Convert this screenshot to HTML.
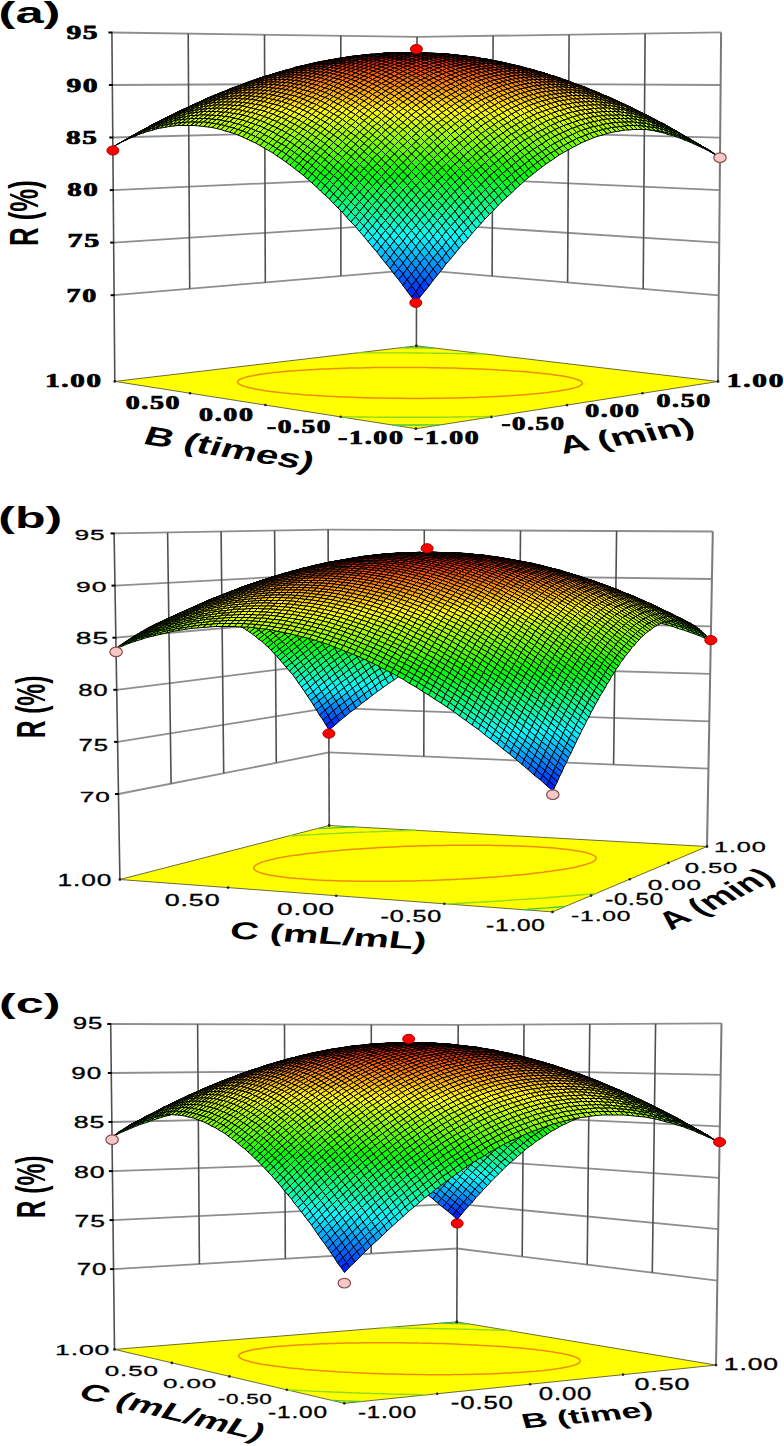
<!DOCTYPE html>
<html><head><meta charset="utf-8"><style>
html,body{margin:0;padding:0;background:#fff;}
svg{display:block;}
</style></head><body>
<svg width="784" height="1446" viewBox="0 0 784 1446">
<rect width="784" height="1446" fill="#fff"/>
<line x1="114.1" y1="295.2" x2="416.5" y2="269.6" stroke="#8e8e8e" stroke-width="1.8"/>
<line x1="416.5" y1="269.6" x2="718.8" y2="295.3" stroke="#8e8e8e" stroke-width="1.8"/>
<line x1="113.7" y1="242.6" x2="416.6" y2="223.1" stroke="#8e8e8e" stroke-width="1.8"/>
<line x1="416.6" y1="223.1" x2="719.2" y2="242.7" stroke="#8e8e8e" stroke-width="1.8"/>
<line x1="113.3" y1="190.1" x2="416.7" y2="176.5" stroke="#8e8e8e" stroke-width="1.8"/>
<line x1="416.7" y1="176.5" x2="719.7" y2="190.1" stroke="#8e8e8e" stroke-width="1.8"/>
<line x1="112.8" y1="137.5" x2="416.8" y2="130" stroke="#8e8e8e" stroke-width="1.8"/>
<line x1="416.8" y1="130" x2="720.2" y2="137.6" stroke="#8e8e8e" stroke-width="1.8"/>
<line x1="112.4" y1="85" x2="416.9" y2="83.4" stroke="#8e8e8e" stroke-width="1.8"/>
<line x1="416.9" y1="83.4" x2="720.7" y2="85" stroke="#8e8e8e" stroke-width="1.8"/>
<line x1="111.9" y1="32.5" x2="417" y2="36.9" stroke="#8e8e8e" stroke-width="1.8"/>
<line x1="417" y1="36.9" x2="721.1" y2="32.4" stroke="#8e8e8e" stroke-width="1.8"/>
<line x1="189.7" y1="288.8" x2="188.2" y2="33.6" stroke="#505050" stroke-width="1.6"/>
<line x1="643.2" y1="288.9" x2="645.1" y2="33.5" stroke="#505050" stroke-width="1.6"/>
<line x1="265.3" y1="282.4" x2="264.5" y2="34.7" stroke="#505050" stroke-width="1.6"/>
<line x1="567.6" y1="282.5" x2="569.1" y2="34.7" stroke="#505050" stroke-width="1.6"/>
<line x1="340.9" y1="276" x2="340.8" y2="35.8" stroke="#505050" stroke-width="1.6"/>
<line x1="492.1" y1="276" x2="493.1" y2="35.8" stroke="#505050" stroke-width="1.6"/>
<line x1="114.8" y1="381.4" x2="111.9" y2="32.5" stroke="#505050" stroke-width="1.6"/>
<line x1="416.4" y1="345.9" x2="417" y2="36.9" stroke="#505050" stroke-width="1.6"/>
<line x1="718" y1="381.5" x2="721.1" y2="32.4" stroke="#7a7a7a" stroke-width="2.0"/>
<line x1="110.6" y1="295.2" x2="114.6" y2="295.2" stroke="#000" stroke-width="2"/>
<line x1="110.2" y1="242.6" x2="114.2" y2="242.6" stroke="#000" stroke-width="2"/>
<line x1="109.8" y1="190.1" x2="113.8" y2="190.1" stroke="#000" stroke-width="2"/>
<line x1="109.3" y1="137.5" x2="113.3" y2="137.5" stroke="#000" stroke-width="2"/>
<line x1="108.9" y1="85" x2="112.9" y2="85" stroke="#000" stroke-width="2"/>
<line x1="108.4" y1="32.5" x2="112.4" y2="32.5" stroke="#000" stroke-width="2"/>
<polygon points="415.9,428.7 718,381.5 416.4,345.9 114.8,381.4" fill="#ffff00" stroke="#6b6b3a" stroke-width="1"/>
<path d="M440.2 424.9 440 424.9 434.2 424.9 433.9 424.9 428.3 424.9 427.7 424.9 422.4 425 421.5 425 416.5 425 415.4 425 410.6 425 409.3 425 404.6 425 403.2 425 398.6 425 397.2 425 392.5 425M433.7 348 429.5 348 427.1 347.9 424 347.9 420.6 347.9 418.3 347.9 414.1 347.8 412.6 347.8 407.8 347.8 406.9 347.8 401.5 347.7 401.1 347.7" stroke="#40c840" stroke-width="1.3" fill="none"/>
<path d="M494.6 416.4 494.3 416.4 488.9 416.5 487.8 416.5 483.4 416.6 481.1 416.6 477.9 416.7 474.5 416.8 472.4 416.8 467.9 416.9 466.8 416.9 461.4 417 461.2 417 455.6 417 454.9 417 449.9 417.1 448.5 417.1 444.1 417.2 442.2 417.2 438.3 417.2 435.9 417.2 432.5 417.2 429.6 417.3 426.7 417.3 423.4 417.3 420.8 417.3 417.3 417.3 414.8 417.3 411.2 417.3 408.8 417.3 405.2 417.3 402.8 417.3 399.2 417.3 396.7 417.3 393.2 417.3 390.5 417.3 387.3 417.2 384.4 417.2 381.5 417.2 378.1 417.2 375.7 417.1 371.8 417.1 369.9 417.1 365.5 417 364.2 417 359.1 417 358.5 417 352.8 416.9 352.6 416.9 347.2 416.8 346.1 416.8 341.6 416.7 339.5 416.6M484.9 354 481.3 354 477.3 353.9 476.3 353.8 471.2 353.7 469.8 353.7 466.1 353.6 462.5 353.6 460.9 353.6 455.7 353.5 455.3 353.5 450.4 353.4 448.3 353.4 445.1 353.3 441.4 353.3 439.7 353.2 434.6 353.2 434.3 353.2 428.8 353.1 428 353.1 423.2 353.1 421.4 353 417.6 353 415 353 411.8 353 408.7 353 406.1 352.9 402.4 352.9 400.2 352.9 396.3 352.9 394.3 352.9 390.2 352.9 388.2 352.9 384.2 352.9 382.1 352.9 378.3 352.9 375.9 352.9 372.5 352.9 369.6 352.9 366.7 352.9 363.2 352.9 361.1 352.9 356.8 352.9" stroke="#90dc10" stroke-width="1.4" fill="none"/>
<path d="M281.2 392.7 280.4 392.6 277 392.2 273.6 391.8 270.3 391.4 267.1 390.9 264 390.5 261.1 390 258.3 389.6 255.5 389.1 253 388.5 250.9 388.1 250.5 388 248.3 387.5 246.2 386.9 244.2 386.3 243.9 386.2 242.5 385.7 240.9 385.1 240.6 384.9 239.7 384.4 238.7 383.8 238.6 383.7 237.9 383 237.8 382.8 237.6 382.2 237.6 382 237.7 381.3 237.8 381.2 238.4 380.4 238.4 380.4 239.3 379.7 239.8 379.4 240.5 379.1 241.9 378.5 242.4 378.3 243.5 377.9 245.3 377.4 246.8 377 247.2 376.8 249.3 376.3 251.6 375.9 254 375.4 256.1 375 256.4 374.9 259.1 374.5 261.8 374.1 264.6 373.7 267.6 373.3 270.6 373 273.7 372.6 276.9 372.3 280.2 371.9 283.6 371.6 284 371.6 287.1 371.3 290.7 371 294.3 370.8 298.1 370.5 301.3 370.3 301.9 370.2 305.8 370 309.8 369.7 313.7 369.5 313.9 369.5 318 369.3 322.3 369.1 324.2 369 326.6 368.9 331 368.7 333.7 368.6 335.6 368.5 340.2 368.4 342.4 368.3 344.9 368.2 349.7 368.1 350.6 368.1 354.6 368 358.3 367.9 359.5 367.9 364.6 367.8 365.7 367.7 369.9 367.7 372.8 367.6 375.2 367.6 379.6 367.5 380.6 367.5 386.2 367.5 386.2 367.5 391.9 367.5 392.6 367.4 397.7 367.4 398.8 367.4 403.7 367.4 404.8 367.4 409.9 367.5 410.7 367.5 416.2 367.5 416.5 367.5 422.1 367.6 422.7 367.6 427.6 367.6 429.4 367.7 433 367.7 436.4 367.8 438.2 367.8 443.4 367.9 443.6 367.9 448.5 368 451.1 368.1 453.4 368.1 458.3 368.3 459 368.3 463.1 368.4 467.2 368.6 467.8 368.6 472.4 368.8 476 368.9 477 368.9 481.4 369.1 485.5 369.3 485.8 369.3 490.1 369.5 494.3 369.7 495.9 369.8 498.5 370 502.5 370.2 506.6 370.4 507.6 370.5 510.5 370.7 514.3 371 518.1 371.2 521.8 371.5 522.1 371.5 525.5 371.8 529 372.1 532.5 372.4 535.9 372.7 539.3 373.1 542.5 373.4 545.7 373.8 548.8 374.1 551.8 374.5 554.7 374.9 557.5 375.3 560.2 375.7 562.9 376.1 565.4 376.6 567.8 377 569.8 377.5 570 377.5 572.2 378 574.2 378.6 575.8 379 576 379.1 577.7 379.7 579.2 380.3 579.2 380.3 580.4 380.9 581 381.3 581.4 381.6 582.1 382.3 582.1 382.3 582.4 383.1 582.4 383.1 582.2 383.9 582.2 383.9 581.6 384.7 581.3 384.9 580.6 385.4 579.5 386 579.3 386.1 577.8 386.7 576 387.3 575.9 387.4 574.1 387.9 571.9 388.5 569.6 389 567.1 389.5 567.1 389.5 564.4 390 561.6 390.5 558.7 391 555.6 391.4 552.5 391.8 549.2 392.3 547.1 392.5 545.8 392.7 542.3 393 538.6 393.4 534.9 393.8 531.1 394.1 529.7 394.2 527.2 394.4 523.3 394.8 519.2 395.1 517.6 395.2 515 395.4 510.8 395.6 507.3 395.9 506.4 395.9 502 396.2 497.9 396.4 497.5 396.4 492.9 396.6 489.2 396.8 488.2 396.8 483.5 397 481 397.1 478.6 397.2 473.7 397.4 473.2 397.4 468.7 397.6 465.7 397.7 463.6 397.7 458.4 397.9 458.4 397.9 453.1 398 451.4 398 447.8 398.1 444.6 398.1 442.3 398.2 437.9 398.2 436.8 398.3 431.4 398.3 431.1 398.3 425.4 398.4 425.1 398.4 419.5 398.4 418.9 398.4 413.5 398.4 412.8 398.4 407.4 398.4 406.9 398.4 401.2 398.3 401.1 398.3 395.3 398.3 394.8 398.3 389.7 398.2 388.3 398.2 384.2 398.1 381.6 398.1 378.7 398 374.7 398 373.4 397.9 368.1 397.8 367.7 397.8 363 397.7 360.4 397.6 357.9 397.5 352.9 397.3 352.9 397.3 348 397.1 345 397 343.1 397 338.4 396.7 336.7 396.7 333.7 396.5 329.1 396.3 328 396.2 324.6 396.1 320.2 395.8 318.7 395.7 315.8 395.5 311.6 395.3 308.4 395 307.4 395 303.3 394.7 299.2 394.3 296.6 394.1 295.3 394 291.5 393.7 287.7 393.3 284 393 281.2 392.7" stroke="#f08c00" stroke-width="1.5" fill="none"/>
<circle cx="491.4" cy="416.9" r="1.3" fill="#222"/>
<circle cx="340.7" cy="416.8" r="1.3" fill="#222"/>
<circle cx="567" cy="405.1" r="1.3" fill="#222"/>
<circle cx="265.4" cy="405" r="1.3" fill="#222"/>
<circle cx="642.5" cy="393.3" r="1.3" fill="#222"/>
<circle cx="190.1" cy="393.2" r="1.3" fill="#222"/>
<circle cx="415.9" cy="428.7" r="1.4" fill="#222"/>
<circle cx="718" cy="381.5" r="1.4" fill="#222"/>
<circle cx="416.4" cy="345.9" r="1.4" fill="#222"/>
<circle cx="114.8" cy="381.4" r="1.4" fill="#222"/>
<g transform="scale(0.5 0.5)" stroke="#000" stroke-width="2" stroke-opacity="1" stroke-linejoin="round">
<path d="M1302 254l8 8-8-2-9-7z" fill="#86ff00"/>
<path d="M1293 253l9 7-9-1-9-8z" fill="#8cff00"/>
<path d="M1319 259l9 7-9-2-9-7z" fill="#80ff00"/>
<path d="M1310 257l9 7-9-2-8-8z" fill="#86ff00"/>
<path d="M1345 267l9 7-9-3-9-7z" fill="#6cff00"/>
<path d="M1336 264l9 7-9-2-8-8z" fill="#73ff00"/>
<path d="M1328 261l8 8-8-3-9-7z" fill="#79ff00"/>
<path d="M1362 274l9 7-9-4-8-7z" fill="#60ff00"/>
<path d="M1354 270l8 7-8-3-9-7z" fill="#66ff00"/>
<path d="M1380 281l8 7-8-4-9-6z" fill="#53ff00"/>
<path d="M1371 278l9 6-9-3-9-7z" fill="#59ff00"/>
<path d="M1406 294l8 6-8-4-9-6z" fill="#33ff00"/>
<path d="M1397 290l9 6-9-4-9-7z" fill="#40ff00"/>
<path d="M1388 285l9 7-9-4-8-7z" fill="#46ff00"/>
<path d="M1380 279l8 6-8-4-9-6z" fill="#59ff00"/>
<path d="M1371 275l9 6-9-3-9-7z" fill="#60ff00"/>
<path d="M1362 271l9 7-9-4-8-7z" fill="#66ff00"/>
<path d="M1423 304l8 6-8-5-9-6z" fill="#20ff00"/>
<path d="M1414 299l9 6-9-5-8-6z" fill="#2dff00"/>
<path d="M1397 288l9 6-9-4-9-6z" fill="#46ff00"/>
<path d="M1388 284l9 6-9-5-8-6z" fill="#4cff00"/>
<path d="M1431 309l9 6-9-5-8-6z" fill="#13ff00"/>
<path d="M1423 303l8 6-8-5-9-6z" fill="#26ff00"/>
<path d="M1414 298l9 6-9-5-9-6z" fill="#2dff00"/>
<path d="M1405 293l9 6-8-5-9-6z" fill="#39ff00"/>
<path d="M234 289l9-5-9 5-8 5z" fill="#46ff00"/>
<path d="M252 279l8-5-8 5-9 5z" fill="#60ff00"/>
<path d="M260 274l9-5-9 5-8 5z" fill="#66ff00"/>
<path d="M278 264l8-4-8 4-9 5z" fill="#80ff00"/>
<path d="M303 250l9-4-8 4-9 5z" fill="#9fff00"/>
<path d="M329 237l9-4-9 4-8 4z" fill="#bfff00"/>
<path d="M1414 298l9 5-9-5-9-5z" fill="#33ff00"/>
<path d="M243 284l9-5-9 5-9 5z" fill="#53ff00"/>
<path d="M260 275l9-5-9 4-8 5z" fill="#66ff00"/>
<path d="M269 270l9-6-9 5-9 5z" fill="#73ff00"/>
<path d="M286 260l9-5-9 5-8 4z" fill="#8cff00"/>
<path d="M295 255l8-5-8 5-9 5z" fill="#93ff00"/>
<path d="M312 246l9-5-9 5-9 4z" fill="#acff00"/>
<path d="M338 233l9-5-9 5-9 4z" fill="#ccff00"/>
<path d="M355 224l9-4-9 4-8 4z" fill="#dfff00"/>
<path d="M1405 293l9 5-9-5-8-5z" fill="#40ff00"/>
<path d="M1397 288l8 5-8-5-9-5z" fill="#4cff00"/>
<path d="M1388 283l9 5-9-5-8-5z" fill="#59ff00"/>
<path d="M252 280l8-5-8 4-9 5z" fill="#60ff00"/>
<path d="M1380 278l8 5-8-5-9-5zM260 276l9-5-9 4-8 5z" fill="#66ff00"/>
<path d="M269 271l9-6-9 5-9 5z" fill="#73ff00"/>
<path d="M1362 268l9 5-9-5-8-5z" fill="#79ff00"/>
<path d="M278 265l8-5-8 4-9 6z" fill="#80ff00"/>
<path d="M1354 263l8 5-8-5-9-5z" fill="#86ff00"/>
<path d="M286 261l9-5-9 4-8 5z" fill="#8cff00"/>
<path d="M295 256l8-5-8 4-9 5z" fill="#99ff00"/>
<path d="M303 251l9-5-9 4-8 5zM1336 253l9 5-9-5-8-5z" fill="#9fff00"/>
<path d="M1328 248l8 5-8-4-9-5z" fill="#a6ff00"/>
<path d="M312 247l9-5-9 4-9 5z" fill="#acff00"/>
<path d="M321 242l8-5-8 4-9 5z" fill="#b9ff00"/>
<path d="M329 237l9-4-9 4-8 4z" fill="#bfff00"/>
<path d="M338 233l9-4-9 4-9 4z" fill="#ccff00"/>
<path d="M347 229l8-5-8 4-9 5z" fill="#d9ff00"/>
<path d="M364 220l9-4-9 4-9 4z" fill="#ecff00"/>
<path d="M373 216l8-4-8 4-9 4z" fill="#f2ff00"/>
<path d="M433 189l9-4-9 4-8 3z" fill="#ffcc00"/>
<path d="M416 196l9-4-9 4-9 4z" fill="#ffdf00"/>
<path d="M407 200l9-4-9 4-8 4z" fill="#ffe500"/>
<path d="M399 204l8-4-8 4-9 4z" fill="#ffec00"/>
<path d="M390 208l9-4-9 4-9 4z" fill="#fff900"/>
<path d="M1397 289l8 4-8-5-9-5z" fill="#4cff00"/>
<path d="M1379 279l9 4-8-5-9-5z" fill="#66ff00"/>
<path d="M1371 273l9 5-9-5-9-5zM269 273l9-6-9 4-9 5z" fill="#73ff00"/>
<path d="M278 267l8-6-8 4-9 6z" fill="#80ff00"/>
<path d="M1354 264l8 4-8-5-9-5z" fill="#86ff00"/>
<path d="M1345 258l9 5-9-5-9-5zM295 258l8-6-8 4-9 5z" fill="#93ff00"/>
<path d="M303 252l9-5-9 4-8 5z" fill="#9fff00"/>
<path d="M1328 249l8 4-8-5-9-4z" fill="#a6ff00"/>
<path d="M312 249l9-5-9 3-9 5z" fill="#acff00"/>
<path d="M1319 244l9 4-9-4-9-5zM321 244l8-6-8 4-9 5z" fill="#b3ff00"/>
<path d="M329 238l9-5-9 4-8 5z" fill="#bfff00"/>
<path d="M1302 235l8 4-8-4-9-5zM338 235l9-5-9 3-9 5z" fill="#ccff00"/>
<path d="M1293 230l9 5-9-5-9-4zM347 230l8-5-8 4-9 4z" fill="#d2ff00"/>
<path d="M355 225l9-5-9 4-8 5z" fill="#dfff00"/>
<path d="M364 222l9-5-9 3-9 5z" fill="#ecff00"/>
<path d="M1267 217l9 5-9-4-9-5zM373 217l8-5-8 4-9 4z" fill="#f2ff00"/>
<path d="M546 148l9-3-9 3-9 3z" fill="#ff6600"/>
<path d="M529 153l8-2-8 2-9 3z" fill="#ff7300"/>
<path d="M503 162l8-3-8 3-9 3z" fill="#ff8c00"/>
<path d="M485 169l9-4-9 3-8 4z" fill="#ff9900"/>
<path d="M468 175l9-3-9 3-9 3z" fill="#ffa600"/>
<path d="M459 179l9-4-9 3-8 4z" fill="#ffb300"/>
<path d="M451 182l8-4-8 4-9 3z" fill="#ffb900"/>
<path d="M442 186l9-4-9 3-9 4z" fill="#ffbf00"/>
<path d="M425 193l8-4-8 3-9 4z" fill="#ffd200"/>
<path d="M416 197l9-4-9 3-9 4z" fill="#ffd900"/>
<path d="M1232 201l9 4-9-4-8-4z" fill="#ffe500"/>
<path d="M399 205l8-5-8 4-9 4z" fill="#ffec00"/>
<path d="M390 209l9-4-9 3-9 4z" fill="#fff900"/>
<path d="M381 212l9-4-9 4-8 4zM1258 213l9 4-9-4-8-4z" fill="#ffff00"/>
<path d="M1388 285l9 4-9-6-9-4z" fill="#59ff00"/>
<path d="M1379 281l9 4-9-6-8-4z" fill="#60ff00"/>
<path d="M1371 275l8 4-8-6-9-4z" fill="#6cff00"/>
<path d="M1362 269l9 4-9-5-8-4zM277 269l9-6-8 4-9 6z" fill="#79ff00"/>
<path d="M286 263l9-5-9 3-8 6zM1354 265l8 4-8-5-9-4z" fill="#86ff00"/>
<path d="M1345 260l9 4-9-6-9-4zM295 260l8-6-8 4-9 5z" fill="#93ff00"/>
<path d="M1336 254l9 4-9-5-8-4zM303 254l9-5-9 3-8 6z" fill="#9fff00"/>
<path d="M1328 250l8 4-8-5-9-4z" fill="#a6ff00"/>
<path d="M1319 245l9 4-9-5-9-4zM321 246l8-6-8 4-9 5z" fill="#b3ff00"/>
<path d="M1310 240l9 4-9-5-8-4zM329 240l9-5-9 3-8 6z" fill="#bfff00"/>
<path d="M1302 236l8 4-8-5-9-4z" fill="#c6ff00"/>
<path d="M1293 231l9 4-9-5-9-4zM347 232l8-5-8 3-9 5z" fill="#d2ff00"/>
<path d="M1284 226l9 4-9-4-8-4zM355 227l9-5-9 3-8 5z" fill="#dfff00"/>
<path d="M1276 223l8 3-8-4-9-4z" fill="#e5ff00"/>
<path d="M1267 218l9 4-9-5-9-4zM373 219l8-5-8 3-9 5z" fill="#f2ff00"/>
<path d="M633 125l9-2-9 2-9 2z" fill="#ff3300"/>
<path d="M616 129l8-2-8 2-9 2z" fill="#ff3900"/>
<path d="M598 133l9-2-9 2-9 2z" fill="#ff4600"/>
<path d="M572 141l9-3-9 2-9 3z" fill="#ff5300"/>
<path d="M563 143l9-3-9 3-8 2z" fill="#ff5900"/>
<path d="M555 146l8-3-8 2-9 3z" fill="#ff6000"/>
<path d="M1094 148l8 3-8-3-9-3z" fill="#ff6600"/>
<path d="M537 151l9-3-9 3-8 2z" fill="#ff6c00"/>
<path d="M1111 153l9 3-9-2-9-3zM529 154l8-3-8 2-9 3z" fill="#ff7300"/>
<path d="M520 156l9-3-9 3-9 3z" fill="#ff7900"/>
<path d="M511 160l9-4-9 3-8 3z" fill="#ff8600"/>
<path d="M1137 162l9 4-9-3-9-4z" fill="#ff8c00"/>
<path d="M494 166l9-4-9 3-9 4z" fill="#ff9300"/>
<path d="M485 170l9-4-9 3-8 3z" fill="#ff9900"/>
<path d="M477 172l8-3-8 3-9 3zM1163 172l9 3-9-3-9-3z" fill="#ff9f00"/>
<path d="M468 176l9-4-9 3-9 4z" fill="#ffa600"/>
<path d="M1180 179l9 3-9-3-8-4z" fill="#ffb300"/>
<path d="M451 183l8-4-8 3-9 4z" fill="#ffb900"/>
<path d="M1198 186l8 4-8-4-9-4zM442 187l9-4-9 3-9 4z" fill="#ffbf00"/>
<path d="M433 190l9-4-9 3-8 4zM1206 190l9 3-9-3-8-4z" fill="#ffcc00"/>
<path d="M1215 193l9 4-9-4-9-3zM425 194l8-4-8 3-9 4z" fill="#ffd200"/>
<path d="M1224 198l8 3-8-4-9-4zM416 198l9-4-9 3-9 4z" fill="#ffdf00"/>
<path d="M407 201l9-4-9 3-8 5zM1232 202l9 3-9-4-8-3z" fill="#ffe500"/>
<path d="M1241 205l9 4-9-4-9-4z" fill="#ffec00"/>
<path d="M399 206l8-5-8 4-9 4z" fill="#fff200"/>
<path d="M1250 210l8 3-8-4-9-4zM390 211l9-5-9 3-9 5z" fill="#fff900"/>
<path d="M381 214l9-5-9 3-8 5z" fill="#ffff00"/>
<path d="M1371 277l8 4-8-6-9-4z" fill="#6cff00"/>
<path d="M1362 271l9 4-9-6-8-4z" fill="#79ff00"/>
<path d="M286 266l9-6-9 3-9 6z" fill="#86ff00"/>
<path d="M295 263l8-6-8 3-9 6z" fill="#8cff00"/>
<path d="M1345 262l9 3-9-5-9-4z" fill="#93ff00"/>
<path d="M1336 256l9 4-9-6-8-4zM303 257l9-6-9 3-8 6z" fill="#99ff00"/>
<path d="M312 251l9-5-9 3-9 5z" fill="#a6ff00"/>
<path d="M321 249l8-6-8 3-9 5z" fill="#acff00"/>
<path d="M1319 247l9 3-9-5-9-4z" fill="#b3ff00"/>
<path d="M329 243l9-6-9 3-8 6z" fill="#b9ff00"/>
<path d="M1310 241l9 4-9-5-8-4z" fill="#bfff00"/>
<path d="M338 237l9-5-9 3-9 5z" fill="#c6ff00"/>
<path d="M347 235l8-6-8 3-9 5z" fill="#ccff00"/>
<path d="M1293 233l9 3-9-5-9-3z" fill="#d2ff00"/>
<path d="M355 229l9-5-9 3-8 5z" fill="#d9ff00"/>
<path d="M1284 228l9 3-9-5-8-3z" fill="#dfff00"/>
<path d="M364 224l9-5-9 3-9 5zM1276 224l8 4-8-5-9-4z" fill="#e5ff00"/>
<path d="M373 221l8-5-8 3-9 5z" fill="#ecff00"/>
<path d="M1267 219l9 4-9-5-9-4z" fill="#f2ff00"/>
<path d="M1258 214l9 4-9-5-8-3zM381 216l9-5-9 3-8 5z" fill="#f9ff00"/>
<path d="M789 106l9-1-9 1-8 0z" fill="#ff0000"/>
<path d="M894 108l8 1-8-1-9-1zM772 106l9 0-9 0-9 1z" fill="#ff0600"/>
<path d="M720 111l9-1-9 1-9 1zM737 109l9-1-9 1-8 1zM911 110l9 1-9-1-9-1z" fill="#ff0d00"/>
<path d="M702 113l9-1-9 1-8 1zM946 114l9 1-9-1-9-1zM929 112l8 1-8-1-9-1z" fill="#ff1300"/>
<path d="M685 116l9-2-9 2-9 1zM963 117l9 1-9-1-8-2zM694 115l8-2-8 1-9 2zM955 116l8 1-8-2-9-1z" fill="#ff1a00"/>
<path d="M668 119l8-2-8 1-9 2zM676 117l9-1-9 1-8 2zM972 118l9 2-9-2-9-1z" fill="#ff2000"/>
<path d="M650 122l9-2-9 2-8 1zM659 120l9-1-9 1-9 2zM989 122l9 1-9-2-8-1z" fill="#ff2600"/>
<path d="M642 124l8-2-8 1-9 2z" fill="#ff2d00"/>
<path d="M624 128l9-3-9 2-8 2zM1007 125l8 2-8-2-9-2z" fill="#ff3300"/>
<path d="M615 130l9-2-8 1-9 3z" fill="#ff3900"/>
<path d="M607 132l9-3-9 2-9 2zM1033 131l9 2-9-2-9-2z" fill="#ff4000"/>
<path d="M598 134l9-2-9 1-9 3zM1050 136l9 2-9-3-8-2z" fill="#ff4600"/>
<path d="M589 136l9-3-9 2-8 3z" fill="#ff4c00"/>
<path d="M581 139l8-3-8 2-9 3zM1068 140l8 3-8-3-9-2z" fill="#ff5300"/>
<path d="M563 143l9-2-9 2-8 3z" fill="#ff5900"/>
<path d="M1085 145l9 3-9-3-9-2zM555 147l8-4-8 3-9 3z" fill="#ff6000"/>
<path d="M546 149l9-3-9 2-9 3zM1094 148l8 3-8-3-9-3z" fill="#ff6600"/>
<path d="M1102 151l9 2-9-2-8-3zM537 152l9-3-9 2-8 3z" fill="#ff6c00"/>
<path d="M1111 154l9 2-9-3-9-2z" fill="#ff7300"/>
<path d="M520 157l9-3-9 2-9 4z" fill="#ff7900"/>
<path d="M1128 160l9 2-9-3-8-3z" fill="#ff8000"/>
<path d="M511 161l9-4-9 3-8 3z" fill="#ff8600"/>
<path d="M503 163l8-3-8 2-9 4zM1137 163l9 3-9-4-9-2z" fill="#ff8c00"/>
<path d="M1146 166l8 3-8-3-9-4zM494 167l9-4-9 3-9 4z" fill="#ff9300"/>
<path d="M1154 169l9 3-9-3-8-3z" fill="#ff9900"/>
<path d="M477 173l8-3-8 2-9 4z" fill="#ff9f00"/>
<path d="M1172 176l8 3-8-4-9-3z" fill="#ffa600"/>
<path d="M468 178l9-5-9 3-9 4z" fill="#ffac00"/>
<path d="M459 180l9-4-9 3-8 4zM1180 180l9 3-9-4-8-3z" fill="#ffb300"/>
<path d="M1189 183l9 3-9-4-9-3zM451 184l8-4-8 3-9 4z" fill="#ffb900"/>
<path d="M1198 187l8 3-8-4-9-3z" fill="#ffbf00"/>
<path d="M442 189l9-5-9 3-9 4z" fill="#ffc600"/>
<path d="M433 191l9-4-9 3-8 4z" fill="#ffcc00"/>
<path d="M1215 194l9 4-9-5-9-3z" fill="#ffd200"/>
<path d="M425 196l8-5-8 3-9 4z" fill="#ffd900"/>
<path d="M1224 199l8 3-8-4-9-4z" fill="#ffdf00"/>
<path d="M407 203l9-5-9 3-8 5z" fill="#ffe500"/>
<path d="M1241 206l9 4-9-5-9-3zM399 208l8-5-8 3-9 5z" fill="#fff200"/>
<path d="M1250 211l8 3-8-4-9-4z" fill="#fff900"/>
<path d="M1362 274l9 3-9-6-9-3z" fill="#73ff00"/>
<path d="M1353 268l9 3-8-6-9-3z" fill="#86ff00"/>
<path d="M1345 265l8 3-8-6-9-4z" fill="#8cff00"/>
<path d="M303 261l9-6-9 2-8 6z" fill="#93ff00"/>
<path d="M1336 258l9 4-9-6-8-3z" fill="#99ff00"/>
<path d="M312 255l9-6-9 2-9 6z" fill="#9fff00"/>
<path d="M1328 253l8 3-8-6-9-3z" fill="#a6ff00"/>
<path d="M1319 250l9 3-9-6-9-3z" fill="#acff00"/>
<path d="M1310 244l9 3-9-6-8-3zM329 246l9-6-9 3-8 6z" fill="#b9ff00"/>
<path d="M1302 238l8 3-8-5-9-3zM338 240l9-5-9 2-9 6z" fill="#c6ff00"/>
<path d="M1293 235l9 3-9-5-9-3z" fill="#ccff00"/>
<path d="M1284 230l9 3-9-5-8-4zM355 232l9-6-9 3-8 6z" fill="#d9ff00"/>
<path d="M364 226l9-5-9 3-9 5z" fill="#e5ff00"/>
<path d="M1267 221l9 3-9-5-9-3zM373 224l8-5-8 2-9 5z" fill="#ecff00"/>
<path d="M381 219l9-6-9 3-8 5z" fill="#f2ff00"/>
<path d="M1258 216l9 3-9-5-8-3z" fill="#f9ff00"/>
<path d="M781 106l8 0-8 0-9 0zM868 107l8 0-8-1-9 0zM798 106l9-1-9 0-9 1zM850 106l9 0-9-1-8 0zM833 105l9 0-9 0-9 0zM789 106l9 0-9 0-8 0zM859 107l9 0-9-1-9 0zM807 106l8-1-8 0-9 1zM842 106l8 0-8-1-9 0zM824 106l9-1-9 0-9 0z" fill="#ff0000"/>
<path d="M746 109l9-1-9 0-9 1zM902 109l9 1-9-1-8-1zM763 107l9-1-9 1-8 1zM885 108l9 0-9-1-9 0zM755 108l8-1-8 1-9 1zM894 109l8 0-8-1-9 0zM772 107l9-1-9 0-9 1zM876 107l9 1-9-1-8 0z" fill="#ff0600"/>
<path d="M728 110l9-1-8 1-9 1zM920 111l9 1-9-1-9-1zM720 112l8-2-8 1-9 1zM737 110l9-1-9 0-9 1zM911 110l9 1-9-1-9-1z" fill="#ff0d00"/>
<path d="M711 112l9-1-9 1-9 1zM937 113l9 1-9-1-8-1zM702 114l9-2-9 1-8 2zM946 115l9 1-9-2-9-1zM929 112l8 1-8-1-9-1z" fill="#ff1300"/>
<path d="M685 117l9-2-9 1-9 1zM963 117l9 1-9-1-8-1z" fill="#ff1a00"/>
<path d="M668 119l8-2-8 2-9 1zM676 119l9-2-9 0-8 2z" fill="#ff2000"/>
<path d="M650 123l9-3-9 2-8 2zM981 120l8 2-8-2-9-2zM659 122l9-3-9 1-9 3zM989 122l9 2-9-2-8-2z" fill="#ff2600"/>
<path d="M998 124l9 1-9-2-9-1zM642 125l8-2-8 1-9 2z" fill="#ff2d00"/>
<path d="M633 126l9-2-9 1-9 3zM1015 127l9 2-9-2-8-2zM1007 126l8 1-8-2-9-1z" fill="#ff3300"/>
<path d="M624 129l9-3-9 2-9 2zM1024 130l9 1-9-2-9-2z" fill="#ff3900"/>
<path d="M607 133l8-3-8 2-9 2z" fill="#ff4000"/>
<path d="M1042 134l8 2-8-3-9-2zM598 136l9-3-9 1-9 3z" fill="#ff4600"/>
<path d="M589 137l9-3-9 2-8 3zM1059 138l9 2-9-2-9-2zM1050 137l9 1-9-2-8-2z" fill="#ff4c00"/>
<path d="M581 140l8-3-8 2-9 3zM1068 141l8 2-8-3-9-2z" fill="#ff5300"/>
<path d="M572 142l9-3-9 2-9 2zM1076 143l9 2-9-2-8-3z" fill="#ff5900"/>
<path d="M563 145l9-3-9 1-8 4zM1085 146l9 2-9-3-9-2z" fill="#ff6000"/>
<path d="M555 149l8-4-8 2-9 3z" fill="#ff6600"/>
<path d="M546 150l9-3-9 2-9 3zM1102 152l9 2-9-3-8-3z" fill="#ff6c00"/>
<path d="M537 154l9-4-9 2-8 3zM1111 155l9 2-9-3-9-2z" fill="#ff7300"/>
<path d="M529 155l8-3-8 2-9 3zM1120 157l8 3-8-4-9-2z" fill="#ff7900"/>
<path d="M520 159l9-4-9 2-9 4z" fill="#ff8000"/>
<path d="M1128 161l9 2-9-3-8-3zM511 163l9-4-9 2-8 4z" fill="#ff8600"/>
<path d="M503 165l8-4-8 2-9 4z" fill="#ff8c00"/>
<path d="M1146 167l8 2-8-3-9-3z" fill="#ff9300"/>
<path d="M485 171l9-4-9 3-8 3zM494 169l9-4-9 2-9 4zM1154 171l9 2-9-4-8-2z" fill="#ff9900"/>
<path d="M1163 173l9 3-9-4-9-3z" fill="#ff9f00"/>
<path d="M477 176l8-5-8 2-9 5z" fill="#ffa600"/>
<path d="M1172 177l8 3-8-4-9-3zM468 180l9-4-9 2-9 4z" fill="#ffac00"/>
<path d="M459 182l9-4-9 2-8 4z" fill="#ffb300"/>
<path d="M1189 184l9 3-9-4-9-3z" fill="#ffb900"/>
<path d="M451 187l8-5-8 2-9 5z" fill="#ffbf00"/>
<path d="M1198 189l8 2-8-4-9-3z" fill="#ffc600"/>
<path d="M1206 191l9 3-9-4-8-3zM433 194l9-5-9 2-8 5z" fill="#ffcc00"/>
<path d="M1215 196l9 3-9-5-9-3z" fill="#ffd200"/>
<path d="M425 199l8-5-8 2-9 5z" fill="#ffd900"/>
<path d="M416 201l9-5-9 2-9 5zM1224 201l8 2-8-4-9-3z" fill="#ffdf00"/>
<path d="M1232 203l9 3-9-4-8-3z" fill="#ffe500"/>
<path d="M407 206l9-5-9 2-8 5z" fill="#ffec00"/>
<path d="M1241 208l9 3-9-5-9-3z" fill="#fff200"/>
<path d="M399 211l8-5-8 2-9 5z" fill="#fff900"/>
<path d="M390 213l9-5-9 3-9 5z" fill="#ffff00"/>
<path d="M1353 271l9 3-9-6-8-3z" fill="#80ff00"/>
<path d="M1345 268l8 3-8-6-9-3z" fill="#86ff00"/>
<path d="M1336 262l9 3-9-7-8-2z" fill="#93ff00"/>
<path d="M312 258l9-6-9 3-9 6z" fill="#99ff00"/>
<path d="M1328 256l8 2-8-5-9-3z" fill="#9fff00"/>
<path d="M321 252l8-6-8 3-9 6zM1319 253l9 3-9-6-9-3z" fill="#a6ff00"/>
<path d="M329 250l9-6-9 2-8 6z" fill="#acff00"/>
<path d="M1310 247l9 3-9-6-8-3z" fill="#b9ff00"/>
<path d="M338 244l9-6-9 2-9 6z" fill="#bfff00"/>
<path d="M1302 241l8 3-8-6-9-3z" fill="#c6ff00"/>
<path d="M347 238l8-6-8 3-9 5zM1293 238l9 3-9-6-9-3z" fill="#ccff00"/>
<path d="M355 236l9-6-9 2-8 6z" fill="#d2ff00"/>
<path d="M1284 232l9 3-9-5-8-3z" fill="#d9ff00"/>
<path d="M364 230l9-6-9 2-9 6z" fill="#dfff00"/>
<path d="M1276 227l8 3-8-6-9-3z" fill="#e5ff00"/>
<path d="M1267 224l9 3-9-6-9-2z" fill="#ecff00"/>
<path d="M381 222l9-6-9 3-8 5z" fill="#f2ff00"/>
<path d="M390 216l9-5-9 2-9 6zM1258 219l9 2-9-5-8-3z" fill="#f9ff00"/>
<path d="M798 107l9-1-9 0-9 0zM850 107l9 0-9-1-8 0zM815 107l9-1-9-1-8 1zM833 107l9-1-9-1-9 1z" fill="#ff0000"/>
<path d="M763 109l9-2-9 0-8 1zM885 109l9 0-9-1-9-1zM781 108l8-2-8 0-9 1zM868 108l8-1-8 0-9 0zM755 110l8-1-8-1-9 2zM772 109l9-1-9-1-9 2z" fill="#ff0600"/>
<path d="M728 112l9-2-9 0-8 2zM920 112l9 0-9-1-9-1zM746 110l9-2-9 1-9 1zM902 110l9 0-9-1-8 0zM737 112l9-2-9 0-9 2zM911 112l9 0-9-2-9 0zM894 110l8 0-8-1-9 0z" fill="#ff0d00"/>
<path d="M711 114l9-2-9 0-9 2zM937 114l9 1-9-2-8-1zM720 114l8-2-8 0-9 2zM928 114l9 0-8-2-9 0z" fill="#ff1300"/>
<path d="M694 116l8-2-8 1-9 2zM955 117l8 0-8-1-9-1zM702 116l9-2-9 0-8 2zM946 116l9 1-9-2-9-1z" fill="#ff1a00"/>
<path d="M972 119l9 1-9-2-9-1zM685 118l9-2-9 1-9 2zM963 119l9 0-9-2-8 0z" fill="#ff2000"/>
<path d="M668 121l8-2-8 0-9 3zM981 122l8 0-8-2-9-1zM659 124l9-3-9 1-9 2z" fill="#ff2600"/>
<path d="M650 124l9-2-9 1-8 2zM998 125l9 1-9-2-9-2z" fill="#ff2d00"/>
<path d="M633 128l9-3-9 1-9 3zM1015 129l9 1-9-3-8-1zM641 127l9-3-8 1-9 3zM1007 128l8 1-8-3-9-1z" fill="#ff3300"/>
<path d="M624 131l9-3-9 1-9 3zM1024 131l9 2-9-3-9-1z" fill="#ff3900"/>
<path d="M615 132l9-3-9 1-8 3zM1033 133l9 1-9-3-9-1z" fill="#ff4000"/>
<path d="M607 135l8-3-8 1-9 3zM1041 136l9 1-8-3-9-1z" fill="#ff4600"/>
<path d="M589 139l9-3-9 1-8 3z" fill="#ff4c00"/>
<path d="M1059 140l9 1-9-3-9-1zM581 143l8-4-8 1-9 4z" fill="#ff5300"/>
<path d="M572 144l9-4-9 2-9 3zM1076 145l9 1-9-3-8-2zM1068 143l8 2-8-4-9-1z" fill="#ff5900"/>
<path d="M563 147l9-3-9 1-8 4z" fill="#ff6000"/>
<path d="M1094 150l8 2-8-4-9-2zM1085 148l9 2-9-4-9-1z" fill="#ff6600"/>
<path d="M546 152l9-3-9 1-9 4z" fill="#ff6c00"/>
<path d="M1102 153l9 2-9-3-8-2zM537 156l9-4-9 2-8 4z" fill="#ff7300"/>
<path d="M529 158l8-4-8 1-9 4zM1111 157l9 2-9-4-9-2z" fill="#ff7900"/>
<path d="M1120 159l8 2-8-4-9-2z" fill="#ff8000"/>
<path d="M520 162l9-4-9 1-9 4zM1128 163l9 2-9-4-8-2z" fill="#ff8600"/>
<path d="M1137 165l9 2-9-4-9-2z" fill="#ff8c00"/>
<path d="M503 168l8-5-8 2-9 4zM1146 169l8 2-8-4-9-2z" fill="#ff9300"/>
<path d="M494 172l9-4-9 1-9 5z" fill="#ff9900"/>
<path d="M485 174l9-5-9 2-8 5zM1154 173l9 2-9-4-8-2z" fill="#ff9f00"/>
<path d="M1163 175l9 2-9-4-9-2z" fill="#ffa600"/>
<path d="M477 178l8-4-8 2-9 4zM1172 180l8 2-8-5-9-2z" fill="#ffac00"/>
<path d="M1180 182l9 2-9-4-8-3z" fill="#ffb300"/>
<path d="M459 185l9-5-9 2-8 5z" fill="#ffb900"/>
<path d="M1189 186l9 3-9-5-9-2z" fill="#ffbf00"/>
<path d="M450 190l9-5-8 2-9 5zM1198 191l8 2-8-4-9-3z" fill="#ffc600"/>
<path d="M442 192l9-5-9 2-9 5zM1206 193l9 3-9-5-8-2z" fill="#ffcc00"/>
<path d="M433 197l9-5-9 2-8 5z" fill="#ffd200"/>
<path d="M1215 198l9 3-9-5-9-3z" fill="#ffd900"/>
<path d="M424 202l9-5-8 2-9 5z" fill="#ffdf00"/>
<path d="M416 204l9-5-9 2-9 5z" fill="#ffe500"/>
<path d="M1232 206l9 2-9-5-8-2z" fill="#ffec00"/>
<path d="M407 209l9-5-9 2-8 5zM1241 211l9 2-9-5-9-2z" fill="#fff200"/>
<path d="M1250 213l8 3-8-5-9-3zM399 215l8-6-8 2-9 5z" fill="#ffff00"/>
<path d="M1336 266l9 2-9-6-9-3z" fill="#8cff00"/>
<path d="M1327 259l9 3-8-6-9-3z" fill="#99ff00"/>
<path d="M321 256l8-6-8 2-9 6z" fill="#9fff00"/>
<path d="M329 255l9-7-9 2-8 6z" fill="#a6ff00"/>
<path d="M338 248l9-6-9 2-9 6zM1310 251l9 2-9-6-8-3z" fill="#b3ff00"/>
<path d="M1302 244l8 3-8-6-9-3z" fill="#bfff00"/>
<path d="M347 242l8-6-8 2-9 6zM355 240l9-6-9 2-8 6z" fill="#c6ff00"/>
<path d="M364 234l9-6-9 2-9 6zM1284 236l9 2-9-6-8-2z" fill="#d2ff00"/>
<path d="M1276 230l8 2-8-5-9-3z" fill="#dfff00"/>
<path d="M373 228l8-6-8 2-9 6zM381 226l9-6-9 2-8 6zM1267 228l9 2-9-6-9-2z" fill="#e5ff00"/>
<path d="M390 220l9-5-9 1-9 6zM1258 222l9 2-9-5-8-2z" fill="#f2ff00"/>
<path d="M824 107l9 0-9-1-9 1z" fill="#ff0000"/>
<path d="M876 109l9 0-9-2-8 1zM789 108l9-1-9-1-8 2zM859 108l9 0-9-1-9 0zM807 108l8-1-8-1-9 1zM841 108l9-1-8-1-9 1zM781 110l8-2-8 0-9 1zM868 110l8-1-8-1-9 0zM798 109l9-1-9-1-9 1zM850 109l9-1-9-1-9 1zM815 109l9-2-9 0-8 1zM833 109l8-1-8-1-9 0z" fill="#ff0600"/>
<path d="M746 112l9-2-9 0-9 2zM902 112l9 0-9-2-8 0zM763 111l9-2-9 0-8 1zM885 111l9-1-9-1-9 0z" fill="#ff0d00"/>
<path d="M711 116l9-2-9 0-9 2zM728 114l9-2-9 0-8 2zM920 114l8 0-8-2-9 0zM720 116l8-2-8 0-9 2z" fill="#ff1300"/>
<path d="M694 118l8-2-8 0-9 2zM955 118l8 1-8-2-9-1zM937 116l9 0-9-2-9 0zM702 118l9-2-9 0-8 2zM946 118l9 0-9-2-9 0zM928 116l9 0-9-2-8 0z" fill="#ff1a00"/>
<path d="M676 121l9-3-9 1-8 2zM685 121l9-3-9 0-9 3zM963 121l9 0-9-2-8-1z" fill="#ff2000"/>
<path d="M972 121l9 1-9-3-9 0zM668 124l8-3-8 0-9 3zM981 124l8 0-8-2-9-1z" fill="#ff2600"/>
<path d="M989 124l9 1-9-3-8 0zM650 127l9-3-9 0-9 3z" fill="#ff2d00"/>
<path d="M998 127l9 1-9-3-9-1z" fill="#ff3300"/>
<path d="M633 130l8-3-8 1-9 3zM1015 131l9 0-9-2-8-1zM641 130l9-3-9 0-8 3z" fill="#ff3900"/>
<path d="M615 134l9-3-9 1-8 3zM1033 135l8 1-8-3-9-2zM624 134l9-4-9 1-9 3zM1024 134l9 1-9-4-9 0z" fill="#ff4000"/>
<path d="M607 138l8-4-8 1-9 3z" fill="#ff4600"/>
<path d="M598 138l9-3-9 1-9 3zM1050 139l9 1-9-3-9-1zM1041 138l9 1-9-3-8-1z" fill="#ff4c00"/>
<path d="M589 142l9-4-9 1-8 4zM1059 142l9 1-9-3-9-1z" fill="#ff5300"/>
<path d="M581 146l8-4-8 1-9 3z" fill="#ff5900"/>
<path d="M572 146l9-3-9 1-9 3zM1076 147l9 1-9-3-8-2z" fill="#ff6000"/>
<path d="M563 150l9-4-9 1-8 4zM1085 151l9 1-9-4-9-1z" fill="#ff6600"/>
<path d="M555 151l8-4-8 2-9 3zM1094 152l8 1-8-3-9-2z" fill="#ff6c00"/>
<path d="M546 155l9-4-9 1-9 4zM1102 156l9 1-9-4-8-1z" fill="#ff7300"/>
<path d="M529 161l8-5-8 2-9 4zM1120 162l8 1-8-4-9-2z" fill="#ff8000"/>
<path d="M520 165l9-4-9 1-9 4z" fill="#ff8600"/>
<path d="M511 166l9-4-9 1-8 5zM1137 167l9 2-9-4-9-2zM1128 166l9 1-9-4-8-1z" fill="#ff8c00"/>
<path d="M503 171l8-5-8 2-9 4zM1146 172l8 1-8-4-9-2z" fill="#ff9900"/>
<path d="M494 176l9-5-9 1-9 5z" fill="#ff9f00"/>
<path d="M485 177l9-5-9 2-8 4zM1163 178l9 2-9-5-9-2z" fill="#ffa600"/>
<path d="M468 183l9-5-9 2-9 5zM476 182l9-5-8 1-9 5zM1172 183l8 2-8-5-9-2z" fill="#ffb300"/>
<path d="M1180 185l9 1-9-4-8-2z" fill="#ffb900"/>
<path d="M459 188l9-5-9 2-9 5zM1189 189l9 2-9-5-9-1z" fill="#ffbf00"/>
<path d="M442 195l8-5-8 2-9 5zM450 194l9-6-9 2-8 5z" fill="#ffcc00"/>
<path d="M1206 196l9 2-9-5-8-2z" fill="#ffd200"/>
<path d="M433 200l9-5-9 2-9 5z" fill="#ffd900"/>
<path d="M1215 202l9 2-9-6-9-2z" fill="#ffdf00"/>
<path d="M1224 204l8 2-8-5-9-3z" fill="#ffe500"/>
<path d="M416 207l8-5-8 2-9 5z" fill="#ffec00"/>
<path d="M1232 209l9 2-9-5-8-2z" fill="#fff200"/>
<path d="M407 213l9-6-9 2-8 6zM1241 215l9 2-9-6-9-2z" fill="#fff900"/>
<path d="M1250 217l8 2-8-6-9-2z" fill="#ffff00"/>
<path d="M1327 264l9 2-9-7-8-2z" fill="#93ff00"/>
<path d="M1319 257l8 2-8-6-9-2z" fill="#9fff00"/>
<path d="M1310 255l9 2-9-6-9-2z" fill="#a6ff00"/>
<path d="M338 253l9-6-9 1-9 7z" fill="#acff00"/>
<path d="M1301 249l9 2-8-7-9-2z" fill="#b3ff00"/>
<path d="M347 247l8-7-8 2-9 6z" fill="#b9ff00"/>
<path d="M355 246l9-7-9 1-8 7z" fill="#bfff00"/>
<path d="M1293 242l9 2-9-6-9-2z" fill="#c6ff00"/>
<path d="M364 239l9-6-9 1-9 6zM1284 241l9 1-9-6-8-2z" fill="#ccff00"/>
<path d="M373 233l8-7-8 2-9 6zM1276 234l8 2-8-6-9-2z" fill="#d9ff00"/>
<path d="M381 231l9-6-9 1-8 7z" fill="#dfff00"/>
<path d="M390 225l8-6-8 1-9 6zM1258 226l9 2-9-6-8-2z" fill="#ecff00"/>
<path d="M398 219l9-6-8 2-9 5zM1250 220l8 2-8-5-9-2zM1241 219l9 1-9-5-9-2z" fill="#f9ff00"/>
<path d="M789 111l9-2-9-1-8 2zM859 111l9-1-9-2-9 1zM807 110l8-1-8-1-9 1zM841 110l9-1-9-1-8 1zM824 110l9-1-9-2-9 2z" fill="#ff0600"/>
<path d="M754 113l9-2-8-1-9 2zM894 113l8-1-8-2-9 1zM772 112l9-2-9-1-9 2zM876 112l9-1-9-2-8 1zM763 114l9-2-9-1-9 2zM885 114l9-1-9-2-9 1zM781 113l8-2-8-1-9 2zM868 113l8-1-8-2-9 1zM798 112l9-2-9-1-9 2zM850 112l9-1-9-2-9 1zM815 112l9-2-9-1-8 1zM833 112l8-2-8-1-9 1z" fill="#ff0d00"/>
<path d="M737 114l9-2-9 0-9 2zM911 114l9 0-9-2-9 0zM746 115l8-2-8-1-9 2zM902 115l9-1-9-2-8 1z" fill="#ff1300"/>
<path d="M711 119l9-3-9 0-9 2zM937 119l9-1-9-2-9 0zM728 117l9-3-9 0-8 2zM920 117l8-1-8-2-9 0z" fill="#ff1a00"/>
<path d="M694 121l8-3-8 0-9 3zM954 121l9 0-8-3-9 0zM702 122l9-3-9-1-8 3z" fill="#ff2000"/>
<path d="M676 124l9-3-9 0-8 3zM972 124l9 0-9-3-9 0zM685 124l9-3-9 0-9 3zM963 124l9 0-9-3-9 0z" fill="#ff2600"/>
<path d="M659 127l9-3-9 0-9 3zM989 127l9 0-9-3-8 0zM667 127l9-3-8 0-9 3zM981 127l8 0-8-3-9 0z" fill="#ff2d00"/>
<path d="M650 130l9-3-9 0-9 3zM998 130l9 0-9-3-9 0z" fill="#ff3300"/>
<path d="M1007 130l8 1-8-3-9-1z" fill="#ff3900"/>
<path d="M633 134l8-4-8 0-9 4zM1015 134l9 0-9-3-8-1z" fill="#ff4000"/>
<path d="M615 137l9-3-9 0-8 4zM1033 137l8 1-8-3-9-1zM624 137l9-3-9 0-9 3z" fill="#ff4600"/>
<path d="M607 141l8-4-8 1-9 3zM1041 141l9 1-9-4-8-1z" fill="#ff4c00"/>
<path d="M598 141l9-3-9 0-9 4zM1050 142l9 0-9-3-9-1z" fill="#ff5300"/>
<path d="M1067 146l9 1-8-4-9-1zM589 145l9-4-9 1-8 4zM1059 146l8 0-8-4-9 0z" fill="#ff5900"/>
<path d="M572 150l9-4-9 0-9 4zM1076 150l9 1-9-4-9-1z" fill="#ff6600"/>
<path d="M563 154l9-4-9 0-8 5z" fill="#ff6c00"/>
<path d="M555 155l8-5-8 1-9 4zM1093 155l9 1-8-4-9-1z" fill="#ff7300"/>
<path d="M537 160l9-5-9 1-8 5zM546 159l9-4-9 0-9 5zM1102 160l9 0-9-4-9-1z" fill="#ff7900"/>
<path d="M1111 160l9 2-9-5-9-1z" fill="#ff8000"/>
<path d="M529 165l8-5-8 1-9 4zM1120 165l8 1-8-4-9-2z" fill="#ff8600"/>
<path d="M511 170l9-5-9 1-8 5zM1137 171l9 1-9-5-9-1zM520 169l9-4-9 0-9 5z" fill="#ff9300"/>
<path d="M502 175l9-5-8 1-9 5zM1146 175l8 2-8-5-9-1z" fill="#ff9f00"/>
<path d="M1154 177l9 1-9-5-8-1z" fill="#ffa600"/>
<path d="M485 181l9-5-9 1-9 5zM1163 182l9 1-9-5-9-1z" fill="#ffac00"/>
<path d="M468 187l8-5-8 1-9 5zM476 186l9-5-9 1-8 5zM1172 187l8 1-8-5-9-1z" fill="#ffb900"/>
<path d="M1180 188l9 1-9-4-8-2z" fill="#ffbf00"/>
<path d="M459 193l9-6-9 1-9 6zM1189 193l9 2-9-6-9-1z" fill="#ffc600"/>
<path d="M1198 195l8 1-8-5-9-2z" fill="#ffcc00"/>
<path d="M450 198l9-5-9 1-8 5z" fill="#ffd200"/>
<path d="M442 199l8-5-8 1-9 5zM1206 200l9 2-9-6-8-1z" fill="#ffd900"/>
<path d="M424 206l9-6-9 2-8 5zM433 205l9-6-9 1-9 6zM1215 206l9 1-9-5-9-2z" fill="#ffe500"/>
<path d="M1224 207l8 2-8-5-9-2z" fill="#ffec00"/>
<path d="M416 212l8-6-8 1-9 6z" fill="#fff200"/>
<path d="M1232 213l9 2-9-6-8-2z" fill="#fff900"/>
<path d="M407 218l9-6-9 1-9 6z" fill="#ffff00"/>
<path d="M1319 262l8 2-8-7-9-2z" fill="#99ff00"/>
<path d="M1310 261l9 1-9-7-9-1z" fill="#9fff00"/>
<path d="M1301 254l9 1-9-6-8-2z" fill="#acff00"/>
<path d="M347 252l8-6-8 1-9 6z" fill="#b3ff00"/>
<path d="M1293 247l8 2-8-7-9-1z" fill="#b9ff00"/>
<path d="M364 245l9-7-9 1-9 7zM1284 246l9 1-9-6-9-2z" fill="#bfff00"/>
<path d="M1275 239l9 2-8-7-9-1z" fill="#ccff00"/>
<path d="M373 238l8-7-8 2-9 6zM381 237l9-6-9 0-8 7z" fill="#d2ff00"/>
<path d="M1267 233l9 1-9-6-9-2z" fill="#d9ff00"/>
<path d="M390 231l8-7-8 1-9 6zM1258 231l9 2-9-7-9-1z" fill="#dfff00"/>
<path d="M1249 225l9 1-8-6-9-1z" fill="#ecff00"/>
<path d="M398 224l9-6-9 1-8 6zM407 223l9-6-9 1-9 6z" fill="#f2ff00"/>
<path d="M789 114l9-2-9-1-8 2zM859 114l9-1-9-2-9 1zM807 114l8-2-8-2-9 2zM841 114l9-2-9-2-8 2zM824 113l9-1-9-2-9 2z" fill="#ff0d00"/>
<path d="M754 116l9-2-9-1-8 2zM894 116l8-1-8-2-9 1zM772 115l9-2-9-1-9 2zM876 115l9-1-9-2-8 1zM780 116l9-2-8-1-9 2zM867 116l9-1-8-2-9 1zM798 116l9-2-9-2-9 2zM850 116l9-2-9-2-9 2zM815 115l9-2-9-1-8 2zM833 115l8-1-8-2-9 1z" fill="#ff1300"/>
<path d="M720 119l8-2-8-1-9 3zM928 119l9 0-9-3-8 1zM737 118l9-3-9-1-9 3zM911 118l9-1-9-3-9 1zM746 119l8-3-8-1-9 3zM902 119l9-1-9-3-8 1zM763 117l9-2-9-1-9 2zM885 117l9-1-9-2-9 1z" fill="#ff1a00"/>
<path d="M946 122l8-1-8-3-9 1zM711 122l9-3-9 0-9 3zM937 122l9 0-9-3-9 0zM728 120l9-2-9-1-8 2zM920 120l8-1-8-2-9 1z" fill="#ff2000"/>
<path d="M694 125l8-3-8-1-9 3zM954 125l9-1-9-3-8 1z" fill="#ff2600"/>
<path d="M676 127l9-3-9 0-9 3zM972 127l9 0-9-3-9 0zM685 128l9-3-9-1-9 3z" fill="#ff2d00"/>
<path d="M659 130l8-3-8 0-9 3zM989 130l9 0-9-3-8 0zM667 131l9-4-9 0-8 3zM980 131l9-1-8-3-9 0z" fill="#ff3300"/>
<path d="M641 134l9-4-9 0-8 4zM1007 134l8 0-8-4-9 0zM650 134l9-4-9 0-9 4zM998 134l9 0-9-4-9 0z" fill="#ff4000"/>
<path d="M1024 137l9 0-9-3-9 0zM633 138l8-4-8 0-9 3zM1015 137l9 0-9-3-8 0z" fill="#ff4600"/>
<path d="M615 141l9-4-9 0-8 4zM1033 141l8 0-8-4-9 0z" fill="#ff4c00"/>
<path d="M598 145l9-4-9 0-9 4zM1050 145l9 1-9-4-9-1zM607 146l8-5-8 0-9 4z" fill="#ff5900"/>
<path d="M581 150l8-5-8 1-9 4zM1067 150l9 0-9-4-8 0zM589 150l9-5-9 0-8 5zM1059 150l8 0-8-4-9-1z" fill="#ff6000"/>
<path d="M1085 154l8 1-8-4-9-1zM572 154l9-4-9 0-9 4zM1076 154l9 0-9-4-9 0z" fill="#ff6c00"/>
<path d="M555 159l8-5-8 1-9 4zM1093 159l9 1-9-5-8-1zM563 159l9-5-9 0-8 5z" fill="#ff7900"/>
<path d="M546 164l9-5-9 0-9 5zM1102 164l9 0-9-4-9-1z" fill="#ff8000"/>
<path d="M537 164l9-5-9 1-8 5zM1111 164l9 1-9-5-9 0z" fill="#ff8600"/>
<path d="M528 169l9-5-8 1-9 4zM1119 169l9 1-8-5-9-1z" fill="#ff8c00"/>
<path d="M1128 170l9 1-9-5-8-1z" fill="#ff9300"/>
<path d="M511 175l9-6-9 1-9 5zM1137 175l9 0-9-4-9-1zM520 174l8-5-8 0-9 6z" fill="#ff9900"/>
<path d="M502 180l9-5-9 0-8 5zM1145 180l9 1-8-6-9 0z" fill="#ffa600"/>
<path d="M494 180l8-5-8 1-9 5zM1154 181l9 1-9-5-8-2z" fill="#ffac00"/>
<path d="M485 186l9-6-9 1-9 5z" fill="#ffb300"/>
<path d="M1163 186l9 1-9-5-9-1z" fill="#ffb900"/>
<path d="M476 192l9-6-9 0-8 6z" fill="#ffbf00"/>
<path d="M468 192l8-6-8 1-9 6zM1180 192l9 1-9-5-8-1z" fill="#ffc600"/>
<path d="M1198 199l8 1-8-5-9-2zM459 198l9-6-9 1-9 5zM1189 198l9 1-9-6-9-1z" fill="#ffd200"/>
<path d="M442 204l8-6-8 1-9 6zM1206 205l9 1-9-6-8-1z" fill="#ffdf00"/>
<path d="M433 210l9-6-9 1-9 6zM1215 211l9 1-9-6-9-1z" fill="#ffec00"/>
<path d="M424 211l9-6-9 1-8 6zM1224 212l8 1-8-6-9-1z" fill="#fff200"/>
<path d="M416 217l8-6-8 1-9 6zM1232 218l9 1-9-6-8-1z" fill="#ffff00"/>
<path d="M1301 260l9 1-9-7-8-1z" fill="#9fff00"/>
<path d="M355 251l9-6-9 1-8 6zM1293 253l8 1-8-7-9-1zM1284 252l9 1-9-7-9-1z" fill="#b3ff00"/>
<path d="M364 251l9-7-9 1-9 6z" fill="#b9ff00"/>
<path d="M373 244l8-7-8 1-9 7zM1275 245l9 1-9-7-8-1z" fill="#c6ff00"/>
<path d="M1267 238l8 1-8-6-9-2zM1258 237l9 1-9-7-9 0z" fill="#d2ff00"/>
<path d="M390 237l8-7-8 1-9 6z" fill="#d9ff00"/>
<path d="M398 230l9-7-9 1-8 7zM1249 231l9 0-9-6-8-1zM407 230l9-7-9 0-9 7z" fill="#e5ff00"/>
<path d="M1241 224l8 1-8-6-9-1zM416 223l8-6-8 0-9 6zM1232 223l9 1-9-6-9-1z" fill="#f2ff00"/>
<path d="M841 118l9-2-9-2-8 1zM824 118l9-3-9-2-9 2z" fill="#ff1300"/>
<path d="M754 120l9-3-9-1-8 3zM894 120l8-1-8-3-9 1zM772 119l8-3-8-1-9 2zM876 119l9-2-9-2-9 1zM789 118l9-2-9-2-9 2zM859 118l8-2-8-2-9 2zM807 118l8-3-8-1-9 2zM798 120l9-2-9-2-9 2zM850 120l9-2-9-2-9 2zM815 120l9-2-9-3-8 3zM833 120l8-2-8-3-9 3z" fill="#ff1a00"/>
<path d="M737 122l9-3-9-1-9 2zM911 122l9-2-9-2-9 1zM746 123l8-3-8-1-9 3zM902 123l9-1-9-3-8 1zM763 122l9-3-9-2-9 3zM885 122l9-2-9-3-9 2zM780 121l9-3-9-2-8 3zM867 121l9-2-9-3-8 2z" fill="#ff2000"/>
<path d="M946 126l8-1-8-3-9 0zM720 124l8-4-8-1-9 3zM928 123l9-1-9-3-8 1zM728 125l9-3-9-2-8 4zM920 125l8-2-8-3-9 2z" fill="#ff2600"/>
<path d="M963 128l9-1-9-3-9 1zM702 126l9-4-9 0-8 3zM711 127l9-3-9-2-9 4zM937 127l9-1-9-4-9 1z" fill="#ff2d00"/>
<path d="M694 129l8-3-8-1-9 3zM954 129l9-1-9-3-8 1z" fill="#ff3300"/>
<path d="M676 132l9-4-9-1-9 4zM972 132l8-1-8-4-9 1z" fill="#ff3900"/>
<path d="M659 135l8-4-8-1-9 4zM989 135l9-1-9-4-9 1zM667 136l9-4-9-1-8 4z" fill="#ff4000"/>
<path d="M641 138l9-4-9 0-8 4zM1007 138l8-1-8-3-9 0zM650 139l9-4-9-1-9 4zM998 139l9-1-9-4-9 1z" fill="#ff4600"/>
<path d="M624 142l9-4-9-1-9 4zM1024 141l9 0-9-4-9 0zM633 143l8-5-8 0-9 4zM1015 142l9-1-9-4-8 1z" fill="#ff4c00"/>
<path d="M1041 145l9 0-9-4-8 0zM615 146l9-4-9-1-8 5zM1033 146l8-1-8-4-9 0z" fill="#ff5900"/>
<path d="M598 150l9-4-9-1-9 5zM1050 150l9 0-9-5-9 0zM607 151l8-5-8 0-9 4z" fill="#ff6000"/>
<path d="M581 154l8-4-8 0-9 4zM1067 154l9 0-9-4-8 0zM589 155l9-5-9 0-8 4zM1059 154l8 0-8-4-9 0z" fill="#ff6c00"/>
<path d="M1076 159l9 0-9-5-9 0z" fill="#ff7300"/>
<path d="M1085 159l8 0-8-5-9 0zM572 159l9-5-9 0-9 5z" fill="#ff7900"/>
<path d="M555 164l8-5-8 0-9 5zM1093 164l9 0-9-5-8 0z" fill="#ff8000"/>
<path d="M537 169l9-5-9 0-9 5zM1111 169l8 0-8-5-9 0zM546 169l9-5-9 0-9 5z" fill="#ff8c00"/>
<path d="M1128 174l9 1-9-5-9-1zM528 174l9-5-9 0-8 5zM1119 174l9 0-9-5-8 0z" fill="#ff9900"/>
<path d="M511 180l9-6-9 1-9 5zM1137 180l8 0-8-5-9-1z" fill="#ffa600"/>
<path d="M494 186l8-6-8 0-9 6zM1154 185l9 1-9-5-9-1zM502 186l9-6-9 0-8 6z" fill="#ffb300"/>
<path d="M1171 192l9 0-8-5-9-1zM485 191l9-5-9 0-9 6zM1163 191l8 1-8-6-9-1z" fill="#ffbf00"/>
<path d="M468 197l8-5-8 0-9 6zM1180 197l9 1-9-6-9 0z" fill="#ffcc00"/>
<path d="M459 204l9-7-9 1-9 6zM1189 203l8 1-8-6-9-1z" fill="#ffd900"/>
<path d="M450 204l9-6-9 0-8 6zM1197 204l9 1-8-6-9-1z" fill="#ffdf00"/>
<path d="M442 210l8-6-8 0-9 6zM1206 210l9 1-9-6-9-1z" fill="#ffec00"/>
<path d="M424 217l9-7-9 1-8 6zM1223 217l9 1-8-6-9-1zM433 216l9-6-9 0-9 7z" fill="#fff900"/>
<path d="M1293 259l8 1-8-7-9-1z" fill="#a6ff00"/>
<path d="M373 251l8-7-8 0-9 7zM1275 251l9 1-9-7-8-1z" fill="#b9ff00"/>
<path d="M381 244l9-7-9 0-8 7zM1267 244l8 1-8-7-9-1zM1258 244l9 0-9-7-9 0z" fill="#c6ff00"/>
<path d="M390 244l8-7-8 0-9 7z" fill="#ccff00"/>
<path d="M398 237l9-7-9 0-8 7zM1249 237l9 0-9-6-8-1z" fill="#d9ff00"/>
<path d="M1241 230l8 1-8-7-9-1zM416 230l8-7-8 0-9 7zM1232 230l9 0-9-7-9 0z" fill="#e5ff00"/>
<path d="M424 223l9-7-9 1-8 6zM1223 223l9 0-9-6-8-1zM433 223l9-7-9 0-9 7z" fill="#f9ff00"/>
<path d="M789 123l9-3-9-2-9 3zM859 123l8-2-8-3-9 2zM807 123l8-3-8-2-9 2zM841 123l9-3-9-2-8 2zM824 123l9-3-9-2-9 2z" fill="#ff2000"/>
<path d="M911 127l9-2-9-3-9 1zM754 125l9-3-9-2-8 3zM893 125l9-2-8-3-9 2zM772 124l8-3-8-2-9 3zM876 124l9-2-9-3-9 2z" fill="#ff2600"/>
<path d="M720 129l8-4-8-1-9 3zM928 128l9-1-9-4-8 2zM737 127l9-4-9-1-9 3zM746 129l8-4-8-2-9 4zM902 129l9-2-9-4-9 2zM763 128l9-4-9-2-9 3zM885 127l8-2-8-3-9 2z" fill="#ff2d00"/>
<path d="M702 131l9-4-9-1-8 3zM946 130l8-1-8-3-9 1zM937 132l9-2-9-3-9 1zM728 131l9-4-9-2-8 4zM920 130l8-2-8-3-9 2z" fill="#ff3300"/>
<path d="M685 133l9-4-9-1-9 4zM963 133l9-1-9-4-9 1zM693 135l9-4-8-2-9 4zM954 134l9-1-9-4-8 1zM711 133l9-4-9-2-9 4z" fill="#ff3900"/>
<path d="M980 136l9-1-9-4-8 1zM676 137l9-4-9-1-9 4zM972 137l8-1-8-4-9 1z" fill="#ff4000"/>
<path d="M659 140l8-4-8-1-9 4zM989 140l9-1-9-4-9 1z" fill="#ff4600"/>
<path d="M1006 143l9-1-8-4-9 1z" fill="#ff4c00"/>
<path d="M641 144l9-5-9-1-8 5zM650 145l9-5-9-1-9 5zM998 144l8-1-8-4-9 1z" fill="#ff5300"/>
<path d="M624 147l9-4-9-1-9 4zM1024 146l9 0-9-5-9 1zM633 148l8-4-8-1-9 4zM1015 148l9-2-9-4-9 1z" fill="#ff5900"/>
<path d="M1041 150l9 0-9-5-8 1zM1033 151l8-1-8-4-9 0z" fill="#ff6000"/>
<path d="M615 152l9-5-9-1-8 5z" fill="#ff6600"/>
<path d="M598 156l9-5-9-1-9 5zM1050 155l9-1-9-4-9 0z" fill="#ff6c00"/>
<path d="M1067 159l9 0-9-5-8 0z" fill="#ff7300"/>
<path d="M581 160l8-5-8-1-9 5zM589 161l9-5-9-1-8 5z" fill="#ff7900"/>
<path d="M563 165l9-6-9 0-8 5zM1085 164l8 0-8-5-9 0zM572 165l9-5-9-1-9 6zM1076 165l9-1-9-5-9 0z" fill="#ff8000"/>
<path d="M1102 169l9 0-9-5-9 0zM554 170l9-5-8-1-9 5zM1093 169l9 0-9-5-8 0z" fill="#ff8c00"/>
<path d="M537 175l9-6-9 0-9 5zM1111 174l8 0-8-5-9 0zM546 176l8-6-8-1-9 6z" fill="#ff9900"/>
<path d="M520 180l8-6-8 0-9 6zM1128 180l9 0-9-6-9 0zM528 181l9-6-9-1-8 6zM1119 180l9 0-9-6-8 0z" fill="#ffa600"/>
<path d="M1145 185l9 0-9-5-8 0zM511 186l9-6-9 0-9 6zM1137 185l8 0-8-5-9 0z" fill="#ffb300"/>
<path d="M494 192l8-6-8 0-9 5zM1154 191l9 0-9-6-9 0zM502 192l9-6-9 0-8 6z" fill="#ffbf00"/>
<path d="M476 197l9-6-9 1-8 5zM1171 197l9 0-9-5-8-1zM485 198l9-6-9-1-9 6zM1163 197l8 0-8-6-9 0z" fill="#ffcc00"/>
<path d="M468 204l8-7-8 0-9 7zM1180 203l9 0-9-6-9 0z" fill="#ffd900"/>
<path d="M459 210l9-6-9 0-9 6z" fill="#ffe500"/>
<path d="M450 210l9-6-9 0-8 6zM1197 210l9 0-9-6-8-1z" fill="#ffec00"/>
<path d="M1215 216l8 1-8-6-9-1zM442 216l8-6-8 0-9 6zM1206 216l9 0-9-6-9 0z" fill="#fff900"/>
<path d="M1284 259l9 0-9-7-9-1z" fill="#a6ff00"/>
<path d="M1275 259l9 0-9-8-8 0z" fill="#acff00"/>
<path d="M381 251l9-7-9 0-8 7zM1267 251l8 0-8-7-9 0zM390 251l8-7-8 0-9 7z" fill="#b9ff00"/>
<path d="M398 244l9-7-9 0-8 7zM1249 244l9 0-9-7-8 0z" fill="#ccff00"/>
<path d="M407 237l9-7-9 0-9 7zM1241 237l8 0-8-7-9 0zM416 237l8-7-8 0-9 7zM1232 237l9 0-9-7-9 0z" fill="#d9ff00"/>
<path d="M424 230l9-7-9 0-8 7zM1223 230l9 0-9-7-8 0z" fill="#ecff00"/>
<path d="M1215 223l8 0-8-7-9 0zM442 224l8-7-8-1-9 7zM1206 223l9 0-9-7-9 0z" fill="#f9ff00"/>
<path d="M780 127l9-4-9-2-8 3zM867 126l9-2-9-3-8 2zM798 126l9-3-9-3-9 3zM850 126l9-3-9-3-9 3zM815 126l9-3-9-3-8 3zM833 125l8-2-8-3-9 3z" fill="#ff2600"/>
<path d="M772 130l8-3-8-3-9 4zM876 130l9-3-9-3-9 2zM789 129l9-3-9-3-9 4zM859 129l8-3-8-3-9 3zM806 129l9-3-8-3-9 3zM841 129l9-3-9-3-8 2zM824 128l9-3-9-2-9 3z" fill="#ff2d00"/>
<path d="M737 133l9-4-9-2-9 4zM911 132l9-2-9-3-9 2zM754 131l9-3-9-3-8 4zM893 131l9-2-9-4-8 2z" fill="#ff3300"/>
<path d="M720 135l8-4-8-2-9 4zM928 134l9-2-9-4-8 2zM746 135l8-4-8-2-9 4z" fill="#ff3900"/>
<path d="M702 137l9-4-9-2-9 4zM946 136l8-2-8-4-9 2zM937 138l9-2-9-4-9 2zM728 137l9-4-9-2-8 4zM920 136l8-2-8-4-9 2z" fill="#ff4000"/>
<path d="M685 139l8-4-8-2-9 4zM963 138l9-1-9-4-9 1zM693 141l9-4-9-2-8 4zM954 140l9-2-9-4-8 2zM711 139l9-4-9-2-9 4z" fill="#ff4600"/>
<path d="M667 142l9-5-9-1-8 4zM980 141l9-1-9-4-8 1zM676 144l9-5-9-2-9 5zM972 143l8-2-8-4-9 1z" fill="#ff4c00"/>
<path d="M659 146l8-4-8-2-9 5zM989 146l9-2-9-4-9 1z" fill="#ff5300"/>
<path d="M1006 149l9-1-9-5-8 1z" fill="#ff5900"/>
<path d="M641 150l9-5-9-1-8 4zM650 151l9-5-9-1-9 5z" fill="#ff6000"/>
<path d="M624 153l9-5-9-1-9 5zM1024 152l9-1-9-5-9 2zM633 155l8-5-8-2-9 5zM1015 154l9-2-9-4-9 1z" fill="#ff6600"/>
<path d="M607 157l8-5-8-1-9 5zM1041 156l9-1-9-5-8 1zM1032 157l9-1-8-5-9 1z" fill="#ff6c00"/>
<path d="M615 158l9-5-9-1-8 5z" fill="#ff7300"/>
<path d="M1059 160l8-1-8-5-9 1zM598 162l9-5-9-1-9 5zM1050 161l9-1-9-5-9 1z" fill="#ff7900"/>
<path d="M1067 165l9 0-9-6-8 1z" fill="#ff8000"/>
<path d="M581 166l8-5-8-1-9 5zM589 168l9-6-9-1-8 5z" fill="#ff8600"/>
<path d="M563 171l9-6-9 0-9 5zM1085 170l8-1-8-5-9 1zM1076 171l9-1-9-5-9 0z" fill="#ff8c00"/>
<path d="M572 172l9-6-9-1-9 6z" fill="#ff9300"/>
<path d="M1102 175l9-1-9-5-9 0zM554 177l9-6-9-1-8 6zM1093 176l9-1-9-6-8 1z" fill="#ff9900"/>
<path d="M537 181l9-5-9-1-9 6zM1111 181l8-1-8-6-9 1zM546 183l8-6-8-1-9 5z" fill="#ffa600"/>
<path d="M520 187l8-6-8-1-9 6zM1128 186l9-1-9-5-9 0zM528 187l9-6-9 0-8 6zM1119 187l9-1-9-6-8 1z" fill="#ffb300"/>
<path d="M1145 191l9 0-9-6-8 0zM511 193l9-6-9-1-9 6zM1137 192l8-1-8-6-9 1z" fill="#ffbf00"/>
<path d="M494 198l8-6-8 0-9 6zM1154 198l9-1-9-6-9 0zM502 199l9-6-9-1-8 6z" fill="#ffcc00"/>
<path d="M476 204l9-6-9-1-8 7zM1171 204l9-1-9-6-8 0zM485 205l9-7-9 0-9 6zM1163 204l8 0-8-7-9 1z" fill="#ffd900"/>
<path d="M1189 210l8 0-8-7-9 0zM468 211l8-7-8 0-9 6zM1180 210l9 0-9-7-9 1z" fill="#ffe500"/>
<path d="M450 217l9-7-9 0-8 6zM1197 216l9 0-9-6-8 0zM459 217l9-6-9-1-9 7z" fill="#fff900"/>
<path d="M1267 259l8 0-8-8-9 0z" fill="#acff00"/>
<path d="M1258 251l9 0-9-7-9 0zM398 252l9-8-9 0-8 7zM1249 252l9-1-9-7-8 0z" fill="#b9ff00"/>
<path d="M407 244l9-7-9 0-9 7zM1241 244l8 0-8-7-9 0zM416 245l8-7-8-1-9 7z" fill="#ccff00"/>
<path d="M424 238l9-7-9-1-8 7zM1223 237l9 0-9-7-8 0z" fill="#d9ff00"/>
<path d="M433 231l9-7-9-1-9 7zM1215 230l8 0-8-7-9 0zM442 231l8-7-8 0-9 7zM1206 231l9-1-9-7-9 1z" fill="#ecff00"/>
<path d="M450 224l9-7-9 0-8 7zM1197 224l9-1-9-7-8 1zM459 225l9-7-9-1-9 7z" fill="#f9ff00"/>
<path d="M780 133l9-4-9-2-8 3zM867 133l9-3-9-4-8 3zM798 132l8-3-8-3-9 3zM850 132l9-3-9-3-9 3zM815 132l9-4-9-2-9 3zM833 132l8-3-8-4-9 3z" fill="#ff3300"/>
<path d="M902 135l9-3-9-3-9 2zM763 134l9-4-9-2-9 3zM885 133l8-2-8-4-9 3zM876 136l9-3-9-3-9 3zM789 136l9-4-9-3-9 4zM859 136l8-3-8-4-9 3zM806 135l9-3-9-3-8 3zM841 135l9-3-9-3-8 3zM824 135l9-3-9-4-9 4z" fill="#ff3900"/>
<path d="M911 139l9-3-9-4-9 3zM754 138l9-4-9-3-8 4zM893 137l9-2-9-4-8 2zM772 137l8-4-8-3-9 4z" fill="#ff4000"/>
<path d="M720 141l8-4-8-2-9 4zM928 141l9-3-9-4-8 2zM737 139l9-4-9-2-9 4z" fill="#ff4600"/>
<path d="M702 143l9-4-9-2-9 4zM946 143l8-3-8-4-9 2zM728 144l9-5-9-2-8 4z" fill="#ff4c00"/>
<path d="M685 146l8-5-8-2-9 5zM963 145l9-2-9-5-9 2zM954 147l9-2-9-5-8 3zM711 146l9-5-9-2-9 4zM937 145l9-2-9-5-9 3z" fill="#ff5300"/>
<path d="M667 148l9-4-9-2-8 4zM980 148l9-2-9-5-8 2zM972 150l8-2-8-5-9 2zM693 148l9-5-9-2-8 5z" fill="#ff5900"/>
<path d="M998 151l8-2-8-5-9 2zM989 152l9-1-9-5-9 2zM676 151l9-5-9-2-9 4z" fill="#ff6000"/>
<path d="M1006 156l9-2-9-5-8 2zM659 153l8-5-8-2-9 5z" fill="#ff6600"/>
<path d="M641 156l9-5-9-1-8 5z" fill="#ff6c00"/>
<path d="M624 160l9-5-9-2-9 5zM1024 159l8-2-8-5-9 2zM1015 161l9-2-9-5-9 2z" fill="#ff7300"/>
<path d="M607 164l8-6-8-1-9 5zM1041 163l9-2-9-5-9 1zM633 162l8-6-8-1-9 5z" fill="#ff7900"/>
<path d="M615 165l9-5-9-2-8 6zM1032 164l9-1-9-6-8 2z" fill="#ff8000"/>
<path d="M1059 167l8-2-8-5-9 1zM598 169l9-5-9-2-9 6zM1050 168l9-1-9-6-9 2z" fill="#ff8600"/>
<path d="M1067 172l9-1-9-6-8 2z" fill="#ff8c00"/>
<path d="M581 173l8-5-8-2-9 6zM589 175l9-6-9-1-8 5z" fill="#ff9300"/>
<path d="M563 178l9-6-9-1-9 6zM1085 177l8-1-8-6-9 1zM1076 178l9-1-9-6-9 1z" fill="#ff9900"/>
<path d="M572 179l9-6-9-1-9 6z" fill="#ff9f00"/>
<path d="M1102 182l9-1-9-6-9 1zM1093 183l9-1-9-6-8 1z" fill="#ffa600"/>
<path d="M554 184l9-6-9-1-8 6z" fill="#ffac00"/>
<path d="M537 189l9-6-9-2-9 6zM1111 188l8-1-8-6-9 1z" fill="#ffb300"/>
<path d="M520 194l8-7-8 0-9 6zM1128 193l9-1-9-6-9 1zM528 195l9-6-9-2-8 7z" fill="#ffbf00"/>
<path d="M1145 198l9 0-9-7-8 1zM511 200l9-6-9-1-9 6zM1137 199l8-1-8-6-9 1z" fill="#ffcc00"/>
<path d="M494 206l8-7-8-1-9 7zM1154 205l9-1-9-6-9 0z" fill="#ffd900"/>
<path d="M1171 211l9-1-9-6-8 0zM1163 212l8-1-8-7-9 1z" fill="#ffe500"/>
<path d="M476 211l9-6-9-1-8 7zM485 212l9-6-9-1-9 6z" fill="#ffec00"/>
<path d="M1189 217l8-1-8-6-9 0z" fill="#fff200"/>
<path d="M468 218l8-7-8 0-9 6zM1180 218l9-1-9-7-9 1z" fill="#fff900"/>
<path d="M1258 260l9-1-9-8-9 1zM1249 260l9 0-9-8-9 1z" fill="#acff00"/>
<path d="M407 253l9-8-9-1-9 8zM1240 253l9-1-8-8-9 1zM416 254l8-8-8-1-9 8z" fill="#b9ff00"/>
<path d="M1232 245l9-1-9-7-9 0zM424 246l9-7-9-1-8 7zM1223 246l9-1-9-8-8 1z" fill="#ccff00"/>
<path d="M433 239l9-8-9 0-9 7zM1215 238l8-1-8-7-9 1zM442 240l8-7-8-2-9 8zM1206 239l9-1-9-7-9 1z" fill="#d9ff00"/>
<path d="M450 233l9-8-9-1-8 7zM459 234l9-7-9-2-9 8z" fill="#e5ff00"/>
<path d="M1197 232l9-1-9-7-8 1z" fill="#ecff00"/>
<path d="M1189 225l8-1-8-7-9 1zM468 227l8-8-8-1-9 7zM1180 226l9-1-9-7-9 1z" fill="#f9ff00"/>
<path d="M867 140l9-4-9-3-8 3zM798 139l8-4-8-3-9 4zM850 139l9-3-9-4-9 3zM815 139l9-4-9-3-9 3zM833 139l8-4-8-3-9 3z" fill="#ff4000"/>
<path d="M746 142l8-4-8-3-9 4zM902 142l9-3-9-4-9 2zM763 141l9-4-9-3-9 4zM885 141l8-4-8-4-9 3zM780 140l9-4-9-3-8 4zM806 143l9-4-9-4-8 4zM841 143l9-4-9-4-8 4zM824 143l9-4-9-4-9 4z" fill="#ff4600"/>
<path d="M919 143l9-2-8-5-9 3zM754 145l9-4-9-3-8 4zM893 145l9-3-9-5-8 4zM772 144l8-4-8-3-9 4zM876 144l9-3-9-5-9 4zM789 143l9-4-9-3-9 4zM859 143l8-3-8-4-9 3z" fill="#ff4c00"/>
<path d="M928 148l9-3-9-4-9 2zM737 147l9-5-9-3-9 5zM911 146l8-3-8-4-9 3z" fill="#ff5300"/>
<path d="M702 151l9-5-9-3-9 5zM946 150l8-3-8-4-9 2zM719 149l9-5-8-3-9 5z" fill="#ff5900"/>
<path d="M685 153l8-5-8-2-9 5zM963 152l9-2-9-5-9 2zM711 154l8-5-8-3-9 5zM937 153l9-3-9-5-9 3zM728 152l9-5-9-3-9 5z" fill="#ff6000"/>
<path d="M667 156l9-5-9-3-8 5zM980 155l9-3-9-4-8 2zM693 156l9-5-9-3-8 5zM954 155l9-3-9-5-8 3z" fill="#ff6600"/>
<path d="M650 159l9-6-9-2-9 5zM998 158l8-2-8-5-9 1zM676 158l9-5-9-2-9 5zM972 157l8-2-8-5-9 2z" fill="#ff6c00"/>
<path d="M659 161l8-5-8-3-9 6zM989 160l9-2-9-6-9 3z" fill="#ff7300"/>
<path d="M641 164l9-5-9-3-8 6zM1006 163l9-2-9-5-8 2z" fill="#ff7900"/>
<path d="M624 168l9-6-9-2-9 5zM1024 166l8-2-8-5-9 2z" fill="#ff8000"/>
<path d="M1041 170l9-2-9-5-9 1zM633 170l8-6-8-2-9 6z" fill="#ff8600"/>
<path d="M607 171l8-6-8-1-9 5zM615 173l9-5-9-3-8 6zM1032 172l9-2-9-6-8 2z" fill="#ff8c00"/>
<path d="M1058 174l9-2-8-5-9 1zM1050 176l8-2-8-6-9 2z" fill="#ff9300"/>
<path d="M598 177l9-6-9-2-9 6z" fill="#ff9900"/>
<path d="M580 181l9-6-8-2-9 6zM1067 180l9-2-9-6-9 2z" fill="#ff9f00"/>
<path d="M563 186l9-7-9-1-9 6zM1084 184l9-1-8-6-9 1zM572 188l8-7-8-2-9 7z" fill="#ffac00"/>
<path d="M1102 189l9-1-9-6-9 1z" fill="#ffb300"/>
<path d="M546 190l8-6-8-1-9 6zM554 192l9-6-9-2-8 6zM1093 191l9-2-9-6-9 1z" fill="#ffb900"/>
<path d="M1119 194l9-1-9-6-8 1zM1110 196l9-2-8-6-9 1z" fill="#ffbf00"/>
<path d="M537 197l9-7-9-1-9 6z" fill="#ffc600"/>
<path d="M1128 201l9-2-9-6-9 1z" fill="#ffcc00"/>
<path d="M520 202l8-7-8-1-9 6zM528 203l9-6-9-2-8 7z" fill="#ffd200"/>
<path d="M1145 206l9-1-9-7-8 1z" fill="#ffd900"/>
<path d="M502 207l9-7-9-1-8 7zM511 209l9-7-9-2-9 7zM1136 208l9-2-8-7-9 2z" fill="#ffdf00"/>
<path d="M494 214l8-7-8-1-9 6zM1154 213l9-1-9-7-9 1z" fill="#ffec00"/>
<path d="M476 219l9-7-9-1-8 7zM1171 219l9-1-9-7-8 1zM485 221l9-7-9-2-9 7z" fill="#fff900"/>
<path d="M1240 262l9-2-9-7-8 1z" fill="#a6ff00"/>
<path d="M1232 254l8-1-8-8-9 1zM424 255l9-7-9-2-8 8zM1223 255l9-1-9-8-9 1z" fill="#b9ff00"/>
<path d="M433 248l9-8-9-1-9 7zM442 249l8-7-8-2-9 8zM1206 249l8-2-8-8-9 2z" fill="#c6ff00"/>
<path d="M1214 247l9-1-8-8-9 1z" fill="#ccff00"/>
<path d="M450 242l9-8-9-1-8 7zM1197 241l9-2-9-7-9 1z" fill="#d9ff00"/>
<path d="M1188 233l9-1-8-7-9 1zM468 236l8-8-8-1-9 7zM1180 235l8-2-8-7-9 1z" fill="#e5ff00"/>
<path d="M476 228l9-7-9-2-8 8zM485 230l9-7-9-2-9 7z" fill="#f2ff00"/>
<path d="M1171 227l9-1-9-7-9 1z" fill="#f9ff00"/>
<path d="M885 148l8-3-8-4-9 3zM780 148l9-5-9-3-8 4zM867 147l9-3-9-4-8 3zM798 147l8-4-8-4-9 4zM850 147l9-4-9-4-9 4zM815 147l9-4-9-4-9 4zM832 147l9-4-8-4-9 4z" fill="#ff5300"/>
<path d="M919 151l9-3-9-5-8 3zM746 150l8-5-8-3-9 5zM902 150l9-4-9-4-9 3zM763 149l9-5-9-3-9 4zM789 152l9-5-9-4-9 5zM859 151l8-4-8-4-9 4zM806 151l9-4-9-4-8 4zM841 151l9-4-9-4-9 4zM824 151l8-4-8-4-9 4z" fill="#ff5900"/>
<path d="M911 154l8-3-8-5-9 4zM754 154l9-5-9-4-8 5zM893 153l9-3-9-5-8 3zM772 152l8-4-8-4-9 5zM876 152l9-4-9-4-9 3z" fill="#ff6000"/>
<path d="M719 157l9-5-9-3-8 5zM928 156l9-3-9-5-9 3zM737 155l9-5-9-3-9 5z" fill="#ff6600"/>
<path d="M702 159l9-5-9-3-9 5zM945 158l9-3-8-5-9 3z" fill="#ff6c00"/>
<path d="M980 163l9-3-9-5-8 2zM685 161l8-5-8-3-9 5zM963 160l9-3-9-5-9 3zM711 162l8-5-8-3-9 5z" fill="#ff7300"/>
<path d="M667 164l9-6-9-2-8 5zM971 166l9-3-8-6-9 3zM693 164l9-5-9-3-8 5zM954 163l9-3-9-5-9 3z" fill="#ff7900"/>
<path d="M650 167l9-6-9-2-9 5zM998 166l8-3-8-5-9 2zM989 168l9-2-9-6-9 3zM676 167l9-6-9-3-9 6z" fill="#ff8000"/>
<path d="M1015 169l9-3-9-5-9 2zM1006 171l9-2-9-6-8 3zM659 170l8-6-8-3-9 6z" fill="#ff8600"/>
<path d="M641 173l9-6-9-3-8 6z" fill="#ff8c00"/>
<path d="M624 176l9-6-9-2-9 5zM1024 175l8-3-8-6-9 3z" fill="#ff9300"/>
<path d="M607 180l8-7-8-2-9 6zM1041 178l9-2-9-6-9 2zM633 179l8-6-8-3-9 6z" fill="#ff9900"/>
<path d="M1058 182l9-2-9-6-8 2zM615 182l9-6-9-3-8 7zM1032 181l9-3-9-6-8 3z" fill="#ff9f00"/>
<path d="M589 183l9-6-9-2-9 6zM1050 185l8-3-8-6-9 2z" fill="#ffa600"/>
<path d="M1076 186l8-2-8-6-9 2zM598 186l9-6-9-3-9 6z" fill="#ffac00"/>
<path d="M580 190l9-7-9-2-8 7zM1067 189l9-3-9-6-9 2z" fill="#ffb300"/>
<path d="M1084 193l9-2-9-7-8 2z" fill="#ffb900"/>
<path d="M563 194l9-6-9-2-9 6zM572 197l8-7-8-2-9 6z" fill="#ffbf00"/>
<path d="M546 199l8-7-8-2-9 7zM1102 197l8-1-8-7-9 2zM1093 200l9-3-9-6-9 2z" fill="#ffc600"/>
<path d="M554 201l9-7-9-2-8 7z" fill="#ffcc00"/>
<path d="M1119 202l9-1-9-7-9 2zM1110 204l9-2-9-6-8 1z" fill="#ffd200"/>
<path d="M537 206l9-7-9-2-9 6z" fill="#ffd900"/>
<path d="M520 210l8-7-8-1-9 7zM1128 209l8-1-8-7-9 1z" fill="#ffdf00"/>
<path d="M528 213l9-7-9-3-8 7z" fill="#ffe500"/>
<path d="M502 216l9-7-9-2-8 7zM1145 215l9-2-9-7-9 2zM1136 216l9-1-9-7-8 1z" fill="#ffec00"/>
<path d="M511 218l9-8-9-1-9 7z" fill="#fff200"/>
<path d="M1162 220l9-1-8-7-9 1zM1154 222l8-2-8-7-9 2z" fill="#fff900"/>
<path d="M494 223l8-7-8-2-9 7z" fill="#ffff00"/>
<path d="M1232 263l8-1-8-8-9 1zM1223 265l9-2-9-8-9 2z" fill="#a6ff00"/>
<path d="M433 257l9-8-9-1-9 7zM442 259l8-8-8-2-9 8zM1206 259l8-2-8-8-9 2z" fill="#b3ff00"/>
<path d="M1214 257l9-2-9-8-8 2z" fill="#b9ff00"/>
<path d="M450 251l9-8-9-1-8 7z" fill="#bfff00"/>
<path d="M1197 251l9-2-9-8-9 2z" fill="#c6ff00"/>
<path d="M459 243l9-7-9-2-9 8zM1188 243l9-2-9-8-8 2zM468 246l8-8-8-2-9 7zM1180 245l8-2-8-8-9 2z" fill="#d2ff00"/>
<path d="M476 238l9-8-9-2-8 8zM485 240l9-8-9-2-9 8z" fill="#dfff00"/>
<path d="M1171 237l9-2-9-8-9 2z" fill="#e5ff00"/>
<path d="M494 232l8-7-8-2-9 7z" fill="#ecff00"/>
<path d="M1162 229l9-2-9-7-8 2zM1154 231l8-2-8-7-9 2z" fill="#f2ff00"/>
<path d="M511 227l9-7-9-2-9 7z" fill="#f9ff00"/>
<path d="M763 157l9-5-9-3-9 5zM885 157l8-4-8-5-9 4zM780 156l9-4-9-4-8 4zM867 156l9-4-9-5-8 4zM798 156l8-5-8-4-9 5zM850 156l9-5-9-4-9 4zM815 155l9-4-9-4-9 4zM832 155l9-4-9-4-8 4z" fill="#ff6600"/>
<path d="M728 160l9-5-9-3-9 5zM919 160l9-4-9-5-8 3zM745 159l9-5-8-4-9 5zM902 158l9-4-9-4-9 3zM876 161l9-4-9-5-9 4zM789 161l9-5-9-4-9 4zM858 160l9-4-8-5-9 5zM806 160l9-5-9-4-8 5zM841 160l9-4-9-5-9 4zM824 160l8-5-8-4-9 4z" fill="#ff6c00"/>
<path d="M937 161l8-3-8-5-9 3zM911 163l8-3-8-6-9 4zM754 163l9-6-9-3-9 5zM893 162l9-4-9-5-8 4zM772 162l8-6-8-4-9 5z" fill="#ff7300"/>
<path d="M719 166l9-6-9-3-8 5zM928 165l9-4-9-5-9 4zM737 164l8-5-8-4-9 5z" fill="#ff7900"/>
<path d="M963 169l8-3-8-6-9 3zM702 168l9-6-9-3-9 5zM945 167l9-4-9-5-8 3z" fill="#ff8000"/>
<path d="M980 172l9-4-9-5-9 3zM685 170l8-6-8-3-9 6zM711 172l8-6-8-4-9 6z" fill="#ff8600"/>
<path d="M998 174l8-3-8-5-9 2zM667 173l9-6-9-3-8 6zM971 175l9-3-9-6-8 3zM693 174l9-6-9-4-8 6zM954 173l9-4-9-6-9 4z" fill="#ff8c00"/>
<path d="M650 176l9-6-9-3-9 6zM989 178l9-4-9-6-9 4zM676 176l9-6-9-3-9 6z" fill="#ff9300"/>
<path d="M1015 178l9-3-9-6-9 2zM1006 181l9-3-9-7-8 3zM659 179l8-6-8-3-9 6z" fill="#ff9900"/>
<path d="M641 182l9-6-9-3-8 6z" fill="#ff9f00"/>
<path d="M624 185l9-6-9-3-9 6zM1024 184l8-3-8-6-9 3z" fill="#ffa600"/>
<path d="M607 189l8-7-8-2-9 6zM1041 187l9-2-9-7-9 3zM633 188l8-6-8-3-9 6z" fill="#ffac00"/>
<path d="M1058 191l9-2-9-7-8 3zM615 192l9-7-9-3-8 7zM1032 190l9-3-9-6-8 3z" fill="#ffb300"/>
<path d="M589 192l9-6-9-3-9 7zM1050 194l8-3-8-6-9 2z" fill="#ffb900"/>
<path d="M1076 195l8-2-8-7-9 3zM598 195l9-6-9-3-9 6z" fill="#ffbf00"/>
<path d="M580 199l9-7-9-2-8 7zM1067 198l9-3-9-6-9 2z" fill="#ffc600"/>
<path d="M1084 202l9-2-9-7-8 2z" fill="#ffcc00"/>
<path d="M563 203l9-6-9-3-9 7zM572 206l8-7-8-2-9 6z" fill="#ffd200"/>
<path d="M546 208l8-7-8-2-9 7zM1102 207l8-3-8-7-9 3zM1093 209l9-2-9-7-9 2z" fill="#ffd900"/>
<path d="M554 210l9-7-9-2-8 7z" fill="#ffdf00"/>
<path d="M1119 211l9-2-9-7-9 2zM1110 214l9-3-9-7-8 3z" fill="#ffe500"/>
<path d="M537 215l9-7-9-2-9 7z" fill="#ffec00"/>
<path d="M520 220l8-7-8-3-9 8zM1128 219l8-3-8-7-9 2z" fill="#fff200"/>
<path d="M528 222l9-7-9-2-8 7z" fill="#fff900"/>
<path d="M502 225l9-7-9-2-8 7zM1145 224l9-2-9-7-9 1zM1136 226l9-2-9-8-8 3z" fill="#ffff00"/>
<path d="M1214 267l9-2-9-8-8 2zM1206 270l8-3-8-8-9 2z" fill="#9fff00"/>
<path d="M450 262l9-8-9-3-8 8z" fill="#acff00"/>
<path d="M1197 261l9-2-9-8-9 2z" fill="#b3ff00"/>
<path d="M468 256l8-8-8-2-9 8z" fill="#b9ff00"/>
<path d="M459 254l9-8-9-3-9 8zM1188 253l9-2-9-8-8 2zM1180 255l8-2-8-8-9 2z" fill="#bfff00"/>
<path d="M485 251l9-8-9-3-9 8z" fill="#c6ff00"/>
<path d="M476 248l9-8-9-2-8 8zM1171 247l9-2-9-8-9 2z" fill="#ccff00"/>
<path d="M494 243l8-8-8-3-9 8zM1154 242l8-3-8-8-9 3z" fill="#d9ff00"/>
<path d="M1162 239l9-2-9-8-8 2z" fill="#dfff00"/>
<path d="M511 238l9-8-9-3-9 8zM1136 237l9-3-9-8-8 3z" fill="#e5ff00"/>
<path d="M502 235l9-8-9-2-8 7zM1145 234l9-3-9-7-9 2z" fill="#ecff00"/>
<path d="M520 230l8-8-8-2-9 7zM528 233l9-8-9-3-8 8z" fill="#f2ff00"/>
<path d="M1128 229l8-3-8-7-9 2z" fill="#f9ff00"/>
<path d="M763 167l9-5-9-5-9 6zM885 166l8-4-8-5-9 4zM780 166l9-5-9-5-8 6zM867 166l9-5-9-5-9 4zM798 165l8-5-8-4-9 5zM850 165l8-5-8-4-9 4zM815 165l9-5-9-5-9 5zM832 165l9-5-9-5-8 5z" fill="#ff7900"/>
<path d="M728 170l9-6-9-4-9 6zM919 169l9-4-9-5-8 3zM745 168l9-5-9-4-8 5zM902 168l9-5-9-5-9 4zM789 171l9-6-9-4-9 5zM806 170l9-5-9-5-8 5zM858 170l9-4-9-6-8 5zM824 170l8-5-8-5-9 5zM841 170l9-5-9-5-9 5z" fill="#ff8000"/>
<path d="M937 171l8-4-8-6-9 4zM911 173l8-4-8-6-9 5zM754 172l9-5-9-4-9 5zM893 172l9-4-9-6-8 4zM772 171l8-5-8-4-9 5zM876 171l9-5-9-5-9 5z" fill="#ff8600"/>
<path d="M719 176l9-6-9-4-8 6zM928 175l9-4-9-6-9 4zM737 174l8-6-8-4-9 6z" fill="#ff8c00"/>
<path d="M702 177l9-5-9-4-9 6zM945 177l9-4-9-6-8 4z" fill="#ff9300"/>
<path d="M980 181l9-3-9-6-9 3zM685 180l8-6-8-4-9 6zM963 179l8-4-8-6-9 4zM711 182l8-6-8-4-9 5z" fill="#ff9900"/>
<path d="M997 184l9-3-8-7-9 4zM667 182l9-6-9-3-8 6zM693 184l9-7-9-3-8 6zM954 183l9-4-9-6-9 4z" fill="#ff9f00"/>
<path d="M650 185l9-6-9-3-9 6zM676 186l9-6-9-4-9 6zM971 185l9-4-9-6-8 4z" fill="#ffa600"/>
<path d="M1015 187l9-3-9-6-9 3zM659 189l8-7-8-3-9 6zM989 188l8-4-8-6-9 3z" fill="#ffac00"/>
<path d="M641 192l9-7-9-3-8 6zM1006 191l9-4-9-6-9 3z" fill="#ffb300"/>
<path d="M624 195l9-7-9-3-9 7zM1023 194l9-4-8-6-9 3z" fill="#ffb900"/>
<path d="M1041 197l9-3-9-7-9 3zM633 198l8-6-8-4-9 7z" fill="#ffbf00"/>
<path d="M1058 201l9-3-9-7-8 3zM606 198l9-6-8-3-9 6zM1032 201l9-4-9-7-9 4z" fill="#ffc600"/>
<path d="M589 202l9-7-9-3-9 7zM1050 204l8-3-8-7-9 3zM615 202l9-7-9-3-9 6z" fill="#ffcc00"/>
<path d="M1076 205l8-3-8-7-9 3zM598 205l8-7-8-3-9 7z" fill="#ffd200"/>
<path d="M580 209l9-7-9-3-8 7zM1067 208l9-3-9-7-9 3z" fill="#ffd900"/>
<path d="M1084 212l9-3-9-7-8 3z" fill="#ffdf00"/>
<path d="M563 213l9-7-9-3-9 7z" fill="#ffe500"/>
<path d="M546 218l8-8-8-2-9 7zM1102 217l8-3-8-7-9 2zM572 217l8-8-8-3-9 7z" fill="#ffec00"/>
<path d="M554 221l9-8-9-3-8 8zM1093 220l9-3-9-8-9 3z" fill="#fff200"/>
<path d="M1119 221l9-2-9-8-9 3zM1110 224l9-3-9-7-8 3z" fill="#fff900"/>
<path d="M537 225l9-7-9-3-9 7z" fill="#ffff00"/>
<path d="M1197 272l9-2-9-9-9 3z" fill="#99ff00"/>
<path d="M468 267l8-8-8-3-9 8zM1179 267l9-3-8-9-9 3z" fill="#a6ff00"/>
<path d="M459 264l9-8-9-2-9 8zM1188 264l9-3-9-8-8 2z" fill="#acff00"/>
<path d="M485 262l9-8-9-3-9 8z" fill="#b3ff00"/>
<path d="M476 259l9-8-9-3-8 8zM1171 258l9-3-9-8-9 3z" fill="#b9ff00"/>
<path d="M494 254l8-8-8-3-9 8z" fill="#bfff00"/>
<path d="M1154 253l8-3-8-8-9 3z" fill="#c6ff00"/>
<path d="M1162 250l9-3-9-8-8 3zM511 249l9-8-9-3-9 8z" fill="#ccff00"/>
<path d="M502 246l9-8-9-3-8 8zM1136 248l9-3-9-8-8 3z" fill="#d2ff00"/>
<path d="M1145 245l9-3-9-8-9 3zM528 244l9-8-9-3-8 8z" fill="#d9ff00"/>
<path d="M520 241l8-8-8-3-9 8zM1128 240l8-3-8-8-9 3z" fill="#dfff00"/>
<path d="M537 236l9-8-9-3-9 8zM1110 235l9-3-9-8-8 3z" fill="#ecff00"/>
<path d="M1119 232l9-3-9-8-9 3zM554 232l9-8-9-3-8 7z" fill="#f2ff00"/>
<path d="M546 228l8-7-8-3-9 7zM1093 231l9-4-9-7-9 3z" fill="#f9ff00"/>
<path d="M780 176l9-5-9-5-8 5zM884 177l9-5-8-6-9 5zM798 175l8-5-8-5-9 6zM867 176l9-5-9-5-9 4zM815 175l9-5-9-5-9 5zM850 175l8-5-8-5-9 5zM832 175l9-5-9-5-8 5z" fill="#ff8c00"/>
<path d="M919 179l9-4-9-6-8 4zM745 178l9-6-9-4-8 6zM763 177l9-6-9-4-9 5zM902 178l9-5-9-5-9 4z" fill="#ff9300"/>
<path d="M937 181l8-4-8-6-9 4zM728 180l9-6-9-4-9 6zM771 182l9-6-8-5-9 6zM893 182l9-4-9-6-9 5zM789 181l9-6-9-4-9 5zM876 182l8-5-8-6-9 5zM806 181l9-6-9-5-8 5zM858 181l9-5-9-6-8 5zM824 180l8-5-8-5-9 5zM841 181l9-6-9-5-9 5z" fill="#ff9900"/>
<path d="M737 184l8-6-8-4-9 6zM928 185l9-4-9-6-9 4zM754 183l9-6-9-5-9 6zM911 184l8-5-8-6-9 5z" fill="#ff9f00"/>
<path d="M702 188l9-6-9-5-9 7zM945 187l9-4-9-6-8 4zM719 186l9-6-9-4-8 6z" fill="#ffa600"/>
<path d="M685 190l8-6-8-4-9 6zM963 189l8-4-8-6-9 4z" fill="#ffac00"/>
<path d="M667 193l9-7-9-4-8 7zM980 192l9-4-9-7-9 4zM711 192l8-6-8-4-9 6zM954 194l9-5-9-6-9 4z" fill="#ffb300"/>
<path d="M650 195l9-6-9-4-9 7zM997 194l9-3-9-7-8 4zM676 197l9-7-9-4-9 7zM971 196l9-4-9-7-8 4zM693 195l9-7-9-4-8 6z" fill="#ffb900"/>
<path d="M1015 197l8-3-8-7-9 4zM659 199l8-6-8-4-9 6zM989 198l8-4-8-6-9 4z" fill="#ffbf00"/>
<path d="M641 202l9-7-9-3-8 6zM1006 201l9-4-9-6-9 3z" fill="#ffc600"/>
<path d="M1023 204l9-3-9-7-8 3z" fill="#ffcc00"/>
<path d="M1041 208l9-4-9-7-9 4zM624 206l9-8-9-3-9 7z" fill="#ffd200"/>
<path d="M606 209l9-7-9-4-8 7zM633 209l8-7-8-4-9 8z" fill="#ffd900"/>
<path d="M589 213l9-8-9-3-9 7zM1058 211l9-3-9-7-8 3zM615 213l9-7-9-4-9 7zM1032 212l9-4-9-7-9 3z" fill="#ffdf00"/>
<path d="M1076 215l8-3-8-7-9 3zM598 216l8-7-8-4-9 8zM1049 215l9-4-8-7-9 4z" fill="#ffe500"/>
<path d="M1067 219l9-4-9-7-9 3z" fill="#ffec00"/>
<path d="M580 220l9-7-9-4-8 8z" fill="#fff200"/>
<path d="M563 224l9-7-9-4-9 8zM1084 223l9-3-9-8-8 3z" fill="#fff900"/>
<path d="M1102 227l8-3-8-7-9 3zM572 228l8-8-8-3-9 7z" fill="#ffff00"/>
<path d="M1179 279l9-4-9-8-8 3z" fill="#8cff00"/>
<path d="M1188 275l9-3-9-8-9 3z" fill="#93ff00"/>
<path d="M485 274l9-9-9-3-9 8z" fill="#99ff00"/>
<path d="M476 270l9-8-9-3-8 8zM1171 270l8-3-8-9-9 3z" fill="#9fff00"/>
<path d="M494 265l8-8-8-3-9 8zM1153 265l9-4-8-8-9 3z" fill="#acff00"/>
<path d="M1162 261l9-3-9-8-8 3zM511 261l9-9-9-3-9 8z" fill="#b3ff00"/>
<path d="M1136 260l9-4-9-8-9 3z" fill="#b9ff00"/>
<path d="M502 257l9-8-9-3-8 8zM1145 256l9-3-9-8-9 3zM528 256l9-8-9-4-8 8z" fill="#bfff00"/>
<path d="M520 252l8-8-8-3-9 8z" fill="#c6ff00"/>
<path d="M1127 251l9-3-8-8-9 3z" fill="#ccff00"/>
<path d="M537 248l9-8-9-4-9 8zM1110 247l9-4-9-8-9 4z" fill="#d2ff00"/>
<path d="M1119 243l9-3-9-8-9 3zM554 243l9-8-9-3-8 8z" fill="#d9ff00"/>
<path d="M1093 242l8-3-8-8-9 3z" fill="#dfff00"/>
<path d="M546 240l8-8-8-4-9 8zM1101 239l9-4-8-8-9 4zM572 239l8-7-8-4-9 7z" fill="#e5ff00"/>
<path d="M563 235l9-7-9-4-9 8z" fill="#ecff00"/>
<path d="M1084 234l9-3-9-8-9 3z" fill="#f2ff00"/>
<path d="M580 232l9-8-9-4-8 8zM1067 230l8-4-8-7-9 4z" fill="#f9ff00"/>
<path d="M832 186l9-5-9-6-8 5z" fill="#ff9f00"/>
<path d="M763 188l8-6-8-5-9 6zM902 189l9-5-9-6-9 4zM780 187l9-6-9-5-9 6zM884 188l9-6-9-5-8 5zM798 186l8-5-8-6-9 6zM867 187l9-5-9-6-9 5zM815 186l9-6-9-5-9 6zM850 186l8-5-8-6-9 6z" fill="#ffa600"/>
<path d="M728 191l9-7-9-4-9 6zM745 189l9-6-9-5-8 6zM919 190l9-5-9-6-8 5zM806 192l9-6-9-5-8 5zM824 192l8-6-8-6-9 6zM841 192l9-6-9-5-9 5z" fill="#ffac00"/>
<path d="M937 192l8-5-8-6-9 4zM754 194l9-6-9-5-9 6zM771 193l9-6-9-5-8 6zM893 194l9-5-9-7-9 6zM789 192l9-6-9-5-9 6zM876 193l8-5-8-6-9 5zM858 192l9-5-9-6-8 5z" fill="#ffb300"/>
<path d="M719 197l9-6-9-5-8 6zM737 196l8-7-8-5-9 7zM928 197l9-5-9-7-9 5zM910 195l9-5-8-6-9 5z" fill="#ffb900"/>
<path d="M702 199l9-7-9-4-9 7zM963 200l8-4-8-7-9 5zM945 198l9-4-9-7-8 5z" fill="#ffbf00"/>
<path d="M980 203l9-5-9-6-9 4zM685 201l8-6-8-5-9 7z" fill="#ffc600"/>
<path d="M997 205l9-4-9-7-8 4zM667 204l9-7-9-4-8 6zM693 206l9-7-9-4-8 6zM711 204l8-7-8-5-9 7zM954 205l9-5-9-6-9 4z" fill="#ffcc00"/>
<path d="M1015 208l8-4-8-7-9 4zM650 206l9-7-9-4-9 7zM676 208l9-7-9-4-9 7zM971 207l9-4-9-7-8 4z" fill="#ffd200"/>
<path d="M659 211l8-7-8-5-9 7zM989 210l8-5-8-7-9 5z" fill="#ffd900"/>
<path d="M641 214l9-8-9-4-8 7zM1006 213l9-5-9-7-9 4z" fill="#ffdf00"/>
<path d="M624 217l9-8-9-3-9 7zM1023 216l9-4-9-8-8 4z" fill="#ffe500"/>
<path d="M1041 219l8-4-8-7-9 4z" fill="#ffec00"/>
<path d="M1058 223l9-4-9-8-9 4zM606 220l9-7-9-4-8 7zM1032 223l9-4-9-7-9 4zM632 221l9-7-8-5-9 8z" fill="#fff200"/>
<path d="M589 224l9-8-9-3-9 7zM615 224l9-7-9-4-9 7z" fill="#fff900"/>
<path d="M1075 226l9-3-8-8-9 4zM598 228l8-8-8-4-9 8zM1049 227l9-4-9-8-8 4z" fill="#ffff00"/>
<path d="M1171 282l8-3-8-9-9 4z" fill="#86ff00"/>
<path d="M494 278l8-9-8-4-9 9zM1153 277l9-3-9-9-8 4z" fill="#93ff00"/>
<path d="M1162 274l9-4-9-9-9 4z" fill="#99ff00"/>
<path d="M511 273l9-9-9-3-9 8zM1136 273l9-4-9-9-9 4z" fill="#9fff00"/>
<path d="M502 269l9-8-9-4-8 8zM1145 269l8-4-8-9-9 4zM528 269l9-9-9-4-8 8z" fill="#a6ff00"/>
<path d="M520 264l8-8-8-4-9 9z" fill="#acff00"/>
<path d="M1127 264l9-4-9-9-8 4z" fill="#b3ff00"/>
<path d="M537 260l9-8-9-4-9 8zM1110 259l9-4-9-8-9 4z" fill="#b9ff00"/>
<path d="M1119 255l8-4-8-8-9 4zM554 256l9-8-9-5-8 9zM1093 255l8-4-8-9-9 5z" fill="#c6ff00"/>
<path d="M546 252l8-9-8-3-9 8zM1101 251l9-4-9-8-8 3zM572 252l8-8-8-5-9 9z" fill="#ccff00"/>
<path d="M563 248l9-9-9-4-9 8z" fill="#d2ff00"/>
<path d="M1084 247l9-5-9-8-9 4z" fill="#d9ff00"/>
<path d="M580 244l9-8-9-4-8 7zM1067 243l8-5-8-8-9 5z" fill="#dfff00"/>
<path d="M1075 238l9-4-9-8-8 4zM598 240l8-8-8-4-9 8zM1049 239l9-4-9-8-8 4z" fill="#e5ff00"/>
<path d="M589 236l9-8-9-4-9 8zM615 237l9-8-9-5-9 8z" fill="#ecff00"/>
<path d="M1058 235l9-5-9-7-9 4zM1032 236l9-5-9-8-9 5zM632 234l9-8-9-5-8 8z" fill="#f2ff00"/>
<path d="M606 232l9-8-9-4-8 8zM1041 231l8-4-8-8-9 4z" fill="#f9ff00"/>
<path d="M797 198l9-6-8-6-9 6zM815 198l9-6-9-6-9 6zM850 198l8-6-8-6-9 6zM832 198l9-6-9-6-8 6z" fill="#ffb900"/>
<path d="M745 201l9-7-9-5-8 7zM763 200l8-7-8-5-9 6zM902 200l8-5-8-6-9 5zM780 199l9-7-9-5-9 6zM884 199l9-5-9-6-8 5zM867 198l9-5-9-6-9 5z" fill="#ffbf00"/>
<path d="M728 202l9-6-9-5-9 6zM936 203l9-5-8-6-9 5zM919 202l9-5-9-7-9 5zM806 204l9-6-9-6-9 6zM858 204l9-6-9-6-8 6zM824 204l8-6-8-6-9 6zM841 204l9-6-9-6-9 6z" fill="#ffc600"/>
<path d="M754 206l9-6-9-6-9 7zM910 207l9-5-9-7-8 5zM771 205l9-6-9-6-8 7zM893 206l9-6-9-6-9 5zM789 205l8-7-8-6-9 7zM876 205l8-6-8-6-9 5z" fill="#ffcc00"/>
<path d="M719 209l9-7-9-5-8 7zM737 208l8-7-8-5-9 6zM928 209l8-6-8-6-9 5z" fill="#ffd200"/>
<path d="M702 211l9-7-9-5-9 7zM963 212l8-5-8-7-9 5zM945 210l9-5-9-7-9 5z" fill="#ffd900"/>
<path d="M980 215l9-5-9-7-9 4zM685 213l8-7-8-5-9 7zM728 215l9-7-9-6-9 7zM936 216l9-6-9-7-8 6z" fill="#ffdf00"/>
<path d="M997 217l9-4-9-8-8 5zM667 216l9-8-9-4-8 7zM693 218l9-7-9-5-8 7zM711 216l8-7-8-5-9 7zM954 218l9-6-9-7-9 5z" fill="#ffe500"/>
<path d="M1015 220l8-4-8-8-9 5zM650 218l9-7-9-5-9 8zM676 221l9-8-9-5-9 8zM971 220l9-5-9-8-8 5z" fill="#ffec00"/>
<path d="M659 223l8-7-8-5-9 7zM989 222l8-5-8-7-9 5z" fill="#fff200"/>
<path d="M641 226l9-8-9-4-9 7zM1006 225l9-5-9-7-9 4z" fill="#fff900"/>
<path d="M624 229l8-8-8-4-9 7zM1023 228l9-5-9-7-8 4z" fill="#ffff00"/>
<path d="M1153 291l9-5-9-9-8 5z" fill="#79ff00"/>
<path d="M1162 286l9-4-9-8-9 3zM511 286l9-9-9-4-9 9z" fill="#80ff00"/>
<path d="M1136 286l9-4-9-9-9 4z" fill="#86ff00"/>
<path d="M502 282l9-9-9-4-8 9zM1145 282l8-5-8-8-9 4zM528 282l9-9-9-4-8 8z" fill="#8cff00"/>
<path d="M520 277l8-8-8-5-9 9z" fill="#93ff00"/>
<path d="M1127 277l9-4-9-9-8 4z" fill="#99ff00"/>
<path d="M537 273l9-9-9-4-9 9zM1110 272l9-4-9-9-9 5z" fill="#9fff00"/>
<path d="M554 269l9-9-9-4-8 8z" fill="#a6ff00"/>
<path d="M1119 268l8-4-8-9-9 4zM1093 268l8-4-8-9-9 5z" fill="#acff00"/>
<path d="M546 264l8-8-8-4-9 8zM1101 264l9-5-9-8-8 4zM572 265l8-8-8-5-9 8zM1075 264l9-4-9-9-8 5z" fill="#b3ff00"/>
<path d="M563 260l9-8-9-4-9 8zM589 261l9-8-9-5-9 9z" fill="#b9ff00"/>
<path d="M1084 260l9-5-9-8-9 4z" fill="#bfff00"/>
<path d="M580 257l9-9-9-4-8 8zM1067 256l8-5-8-8-9 4z" fill="#c6ff00"/>
<path d="M1075 251l9-4-9-9-8 5zM598 253l8-8-8-5-9 8zM1049 252l9-5-9-8-8 5z" fill="#ccff00"/>
<path d="M589 248l9-8-9-4-9 8zM615 250l9-8-9-5-9 8zM1032 249l9-5-9-8-9 5z" fill="#d2ff00"/>
<path d="M1058 247l9-4-9-8-9 4zM632 247l9-8-9-5-8 8z" fill="#d9ff00"/>
<path d="M606 245l9-8-9-5-8 8zM1041 244l8-5-8-8-9 5zM1015 246l8-5-8-8-9 5zM650 244l9-8-9-5-9 8z" fill="#dfff00"/>
<path d="M624 242l8-8-8-5-9 8zM1023 241l9-5-9-8-8 5z" fill="#e5ff00"/>
<path d="M641 239l9-8-9-5-9 8zM1006 238l9-5-9-8-9 5z" fill="#ecff00"/>
<path d="M659 236l8-8-8-5-9 8zM988 235l9-5-8-8-9 5z" fill="#f2ff00"/>
<path d="M1015 233l8-5-8-8-9 5zM650 231l9-8-9-5-9 8zM676 233l9-7-9-5-9 7zM971 233l9-6-9-7-9 5z" fill="#f9ff00"/>
<path d="M797 211l9-7-9-6-8 7zM815 210l9-6-9-6-9 6zM850 210l8-6-8-6-9 6zM832 210l9-6-9-6-8 6z" fill="#ffd200"/>
<path d="M745 213l9-7-9-5-8 7zM763 212l8-7-8-5-9 6zM902 213l8-6-8-7-9 6zM780 211l9-6-9-6-9 6zM884 212l9-6-9-7-8 6zM867 211l9-6-9-7-9 6z" fill="#ffd900"/>
<path d="M919 214l9-5-9-7-9 5zM806 217l9-7-9-6-9 7zM823 217l9-7-8-6-9 6zM841 217l9-7-9-6-9 6z" fill="#ffdf00"/>
<path d="M754 219l9-7-9-6-9 7zM771 218l9-7-9-6-8 7zM893 219l9-6-9-7-9 6zM789 217l8-6-8-6-9 6zM876 218l8-6-8-7-9 6zM858 217l9-6-9-7-8 6z" fill="#ffe500"/>
<path d="M719 222l9-7-9-6-8 7zM737 220l8-7-8-5-9 7zM928 221l8-5-8-7-9 5zM910 220l9-6-9-7-8 6z" fill="#ffec00"/>
<path d="M962 225l9-5-8-8-9 6zM702 224l9-8-9-5-9 7zM945 223l9-5-9-8-9 6z" fill="#fff200"/>
<path d="M980 227l9-5-9-7-9 5zM685 226l8-8-8-5-9 8zM728 228l9-8-9-5-9 7z" fill="#fff900"/>
<path d="M997 230l9-5-9-8-8 5zM667 228l9-7-9-5-8 7zM693 231l9-7-9-6-8 8zM954 231l8-6-8-7-9 5zM711 229l8-7-8-6-9 8zM936 229l9-6-9-7-8 5z" fill="#ffff00"/>
<path d="M1136 300l9-5-9-9-9 5z" fill="#66ff00"/>
<path d="M1145 295l8-4-8-9-9 4zM528 296l9-9-9-5-8 9zM1118 296l9-5-8-10-9 5z" fill="#73ff00"/>
<path d="M520 291l8-9-8-5-9 9zM1127 291l9-5-9-9-8 4zM546 292l8-9-8-5-9 9z" fill="#79ff00"/>
<path d="M537 287l9-9-9-5-9 9zM1110 286l9-5-9-9-9 5z" fill="#86ff00"/>
<path d="M1119 281l8-4-8-9-9 4zM554 283l9-9-9-5-8 9zM1092 282l9-5-8-9-9 5z" fill="#8cff00"/>
<path d="M572 279l8-9-8-5-9 9z" fill="#93ff00"/>
<path d="M546 278l8-9-8-5-9 9zM1101 277l9-5-9-8-8 4zM1075 278l9-5-9-9-8 5z" fill="#99ff00"/>
<path d="M563 274l9-9-9-5-9 9zM1084 273l9-5-9-8-9 4zM589 275l9-8-9-6-9 9z" fill="#9fff00"/>
<path d="M580 270l9-9-9-4-8 8z" fill="#a6ff00"/>
<path d="M1067 269l8-5-8-8-9 5z" fill="#acff00"/>
<path d="M598 267l8-9-8-5-9 8zM1049 266l9-5-9-9-8 5z" fill="#b3ff00"/>
<path d="M1058 261l9-5-9-9-9 5zM615 263l9-8-9-5-9 8zM1032 263l9-6-9-8-9 5z" fill="#b9ff00"/>
<path d="M606 258l9-8-9-5-8 8zM632 260l9-8-9-5-8 8zM1014 260l9-6-8-8-9 5z" fill="#bfff00"/>
<path d="M1041 257l8-5-8-8-9 5zM624 255l8-8-8-5-9 8zM650 258l9-9-9-5-9 8z" fill="#c6ff00"/>
<path d="M1023 254l9-5-9-8-8 5z" fill="#ccff00"/>
<path d="M641 252l9-8-9-5-9 8zM1006 251l9-5-9-8-9 5z" fill="#d2ff00"/>
<path d="M659 249l8-8-8-5-9 8zM988 249l9-6-9-8-8 6zM676 247l9-8-9-6-9 8z" fill="#d9ff00"/>
<path d="M971 246l9-5-9-8-9 5zM693 245l9-8-9-6-8 8zM954 244l8-6-8-7-9 5z" fill="#dfff00"/>
<path d="M997 243l9-5-9-8-9 5zM667 241l9-8-9-5-8 8zM980 241l8-6-8-8-9 6zM711 243l8-8-8-6-9 8zM936 242l9-6-9-7-8 6zM728 241l9-7-9-6-9 7z" fill="#e5ff00"/>
<path d="M685 239l8-8-8-5-9 7zM962 238l9-5-9-8-8 6zM919 241l9-6-9-8-9 6zM745 240l9-7-9-7-8 8zM902 240l8-7-8-7-9 6zM763 239l8-7-8-7-9 8z" fill="#ecff00"/>
<path d="M702 237l9-8-9-5-9 7zM945 236l9-5-9-8-9 6zM719 235l9-7-9-6-8 7z" fill="#f2ff00"/>
<path d="M928 235l8-6-8-8-9 6zM737 234l8-8-8-6-9 8zM754 233l9-8-9-6-9 7zM910 233l9-6-9-7-8 6z" fill="#f9ff00"/>
<path d="M763 225l8-7-8-6-9 7zM902 226l8-6-8-7-9 6zM780 224l9-7-9-6-9 7zM884 225l9-6-9-7-8 6zM797 224l9-7-9-6-8 6zM867 224l9-6-9-7-9 6zM815 223l8-6-8-7-9 7zM850 224l8-7-8-7-9 7zM832 223l9-6-9-7-9 7z" fill="#fff200"/>
<path d="M745 226l9-7-9-6-8 7zM919 227l9-6-9-7-9 6z" fill="#fff900"/>
<path d="M771 232l9-8-9-6-8 7zM893 232l9-6-9-7-9 6zM789 231l8-7-8-7-9 7zM876 231l8-6-8-7-9 6zM806 230l9-7-9-6-9 7zM858 231l9-7-9-7-8 7zM823 230l9-7-9-6-8 6zM841 230l9-6-9-7-9 6z" fill="#ffff00"/>
<path d="M1118 310l9-5-9-9-8 5z" fill="#53ff00"/>
<path d="M546 306l8-9-8-5-9 9z" fill="#59ff00"/>
<path d="M1127 305l9-5-9-9-9 5z" fill="#60ff00"/>
<path d="M537 301l9-9-9-5-9 9zM1110 301l8-5-8-10-9 5z" fill="#66ff00"/>
<path d="M554 297l9-9-9-5-8 9zM1092 297l9-6-9-9-8 6z" fill="#73ff00"/>
<path d="M1101 291l9-5-9-9-9 5zM572 293l8-9-8-5-9 9zM1075 293l9-5-9-10-9 6z" fill="#79ff00"/>
<path d="M563 288l9-9-9-5-9 9zM589 290l9-9-9-6-9 9z" fill="#80ff00"/>
<path d="M1084 288l8-6-8-9-9 5z" fill="#86ff00"/>
<path d="M580 284l9-9-9-5-8 9zM1066 284l9-6-8-9-9 6z" fill="#8cff00"/>
<path d="M598 281l8-9-8-5-9 8zM1049 280l9-5-9-9-9 5z" fill="#93ff00"/>
<path d="M615 278l9-9-9-6-9 9zM1032 277l8-6-8-8-9 5z" fill="#99ff00"/>
<path d="M1058 275l9-6-9-8-9 5zM632 275l9-9-9-6-8 9zM1014 274l9-6-9-8-8 6z" fill="#9fff00"/>
<path d="M606 272l9-9-9-5-8 9zM1040 271l9-5-8-9-9 6zM650 272l9-8-9-6-9 8zM997 272l9-6-9-9-9 6z" fill="#a6ff00"/>
<path d="M624 269l8-9-8-5-9 8zM1023 268l9-5-9-9-9 6zM667 270l9-9-9-6-8 9z" fill="#acff00"/>
<path d="M641 266l9-8-9-6-9 8zM1006 266l8-6-8-9-9 6z" fill="#b3ff00"/>
<path d="M659 264l8-9-8-6-9 9zM988 263l9-6-9-8-8 6z" fill="#b9ff00"/>
<path d="M676 261l9-8-9-6-9 8zM971 261l9-6-9-9-9 6z" fill="#bfff00"/>
<path d="M997 257l9-6-9-8-9 6zM693 259l9-8-9-6-8 8zM954 259l8-7-8-8-9 7zM711 257l8-8-8-6-9 8zM936 257l9-6-9-9-8 7z" fill="#c6ff00"/>
<path d="M667 255l9-8-9-6-8 8zM980 255l8-6-8-8-9 5zM728 256l9-8-9-7-9 8zM919 255l9-6-9-8-9 6zM745 254l9-7-9-7-8 8zM902 254l8-7-8-7-9 6z" fill="#ccff00"/>
<path d="M685 253l8-8-8-6-9 8zM962 252l9-6-9-8-8 6zM702 251l9-8-9-6-9 8zM945 251l9-7-9-8-9 6zM763 253l8-7-8-7-9 8zM884 253l9-7-9-7-8 6zM780 253l9-8-9-7-9 8z" fill="#d2ff00"/>
<path d="M719 249l9-8-9-6-8 8zM928 249l8-7-8-7-9 6zM737 248l8-8-8-6-9 7z" fill="#d9ff00"/>
<path d="M910 247l9-6-9-8-8 7zM754 247l9-8-9-6-9 7zM893 246l9-6-9-8-9 7zM771 246l9-8-9-6-8 7zM876 245l8-6-8-8-9 7zM789 245l8-7-8-7-9 7z" fill="#dfff00"/>
<path d="M858 245l9-7-9-7-9 6zM806 245l9-8-9-7-9 8zM841 244l8-7-8-7-9 7zM823 244l9-7-9-7-8 7z" fill="#e5ff00"/>
<path d="M884 239l9-7-9-7-8 6z" fill="#ecff00"/>
<path d="M780 238l9-7-9-7-9 8zM867 238l9-7-9-7-9 7zM797 238l9-8-9-6-8 7zM815 237l8-7-8-7-9 7zM849 237l9-6-8-7-9 6zM832 237l9-7-9-7-9 7z" fill="#f2ff00"/>
<path d="M1110 316l8-6-8-9-9 5z" fill="#46ff00"/>
<path d="M554 312l9-10-9-5-8 9zM1092 312l9-6-9-9-8 6z" fill="#53ff00"/>
<path d="M572 308l8-9-8-6-9 9zM1075 308l9-5-9-10-9 6z" fill="#59ff00"/>
<path d="M1101 306l9-5-9-10-9 6zM589 305l9-9-9-6-9 9zM1058 305l8-6-8-9-9 6z" fill="#60ff00"/>
<path d="M563 302l9-9-9-5-9 9zM1084 303l8-6-8-9-9 5zM606 302l9-9-9-6-8 9z" fill="#66ff00"/>
<path d="M580 299l9-9-9-6-8 9zM1066 299l9-6-9-9-8 6z" fill="#6cff00"/>
<path d="M598 296l8-9-8-6-9 9zM1049 296l9-6-9-10-9 6z" fill="#73ff00"/>
<path d="M615 293l9-9-9-6-9 9z" fill="#79ff00"/>
<path d="M1058 290l8-6-8-9-9 5zM1032 292l8-6-8-9-9 6zM632 290l9-9-9-6-8 9z" fill="#80ff00"/>
<path d="M606 287l9-9-9-6-8 9zM1040 286l9-6-9-9-8 6zM1014 290l9-7-9-9-8 7zM650 287l8-9-8-6-9 9z" fill="#86ff00"/>
<path d="M624 284l8-9-8-6-9 9zM997 287l9-6-9-9-9 6zM667 285l9-9-9-6-9 8z" fill="#8cff00"/>
<path d="M1023 283l9-6-9-9-9 6zM641 281l9-9-9-6-9 9z" fill="#93ff00"/>
<path d="M1006 281l8-7-8-8-9 6zM658 278l9-8-8-6-9 8zM988 278l9-6-9-9-8 6z" fill="#99ff00"/>
<path d="M676 276l9-8-9-7-9 9zM971 276l9-7-9-8-9 6z" fill="#9fff00"/>
<path d="M693 274l9-8-9-7-8 9zM954 274l8-7-8-8-9 6zM711 272l8-8-8-7-9 9z" fill="#a6ff00"/>
<path d="M980 269l8-6-8-8-9 6zM936 272l9-7-9-8-8 7zM728 271l9-8-9-7-9 8zM919 271l9-7-9-9-9 7zM745 270l9-9-9-7-8 9z" fill="#acff00"/>
<path d="M685 268l8-9-8-6-9 8zM962 267l9-6-9-9-8 7zM901 269l9-7-8-8-9 7zM763 269l8-9-8-7-9 8zM884 268l9-7-9-8-9 7zM780 268l9-8-9-7-9 7zM867 268l8-8-8-8-9 8zM797 267l9-8-9-7-8 8zM849 267l9-7-9-8-8 7zM815 267l8-8-8-7-9 7zM832 267l9-8-9-7-9 7z" fill="#b3ff00"/>
<path d="M702 266l9-9-9-6-9 8zM945 265l9-6-9-8-9 6zM719 264l9-8-9-7-8 8zM928 264l8-7-8-8-9 6z" fill="#b9ff00"/>
<path d="M737 263l8-9-8-6-9 8zM910 262l9-7-9-8-8 7zM754 261l9-8-9-6-9 7zM893 261l9-7-9-8-9 7zM771 260l9-7-9-7-8 7z" fill="#bfff00"/>
<path d="M875 260l9-7-8-8-9 7zM789 260l8-8-8-7-9 8zM858 260l9-8-9-7-9 7zM806 259l9-7-9-7-9 7zM841 259l8-7-8-8-9 8zM823 259l9-7-9-8-8 8z" fill="#c6ff00"/>
<path d="M867 252l9-7-9-7-9 7zM797 252l9-7-9-7-8 7zM849 252l9-7-9-8-8 7zM815 252l8-8-8-7-9 8zM832 252l9-8-9-7-9 7z" fill="#d2ff00"/>
<path d="M1092 328l9-6-9-10-8 6z" fill="#33ff00"/>
<path d="M572 324l8-10-8-6-9 10zM1075 324l9-6-9-10-9 7z" fill="#39ff00"/>
<path d="M1101 322l9-6-9-10-9 6zM589 321l9-10-9-6-9 9zM1058 321l8-6-8-10-9 6z" fill="#40ff00"/>
<path d="M563 318l9-10-9-6-9 10zM1084 318l8-6-8-9-9 5zM606 318l9-10-9-6-8 9zM1040 318l9-7-9-9-8 6z" fill="#46ff00"/>
<path d="M580 314l9-9-9-6-8 9zM1066 315l9-7-9-9-8 6z" fill="#4cff00"/>
<path d="M598 311l8-9-8-6-9 9zM1049 311l9-6-9-9-9 6z" fill="#53ff00"/>
<path d="M615 308l9-9-9-6-9 9z" fill="#59ff00"/>
<path d="M1032 308l8-6-8-10-9 7zM632 305l9-9-9-6-8 9z" fill="#60ff00"/>
<path d="M1014 306l9-7-9-9-8 6zM650 303l8-9-8-7-9 9zM997 303l9-7-9-9-9 7z" fill="#66ff00"/>
<path d="M1040 302l9-6-9-10-8 6zM624 299l8-9-8-6-9 9zM667 301l9-9-9-7-9 9zM980 301l8-7-8-9-9 7z" fill="#6cff00"/>
<path d="M1023 299l9-7-9-9-9 7zM641 296l9-9-9-6-9 9zM685 299l8-9-8-7-9 9z" fill="#73ff00"/>
<path d="M1006 296l8-6-8-9-9 6zM658 294l9-9-9-7-8 9zM988 294l9-7-9-9-8 7z" fill="#79ff00"/>
<path d="M676 292l9-9-9-7-9 9zM971 292l9-7-9-9-9 7z" fill="#80ff00"/>
<path d="M693 290l9-9-9-7-8 9zM954 290l8-7-8-9-9 7zM711 288l8-9-8-7-9 9z" fill="#86ff00"/>
<path d="M980 285l8-7-8-9-9 7zM936 288l9-7-9-9-8 7zM728 287l9-9-9-7-9 8zM919 286l9-7-9-8-9 7zM745 285l9-8-9-7-8 8z" fill="#8cff00"/>
<path d="M685 283l8-9-8-6-9 8zM962 283l9-7-9-9-8 7zM901 285l9-7-9-9-8 8zM763 284l8-8-8-7-9 8zM884 284l9-7-9-9-9 8zM780 284l9-9-9-7-9 8zM867 283l8-7-8-8-9 7zM797 283l9-8-9-8-8 8zM849 283l9-8-9-8-8 8zM815 283l8-8-8-8-9 8zM832 283l9-8-9-8-9 8z" fill="#93ff00"/>
<path d="M702 281l9-9-9-6-9 8zM945 281l9-7-9-9-9 7zM719 279l9-8-9-7-8 8zM928 279l8-7-8-8-9 7z" fill="#99ff00"/>
<path d="M737 278l8-8-8-7-9 8zM910 278l9-7-9-9-9 7zM754 277l9-8-9-8-9 9zM893 277l8-8-8-8-9 7zM771 276l9-8-9-8-8 9z" fill="#9fff00"/>
<path d="M875 276l9-8-9-8-8 8zM789 275l8-8-8-7-9 8zM858 275l9-7-9-8-9 7zM806 275l9-8-9-8-9 8zM841 275l8-8-8-8-9 8zM823 275l9-8-9-8-8 8z" fill="#a6ff00"/>
<path d="M1075 341l9-7-9-10-9 7z" fill="#1aff00"/>
<path d="M589 337l9-10-9-6-9 9zM1057 338l9-7-8-10-9 7z" fill="#20ff00"/>
<path d="M1084 334l8-6-8-10-9 6zM606 334l9-10-9-6-8 9zM1040 335l9-7-9-10-9 7z" fill="#26ff00"/>
<path d="M580 330l9-9-9-7-8 10zM1066 331l9-7-9-9-8 6zM624 331l8-9-8-7-9 9z" fill="#2dff00"/>
<path d="M598 327l8-9-8-7-9 10zM1049 328l9-7-9-10-9 7z" fill="#33ff00"/>
<path d="M615 324l9-9-9-7-9 10zM1031 325l9-7-8-10-9 7z" fill="#39ff00"/>
<path d="M632 322l9-10-9-7-8 10zM1014 322l9-7-9-9-8 6z" fill="#40ff00"/>
<path d="M650 319l8-9-8-7-9 9zM997 320l9-8-9-9-9 7z" fill="#46ff00"/>
<path d="M624 315l8-10-8-6-9 9zM1023 315l9-7-9-9-9 7zM667 317l9-9-9-7-9 9zM979 317l9-7-8-9-9 7z" fill="#4cff00"/>
<path d="M641 312l9-9-9-7-9 9zM1006 312l8-6-8-10-9 7zM685 315l8-9-8-7-9 9zM962 315l9-7-9-9-9 7zM702 313l9-9-9-7-9 9z" fill="#53ff00"/>
<path d="M658 310l9-9-9-7-8 9zM988 310l9-7-9-9-8 7z" fill="#59ff00"/>
<path d="M676 308l9-9-9-7-9 9zM971 308l9-7-9-9-9 7z" fill="#60ff00"/>
<path d="M693 306l9-9-9-7-8 9zM953 306l9-7-8-9-9 7zM711 304l8-9-8-7-9 9zM936 304l9-7-9-9-9 7z" fill="#66ff00"/>
<path d="M728 303l9-9-9-7-9 8zM919 303l8-8-8-9-9 8zM745 302l9-9-9-8-8 9zM901 302l9-8-9-9-8 8z" fill="#6cff00"/>
<path d="M962 299l9-7-9-9-8 7zM763 301l8-9-8-8-9 9zM884 301l9-8-9-9-9 8zM780 300l9-9-9-7-9 8zM867 300l8-8-8-9-9 8zM797 299l9-8-9-8-8 8zM849 299l9-8-9-8-8 8zM815 299l8-8-8-8-9 8zM832 299l9-8-9-8-9 8z" fill="#73ff00"/>
<path d="M702 297l9-9-9-7-9 9zM945 297l9-7-9-9-9 7zM719 295l9-8-9-8-8 9zM927 295l9-7-8-9-9 7z" fill="#79ff00"/>
<path d="M737 294l8-9-8-7-9 9zM910 294l9-8-9-8-9 7zM754 293l9-9-9-7-9 8zM893 293l8-8-8-8-9 7zM771 292l9-8-9-8-8 8zM875 292l9-8-9-8-8 7z" fill="#80ff00"/>
<path d="M789 291l8-8-8-8-9 9zM858 291l9-8-9-8-9 8zM806 291l9-8-9-8-9 8zM841 291l8-8-8-8-9 8zM823 291l9-8-9-8-8 8z" fill="#86ff00"/>
<path d="M1057 355l9-7-9-10-8 7z" fill="#00ff00"/>
<path d="M607 351l8-10-9-7-8 10zM1040 352l9-7-9-10-9 7z" fill="#06ff00"/>
<path d="M1066 348l9-7-9-10-9 7zM624 348l8-10-8-7-9 10zM1023 349l8-7-8-10-9 7z" fill="#0dff00"/>
<path d="M598 344l8-10-8-7-9 10zM1049 345l8-7-8-10-9 7zM641 346l9-10-9-7-9 9z" fill="#13ff00"/>
<path d="M615 341l9-10-9-7-9 10zM1031 342l9-7-9-10-8 7z" fill="#1aff00"/>
<path d="M632 338l9-9-9-7-8 9zM1014 339l9-7-9-10-9 7z" fill="#20ff00"/>
<path d="M650 336l8-10-8-7-9 10zM997 337l8-8-8-9-9 7z" fill="#26ff00"/>
<path d="M1023 332l8-7-8-10-9 7zM667 334l9-10-9-7-9 9zM979 335l9-8-9-10-8 8zM685 332l8-9-8-8-9 9zM962 333l9-8-9-10-9 8z" fill="#2dff00"/>
<path d="M641 329l9-10-9-7-9 10zM1005 329l9-7-8-10-9 8zM702 330l9-9-9-8-9 10zM945 331l8-8-8-10-9 8zM719 329l9-9-9-8-8 9zM927 329l9-8-9-9-8 8z" fill="#33ff00"/>
<path d="M658 326l9-9-9-7-8 9zM988 327l9-7-9-10-9 7zM737 328l8-10-8-7-9 9z" fill="#39ff00"/>
<path d="M676 324l9-9-9-7-9 9zM971 325l8-8-8-9-9 7zM693 323l9-10-9-7-8 9zM953 323l9-8-9-9-8 7z" fill="#40ff00"/>
<path d="M711 321l8-9-8-8-9 9zM936 321l9-8-9-9-9 8zM728 320l9-9-9-8-9 9zM919 320l8-8-8-9-9 8z" fill="#46ff00"/>
<path d="M745 318l9-9-9-7-8 9zM901 319l9-8-9-9-8 8zM763 318l8-9-8-8-9 8zM884 318l9-8-9-9-9 8zM780 317l9-9-9-8-9 9zM867 317l8-8-8-9-9 8z" fill="#4cff00"/>
<path d="M945 313l8-7-8-9-9 7zM797 316l9-8-9-9-8 9zM849 316l9-8-9-9-8 9zM815 316l8-8-8-9-9 9zM832 316l9-8-9-9-9 9z" fill="#53ff00"/>
<path d="M719 312l9-9-9-8-8 9zM927 312l9-8-9-9-8 8zM737 311l8-9-8-8-9 9zM910 311l9-8-9-9-9 8z" fill="#59ff00"/>
<path d="M754 309l9-8-9-8-9 9zM893 310l8-8-8-9-9 8zM771 309l9-9-9-8-8 9zM875 309l9-8-9-9-8 8zM789 308l8-9-8-8-9 9zM858 308l9-8-9-9-9 8zM806 308l9-9-9-8-9 8zM841 308l8-9-8-8-9 8zM823 308l9-9-9-8-8 8z" fill="#60ff00"/>
<path d="M633 356l8-10-9-8-8 10zM650 353l9-9-9-8-9 10zM997 354l8-7-8-10-9 7z" fill="#00ff00"/>
<path d="M615 358l9-10-9-7-8 10zM1014 357l9-8-9-10-9 8z" fill="#00ff06"/>
<path d="M1031 360l9-8-9-10-8 7zM659 361l8-10-8-7-9 9z" fill="#00ff0d"/>
<path d="M1049 362l8-7-8-10-9 7zM641 363l9-10-9-7-8 10zM1005 365l9-8-9-10-8 7z" fill="#00ff13"/>
<path d="M624 366l9-10-9-8-9 10zM1023 367l8-7-8-11-9 8z" fill="#00ff1a"/>
<path d="M1040 370l9-8-9-10-9 8z" fill="#00ff20"/>
<path d="M667 351l9-9-9-8-8 10zM979 352l9-8-9-9-8 7z" fill="#06ff00"/>
<path d="M685 350l8-10-8-8-9 10zM962 350l9-8-9-9-9 7zM702 348l9-10-9-8-9 10zM945 349l8-9-8-9-9 8z" fill="#0dff00"/>
<path d="M1005 347l9-8-9-10-8 8zM988 344l9-7-9-10-9 8zM719 347l9-10-9-8-8 9zM927 347l9-8-9-10-8 8zM737 345l8-9-8-8-9 9zM910 346l9-9-9-9-9 8z" fill="#13ff00"/>
<path d="M659 344l8-10-9-8-8 10zM676 342l9-10-9-8-9 10zM971 342l8-7-8-10-9 8zM754 344l9-9-9-8-9 9zM893 345l8-9-8-9-9 8zM771 344l9-10-9-8-8 9zM875 344l9-9-9-9-8 9zM789 343l8-9-8-9-9 9z" fill="#1aff00"/>
<path d="M693 340l9-10-9-7-8 9zM953 340l9-7-9-10-8 8zM711 338l8-9-8-8-9 9zM936 339l9-8-9-10-9 8z" fill="#20ff00"/>
<path d="M728 337l9-9-9-8-9 9zM919 337l8-8-8-9-9 8zM745 336l9-9-9-9-8 10zM901 336l9-8-9-9-8 8z" fill="#26ff00"/>
<path d="M763 335l8-9-8-8-9 9zM884 335l9-8-9-9-9 8zM780 334l9-9-9-8-9 9zM867 335l8-9-8-9-9 8zM797 334l9-9-9-9-8 9zM849 334l9-9-9-9-8 9zM815 334l8-9-8-9-9 9zM832 334l9-9-9-9-9 9z" fill="#2dff00"/>
<path d="M910 328l9-8-9-9-9 8zM754 327l9-9-9-9-9 9zM893 327l8-8-8-9-9 8z" fill="#39ff00"/>
<path d="M771 326l9-9-9-8-8 9zM875 326l9-8-9-9-8 8zM789 325l8-9-8-8-9 9zM858 325l9-8-9-9-9 8zM806 325l9-9-9-8-9 8zM841 325l8-9-8-8-9 8zM823 325l9-9-9-8-8 8z" fill="#40ff00"/>
<path d="M711 356l8-9-8-9-9 10zM936 357l9-8-9-10-9 8zM728 355l9-10-9-8-9 10zM919 356l8-9-8-10-9 9z" fill="#00ff00"/>
<path d="M676 359l9-9-9-8-9 9zM693 358l9-10-9-8-8 10zM953 359l9-9-9-10-8 9zM823 361l9-9-9-9-8 9z" fill="#00ff06"/>
<path d="M988 362l9-8-9-10-9 8zM971 360l8-8-8-10-9 8zM737 364l8-10-8-9-9 10zM754 363l9-10-9-9-9 10zM893 363l8-9-8-9-9 9zM771 362l9-9-9-9-8 9zM875 362l9-8-9-10-8 9zM789 362l8-10-8-9-9 10zM858 362l9-9-9-10-9 9zM806 361l9-9-9-9-9 9zM841 361l8-9-8-9-9 9z" fill="#00ff0d"/>
<path d="M702 366l9-10-9-8-9 10zM719 365l9-10-9-8-8 9zM927 366l9-9-9-10-8 9zM910 364l9-8-9-10-9 8z" fill="#00ff13"/>
<path d="M685 368l8-10-8-8-9 9zM962 369l9-9-9-10-9 9zM945 367l8-8-8-10-9 8z" fill="#00ff1a"/>
<path d="M650 371l9-10-9-8-9 10zM667 369l9-10-9-8-8 10zM979 371l9-9-9-10-8 8z" fill="#00ff20"/>
<path d="M633 374l8-11-8-7-9 10zM1014 375l9-8-9-10-9 8zM997 373l8-8-8-11-9 8z" fill="#00ff26"/>
<path d="M1031 378l9-8-9-10-8 7zM676 378l9-10-9-9-9 10z" fill="#00ff2d"/>
<path d="M641 382l9-11-9-8-8 11zM659 380l8-11-8-8-9 10zM988 381l9-8-9-11-9 9z" fill="#00ff33"/>
<path d="M1005 383l9-8-9-10-8 8z" fill="#00ff39"/>
<path d="M1023 386l8-8-8-11-9 8z" fill="#00ff40"/>
<path d="M745 354l9-10-9-8-8 9zM901 354l9-8-9-10-8 9zM763 353l8-9-8-9-9 9zM884 354l9-9-9-10-9 9zM780 353l9-10-9-9-9 10zM867 353l8-9-8-9-9 8zM797 352l9-9-9-9-8 9zM849 352l9-9-9-9-8 9zM815 352l8-9-8-9-9 9zM832 352l9-9-9-9-9 9z" fill="#06ff00"/>
<path d="M858 343l9-8-9-10-9 9zM806 343l9-9-9-9-9 9zM841 343l8-9-8-9-9 9zM823 343l9-9-9-9-8 9z" fill="#1aff00"/>
<path d="M815 371l8-10-8-9-9 9zM832 371l9-10-9-9-9 9z" fill="#00ff1a"/>
<path d="M745 373l9-10-9-9-8 10zM901 373l9-9-9-10-8 9zM762 372l9-10-8-9-9 10zM884 372l9-9-9-9-9 8zM780 371l9-9-9-9-9 9zM867 372l8-10-8-9-9 9zM797 371l9-10-9-9-8 10zM849 371l9-9-9-10-8 9z" fill="#00ff20"/>
<path d="M693 376l9-10-9-8-8 10zM711 375l8-10-8-9-9 10zM936 376l9-9-9-10-9 9zM728 374l9-10-9-9-9 10zM919 374l8-8-8-10-9 8z" fill="#00ff26"/>
<path d="M971 379l8-8-8-11-9 9zM953 377l9-8-9-10-8 8zM806 380l9-9-9-10-9 10zM823 380l9-9-9-10-8 10z" fill="#00ff2d"/>
<path d="M736 382l9-9-8-9-9 10zM754 382l8-10-8-9-9 10zM893 382l8-9-8-10-9 9zM771 381l9-10-9-9-9 10zM875 381l9-9-9-10-8 10zM788 381l9-10-8-9-9 9zM858 381l9-9-9-10-9 9zM840 380l9-9-8-10-9 10z" fill="#00ff33"/>
<path d="M702 385l9-10-9-9-9 10zM945 386l8-9-8-10-9 9zM719 384l9-10-9-9-8 10zM927 385l9-9-9-10-8 8zM910 383l9-9-9-10-9 9z" fill="#00ff39"/>
<path d="M667 388l9-10-9-9-8 11zM685 386l8-10-8-8-9 10zM962 388l9-9-9-10-9 8z" fill="#00ff40"/>
<path d="M650 390l9-10-9-9-9 11zM997 392l8-9-8-10-9 8zM979 390l9-9-9-10-8 8z" fill="#00ff46"/>
<path d="M1014 394l9-8-9-11-9 8zM693 395l9-10-9-9-8 10z" fill="#00ff4c"/>
<path d="M676 397l9-11-9-8-9 10zM970 398l9-8-8-11-9 9zM953 396l9-8-9-11-8 9z" fill="#00ff53"/>
<path d="M659 398l8-10-8-8-9 10zM988 400l9-8-9-11-9 9z" fill="#00ff59"/>
<path d="M1005 402l9-8-9-11-8 9z" fill="#00ff60"/>
<path d="M814 390l9-10-8-9-9 9zM832 390l8-10-8-9-9 9z" fill="#00ff40"/>
<path d="M728 393l8-11-8-8-9 10zM745 392l9-10-9-9-9 9zM901 392l9-9-9-10-8 9zM762 391l9-10-9-9-8 10zM884 392l9-10-9-10-9 9zM780 390l8-9-8-10-9 10zM866 391l9-10-8-9-9 9zM797 390l9-10-9-9-9 10zM849 390l9-9-9-10-9 9z" fill="#00ff46"/>
<path d="M710 394l9-10-8-9-9 10zM936 395l9-9-9-10-9 9zM918 394l9-9-8-11-9 9z" fill="#00ff4c"/>
<path d="M736 402l9-10-9-10-8 11zM754 401l8-10-8-9-9 10zM892 402l9-10-8-10-9 10zM771 400l9-10-9-9-9 10zM875 401l9-9-9-11-9 10zM788 400l9-10-9-9-8 9zM858 400l8-9-8-10-9 9zM806 400l8-10-8-10-9 10zM840 400l9-10-9-10-8 10zM823 400l9-10-9-10-9 10z" fill="#00ff59"/>
<path d="M702 404l8-10-8-9-9 10zM719 403l9-10-9-9-9 10zM927 404l9-9-9-10-9 9zM910 403l8-9-8-11-9 9z" fill="#00ff60"/>
<path d="M667 407l9-10-9-9-8 10zM685 405l8-10-8-9-9 11zM962 407l8-9-8-10-9 8zM944 405l9-9-8-10-9 9z" fill="#00ff66"/>
<path d="M996 411l9-9-8-10-9 8zM979 409l9-9-9-10-9 8z" fill="#00ff6c"/>
<path d="M693 414l9-10-9-9-8 10zM711 413l8-10-9-9-8 10zM936 415l8-10-8-10-9 9zM728 412l8-10-8-9-9 10zM918 413l9-9-9-10-8 9z" fill="#00ff73"/>
<path d="M676 416l9-11-9-8-9 10zM953 416l9-9-9-11-9 9z" fill="#00ff79"/>
<path d="M988 420l8-9-8-11-9 9zM970 418l9-9-9-11-8 9z" fill="#00ff80"/>
<path d="M745 411l9-10-9-9-9 10zM901 412l9-9-9-11-9 10zM762 410l9-10-9-9-8 10zM884 411l8-9-8-10-9 9zM780 410l8-10-8-10-9 10zM866 411l9-10-9-10-8 9zM797 410l9-10-9-10-9 10zM849 410l9-10-9-10-9 10zM814 410l9-10-9-10-8 10zM832 410l8-10-8-10-9 10z" fill="#00ff6c"/>
<path d="M736 422l9-11-9-9-8 10zM754 421l8-11-8-9-9 10zM892 422l9-10-9-10-8 9zM771 420l9-10-9-10-9 10zM875 421l9-10-9-10-9 10zM788 420l9-10-9-10-8 10zM858 420l8-9-8-11-9 10zM806 420l8-10-8-10-9 10zM840 420l9-10-9-10-8 10zM823 420l9-10-9-10-9 10z" fill="#00ff80"/>
<path d="M702 424l9-11-9-9-9 10zM719 423l9-11-9-9-8 10zM927 424l9-9-9-11-9 9zM910 423l8-10-8-10-9 9z" fill="#00ff86"/>
<path d="M685 425l8-11-8-9-9 11zM962 427l8-9-8-11-9 9zM944 425l9-9-9-11-8 10z" fill="#00ff8c"/>
<path d="M979 429l9-9-9-11-9 9zM745 431l9-10-9-10-9 11zM762 431l9-11-9-10-8 11zM884 431l8-9-8-11-9 10zM780 430l8-10-8-10-9 10zM866 431l9-10-9-10-8 9zM797 430l9-10-9-10-9 10zM849 430l9-10-9-10-9 10zM814 430l9-10-9-10-8 10zM832 430l8-10-8-10-9 10z" fill="#00ff93"/>
<path d="M711 433l8-10-8-10-9 11zM728 432l8-10-8-10-9 11zM918 434l9-10-9-11-8 10zM901 432l9-9-9-11-9 10z" fill="#00ff99"/>
<path d="M693 434l9-10-9-10-8 11zM953 436l9-9-9-11-9 9zM936 435l8-10-8-10-9 9z" fill="#00ff9f"/>
<path d="M970 438l9-9-9-11-8 9zM754 441l8-10-8-10-9 10zM771 441l9-11-9-10-9 11zM788 440l9-10-9-10-8 10zM858 441l8-10-8-11-9 10zM806 440l8-10-8-10-9 10zM840 440l9-10-9-10-8 10zM823 440l9-10-9-10-9 10z" fill="#00ffa6"/>
<path d="M702 444l9-11-9-9-9 10zM719 443l9-11-9-9-8 10zM736 442l9-11-9-9-8 10zM910 443l8-9-8-11-9 9zM892 442l9-10-9-10-8 9zM875 441l9-10-9-10-9 10z" fill="#00ffac"/>
<path d="M944 446l9-10-9-11-8 10zM927 444l9-9-9-11-9 10z" fill="#00ffb2"/>
<path d="M962 447l8-9-8-11-9 9zM780 451l8-11-8-10-9 11zM797 450l9-10-9-10-9 10zM849 451l9-10-9-11-9 10zM814 450l9-10-9-10-8 10zM832 451l8-11-8-10-9 10z" fill="#00ffb9"/>
<path d="M711 453l8-10-8-10-9 11zM728 452l8-10-8-10-9 11zM745 452l9-11-9-10-9 11zM901 453l9-10-9-11-9 10zM762 451l9-10-9-10-8 10zM884 452l8-10-8-11-9 10zM866 451l9-10-9-10-8 10z" fill="#00ffbf"/>
<path d="M936 455l8-9-8-11-9 9zM918 454l9-10-9-10-8 9z" fill="#00ffc6"/>
<path d="M953 457l9-10-9-11-9 10z" fill="#00ffcc"/>
<path d="M927 487l9-10-9-12-9 10z" fill="#00f9ff"/>
<path d="M806 461l8-11-8-10-9 10z" fill="#00ffcc"/>
<path d="M719 463l9-11-9-9-8 10zM736 462l9-10-9-10-8 10zM754 462l8-11-8-10-9 11zM892 463l9-10-9-11-8 10zM771 461l9-10-9-10-9 10zM875 462l9-10-9-11-9 10zM788 461l9-11-9-10-8 11zM858 462l8-11-8-10-9 10zM840 461l9-10-9-11-8 11zM823 461l9-10-9-11-9 10z" fill="#00ffd2"/>
<path d="M944 467l9-10-9-11-8 9zM927 465l9-10-9-11-9 10zM910 464l8-10-8-11-9 10z" fill="#00ffd9"/>
<path d="M728 473l8-11-8-10-9 11zM745 473l9-11-9-10-9 10zM762 472l9-11-9-10-8 11zM884 473l8-10-8-11-9 10zM780 472l8-11-8-10-9 10zM866 473l9-11-9-11-8 11zM797 471l9-10-9-11-9 11zM849 472l9-10-9-11-9 10zM814 471l9-10-9-11-8 11zM832 472l8-11-8-10-9 10z" fill="#00ffe5"/>
<path d="M936 477l8-10-8-12-9 10zM918 475l9-10-9-11-8 10zM901 474l9-10-9-11-9 10z" fill="#00ffec"/>
<path d="M910 507l8-10-8-12-9 11z" fill="#00d2ff"/>
<path d="M892 506l9-10-9-12-8 11zM754 504l8-11-8-10-9 11zM875 505l9-10-9-11-9 10zM771 504l9-11-9-11-9 11z" fill="#00d9ff"/>
<path d="M918 497l9-10-9-12-8 10z" fill="#00e6ff"/>
<path d="M745 494l9-11-9-10-9 10zM901 496l9-11-9-11-9 10zM762 493l9-11-9-10-8 11zM884 495l8-11-8-11-9 11zM866 494l9-10-9-11-8 10zM849 493l9-10-9-11-9 10z" fill="#00ecff"/>
<path d="M780 493l8-11-8-10-9 10zM797 493l9-11-9-11-9 11zM814 493l9-11-9-11-8 11zM832 493l8-11-8-10-9 10z" fill="#00f2ff"/>
<path d="M754 483l8-11-8-10-9 11zM771 482l9-10-9-11-9 11zM788 482l9-11-9-10-8 11zM858 483l8-10-8-11-9 10zM806 482l8-11-8-10-9 10zM840 482l9-10-9-11-8 11zM823 482l9-10-9-11-9 10z" fill="#00fff9"/>
<path d="M736 483l9-10-9-11-8 11zM910 485l8-10-8-11-9 10zM892 484l9-10-9-11-8 10zM875 484l9-11-9-11-9 11z" fill="#00ffff"/>
<path d="M892 528l9-10-9-12-8 11zM875 527l9-10-9-12-9 11zM858 527l8-11-8-11-9 10z" fill="#00acff"/>
<path d="M771 526l9-11-9-11-9 11zM788 526l9-11-9-11-8 11zM840 526l9-11-9-11-8 11zM806 526l8-11-8-11-9 11zM823 526l9-11-9-11-9 11z" fill="#00b2ff"/>
<path d="M901 518l9-11-9-11-9 10zM884 517l8-11-8-11-9 10z" fill="#00bfff"/>
<path d="M762 515l9-11-9-11-8 11zM866 516l9-11-9-11-8 11zM780 515l8-11-8-11-9 11zM849 515l9-10-9-12-9 11zM797 515l9-11-9-11-9 11zM832 515l8-11-8-11-9 11zM814 515l9-11-9-11-8 11z" fill="#00c6ff"/>
<path d="M858 505l8-11-8-11-9 10zM788 504l9-11-9-11-8 11zM840 504l9-11-9-11-8 11zM806 504l8-11-8-11-9 11zM823 504l9-11-9-11-9 11z" fill="#00d9ff"/>
<path d="M875 550l9-11-9-12-9 11z" fill="#0080ff"/>
<path d="M858 549l8-11-8-11-9 11zM788 548l9-11-9-11-8 11zM840 549l9-11-9-12-8 11zM806 548l8-11-8-11-9 11zM823 548l9-11-9-11-9 11z" fill="#0086ff"/>
<path d="M884 539l8-11-8-11-9 10zM866 538l9-11-9-11-8 11zM780 537l8-11-8-11-9 11zM849 538l9-11-9-12-9 11zM797 537l9-11-9-11-9 11zM832 537l8-11-8-11-9 11zM814 537l9-11-9-11-8 11z" fill="#0099ff"/>
<path d="M858 572l8-11-8-12-9 11zM840 571l9-11-9-11-8 11zM806 571l8-12-8-11-9 11zM823 571l9-11-9-12-9 11z" fill="#0059ff"/>
<path d="M866 561l9-11-9-12-8 11zM849 560l9-11-9-11-9 11zM797 559l9-11-9-11-9 11zM832 560l8-11-8-12-9 11zM814 559l9-11-9-11-8 11z" fill="#006cff"/>
<path d="M832 606l8-12-8-11-9 11z" fill="#0013ff"/>
<path d="M840 594l9-11-9-12-8 12zM823 594l9-11-9-12-9 11z" fill="#002dff"/>
<path d="M849 583l9-11-9-12-9 11zM832 583l8-12-8-11-9 11z" fill="#0040ff"/>
<path d="M814 582l9-11-9-12-8 12z" fill="#0046ff"/>
</g>
<ellipse cx="112.9" cy="150.5" rx="6" ry="4.6" fill="#f00" stroke="#a00" stroke-width="1"/>
<ellipse cx="720" cy="157.7" rx="6.2" ry="4.8" fill="#f5c8c8" stroke="#8a4848" stroke-width="1.2"/>
<ellipse cx="415.8" cy="302.8" rx="6" ry="4.6" fill="#f00" stroke="#a00" stroke-width="1"/>
<ellipse cx="416.4" cy="49.1" rx="6" ry="4.6" fill="#f00" stroke="#a00" stroke-width="1"/>
<line x1="118.5" y1="794" x2="328.9" y2="752.4" stroke="#8e8e8e" stroke-width="1.8"/>
<line x1="328.9" y1="752.4" x2="708.5" y2="768.7" stroke="#8e8e8e" stroke-width="1.8"/>
<line x1="117.6" y1="741.9" x2="328.8" y2="707.9" stroke="#8e8e8e" stroke-width="1.8"/>
<line x1="328.8" y1="707.9" x2="709.3" y2="721.3" stroke="#8e8e8e" stroke-width="1.8"/>
<line x1="116.8" y1="689.8" x2="328.6" y2="663.3" stroke="#8e8e8e" stroke-width="1.8"/>
<line x1="328.6" y1="663.3" x2="710.2" y2="673.8" stroke="#8e8e8e" stroke-width="1.8"/>
<line x1="115.9" y1="637.7" x2="328.4" y2="618.8" stroke="#8e8e8e" stroke-width="1.8"/>
<line x1="328.4" y1="618.8" x2="711.1" y2="626.4" stroke="#8e8e8e" stroke-width="1.8"/>
<line x1="115" y1="585.6" x2="328.3" y2="574.2" stroke="#8e8e8e" stroke-width="1.8"/>
<line x1="328.3" y1="574.2" x2="711.9" y2="579" stroke="#8e8e8e" stroke-width="1.8"/>
<line x1="114.1" y1="533.4" x2="328.1" y2="529.6" stroke="#8e8e8e" stroke-width="1.8"/>
<line x1="328.1" y1="529.6" x2="712.8" y2="531.5" stroke="#8e8e8e" stroke-width="1.8"/>
<line x1="171.1" y1="783.6" x2="167.6" y2="532.5" stroke="#505050" stroke-width="1.6"/>
<line x1="613.6" y1="764.7" x2="616.6" y2="531.1" stroke="#505050" stroke-width="1.6"/>
<line x1="223.7" y1="773.2" x2="221.1" y2="531.5" stroke="#505050" stroke-width="1.6"/>
<line x1="518.7" y1="760.6" x2="520.5" y2="530.6" stroke="#505050" stroke-width="1.6"/>
<line x1="276.3" y1="762.8" x2="274.6" y2="530.6" stroke="#505050" stroke-width="1.6"/>
<line x1="423.8" y1="756.5" x2="424.3" y2="530.1" stroke="#505050" stroke-width="1.6"/>
<line x1="119.9" y1="879.5" x2="114.1" y2="533.4" stroke="#505050" stroke-width="1.6"/>
<line x1="329.2" y1="825.5" x2="328.1" y2="529.6" stroke="#505050" stroke-width="1.6"/>
<line x1="707" y1="846.5" x2="712.8" y2="531.5" stroke="#7a7a7a" stroke-width="2.0"/>
<line x1="115" y1="794" x2="119" y2="794" stroke="#000" stroke-width="2"/>
<line x1="114.1" y1="741.9" x2="118.1" y2="741.9" stroke="#000" stroke-width="2"/>
<line x1="113.3" y1="689.8" x2="117.3" y2="689.8" stroke="#000" stroke-width="2"/>
<line x1="112.4" y1="637.7" x2="116.4" y2="637.7" stroke="#000" stroke-width="2"/>
<line x1="111.5" y1="585.6" x2="115.5" y2="585.6" stroke="#000" stroke-width="2"/>
<line x1="110.6" y1="533.4" x2="114.6" y2="533.4" stroke="#000" stroke-width="2"/>
<polygon points="552.5,911.9 707,846.5 329.2,825.5 119.9,879.5" fill="#ffff00" stroke="#6b6b3a" stroke-width="1"/>
<path d="M565.5 906.4 563.4 906.6 559.3 906.9 558.3 907 553.3 907.4 553.1 907.4 548.2 907.8 546.9 907.9 543.1 908.1 540.7 908.3 538 908.5 534.5 908.8 532.8 908.9 528.3 909.2 527.6 909.3 522.4 909.7M354.9 827 350.5 827.1 348.1 827.2 345.1 827.4 341.4 827.5 339.6 827.6 334.7 827.8 334.1 827.8 328.5 828.1 328.2 828.1 322.8 828.4 321.9 828.4 317.1 828.6" stroke="#40c840" stroke-width="1.3" fill="none"/>
<path d="M596 893.5 595.3 893.6 590.6 894 589.8 894.1 585.8 894.4 583.6 894.6 581 894.8 577.4 895.2 576.2 895.3 571.3 895.7 571.2 895.7 566.3 896.1 565 896.2 561.3 896.5 558.9 896.7 556.3 896.9 552.8 897.2 551.2 897.3 546.6 897.7 546.1 897.7 541 898.1 540.5 898.1 535.8 898.5 534.4 898.6 530.5 898.8 528.3 899 525.2 899.2 522.2 899.4 519.9 899.6 516.1 899.8 514.5 899.9 510 900.2 509.1 900.3 504 900.6 503.6 900.7 498.1 901 497.9 901 492.5 901.4 491.8 901.4 486.9 901.7 485.8 901.8 481.3 902 479.7 902.1 475.5 902.4 473.7 902.5 469.8 902.7 467.7 902.8 464 903 461.6 903.2 458.1 903.3 455.6 903.5 452.2 903.7 449.6 903.8 446.3 904M415.6 830.3 411.2 830.5 407.6 830.6 406.2 830.6 401.1 830.8 399.9 830.8 396 830.9 392.3 831.1 390.8 831.1 385.6 831.3 384.9 831.3 380.3 831.5 377.8 831.6 375 831.7 370.7 831.8 369.7 831.9 364.3 832.1 363.8 832.1 358.8 832.3 357.1 832.4 353.3 832.6 350.5 832.7 347.8 832.8 344.1 833 342.1 833.1 337.7 833.3 336.5 833.4 331.5 833.6 330.7 833.6 325.4 833.9 324.9 833.9 319.4 834.2 319 834.3 313.5 834.6 313.1 834.6 307.7 834.9 307 834.9 302.1 835.2 300.9 835.3 296.5 835.5 294.7 835.7 291 835.9 288.4 836" stroke="#90dc10" stroke-width="1.4" fill="none"/>
<path d="M322.7 880.2 321.9 880.2 317.5 880 313.1 879.7 308.8 879.4 304.5 879.1 300.4 878.8 296.3 878.5 292.3 878.1 289.9 877.9 288.4 877.7 284.6 877.3 281 876.8 277.4 876.3 276.7 876.2 274 875.8 270.7 875.2 269.7 875 267.6 874.6 264.9 874 264.7 873.9 262 873.2 261.4 873 259.6 872.4 258.9 872.1 257.4 871.5 257 871.3 255.7 870.6 255.6 870.5 254.6 869.7 254.4 869.5 254 869 253.7 868.3 253.7 868.2 253.8 867.6 254 866.9 254.2 866.6 254.5 866.2 255.2 865.6 256 864.9 256.9 864.4 257 864.3 258.3 863.7 259.6 863.1 261.2 862.5 262.8 861.9 264.6 861.4 266.6 860.8 268.6 860.2 270.8 859.7 273.2 859.2 275.6 858.6 278.1 858.1 280.8 857.6 282.7 857.3 283.6 857.1 286.5 856.6 289.5 856.1 292.7 855.6 294.6 855.3 295.9 855.2 299.3 854.7 302.7 854.2 304.3 854 306.3 853.8 310 853.3 313 853 313.9 852.9 317.8 852.4 321 852.1 321.9 852 326.1 851.6 328.5 851.4 330.4 851.2 334.9 850.8 335.7 850.7 339.5 850.4 342.6 850.1 344.2 850 349.1 849.6 349.3 849.6 354.2 849.2 355.7 849.1 359.4 848.9 362 848.7 364.8 848.5 368.2 848.3 370.3 848.2 374.2 847.9 376.1 847.8 380 847.6 382 847.5 385.8 847.3 388.2 847.2 391.5 847 394.6 846.9 397 846.8 401.3 846.6 402.5 846.6 407.9 846.3 408.2 846.3 413.2 846.2 415.6 846.1 418.4 846 423.2 845.8 423.6 845.8 428.7 845.7 431.4 845.6 433.7 845.6 438.7 845.5 440 845.5 443.6 845.4 448.5 845.3 449.2 845.3 453.2 845.3 458 845.2 459.3 845.2 462.7 845.2 467.3 845.2 470.5 845.2 471.9 845.2 476.5 845.2 481 845.2 483.3 845.2 485.4 845.3 489.8 845.3 494.2 845.4 498.5 845.5 499.1 845.5 502.7 845.5 507 845.7 511.1 845.8 515.3 845.9 519.4 846 523.4 846.2 525.5 846.3 527.4 846.4 531.4 846.6 535.3 846.8 539.1 847 542.9 847.3 546.7 847.5 547.8 847.6 550.4 847.8 554 848.1 557.6 848.4 561.1 848.8 564.5 849.2 567.2 849.5 567.9 849.6 571.2 850 574.5 850.4 576.2 850.7 577.6 850.9 580.6 851.5 582.2 851.8 583.5 852.1 586.3 852.7 586.5 852.8 588.8 853.4 589.7 853.7 591.2 854.2 592 854.6 593.3 855.2 593.8 855.4 595 856.2 595 856.2 595.7 857 596.1 857.5 596.1 857.7 596.2 858.5 595.9 859.2 595.8 859.4 595.4 859.9 594.7 860.6 593.7 861.2 592.5 861.9 591.1 862.6 589.5 863.2 587.7 863.8 585.8 864.4 583.7 865 581.5 865.6 579.1 866.2 576.6 866.8 576.5 866.8 573.9 867.4 571.1 867.9 568.2 868.5 567 868.7 565.1 869 561.9 869.6 558.7 870.1 558.6 870.1 555.2 870.6 551.7 871.1 551 871.2 548 871.6 544.3 872.1 543.7 872.2 540.4 872.6 536.7 873 536.4 873.1 532.2 873.5 529.9 873.8 528 874 523.7 874.4 523.3 874.5 519.2 874.9 516.8 875.1 514.6 875.3 510.4 875.7 509.9 875.7 505.1 876.1 504.1 876.2 500.1 876.5 497.9 876.7 495 876.9 491.7 877.2 489.8 877.3 485.7 877.6 484.4 877.7 479.7 878 478.9 878 473.7 878.4 473.3 878.4 467.9 878.7 467.5 878.7 462 879 461.5 879.1 456.3 879.3 455.4 879.4 450.5 879.6 449 879.7 444.8 879.8 442.5 879.9 439.2 880.1 435.7 880.2 433.6 880.3 428.7 880.4 428.1 880.5 422.6 880.6 421.4 880.7 417.1 880.8 413.8 880.9 411.7 880.9 406.3 881 405.9 881 401 881.1 397.5 881.2 395.7 881.2 390.4 881.3 388.6 881.3 385.2 881.3 380 881.3 379.1 881.3 374.9 881.3 369.8 881.3 368.6 881.3 364.8 881.3 359.8 881.2 356.9 881.2 354.9 881.2 350 881.1 345.2 881 342.8 880.9 340.4 880.9 335.7 880.7 331.1 880.6 326.5 880.4 322.7 880.2" stroke="#f08c00" stroke-width="1.5" fill="none"/>
<circle cx="591.1" cy="895.6" r="1.3" fill="#222"/>
<circle cx="444.3" cy="903.8" r="1.3" fill="#222"/>
<circle cx="629.8" cy="879.2" r="1.3" fill="#222"/>
<circle cx="336.2" cy="895.7" r="1.3" fill="#222"/>
<circle cx="668.4" cy="862.9" r="1.3" fill="#222"/>
<circle cx="228.1" cy="887.6" r="1.3" fill="#222"/>
<circle cx="552.5" cy="911.9" r="1.4" fill="#222"/>
<circle cx="707" cy="846.5" r="1.4" fill="#222"/>
<circle cx="329.2" cy="825.5" r="1.4" fill="#222"/>
<circle cx="119.9" cy="879.5" r="1.4" fill="#222"/>
<g transform="scale(0.5 0.5)" stroke="#000" stroke-width="2" stroke-opacity="1" stroke-linejoin="round">
<path d="M662 1441l7 10-11 9-6-10z" fill="#0020ff"/>
<path d="M673 1432l6 10-10 9-7-10zM656 1430l6 11-10 9-6-10z" fill="#0039ff"/>
<path d="M684 1423l6 10-11 9-6-10z" fill="#0053ff"/>
<path d="M667 1421l6 11-11 9-6-11z" fill="#0059ff"/>
<path d="M695 1414l6 10-11 9-6-10z" fill="#006cff"/>
<path d="M650 1420l6 10-10 10-7-10z" fill="#0059ff"/>
<path d="M678 1412l6 11-11 9-6-11zM661 1411l6 10-11 9-6-10z" fill="#0073ff"/>
<path d="M706 1405l6 11-11 8-6-10z" fill="#0086ff"/>
<path d="M689 1404l6 10-11 9-6-11z" fill="#008cff"/>
<path d="M717 1397l6 10-11 9-6-11z" fill="#009fff"/>
<path d="M644 1411l6 9-11 10-6-10z" fill="#0079ff"/>
<path d="M672 1402l6 10-11 9-6-10z" fill="#008cff"/>
<path d="M655 1402l6 9-11 9-6-9z" fill="#0093ff"/>
<path d="M700 1395l6 10-11 9-6-10z" fill="#00a6ff"/>
<path d="M728 1388l6 11-11 8-6-10z" fill="#00b2ff"/>
<path d="M638 1401l6 10-11 9-6-10z" fill="#0099ff"/>
<path d="M683 1394l6 10-11 8-6-10z" fill="#00a6ff"/>
<path d="M666 1393l6 9-11 9-6-9z" fill="#00acff"/>
<path d="M711 1386l6 11-11 8-6-10z" fill="#00b9ff"/>
<path d="M694 1385l6 10-11 9-6-10z" fill="#00bfff"/>
<path d="M739 1380l5 11-10 8-6-11z" fill="#00ccff"/>
<path d="M722 1378l6 10-11 9-6-11z" fill="#00d2ff"/>
<path d="M750 1372l5 11-11 8-5-11z" fill="#00e6ff"/>
<path d="M649 1392l6 10-11 9-6-10zM632 1392l6 9-11 9-6-9z" fill="#00b2ff"/>
<path d="M677 1384l6 10-11 8-6-9z" fill="#00c6ff"/>
<path d="M660 1383l6 10-11 9-6-10z" fill="#00ccff"/>
<path d="M705 1376l6 10-11 9-6-10z" fill="#00d9ff"/>
<path d="M688 1375l6 10-11 9-6-10z" fill="#00dfff"/>
<path d="M733 1370l6 10-11 8-6-10z" fill="#00ecff"/>
<path d="M716 1368l6 10-11 8-6-10z" fill="#00f2ff"/>
<path d="M760 1364l6 11-11 8-5-11z" fill="#00f9ff"/>
<path d="M771 1357l6 10-11 8-6-11z" fill="#00ffec"/>
<path d="M744 1362l6 10-11 8-6-10z" fill="#00ffff"/>
<path d="M643 1383l6 9-11 9-6-9zM626 1383l6 9-11 9-6-9z" fill="#00ccff"/>
<path d="M671 1374l6 10-11 9-6-10zM654 1374l6 9-11 9-6-9z" fill="#00e6ff"/>
<path d="M699 1367l6 9-11 9-6-10z" fill="#00f9ff"/>
<path d="M793 1342l6 10-11 8-6-11z" fill="#00ffc6"/>
<path d="M766 1347l5 10-11 7-5-10z" fill="#00ffd2"/>
<path d="M782 1349l6 11-11 7-6-10z" fill="#00ffd9"/>
<path d="M738 1352l6 10-11 8-6-10z" fill="#00ffdf"/>
<path d="M755 1354l5 10-10 8-6-10z" fill="#00ffe5"/>
<path d="M710 1358l6 10-11 8-6-9z" fill="#00ffec"/>
<path d="M727 1360l6 10-11 8-6-10z" fill="#00fff2"/>
<path d="M682 1365l6 10-11 9-6-10z" fill="#00ffff"/>
<path d="M637 1373l6 10-11 9-6-9z" fill="#00e6ff"/>
<path d="M620 1374l6 9-11 9-6-9z" fill="#00ecff"/>
<path d="M787 1332l6 10-11 7-6-10z" fill="#00ffa6"/>
<path d="M760 1337l6 10-11 7-6-10z" fill="#00ffb2"/>
<path d="M776 1339l6 10-11 8-5-10z" fill="#00ffb9"/>
<path d="M732 1342l6 10-11 8-6-10z" fill="#00ffbf"/>
<path d="M749 1344l6 10-11 8-6-10z" fill="#00ffc6"/>
<path d="M704 1349l6 9-11 9-6-10z" fill="#00ffd2"/>
<path d="M721 1350l6 10-11 8-6-10z" fill="#00ffd9"/>
<path d="M676 1356l6 9-11 9-6-9z" fill="#00ffe5"/>
<path d="M693 1357l6 10-11 8-6-10z" fill="#00ffec"/>
<path d="M665 1365l6 9-11 9-6-9zM648 1364l6 10-11 9-6-10z" fill="#00ffff"/>
<path d="M771 1329l5 10-10 8-6-10z" fill="#00ff9f"/>
<path d="M743 1334l6 10-11 8-6-10z" fill="#00ffac"/>
<path d="M715 1341l6 9-11 8-6-9z" fill="#00ffb9"/>
<path d="M687 1348l6 9-11 8-6-9zM670 1347l6 9-11 9-6-9z" fill="#00ffcc"/>
<path d="M642 1356l6 8-11 9-6-9z" fill="#00ffdf"/>
<path d="M659 1356l6 9-11 9-6-10z" fill="#00ffe5"/>
<path d="M631 1364l6 9-11 10-6-9zM614 1365l6 9-11 9-6-9z" fill="#00fff9"/>
<path d="M765 1319l6 10-11 8-6-10z" fill="#00ff80"/>
<path d="M737 1325l6 9-11 8-6-9z" fill="#00ff8c"/>
<path d="M754 1327l6 10-11 7-6-10z" fill="#00ff93"/>
<path d="M709 1331l6 10-11 8-6-10z" fill="#00ff9f"/>
<path d="M726 1333l6 9-11 8-6-9z" fill="#00ffa6"/>
<path d="M681 1339l6 9-11 8-6-9z" fill="#00ffb2"/>
<path d="M698 1339l6 10-11 8-6-9z" fill="#00ffb9"/>
<path d="M653 1347l6 9-11 8-6-8zM636 1347l6 9-11 8-6-8z" fill="#00ffc6"/>
<path d="M625 1356l6 8-11 10-6-9zM608 1356l6 9-11 9-6-8z" fill="#00ffdf"/>
<path d="M731 1316l6 9-11 8-6-10z" fill="#00ff73"/>
<path d="M748 1317l6 10-11 7-6-9z" fill="#00ff79"/>
<path d="M720 1323l6 10-11 8-6-10zM703 1322l6 9-11 8-6-9z" fill="#00ff86"/>
<path d="M692 1330l6 9-11 9-6-9zM675 1330l6 9-11 8-6-9z" fill="#00ff99"/>
<path d="M647 1338l6 9-11 9-6-9zM630 1338l6 9-11 9-6-9z" fill="#00ffac"/>
<path d="M664 1338l6 9-11 9-6-9z" fill="#00ffb2"/>
<path d="M619 1347l6 9-11 9-6-9zM602 1348l6 8-11 10-6-9z" fill="#00ffc6"/>
<path d="M725 1307l6 9-11 7-6-9z" fill="#00ff59"/>
<path d="M742 1308l6 9-11 8-6-9z" fill="#00ff60"/>
<path d="M714 1314l6 9-11 8-6-9zM697 1313l6 9-11 8-6-9z" fill="#00ff6c"/>
<path d="M686 1321l6 9-11 9-6-9zM669 1321l6 9-11 8-6-9z" fill="#00ff80"/>
<path d="M641 1330l6 8-11 9-6-9zM624 1330l6 8-11 9-6-8z" fill="#00ff93"/>
<path d="M658 1329l6 9-11 9-6-9z" fill="#00ff99"/>
<path d="M613 1339l6 8-11 9-6-8z" fill="#00ffac"/>
<path d="M596 1340l6 8-11 9-6-8z" fill="#00ffb2"/>
<path d="M720 1298l5 9-11 7-6-8z" fill="#00ff40"/>
<path d="M708 1306l6 8-11 8-6-9zM691 1305l6 8-11 8-6-8z" fill="#00ff53"/>
<path d="M680 1313l6 8-11 9-6-9zM663 1313l6 8-11 8-6-8z" fill="#00ff66"/>
<path d="M652 1321l6 8-11 9-6-8zM635 1321l6 9-11 8-6-8z" fill="#00ff80"/>
<path d="M607 1331l6 8-11 9-6-8zM590 1332l6 8-11 9-6-7z" fill="#00ff99"/>
<path d="M703 1297l5 9-11 7-6-8zM686 1297l5 8-11 8-6-8z" fill="#00ff39"/>
<path d="M674 1305l6 8-11 8-6-8zM657 1305l6 8-11 8-6-8z" fill="#00ff4c"/>
<path d="M646 1313l6 8-11 9-6-9zM629 1314l6 7-11 9-6-8z" fill="#00ff66"/>
<path d="M618 1322l6 8-11 9-6-8zM601 1323l6 8-11 9-6-8z" fill="#00ff80"/>
<path d="M584 1325l6 7-11 10-7-8z" fill="#00ff86"/>
<path d="M697 1289l6 8-12 8-5-8zM680 1289l6 8-12 8-5-9z" fill="#00ff20"/>
<path d="M651 1297l6 8-11 8-6-8z" fill="#00ff33"/>
<path d="M669 1296l5 9-11 8-6-8z" fill="#00ff39"/>
<path d="M640 1305l6 8-11 8-6-7zM623 1306l6 8-11 8-6-7z" fill="#00ff4c"/>
<path d="M612 1315l6 7-11 9-6-8z" fill="#00ff66"/>
<path d="M595 1316l6 7-11 9-6-7zM578 1318l6 7-12 9-6-7z" fill="#00ff6c"/>
<path d="M674 1281l6 8-11 7-6-7z" fill="#00ff06"/>
<path d="M663 1289l6 7-12 9-6-8zM645 1289l6 8-11 8-6-8z" fill="#00ff20"/>
<path d="M634 1297l6 8-11 9-6-8zM617 1299l6 7-11 9-6-8z" fill="#00ff39"/>
<path d="M606 1307l6 8-11 8-6-7zM589 1309l6 7-11 9-6-7z" fill="#00ff53"/>
<path d="M571 1311l7 7-12 9-6-7z" fill="#00ff59"/>
<path d="M657 1281l6 8-12 8-6-8z" fill="#00ff06"/>
<path d="M639 1282l6 7-11 8-6-7z" fill="#00ff0d"/>
<path d="M628 1290l6 7-11 9-6-7z" fill="#00ff20"/>
<path d="M611 1291l6 8-11 8-6-7z" fill="#00ff26"/>
<path d="M600 1300l6 7-11 9-6-7z" fill="#00ff39"/>
<path d="M583 1302l6 7-11 9-7-7z" fill="#00ff40"/>
<path d="M565 1304l6 7-11 9-6-7z" fill="#00ff46"/>
<path d="M622 1283l6 7-11 9-6-8zM605 1285l6 6-11 9-6-7z" fill="#00ff0d"/>
<path d="M594 1293l6 7-11 9-6-7z" fill="#00ff26"/>
<path d="M577 1295l6 7-12 9-6-7z" fill="#00ff2d"/>
<path d="M559 1298l6 6-11 9-6-6z" fill="#00ff33"/>
<path d="M651 1274l6 7-12 8-6-7zM634 1275l5 7-11 8-6-7z" fill="#0dff00"/>
<path d="M588 1286l6 7-11 9-6-7z" fill="#00ff13"/>
<path d="M571 1289l6 6-12 9-6-6z" fill="#00ff1a"/>
<path d="M553 1291l6 7-11 9-6-7z" fill="#00ff20"/>
<path d="M616 1276l6 7-11 8-6-6zM599 1278l6 7-11 8-6-7z" fill="#06ff00"/>
<path d="M628 1268l6 7-12 8-6-7z" fill="#20ff00"/>
<path d="M582 1280l6 6-11 9-6-6z" fill="#00ff00"/>
<path d="M564 1283l7 6-12 9-6-7z" fill="#00ff06"/>
<path d="M547 1285l6 6-11 9-6-6z" fill="#00ff0d"/>
<path d="M610 1270l6 6-11 9-6-7zM593 1272l6 6-11 8-6-6z" fill="#1aff00"/>
<path d="M541 1280l6 5-11 9-6-5z" fill="#06ff00"/>
<path d="M558 1277l6 6-11 8-6-6z" fill="#0dff00"/>
<path d="M576 1274l6 6-11 9-7-6z" fill="#13ff00"/>
<path d="M570 1268l6 6-12 9-6-6z" fill="#26ff00"/>
<path d="M604 1263l6 7-11 8-6-6zM587 1266l6 6-11 8-6-6z" fill="#2dff00"/>
<path d="M535 1274l6 6-11 9-6-6z" fill="#13ff00"/>
<path d="M552 1271l6 6-11 8-6-5z" fill="#20ff00"/>
<path d="M564 1263l6 5-12 9-6-6z" fill="#33ff00"/>
<path d="M581 1260l6 6-11 8-6-6z" fill="#39ff00"/>
<path d="M598 1257l6 6-11 9-6-6z" fill="#40ff00"/>
<path d="M529 1269l6 5-11 9-7-5z" fill="#26ff00"/>
<path d="M546 1266l6 5-11 9-6-6z" fill="#2dff00"/>
<path d="M558 1257l6 6-12 8-6-5z" fill="#46ff00"/>
<path d="M575 1254l6 6-11 8-6-5z" fill="#4cff00"/>
<path d="M523 1264l6 5-12 9-6-5z" fill="#33ff00"/>
<path d="M540 1261l6 5-11 8-6-5z" fill="#39ff00"/>
<path d="M552 1252l6 5-12 9-6-5z" fill="#53ff00"/>
<path d="M517 1260l6 4-12 9-6-5z" fill="#40ff00"/>
<path d="M534 1256l6 5-11 8-6-5z" fill="#4cff00"/>
<path d="M546 1247l6 5-12 9-6-5z" fill="#60ff00"/>
<path d="M1330 1244l5 6-11-3-5-6z" fill="#79ff00"/>
<path d="M511 1255l6 5-12 8-6-4zM1385 1263l4 5-11-4-4-6z" fill="#4cff00"/>
<path d="M528 1251l6 5-11 8-6-4zM1374 1258l4 6-11-4-4-6z" fill="#59ff00"/>
<path d="M1363 1254l4 6-11-3-4-6z" fill="#60ff00"/>
<path d="M522 1247l6 4-11 9-6-5z" fill="#66ff00"/>
<path d="M1352 1251l4 6-10-4-5-6z" fill="#6cff00"/>
<path d="M1341 1247l5 6-11-3-5-6z" fill="#73ff00"/>
<path d="M1417 1276l5 5-11-4-5-6z" fill="#2dff00"/>
<path d="M1406 1271l5 6-11-5-5-5z" fill="#39ff00"/>
<path d="M1395 1267l5 5-11-4-4-5z" fill="#46ff00"/>
<path d="M504 1251l7 4-12 9-6-4z" fill="#59ff00"/>
<path d="M1369 1253l5 5-11-4-5-5z" fill="#66ff00"/>
<path d="M1358 1249l5 5-11-3-5-6z" fill="#73ff00"/>
<path d="M1347 1245l5 6-11-4-5-6z" fill="#79ff00"/>
<path d="M1336 1241l5 6-11-3-4-6z" fill="#86ff00"/>
<path d="M1413 1271l4 5-11-5-4-5z" fill="#40ff00"/>
<path d="M1402 1266l4 5-11-4-4-5z" fill="#46ff00"/>
<path d="M1391 1262l4 5-10-4-5-6z" fill="#53ff00"/>
<path d="M1380 1257l5 6-11-5-5-5z" fill="#60ff00"/>
<path d="M498 1248l6 3-11 9-6-4z" fill="#66ff00"/>
<path d="M1365 1248l4 5-11-4-4-5z" fill="#79ff00"/>
<path d="M1354 1244l4 5-11-4-4-5z" fill="#80ff00"/>
<path d="M1343 1240l4 5-11-4-4-5z" fill="#8cff00"/>
<path d="M1408 1267l5 4-11-5-4-4z" fill="#4cff00"/>
<path d="M1398 1262l4 4-11-4-4-5z" fill="#59ff00"/>
<path d="M1387 1257l4 5-11-5-4-4z" fill="#60ff00"/>
<path d="M1376 1253l4 4-11-4-4-5z" fill="#6cff00"/>
<path d="M492 1244l6 4-11 8-6-3z" fill="#73ff00"/>
<path d="M1349 1239l5 5-11-4-5-5z" fill="#93ff00"/>
<path d="M1404 1263l4 4-10-5-5-4z" fill="#59ff00"/>
<path d="M1393 1258l5 4-11-5-5-4z" fill="#66ff00"/>
<path d="M1382 1253l5 4-11-4-5-5z" fill="#73ff00"/>
<path d="M1371 1248l5 5-11-5-5-5z" fill="#79ff00"/>
<path d="M1360 1243l5 5-11-4-5-5z" fill="#86ff00"/>
<path d="M1400 1259l4 4-11-5-4-4z" fill="#66ff00"/>
<path d="M1389 1254l4 4-11-5-4-4z" fill="#73ff00"/>
<path d="M1378 1249l4 4-11-5-4-4z" fill="#80ff00"/>
<path d="M1367 1244l4 4-11-5-4-4z" fill="#86ff00"/>
<path d="M1356 1239l4 4-11-4-4-4z" fill="#93ff00"/>
<path d="M1395 1256l5 3-11-5-5-4z" fill="#73ff00"/>
<path d="M1384 1250l5 4-11-5-5-4z" fill="#80ff00"/>
<path d="M1373 1245l5 4-11-5-5-4z" fill="#8cff00"/>
<path d="M1362 1240l5 4-11-5-5-4z" fill="#93ff00"/>
<path d="M1391 1252l4 4-11-6-4-3z" fill="#79ff00"/>
<path d="M1380 1247l4 3-11-5-4-3z" fill="#86ff00"/>
<path d="M1369 1242l4 3-11-5-4-3z" fill="#93ff00"/>
<path d="M1386 1250l5 2-11-5-5-3z" fill="#86ff00"/>
<path d="M1375 1244l5 3-11-5-5-3z" fill="#93ff00"/>
<path d="M1382 1247l4 3-11-6-4-2z" fill="#8cff00"/>
<path d="M1371 1242l4 2-11-5-4-3z" fill="#99ff00"/>
<path d="M1366 1239l5 3-11-6-5-2z" fill="#a6ff00"/>
<path d="M1355 1234l5 2-11-5-5-3z" fill="#b3ff00"/>
<path d="M1306 1210l5 3-11-5-5-3z" fill="#ecff00"/>
<path d="M1377 1245l5 2-11-5-5-3z" fill="#99ff00"/>
<path d="M1362 1237l4 2-11-5-4-2z" fill="#acff00"/>
<path d="M1351 1232l4 2-11-6-4-2z" fill="#b9ff00"/>
<path d="M1340 1226l4 2-11-5-5-2z" fill="#c6ff00"/>
<path d="M1328 1221l5 2-11-5-5-3z" fill="#d2ff00"/>
<path d="M1302 1208l4 2-11-5-5-2z" fill="#f2ff00"/>
<path d="M1373 1244l4 1-11-6-4-2z" fill="#9fff00"/>
<path d="M1357 1236l5 1-11-5-5-2z" fill="#b3ff00"/>
<path d="M1346 1230l5 2-11-6-5-2z" fill="#bfff00"/>
<path d="M1335 1224l5 2-12-5-4-2z" fill="#ccff00"/>
<path d="M1324 1219l4 2-11-6-4-2z" fill="#d9ff00"/>
<path d="M1313 1213l4 2-11-5-4-2z" fill="#e5ff00"/>
<path d="M1297 1206l5 2-12-5-4-2z" fill="#f9ff00"/>
<path d="M1225 1176l5 2-11-4-5-2z" fill="#ffb900"/>
<path d="M1236 1180l5 2-11-4-5-2z" fill="#ffc600"/>
<path d="M1263 1191l5 2-11-4-5-2z" fill="#ffdf00"/>
<path d="M1275 1196l4 2-11-5-5-2z" fill="#ffec00"/>
<path d="M1286 1201l4 2-11-5-4-2z" fill="#fff900"/>
<path d="M1368 1242l5 2-11-7-5-1z" fill="#a6ff00"/>
<path d="M1353 1235l4 1-11-6-4-1z" fill="#b9ff00"/>
<path d="M1342 1229l4 1-11-6-5-1z" fill="#c6ff00"/>
<path d="M1330 1223l5 1-11-5-5-2z" fill="#d2ff00"/>
<path d="M1319 1217l5 2-11-6-5-2z" fill="#dfff00"/>
<path d="M1308 1211l5 2-11-5-5-2z" fill="#ecff00"/>
<path d="M1182 1160l4 2-11-3-5-2z" fill="#ff9300"/>
<path d="M1209 1170l5 2-11-4-5-2z" fill="#ffac00"/>
<path d="M1220 1174l5 2-11-4-5-2z" fill="#ffb300"/>
<path d="M1232 1178l4 2-11-4-5-2z" fill="#ffbf00"/>
<path d="M1247 1185l5 2-11-5-5-2z" fill="#ffcc00"/>
<path d="M1259 1189l4 2-11-4-5-2z" fill="#ffd900"/>
<path d="M1270 1194l5 2-12-5-4-2z" fill="#ffe500"/>
<path d="M1281 1199l5 2-11-5-5-2z" fill="#fff200"/>
<path d="M1292 1205l5 1-11-5-5-2z" fill="#ffff00"/>
<path d="M1364 1241l4 1-11-6-4-1z" fill="#a6ff00"/>
<path d="M1359 1240l5 1-11-6-5-1z" fill="#acff00"/>
<path d="M1348 1234l5 1-11-6-5-1z" fill="#bfff00"/>
<path d="M1337 1228l5 1-12-6-4-1z" fill="#ccff00"/>
<path d="M1326 1222l4 1-11-6-4-1z" fill="#d9ff00"/>
<path d="M1315 1216l4 1-11-6-5-1z" fill="#e5ff00"/>
<path d="M1303 1210l5 1-11-5-5-1z" fill="#f2ff00"/>
<path d="M1127 1143l5 2-12-3-5-2z" fill="#ff6600"/>
<path d="M1154 1151l5 2-11-3-5-2z" fill="#ff7900"/>
<path d="M1165 1155l5 2-11-4-5-2z" fill="#ff8000"/>
<path d="M1177 1159l5 1-12-3-5-2z" fill="#ff8c00"/>
<path d="M1193 1164l5 2-12-4-4-2z" fill="#ff9900"/>
<path d="M1204 1168l5 2-11-4-5-2z" fill="#ffa600"/>
<path d="M1215 1172l5 2-11-4-5-2z" fill="#ffac00"/>
<path d="M1227 1177l5 1-12-4-5-2z" fill="#ffb900"/>
<path d="M1243 1183l4 2-11-5-4-2z" fill="#ffc600"/>
<path d="M1254 1188l5 1-12-4-4-2z" fill="#ffd200"/>
<path d="M1265 1193l5 1-11-5-5-1z" fill="#ffdf00"/>
<path d="M1276 1198l5 1-11-5-5-1z" fill="#ffec00"/>
<path d="M1288 1203l4 2-11-6-5-1z" fill="#fff900"/>
<path d="M1355 1240l4 0-11-6-4-1z" fill="#b3ff00"/>
<path d="M1344 1233l4 1-11-6-5-1z" fill="#bfff00"/>
<path d="M1332 1227l5 1-11-6-5-1z" fill="#ccff00"/>
<path d="M1321 1221l5 1-11-6-5-1z" fill="#dfff00"/>
<path d="M1310 1215l5 1-12-6-4-1z" fill="#ecff00"/>
<path d="M1299 1209l4 1-11-5-4-2z" fill="#f9ff00"/>
<path d="M1110 1138l5 2-11-3-5-1z" fill="#ff5900"/>
<path d="M1122 1141l5 2-12-3-5-2z" fill="#ff6000"/>
<path d="M1138 1146l5 2-11-3-5-2z" fill="#ff6c00"/>
<path d="M1149 1150l5 1-11-3-5-2z" fill="#ff7300"/>
<path d="M1161 1153l4 2-11-4-5-1z" fill="#ff7900"/>
<path d="M1172 1157l5 2-12-4-4-2z" fill="#ff8600"/>
<path d="M1188 1162l5 2-11-4-5-1z" fill="#ff9300"/>
<path d="M1199 1167l5 1-11-4-5-2z" fill="#ff9f00"/>
<path d="M1211 1171l4 1-11-4-5-1z" fill="#ffa600"/>
<path d="M1222 1176l5 1-12-5-4-1z" fill="#ffb300"/>
<path d="M1238 1182l5 1-11-5-5-1zM1233 1181l5 1-11-5-5-1z" fill="#ffbf00"/>
<path d="M1249 1187l5 1-11-5-5-1z" fill="#ffcc00"/>
<path d="M1261 1192l4 1-11-5-5-1z" fill="#ffd900"/>
<path d="M1272 1197l4 1-11-5-4-1z" fill="#ffe500"/>
<path d="M1283 1203l5 0-12-5-4-1z" fill="#fff200"/>
<path d="M1350 1240l5 0-11-7-5 0z" fill="#b3ff00"/>
<path d="M1339 1233l5 0-12-6-4 0z" fill="#c6ff00"/>
<path d="M1328 1227l4 0-11-6-4-1z" fill="#d2ff00"/>
<path d="M1317 1220l4 1-11-6-5-1z" fill="#dfff00"/>
<path d="M1305 1214l5 1-11-6-5-1z" fill="#f2ff00"/>
<path d="M1038 1122l5 1-11-2-5-1z" fill="#ff2d00"/>
<path d="M1066 1127l5 2-11-2-5-2z" fill="#ff3900"/>
<path d="M1078 1130l5 1-12-2-5-2z" fill="#ff4000"/>
<path d="M1094 1134l5 2-11-3-5-2z" fill="#ff4c00"/>
<path d="M1105 1137l5 1-11-2-5-2z" fill="#ff5300"/>
<path d="M1117 1140l5 1-12-3-5-1z" fill="#ff5900"/>
<path d="M1128 1144l5 1-11-4-5-1z" fill="#ff6000"/>
<path d="M1133 1145l5 1-11-3-5-2z" fill="#ff6600"/>
<path d="M1144 1148l5 2-11-4-5-1z" fill="#ff6c00"/>
<path d="M1156 1152l5 1-12-3-5-2z" fill="#ff7900"/>
<path d="M1167 1156l5 1-11-4-5-1z" fill="#ff8000"/>
<path d="M1183 1161l5 1-11-3-5-2zM1178 1160l5 1-11-4-5-1z" fill="#ff8c00"/>
<path d="M1195 1166l4 1-11-5-5-1z" fill="#ff9900"/>
<path d="M1206 1170l5 1-12-4-4-1z" fill="#ffa600"/>
<path d="M1217 1175l5 1-11-5-5-1z" fill="#ffac00"/>
<path d="M1229 1180l4 1-11-5-5-1z" fill="#ffb900"/>
<path d="M1245 1186l4 1-11-5-5-1z" fill="#ffcc00"/>
<path d="M1256 1191l5 1-12-5-4-1z" fill="#ffd200"/>
<path d="M1267 1196l5 1-11-5-5-1z" fill="#ffdf00"/>
<path d="M1278 1202l5 1-11-6-5-1z" fill="#fff200"/>
<path d="M1294 1208l5 1-11-6-5 0zM1290 1208l4 0-11-5-5-1z" fill="#ffff00"/>
<path d="M1346 1240l4 0-11-7-4 0z" fill="#b3ff00"/>
<path d="M1335 1233l4 0-11-6-5 0z" fill="#c6ff00"/>
<path d="M1323 1227l5 0-11-7-5 0z" fill="#d2ff00"/>
<path d="M1312 1220l5 0-12-6-4 0z" fill="#e5ff00"/>
<path d="M1301 1214l4 0-11-6-4 0z" fill="#f2ff00"/>
<path d="M965 1110l5 1-11-1-5-1z" fill="#ff1300"/>
<path d="M982 1113l5 1-11-1-6-2zM993 1114l6 1-12-1-5-1z" fill="#ff1a00"/>
<path d="M1022 1119l5 1-12-2-5-1z" fill="#ff2600"/>
<path d="M1033 1121l5 1-11-2-5-1z" fill="#ff2d00"/>
<path d="M1050 1124l5 1-12-2-5-1z" fill="#ff3300"/>
<path d="M1061 1126l5 1-11-2-5-1z" fill="#ff3900"/>
<path d="M1072 1129l6 1-12-3-5-1z" fill="#ff4000"/>
<path d="M1089 1133l5 1-11-3-5-1zM1084 1132l5 1-11-3-6-1z" fill="#ff4600"/>
<path d="M1100 1136l5 1-11-3-5-1z" fill="#ff4c00"/>
<path d="M1112 1139l5 1-12-3-5-1z" fill="#ff5900"/>
<path d="M1123 1143l5 1-11-4-5-1z" fill="#ff6000"/>
<path d="M1139 1147l5 1-11-3-5-1z" fill="#ff6c00"/>
<path d="M1151 1151l5 1-12-4-5-1z" fill="#ff7300"/>
<path d="M1162 1156l5 0-11-4-5-1z" fill="#ff8000"/>
<path d="M1174 1160l4 0-11-4-5 0z" fill="#ff8600"/>
<path d="M1190 1165l5 1-12-5-5-1z" fill="#ff9300"/>
<path d="M1201 1170l5 0-11-4-5-1z" fill="#ff9f00"/>
<path d="M1212 1174l5 1-11-5-5 0z" fill="#ffac00"/>
<path d="M1224 1180l5 0-12-5-5-1z" fill="#ffb900"/>
<path d="M1240 1185l5 1-12-5-4-1z" fill="#ffc600"/>
<path d="M1251 1191l5 0-11-5-5-1z" fill="#ffd200"/>
<path d="M1262 1196l5 0-11-5-5 0z" fill="#ffdf00"/>
<path d="M1274 1202l4 0-11-6-5 0z" fill="#ffec00"/>
<path d="M1285 1208l5 0-12-6-4 0z" fill="#fff900"/>
<path d="M1341 1241l5-1-11-7-5 1z" fill="#b9ff00"/>
<path d="M1330 1234l5-1-12-6-4 0z" fill="#c6ff00"/>
<path d="M1319 1227l4 0-11-7-4 0z" fill="#d9ff00"/>
<path d="M1308 1220l4 0-11-6-5 0z" fill="#e5ff00"/>
<path d="M1296 1214l5 0-11-6-5 0z" fill="#f2ff00"/>
<path d="M948 1109l6 0-12-1-5 0zM960 1110l5 0-11-1-6 0z" fill="#ff0d00"/>
<path d="M977 1112l5 1-12-2-5-1z" fill="#ff1300"/>
<path d="M988 1113l5 1-11-1-5-1zM1000 1115l5 1-12-2-5-1z" fill="#ff1a00"/>
<path d="M1005 1116l5 1-11-2-6-1zM1016 1118l6 1-12-2-5-1z" fill="#ff2000"/>
<path d="M1028 1120l5 1-11-2-6-1z" fill="#ff2600"/>
<path d="M1045 1123l5 1-12-2-5-1zM1039 1123l6 0-12-2-5-1z" fill="#ff2d00"/>
<path d="M1056 1126l5 0-11-2-5-1z" fill="#ff3300"/>
<path d="M1067 1129l5 0-11-3-5 0z" fill="#ff3900"/>
<path d="M1079 1132l5 0-12-3-5 0z" fill="#ff4000"/>
<path d="M1095 1135l5 1-11-3-5-1z" fill="#ff4c00"/>
<path d="M1107 1139l5 0-12-3-5-1z" fill="#ff5300"/>
<path d="M1118 1143l5 0-11-4-5 0z" fill="#ff5900"/>
<path d="M1135 1147l4 0-11-3-5-1z" fill="#ff6600"/>
<path d="M1146 1151l5 0-12-4-4 0z" fill="#ff7300"/>
<path d="M1157 1155l5 1-11-5-5 0z" fill="#ff7900"/>
<path d="M1169 1160l5 0-12-4-5-1z" fill="#ff8600"/>
<path d="M1185 1164l5 1-12-5-4 0z" fill="#ff9300"/>
<path d="M1196 1169l5 1-11-5-5-1z" fill="#ff9f00"/>
<path d="M1208 1174l4 0-11-4-5-1z" fill="#ffa600"/>
<path d="M1219 1180l5 0-12-6-4 0z" fill="#ffb300"/>
<path d="M1235 1185l5 0-11-5-5 0z" fill="#ffc600"/>
<path d="M1246 1190l5 1-11-6-5 0z" fill="#ffd200"/>
<path d="M1258 1196l4 0-11-5-5-1z" fill="#ffdf00"/>
<path d="M1269 1202l5 0-12-6-4 0z" fill="#ffec00"/>
<path d="M1280 1208l5 0-11-6-5 0z" fill="#fff900"/>
<path d="M1337 1242l4-1-11-7-4 1z" fill="#b9ff00"/>
<path d="M1326 1235l4-1-11-7-5 1z" fill="#c6ff00"/>
<path d="M1314 1228l5-1-11-7-5 1z" fill="#d9ff00"/>
<path d="M1303 1221l5-1-12-6-4 0z" fill="#e5ff00"/>
<path d="M1292 1214l4 0-11-6-5 0z" fill="#f9ff00"/>
<path d="M932 1107l5 1-12-1-5-1zM915 1106l5 0-12 0-5-1zM926 1107l6 0-12-1-5 0z" fill="#ff0600"/>
<path d="M943 1108l5 1-11-1-5-1zM955 1110l5 0-12-1-5-1z" fill="#ff0d00"/>
<path d="M972 1111l5 1-12-2-5 0zM983 1113l5 0-11-1-5-1z" fill="#ff1300"/>
<path d="M995 1115l5 0-12-2-5 0z" fill="#ff1a00"/>
<path d="M1011 1117l5 1-11-2-5-1z" fill="#ff2000"/>
<path d="M1023 1120l5 0-12-2-5-1z" fill="#ff2600"/>
<path d="M1034 1123l5 0-11-3-5 0z" fill="#ff2d00"/>
<path d="M1051 1125l5 1-11-3-6 0z" fill="#ff3300"/>
<path d="M1062 1128l5 1-11-3-5-1z" fill="#ff3900"/>
<path d="M1074 1132l5 0-12-3-5-1z" fill="#ff4000"/>
<path d="M1090 1135l5 0-11-3-5 0z" fill="#ff4600"/>
<path d="M1102 1139l5 0-12-4-5 0z" fill="#ff5300"/>
<path d="M1113 1143l5 0-11-4-5 0z" fill="#ff5900"/>
<path d="M1130 1147l5 0-12-4-5 0zM1125 1147l5 0-12-4-5 0z" fill="#ff6600"/>
<path d="M1141 1151l5 0-11-4-5 0z" fill="#ff6c00"/>
<path d="M1153 1155l4 0-11-4-5 0z" fill="#ff7900"/>
<path d="M1164 1160l5 0-12-5-4 0z" fill="#ff8600"/>
<path d="M1180 1164l5 0-11-4-5 0z" fill="#ff8c00"/>
<path d="M1192 1169l4 0-11-5-5 0z" fill="#ff9900"/>
<path d="M1203 1174l5 0-12-5-4 0z" fill="#ffa600"/>
<path d="M1214 1180l5 0-11-6-5 0z" fill="#ffb300"/>
<path d="M1230 1185l5 0-11-5-5 0zM1226 1185l4 0-11-5-5 0z" fill="#ffbf00"/>
<path d="M1242 1191l4-1-11-5-5 0z" fill="#ffcc00"/>
<path d="M1253 1196l5 0-12-6-4 1z" fill="#ffd900"/>
<path d="M1264 1203l5-1-11-6-5 0z" fill="#ffec00"/>
<path d="M1276 1209l4-1-11-6-5 1z" fill="#fff900"/>
<path d="M1332 1243l5-1-11-7-5 1z" fill="#b9ff00"/>
<path d="M1321 1236l5-1-12-7-4 1z" fill="#c6ff00"/>
<path d="M1310 1229l4-1-11-7-5 1z" fill="#d9ff00"/>
<path d="M1298 1222l5-1-11-7-5 1z" fill="#e5ff00"/>
<path d="M1287 1215l5-1-12-6-4 1zM1282 1216l5-1-11-6-5 1z" fill="#f9ff00"/>
<path d="M898 1105l5 0-11 0-6 0zM823 1105l6 0-12 0-5 0z" fill="#ff0000"/>
<path d="M938 1108l5 0-11-1-6 0zM909 1106l6 0-12-1-5 0zM921 1107l5 0-11-1-6 0zM795 1106l5 0-12 1-5 0z" fill="#ff0600"/>
<path d="M966 1111l6 0-12-1-5 0zM950 1110l5 0-12-2-5 0zM961 1111l5 0-11-1-5 0z" fill="#ff0d00"/>
<path d="M978 1113l5 0-11-2-6 0z" fill="#ff1300"/>
<path d="M990 1115l5 0-12-2-5 0z" fill="#ff1a00"/>
<path d="M1006 1117l5 0-11-2-5 0zM1018 1120l5 0-12-3-5 0z" fill="#ff2000"/>
<path d="M1029 1123l5 0-11-3-5 0z" fill="#ff2600"/>
<path d="M1046 1125l5 0-12-2-5 0z" fill="#ff3300"/>
<path d="M1057 1129l5-1-11-3-5 0z" fill="#ff3900"/>
<path d="M1069 1132l5 0-12-4-5 1z" fill="#ff4000"/>
<path d="M1085 1135l5 0-11-3-5 0zM1080 1136l5-1-11-3-5 0z" fill="#ff4600"/>
<path d="M1097 1139l5 0-12-4-5 0z" fill="#ff5300"/>
<path d="M1108 1143l5 0-11-4-5 0z" fill="#ff5900"/>
<path d="M1120 1147l5 0-12-4-5 0z" fill="#ff6000"/>
<path d="M1136 1151l5 0-11-4-5 0z" fill="#ff6c00"/>
<path d="M1148 1155l5 0-12-4-5 0z" fill="#ff7900"/>
<path d="M1159 1160l5 0-11-5-5 0z" fill="#ff8000"/>
<path d="M1175 1165l5-1-11-4-5 0zM1171 1165l4 0-11-5-5 0z" fill="#ff8c00"/>
<path d="M1187 1170l5-1-12-5-5 1z" fill="#ff9900"/>
<path d="M1198 1175l5-1-11-5-5 1z" fill="#ffa600"/>
<path d="M1210 1180l4 0-11-6-5 1z" fill="#ffb300"/>
<path d="M1221 1186l5-1-12-5-4 0z" fill="#ffbf00"/>
<path d="M1237 1191l5 0-12-6-4 0z" fill="#ffcc00"/>
<path d="M1248 1197l5-1-11-5-5 0z" fill="#ffd900"/>
<path d="M1260 1203l4 0-11-7-5 1z" fill="#ffec00"/>
<path d="M1271 1210l5-1-12-6-4 0z" fill="#fff900"/>
<path d="M1328 1244l4-1-11-7-5 1z" fill="#b3ff00"/>
<path d="M1316 1237l5-1-11-7-5 1z" fill="#c6ff00"/>
<path d="M1305 1230l5-1-12-7-4 1z" fill="#d9ff00"/>
<path d="M1294 1223l4-1-11-7-5 1z" fill="#e5ff00"/>
<path d="M1278 1218l4-2-11-6-5 1z" fill="#f9ff00"/>
<path d="M893 1105l5 0-12 0-5 0zM835 1105l6-1-12 1-6 0zM904 1106l5 0-11-1-5 0zM876 1105l5 0-12-1-5 0zM818 1105l5 0-11 0-6 1zM887 1106l6-1-12 0-5 0zM859 1105l5-1-12 0-5 1z" fill="#ff0000"/>
<path d="M933 1108l5 0-12-1-5 0zM806 1106l6-1-12 1-5 0zM916 1107l5 0-12-1-5 0zM789 1107l6-1-12 1-6 0z" fill="#ff0600"/>
<path d="M777 1107l6 0-12 1-5 0zM944 1110l6 0-12-2-5 0zM760 1109l6-1-12 2-6 0zM956 1112l5-1-11-1-6 0z" fill="#ff0d00"/>
<path d="M748 1110l6 0-12 1-5 1zM973 1113l5 0-12-2-5 0z" fill="#ff1300"/>
<path d="M1001 1118l5-1-11-2-5 0zM984 1116l6-1-12-2-5 0zM731 1112l6 0-12 2-6 0zM996 1118l5 0-11-3-6 1z" fill="#ff1a00"/>
<path d="M1013 1120l5 0-12-3-5 1zM702 1117l6-1-12 2-6 1z" fill="#ff2000"/>
<path d="M1024 1123l5 0-11-3-5 0z" fill="#ff2600"/>
<path d="M1041 1126l5-1-12-2-5 0zM1036 1126l5 0-12-3-5 0zM685 1120l5-1-12 2-5 1z" fill="#ff2d00"/>
<path d="M673 1122l5-1-11 3-6 0z" fill="#ff3300"/>
<path d="M1052 1129l5 0-11-4-5 1zM655 1125l6-1-12 3-5 1z" fill="#ff3900"/>
<path d="M1064 1132l5 0-12-3-5 0z" fill="#ff4000"/>
<path d="M1075 1136l5 0-11-4-5 0z" fill="#ff4600"/>
<path d="M1092 1139l5 0-12-4-5 1z" fill="#ff4c00"/>
<path d="M1103 1143l5 0-11-4-5 0z" fill="#ff5900"/>
<path d="M1115 1148l5-1-12-4-5 0z" fill="#ff6000"/>
<path d="M1131 1151l5 0-11-4-5 0z" fill="#ff6c00"/>
<path d="M1143 1156l5-1-12-4-5 0z" fill="#ff7900"/>
<path d="M1154 1161l5-1-11-5-5 1z" fill="#ff8000"/>
<path d="M1166 1166l5-1-12-5-5 1z" fill="#ff8c00"/>
<path d="M1182 1170l5 0-12-5-4 0z" fill="#ff9900"/>
<path d="M1193 1176l5-1-11-5-5 0z" fill="#ffa600"/>
<path d="M1205 1181l5-1-12-5-5 1z" fill="#ffb300"/>
<path d="M1216 1187l5-1-11-6-5 1z" fill="#ffbf00"/>
<path d="M1232 1192l5-1-11-6-5 1zM1228 1193l4-1-11-6-5 1z" fill="#ffcc00"/>
<path d="M1244 1198l4-1-11-6-5 1z" fill="#ffd900"/>
<path d="M1255 1204l5-1-12-6-4 1z" fill="#ffec00"/>
<path d="M1266 1211l5-1-11-7-5 1z" fill="#fff900"/>
<path d="M1323 1246l5-2-12-7-4 2z" fill="#b3ff00"/>
<path d="M1312 1239l4-2-11-7-4 1z" fill="#c6ff00"/>
<path d="M1301 1231l4-1-11-7-5 1z" fill="#d2ff00"/>
<path d="M1289 1224l5-1-12-7-4 2zM1285 1226l4-2-11-6-5 1z" fill="#e5ff00"/>
<path d="M1273 1219l5-1-12-7-4 1z" fill="#f2ff00"/>
<path d="M830 1105l5 0-12 0-5 0zM899 1107l5-1-11-1-6 1zM870 1106l6-1-12-1-5 1zM842 1105l5 0-12 0-5 0zM813 1106l5-1-12 1-5 0zM882 1107l5-1-11-1-6 1zM853 1106l6-1-12 0-5 0zM824 1106l6-1-12 0-5 1z" fill="#ff0000"/>
<path d="M928 1109l5-1-12-1-5 0zM801 1106l5 0-11 0-6 1zM784 1108l5-1-12 0-5 1zM911 1108l5-1-12-1-5 1zM922 1110l6-1-12-2-5 1zM795 1107l6-1-12 1-5 1z" fill="#ff0600"/>
<path d="M772 1108l5-1-11 1-6 1zM939 1111l5-1-11-2-5 1zM755 1110l5-1-12 1-5 1zM951 1113l5-1-12-2-5 1zM766 1109l6-1-12 1-5 1z" fill="#ff0d00"/>
<path d="M743 1111l5-1-11 2-6 0zM968 1114l5-1-12-2-5 1zM737 1112l6-1-12 1-5 1z" fill="#ff1300"/>
<path d="M979 1116l5 0-11-3-5 1zM726 1113l5-1-12 2-5 1z" fill="#ff1a00"/>
<path d="M714 1115l5-1-11 2-6 1zM1008 1121l5-1-12-2-5 0zM991 1119l5-1-12-2-5 0zM708 1116l6-1-12 2-6 1z" fill="#ff2000"/>
<path d="M696 1118l6-1-12 2-5 1zM1019 1124l5-1-11-3-5 1z" fill="#ff2600"/>
<path d="M679 1121l6-1-12 2-6 1zM1031 1127l5-1-12-3-5 1z" fill="#ff2d00"/>
<path d="M667 1123l6-1-12 2-6 1z" fill="#ff3300"/>
<path d="M1047 1130l5-1-11-3-5 0zM650 1126l5-1-11 3-6 1z" fill="#ff3900"/>
<path d="M638 1129l6-1-12 3-6 1zM1059 1133l5-1-12-3-5 1z" fill="#ff4000"/>
<path d="M1070 1137l5-1-11-4-5 1zM632 1130l6-1-12 3-6 1z" fill="#ff4600"/>
<path d="M1087 1140l5-1-12-3-5 0zM620 1133l6-1-12 3-6 1z" fill="#ff4c00"/>
<path d="M1098 1144l5-1-11-4-5 1zM603 1137l5-1-11 3-6 2z" fill="#ff5900"/>
<path d="M1110 1149l5-1-12-5-5 1z" fill="#ff6000"/>
<path d="M1126 1152l5-1-11-4-5 1zM1122 1153l4-1-11-4-5 1z" fill="#ff6c00"/>
<path d="M1138 1157l5-1-12-5-5 1zM556 1151l5-2-12 4-5 2z" fill="#ff7900"/>
<path d="M1149 1162l5-1-11-5-5 1z" fill="#ff8000"/>
<path d="M1161 1167l5-1-12-5-5 1z" fill="#ff8c00"/>
<path d="M1177 1171l5-1-11-5-5 1zM1172 1173l5-2-11-5-5 1z" fill="#ff9900"/>
<path d="M1189 1177l4-1-11-6-5 1z" fill="#ffa600"/>
<path d="M1200 1183l5-2-12-5-4 1z" fill="#ffb300"/>
<path d="M1211 1189l5-2-11-6-5 2z" fill="#ffbf00"/>
<path d="M1223 1195l5-2-12-6-5 2z" fill="#ffd200"/>
<path d="M1239 1199l5-1-12-6-4 1z" fill="#ffdf00"/>
<path d="M1250 1206l5-2-11-6-5 1z" fill="#ffec00"/>
<path d="M1262 1212l4-1-11-7-5 2z" fill="#fff900"/>
<path d="M1319 1248l4-2-11-7-5 2z" fill="#b3ff00"/>
<path d="M1307 1241l5-2-11-8-5 2z" fill="#bfff00"/>
<path d="M1296 1233l5-2-12-7-4 2zM1291 1236l5-3-11-7-5 2z" fill="#d2ff00"/>
<path d="M1280 1228l5-2-12-7-4 2z" fill="#dfff00"/>
<path d="M1269 1221l4-2-11-7-5 2z" fill="#f2ff00"/>
<path d="M865 1107l5-1-11-1-6 1zM836 1106l6-1-12 0-6 1zM877 1108l5-1-12-1-5 1zM848 1107l5-1-11-1-6 1z" fill="#ff0000"/>
<path d="M894 1108l5-1-12-1-5 1zM807 1107l6-1-12 0-6 1zM778 1109l6-1-12 0-6 1zM905 1109l6-1-12-1-5 1zM819 1107l5-1-11 0-6 1zM917 1111l5-1-11-2-6 1zM790 1108l5-1-11 1-6 1zM888 1109l6-1-12-1-5 1z" fill="#ff0600"/>
<path d="M934 1112l5-1-11-2-6 1zM946 1114l5-1-12-2-5 1zM761 1110l5-1-11 1-6 1z" fill="#ff0d00"/>
<path d="M962 1115l6-1-12-2-5 1zM749 1111l6-1-12 1-6 1zM732 1113l5-1-11 1-6 2zM957 1116l5-1-11-2-5 1z" fill="#ff1300"/>
<path d="M720 1115l6-2-12 2-6 1zM974 1117l5-1-11-2-6 1z" fill="#ff1a00"/>
<path d="M1002 1122l6-1-12-3-5 1zM986 1120l5-1-12-3-5 1zM703 1117l5-1-12 2-5 1z" fill="#ff2000"/>
<path d="M691 1119l5-1-11 2-6 1zM997 1123l5-1-11-3-5 1z" fill="#ff2600"/>
<path d="M1014 1125l5-1-11-3-6 1zM673 1122l6-1-12 2-5 1z" fill="#ff2d00"/>
<path d="M662 1124l5-1-12 2-5 1zM1026 1128l5-1-12-3-5 1zM656 1126l6-2-12 2-6 2z" fill="#ff3300"/>
<path d="M1042 1131l5-1-11-4-5 1zM1037 1132l5-1-11-4-5 1z" fill="#ff3900"/>
<path d="M1054 1134l5-1-12-3-5 1zM644 1128l6-2-12 3-6 1z" fill="#ff4000"/>
<path d="M1065 1138l5-1-11-4-5 1zM627 1132l5-2-12 3-5 2z" fill="#ff4600"/>
<path d="M615 1135l5-2-12 3-5 1z" fill="#ff4c00"/>
<path d="M1082 1141l5-1-12-4-5 1zM1077 1143l5-2-12-4-5 1z" fill="#ff5300"/>
<path d="M1094 1146l4-2-11-4-5 1zM597 1139l6-2-12 4-6 1z" fill="#ff5900"/>
<path d="M585 1142l6-1-12 3-6 2z" fill="#ff6000"/>
<path d="M1105 1150l5-1-12-5-4 2zM579 1144l6-2-12 4-6 1z" fill="#ff6600"/>
<path d="M567 1147l6-1-12 3-5 2zM1117 1155l5-2-12-4-5 1z" fill="#ff6c00"/>
<path d="M1133 1158l5-1-12-5-4 1zM550 1152l6-1-12 4-6 1z" fill="#ff7900"/>
<path d="M1145 1163l4-1-11-5-5 1z" fill="#ff8600"/>
<path d="M532 1158l6-2-12 4-6 2z" fill="#ff8c00"/>
<path d="M520 1162l6-2-12 4-6 2zM1156 1169l5-2-12-5-4 1z" fill="#ff9300"/>
<path d="M1168 1174l4-1-11-6-5 2z" fill="#ff9f00"/>
<path d="M1184 1178l5-1-12-6-5 2z" fill="#ffa600"/>
<path d="M1195 1184l5-1-11-6-5 1zM484 1174l6-2-12 5-5 2z" fill="#ffb300"/>
<path d="M1207 1190l4-1-11-6-5 1zM467 1181l6-2-12 5-6 2z" fill="#ffc600"/>
<path d="M1218 1196l5-1-12-6-4 1z" fill="#ffd200"/>
<path d="M1234 1201l5-2-11-6-5 2zM437 1193l6-2-12 5-6 2zM1230 1203l4-2-11-6-5 1z" fill="#ffdf00"/>
<path d="M1246 1208l4-2-11-7-5 2z" fill="#ffec00"/>
<path d="M1257 1214l5-2-12-6-4 2z" fill="#ffff00"/>
<path d="M1314 1251l5-3-12-7-4 2z" fill="#acff00"/>
<path d="M1303 1243l4-2-11-8-5 3z" fill="#bfff00"/>
<path d="M1287 1238l4-2-11-8-5 3z" fill="#ccff00"/>
<path d="M1275 1231l5-3-11-7-5 2z" fill="#dfff00"/>
<path d="M1264 1223l5-2-12-7-4 2z" fill="#ecff00"/>
<path d="M860 1108l5-1-12-1-5 1zM831 1108l5-2-12 0-5 1zM802 1108l5-1-12 0-5 1zM900 1110l5-1-11-1-6 1zM871 1109l6-1-12-1-5 1zM843 1108l5-1-12-1-5 2zM814 1109l5-2-12 0-5 1zM883 1110l5-1-11-1-6 1zM854 1109l6-1-12-1-5 1zM825 1109l6-1-12-1-5 2zM796 1110l6-2-12 0-5 2z" fill="#ff0600"/>
<path d="M929 1113l5-1-12-2-5 1zM773 1110l5-1-12 0-5 1zM756 1112l5-2-12 1-5 2zM785 1110l5-2-12 1-5 1zM912 1112l5-1-12-2-5 1zM924 1114l5-1-12-2-5 1zM767 1112l6-2-12 0-5 2z" fill="#ff0d00"/>
<path d="M744 1113l5-2-12 1-5 1zM940 1115l6-1-12-2-5 1zM738 1114l6-1-12 0-6 2z" fill="#ff1300"/>
<path d="M715 1116l5-1-12 1-5 1zM969 1119l5-2-12-2-5 1zM726 1115l6-2-12 2-5 1zM952 1118l5-2-11-2-6 1z" fill="#ff1a00"/>
<path d="M697 1119l6-2-12 2-6 1zM981 1122l5-2-12-3-5 2zM709 1118l6-2-12 1-6 2z" fill="#ff2000"/>
<path d="M685 1120l6-1-12 2-6 1zM992 1125l5-2-11-3-5 2z" fill="#ff2600"/>
<path d="M1009 1126l5-1-12-3-5 1zM680 1122l5-2-12 2-5 2z" fill="#ff2d00"/>
<path d="M668 1124l5-2-11 2-6 2zM1021 1130l5-2-12-3-5 1z" fill="#ff3300"/>
<path d="M650 1127l6-1-12 2-6 2zM1032 1134l5-2-11-4-5 2z" fill="#ff3900"/>
<path d="M1049 1136l5-2-12-3-5 1zM638 1130l6-2-12 2-5 2z" fill="#ff4000"/>
<path d="M1060 1140l5-2-11-4-5 2zM621 1134l6-2-12 3-6 1z" fill="#ff4c00"/>
<path d="M609 1136l6-1-12 2-6 2zM1072 1144l5-1-12-5-5 2zM603 1138l6-2-12 3-6 2z" fill="#ff5300"/>
<path d="M1089 1147l5-1-12-5-5 2z" fill="#ff5900"/>
<path d="M591 1141l6-2-12 3-6 2z" fill="#ff6000"/>
<path d="M1100 1152l5-2-11-4-5 1zM574 1146l5-2-12 3-5 2z" fill="#ff6600"/>
<path d="M562 1149l5-2-11 4-6 1zM1112 1157l5-2-12-5-5 2zM556 1151l6-2-12 3-6 2z" fill="#ff7300"/>
<path d="M1128 1160l5-2-11-5-5 2z" fill="#ff7900"/>
<path d="M544 1154l6-2-12 4-6 2zM1123 1162l5-2-11-5-5 2z" fill="#ff8000"/>
<path d="M1140 1165l5-2-12-5-5 2z" fill="#ff8600"/>
<path d="M526 1160l6-2-12 4-6 2z" fill="#ff8c00"/>
<path d="M1151 1171l5-2-11-6-5 2z" fill="#ff9300"/>
<path d="M514 1164l6-2-12 4-6 2z" fill="#ff9900"/>
<path d="M1163 1176l5-2-12-5-5 2zM508 1166l6-2-12 4-6 2z" fill="#ff9f00"/>
<path d="M496 1170l6-2-12 4-6 2z" fill="#ffa600"/>
<path d="M1179 1180l5-2-12-5-4 1zM1174 1182l5-2-11-6-5 2z" fill="#ffac00"/>
<path d="M1191 1186l4-2-11-6-5 2zM479 1176l5-2-11 5-6 2z" fill="#ffb900"/>
<path d="M1202 1192l5-2-12-6-4 2zM461 1183l6-2-12 5-6 2z" fill="#ffc600"/>
<path d="M449 1188l6-2-12 5-6 2zM1213 1199l5-3-11-6-5 2z" fill="#ffd200"/>
<path d="M443 1190l6-2-12 5-6 2z" fill="#ffd900"/>
<path d="M431 1195l6-2-12 5-6 2zM1225 1205l5-2-12-7-5 3z" fill="#ffe500"/>
<path d="M1241 1210l5-2-12-7-4 2z" fill="#fff200"/>
<path d="M1253 1216l4-2-11-6-5 2z" fill="#ffff00"/>
<path d="M323 1243l6-2-12 6-7 2zM317 1246l6-3-13 6-6 3z" fill="#9fff00"/>
<path d="M1310 1253l4-2-11-8-5 3z" fill="#a6ff00"/>
<path d="M335 1237l6-2-12 6-6 2z" fill="#b3ff00"/>
<path d="M1298 1246l5-3-12-7-4 2zM1294 1248l4-2-11-8-5 3z" fill="#b9ff00"/>
<path d="M353 1229l6-3-12 6-6 3zM1282 1241l5-3-12-7-4 2z" fill="#c6ff00"/>
<path d="M1271 1233l4-2-11-8-5 3z" fill="#d9ff00"/>
<path d="M1259 1226l5-3-11-7-5 3z" fill="#ecff00"/>
<path d="M1248 1219l5-3-12-6-5 2z" fill="#f9ff00"/>
<path d="M866 1111l5-2-11-1-6 1zM837 1110l6-2-12 0-6 1zM808 1110l6-1-12-1-6 2zM849 1111l5-2-11-1-6 2zM820 1111l5-2-11 0-6 1z" fill="#ff0600"/>
<path d="M895 1112l5-2-12-1-5 1zM779 1112l6-2-12 0-6 2zM907 1114l5-2-12-2-5 2zM878 1112l5-2-12-1-5 2zM791 1112l5-2-11 0-6 2zM890 1114l5-2-12-2-5 2z" fill="#ff0d00"/>
<path d="M935 1117l5-2-11-2-5 1zM750 1114l6-2-12 1-6 1zM918 1116l6-2-12-2-5 2zM762 1114l5-2-11 0-6 2z" fill="#ff1300"/>
<path d="M964 1120l5-1-12-3-5 2zM721 1117l5-2-11 1-6 2zM947 1119l5-1-12-3-5 2zM733 1116l5-2-12 1-5 2z" fill="#ff1a00"/>
<path d="M975 1123l6-1-12-3-5 1zM703 1120l6-2-12 1-5 2zM959 1122l5-2-12-2-5 1z" fill="#ff2000"/>
<path d="M692 1121l5-2-12 1-5 2z" fill="#ff2600"/>
<path d="M1004 1128l5-2-12-3-5 2zM674 1124l6-2-12 2-6 2zM987 1126l5-1-11-3-6 1z" fill="#ff2d00"/>
<path d="M662 1126l6-2-12 2-6 1zM1016 1132l5-2-12-4-5 2zM999 1130l5-2-12-3-5 1z" fill="#ff3300"/>
<path d="M657 1128l5-2-12 1-5 2z" fill="#ff3900"/>
<path d="M645 1129l5-2-12 3-5 1zM1027 1135l5-1-11-4-5 2z" fill="#ff4000"/>
<path d="M633 1131l5-1-11 2-6 2zM1044 1138l5-2-12-4-5 2zM627 1134l6-3-12 3-6 2zM1039 1140l5-2-12-4-5 1z" fill="#ff4600"/>
<path d="M615 1136l6-2-12 2-6 2zM1055 1142l5-2-11-4-5 2z" fill="#ff4c00"/>
<path d="M1067 1146l5-2-12-4-5 2zM598 1140l5-2-12 3-5 2z" fill="#ff5900"/>
<path d="M1084 1149l5-2-12-4-5 1zM586 1143l5-2-12 3-5 2zM1079 1151l5-2-12-5-5 2z" fill="#ff6000"/>
<path d="M580 1145l6-2-12 3-6 2z" fill="#ff6600"/>
<path d="M1095 1154l5-2-11-5-5 2zM568 1148l6-2-12 3-6 2z" fill="#ff6c00"/>
<path d="M1107 1159l5-2-12-5-5 2z" fill="#ff7300"/>
<path d="M550 1153l6-2-12 3-6 3z" fill="#ff7900"/>
<path d="M1118 1164l5-2-11-5-5 2z" fill="#ff8000"/>
<path d="M538 1157l6-3-12 4-6 2zM532 1159l6-2-12 3-6 2z" fill="#ff8600"/>
<path d="M1135 1167l5-2-12-5-5 2zM1130 1169l5-2-12-5-5 2z" fill="#ff8c00"/>
<path d="M520 1162l6-2-12 4-6 2z" fill="#ff9300"/>
<path d="M1146 1173l5-2-11-6-5 2z" fill="#ff9900"/>
<path d="M503 1168l5-2-12 4-5 2z" fill="#ff9f00"/>
<path d="M1158 1178l5-2-12-5-5 2z" fill="#ffa600"/>
<path d="M491 1172l5-2-12 4-5 2z" fill="#ffac00"/>
<path d="M1169 1184l5-2-11-6-5 2zM485 1175l6-3-12 4-6 3z" fill="#ffb300"/>
<path d="M1186 1188l5-2-12-6-5 2zM473 1179l6-3-12 5-6 2z" fill="#ffb900"/>
<path d="M1181 1191l5-3-12-6-5 2z" fill="#ffbf00"/>
<path d="M1197 1194l5-2-11-6-5 2zM455 1186l6-3-12 5-6 2z" fill="#ffcc00"/>
<path d="M1209 1201l4-2-11-7-5 2z" fill="#ffd900"/>
<path d="M437 1193l6-3-12 5-6 2z" fill="#ffdf00"/>
<path d="M1220 1208l5-3-12-6-4 2z" fill="#ffe500"/>
<path d="M425 1197l6-2-12 5-6 2z" fill="#ffec00"/>
<path d="M1236 1212l5-2-11-7-5 2zM419 1200l6-3-12 5-6 3z" fill="#fff200"/>
<path d="M1232 1214l4-2-11-7-5 3z" fill="#fff900"/>
<path d="M407 1205l6-3-12 6-6 2z" fill="#ffff00"/>
<path d="M311 1249l6-3-13 6-6 3z" fill="#99ff00"/>
<path d="M1301 1260l4-4-11-8-5 4z" fill="#9fff00"/>
<path d="M1305 1256l5-3-12-7-4 2z" fill="#a6ff00"/>
<path d="M329 1241l6-4-12 6-6 3z" fill="#acff00"/>
<path d="M1289 1252l5-4-12-7-4 3z" fill="#b3ff00"/>
<path d="M347 1232l6-3-12 6-6 2z" fill="#bfff00"/>
<path d="M1278 1244l4-3-11-8-5 3z" fill="#c6ff00"/>
<path d="M365 1224l6-3-12 5-6 3zM1266 1236l5-3-12-7-4 3z" fill="#d2ff00"/>
<path d="M383 1216l6-3-12 5-6 3zM1255 1229l4-3-11-7-5 3zM377 1219l6-3-12 5-6 3z" fill="#e5ff00"/>
<path d="M1239 1225l4-3-11-8-5 3z" fill="#f2ff00"/>
<path d="M401 1208l6-3-12 5-6 3zM1243 1222l5-3-12-7-4 2zM395 1211l6-3-12 5-6 3z" fill="#f9ff00"/>
<path d="M861 1112l5-1-12-2-5 2zM832 1112l5-2-12-1-5 2zM803 1112l5-2-12 0-5 2zM873 1114l5-2-12-1-5 1zM844 1113l5-2-12-1-5 2zM815 1113l5-2-12-1-5 2zM855 1115l6-3-12-1-5 2zM826 1114l6-2-12-1-5 2z" fill="#ff0d00"/>
<path d="M774 1114l5-2-12 0-5 2zM901 1116l6-2-12-2-5 2zM913 1118l5-2-11-2-6 2zM786 1114l5-2-12 0-5 2zM756 1116l6-2-12 0-5 2zM884 1116l6-2-12-2-5 2zM797 1115l6-3-12 0-5 2zM768 1116l6-2-12 0-6 2z" fill="#ff1300"/>
<path d="M930 1119l5-2-11-3-6 2zM745 1116l5-2-12 0-5 2zM925 1121l5-2-12-3-5 2zM739 1118l6-2-12 0-6 2z" fill="#ff1a00"/>
<path d="M715 1119l6-2-12 1-6 2zM942 1121l5-2-12-2-5 2zM727 1118l6-2-12 1-6 2z" fill="#ff2000"/>
<path d="M970 1125l5-2-11-3-5 2zM698 1122l5-2-11 1-6 2zM953 1124l6-2-12-3-5 2zM710 1121l5-2-12 1-5 2z" fill="#ff2600"/>
<path d="M686 1123l6-2-12 1-6 2zM982 1129l5-3-12-3-5 2zM680 1125l6-2-12 1-5 2z" fill="#ff2d00"/>
<path d="M669 1126l5-2-12 2-5 2zM994 1132l5-2-12-4-5 3z" fill="#ff3300"/>
<path d="M1010 1134l6-2-12-4-5 2zM651 1130l6-2-12 1-6 3z" fill="#ff3900"/>
<path d="M639 1132l6-3-12 2-6 3zM1022 1138l5-3-11-3-6 2z" fill="#ff4000"/>
<path d="M621 1136l6-2-12 2-5 2zM1034 1142l5-2-12-5-5 3z" fill="#ff4c00"/>
<path d="M610 1138l5-2-12 2-5 2zM1050 1144l5-2-11-4-5 2z" fill="#ff5300"/>
<path d="M1062 1148l5-2-12-4-5 2zM604 1140l6-2-12 2-6 3z" fill="#ff5900"/>
<path d="M592 1143l6-3-12 3-6 2z" fill="#ff6000"/>
<path d="M1074 1153l5-2-12-5-5 2z" fill="#ff6600"/>
<path d="M1090 1156l5-2-11-5-5 2zM574 1148l6-3-12 3-6 2z" fill="#ff6c00"/>
<path d="M562 1150l6-2-12 3-6 2zM1085 1158l5-2-11-5-5 2z" fill="#ff7300"/>
<path d="M1102 1161l5-2-12-5-5 2zM556 1153l6-3-12 3-6 3z" fill="#ff7900"/>
<path d="M544 1156l6-3-12 4-6 2z" fill="#ff8000"/>
<path d="M1114 1166l4-2-11-5-5 2z" fill="#ff8600"/>
<path d="M527 1162l5-3-12 3-5 3z" fill="#ff8c00"/>
<path d="M1125 1172l5-3-12-5-4 2z" fill="#ff9300"/>
<path d="M515 1165l5-3-12 4-5 2zM1142 1175l4-2-11-6-5 2zM509 1168l6-3-12 3-6 3z" fill="#ff9900"/>
<path d="M497 1171l6-3-12 4-6 3zM1153 1181l5-3-12-5-4 2z" fill="#ffa600"/>
<path d="M479 1178l6-3-12 4-6 2zM1165 1187l4-3-11-6-5 3z" fill="#ffb300"/>
<path d="M467 1181l6-2-12 4-6 3z" fill="#ffbf00"/>
<path d="M461 1184l6-3-12 5-6 2zM1176 1193l5-2-12-7-4 3z" fill="#ffc600"/>
<path d="M1193 1197l4-3-11-6-5 3z" fill="#ffcc00"/>
<path d="M449 1188l6-2-12 4-6 3z" fill="#ffd200"/>
<path d="M443 1191l6-3-12 5-6 3z" fill="#ffd900"/>
<path d="M1204 1204l5-3-12-7-4 3z" fill="#ffdf00"/>
<path d="M431 1196l6-3-12 4-6 3z" fill="#ffe500"/>
<path d="M1216 1210l4-2-11-7-5 3z" fill="#ffec00"/>
<path d="M413 1203l6-3-12 5-6 3z" fill="#fff200"/>
<path d="M1227 1217l5-3-12-6-4 2z" fill="#ffff00"/>
<path d="M305 1253l6-4-13 6-6 3z" fill="#93ff00"/>
<path d="M1296 1263l5-3-12-8-4 3z" fill="#99ff00"/>
<path d="M317 1247l6-3-12 5-6 4z" fill="#9fff00"/>
<path d="M323 1244l6-3-12 5-6 3z" fill="#a6ff00"/>
<path d="M1285 1255l4-3-11-8-5 3z" fill="#acff00"/>
<path d="M335 1238l6-3-12 6-6 3z" fill="#b3ff00"/>
<path d="M341 1235l6-3-12 5-6 4z" fill="#b9ff00"/>
<path d="M1273 1247l5-3-12-8-4 3z" fill="#bfff00"/>
<path d="M353 1230l6-3-12 5-6 3z" fill="#c6ff00"/>
<path d="M359 1227l6-3-12 5-6 3zM1262 1239l4-3-11-7-5 3z" fill="#ccff00"/>
<path d="M1250 1232l5-3-12-7-4 3zM371 1222l6-3-12 5-6 3z" fill="#dfff00"/>
<path d="M1234 1228l5-3-12-8-5 4z" fill="#ecff00"/>
<path d="M389 1214l6-3-12 5-6 3z" fill="#f2ff00"/>
<path d="M896 1118l5-2-11-2-6 2zM867 1116l6-2-12-2-6 3zM838 1116l6-3-12-1-6 2zM809 1115l6-2-12-1-6 3zM780 1116l6-2-12 0-6 2zM879 1118l5-2-11-2-6 2zM850 1117l5-2-11-2-6 3zM821 1117l5-3-11-1-6 2zM792 1117l5-2-11-1-6 2z" fill="#ff1300"/>
<path d="M751 1118l5-2-11 0-6 2zM908 1121l5-3-12-2-5 2zM763 1118l5-2-12 0-5 2zM891 1121l5-3-12-2-5 2zM862 1119l5-3-12-1-5 2z" fill="#ff1a00"/>
<path d="M937 1124l5-3-12-2-5 2zM722 1121l5-3-12 1-5 2zM920 1123l5-2-12-3-5 3zM734 1121l5-3-12 0-5 3z" fill="#ff2000"/>
<path d="M948 1127l5-3-11-3-5 3zM704 1124l6-3-12 1-6 2z" fill="#ff2600"/>
<path d="M965 1128l5-3-11-3-6 2zM692 1124l6-2-12 1-6 2zM960 1130l5-2-12-4-5 3z" fill="#ff2d00"/>
<path d="M977 1131l5-2-12-4-5 3zM675 1128l5-3-11 1-6 3z" fill="#ff3300"/>
<path d="M663 1129l6-3-12 2-6 2zM989 1135l5-3-12-3-5 2z" fill="#ff3900"/>
<path d="M1005 1136l5-2-11-4-5 2zM645 1133l6-3-12 2-6 2zM1000 1139l5-3-11-4-5 3zM657 1131l6-2-12 1-6 3z" fill="#ff4000"/>
<path d="M633 1134l6-2-12 2-6 2zM1017 1140l5-2-12-4-5 2z" fill="#ff4600"/>
<path d="M628 1137l5-3-12 2-5 3z" fill="#ff4c00"/>
<path d="M1045 1146l5-2-11-4-5 2zM616 1139l5-3-11 2-6 2zM1029 1144l5-2-12-4-5 2z" fill="#ff5300"/>
<path d="M598 1143l6-3-12 3-6 2zM1041 1149l4-3-11-4-5 2z" fill="#ff5900"/>
<path d="M586 1145l6-2-12 2-6 3zM1057 1151l5-3-12-4-5 2z" fill="#ff6000"/>
<path d="M581 1148l5-3-12 3-6 2z" fill="#ff6600"/>
<path d="M568 1150l6-2-12 2-6 3zM1069 1156l5-3-12-5-5 3z" fill="#ff6c00"/>
<path d="M1080 1161l5-3-11-5-5 3z" fill="#ff7900"/>
<path d="M1097 1164l5-3-12-5-5 2zM551 1156l5-3-12 3-5 3z" fill="#ff8000"/>
<path d="M539 1159l5-3-12 3-5 3z" fill="#ff8600"/>
<path d="M1109 1169l5-3-12-5-5 3zM533 1161l6-2-12 3-6 2z" fill="#ff8c00"/>
<path d="M521 1164l6-2-12 3-6 3z" fill="#ff9300"/>
<path d="M1120 1175l5-3-11-6-5 3z" fill="#ff9900"/>
<path d="M1137 1178l5-3-12-6-5 3zM503 1170l6-2-12 3-6 3z" fill="#ff9f00"/>
<path d="M1132 1181l5-3-12-6-5 3z" fill="#ffa600"/>
<path d="M491 1174l6-3-12 4-6 3zM1148 1184l5-3-11-6-5 3z" fill="#ffac00"/>
<path d="M485 1177l6-3-12 4-6 2z" fill="#ffb300"/>
<path d="M473 1180l6-2-12 3-6 3zM1160 1190l5-3-12-6-5 3z" fill="#ffb900"/>
<path d="M455 1187l6-3-12 4-6 3zM1171 1196l5-3-11-6-5 3z" fill="#ffcc00"/>
<path d="M1188 1200l5-3-12-6-5 2z" fill="#ffd200"/>
<path d="M1183 1203l5-3-12-7-5 3z" fill="#ffd900"/>
<path d="M1199 1207l5-3-11-7-5 3zM437 1194l6-3-12 5-6 2z" fill="#ffdf00"/>
<path d="M425 1198l6-2-12 4-6 3z" fill="#ffec00"/>
<path d="M1211 1213l5-3-12-6-5 3zM419 1202l6-4-12 5-6 3z" fill="#fff200"/>
<path d="M407 1206l6-3-12 5-6 3z" fill="#fff900"/>
<path d="M1222 1221l5-4-11-7-5 3z" fill="#ffff00"/>
<path d="M293 1259l6-3-13 6-6 3z" fill="#80ff00"/>
<path d="M299 1256l6-3-13 5-6 4z" fill="#8cff00"/>
<path d="M1291 1267l5-4-11-8-5 4z" fill="#93ff00"/>
<path d="M311 1251l6-4-12 6-6 3z" fill="#99ff00"/>
<path d="M1280 1259l5-4-12-8-5 4z" fill="#a6ff00"/>
<path d="M329 1242l6-4-12 6-6 3z" fill="#acff00"/>
<path d="M1268 1251l5-4-11-8-5 4z" fill="#b9ff00"/>
<path d="M347 1233l6-3-12 5-6 3z" fill="#bfff00"/>
<path d="M1257 1243l5-4-12-7-5 3z" fill="#c6ff00"/>
<path d="M1241 1239l4-4-11-7-5 3z" fill="#d2ff00"/>
<path d="M1245 1235l5-3-11-7-5 3zM365 1225l6-3-12 5-6 3z" fill="#d9ff00"/>
<path d="M1229 1231l5-3-12-7-4 3zM377 1220l6-3-12 5-6 3z" fill="#e5ff00"/>
<path d="M383 1217l6-3-12 5-6 3z" fill="#ecff00"/>
<path d="M1218 1224l4-3-11-8-5 4zM395 1213l6-4-12 5-6 3z" fill="#f9ff00"/>
<path d="M833 1118l5-2-12-2-5 3z" fill="#ff1300"/>
<path d="M804 1118l5-3-12 0-5 2zM775 1119l5-3-12 0-5 2zM874 1121l5-3-12-2-5 3zM845 1120l5-3-12-1-5 2zM816 1119l5-2-12-2-5 3zM787 1120l5-3-12-1-5 3zM857 1122l5-3-12-2-5 3zM828 1121l5-3-12-1-5 2zM799 1121l5-3-12-1-5 3z" fill="#ff1a00"/>
<path d="M746 1121l5-3-12 0-5 3zM903 1123l5-2-12-3-5 3zM757 1121l6-3-12 0-5 3zM886 1123l5-2-12-3-5 3zM769 1122l6-3-12-1-6 3z" fill="#ff2000"/>
<path d="M931 1126l6-2-12-3-5 2zM716 1123l6-2-12 0-6 3zM914 1126l6-3-12-2-5 2zM728 1123l6-2-12 0-6 2zM740 1124l6-3-12 0-6 2zM897 1126l6-3-12-2-5 2z" fill="#ff2600"/>
<path d="M943 1129l5-2-11-3-6 2zM699 1126l5-2-12 0-5 3zM926 1129l5-3-11-3-6 3zM711 1126l5-3-12 1-5 2z" fill="#ff2d00"/>
<path d="M687 1127l5-3-12 1-5 3zM955 1133l5-3-12-3-5 2z" fill="#ff3300"/>
<path d="M972 1134l5-3-12-3-5 2zM669 1131l6-3-12 1-6 2zM681 1130l6-3-12 1-6 3zM967 1137l5-3-12-4-5 3z" fill="#ff3900"/>
<path d="M984 1137l5-2-12-4-5 3zM652 1134l5-3-12 2-5 2z" fill="#ff4000"/>
<path d="M640 1135l5-2-12 1-5 3zM995 1142l5-3-11-4-5 2z" fill="#ff4600"/>
<path d="M1012 1143l5-3-12-4-5 3zM634 1139l6-4-12 2-6 3z" fill="#ff4c00"/>
<path d="M1024 1147l5-3-12-4-5 3zM622 1140l6-3-12 2-6 2zM1007 1146l5-3-12-4-5 3z" fill="#ff5300"/>
<path d="M610 1141l6-2-12 1-6 3z" fill="#ff5900"/>
<path d="M593 1146l5-3-12 2-5 3zM1036 1152l5-3-12-5-5 3zM605 1144l5-3-12 2-5 3z" fill="#ff6000"/>
<path d="M1052 1154l5-3-12-5-4 3z" fill="#ff6600"/>
<path d="M575 1151l6-3-13 2-5 3zM1047 1157l5-3-11-5-5 3z" fill="#ff6c00"/>
<path d="M563 1153l5-3-12 3-5 3zM1064 1159l5-3-12-5-5 3z" fill="#ff7300"/>
<path d="M1076 1164l4-3-11-5-5 3zM557 1156l6-3-12 3-6 3z" fill="#ff7900"/>
<path d="M1092 1166l5-2-12-6-5 3zM545 1159l6-3-12 3-6 2z" fill="#ff8000"/>
<path d="M1087 1170l5-4-12-5-4 3z" fill="#ff8600"/>
<path d="M1104 1172l5-3-12-5-5 2z" fill="#ff8c00"/>
<path d="M527 1165l6-4-12 3-6 3z" fill="#ff9300"/>
<path d="M515 1167l6-3-12 4-6 2zM1115 1178l5-3-11-6-5 3z" fill="#ff9900"/>
<path d="M509 1171l6-4-12 3-6 4z" fill="#ff9f00"/>
<path d="M497 1174l6-4-12 4-6 3z" fill="#ffa600"/>
<path d="M1127 1184l5-3-12-6-5 3z" fill="#ffac00"/>
<path d="M1143 1187l5-3-11-6-5 3z" fill="#ffb300"/>
<path d="M479 1180l6-3-12 3-6 3zM1139 1190l4-3-11-6-5 3z" fill="#ffb900"/>
<path d="M467 1183l6-3-12 4-6 3zM1155 1193l5-3-12-6-5 3z" fill="#ffbf00"/>
<path d="M462 1187l5-4-12 4-6 3z" fill="#ffc600"/>
<path d="M1167 1200l4-4-11-6-5 3z" fill="#ffcc00"/>
<path d="M449 1190l6-3-12 4-6 3z" fill="#ffd200"/>
<path d="M444 1194l5-4-12 4-6 4z" fill="#ffd900"/>
<path d="M1178 1206l5-3-12-7-4 4z" fill="#ffdf00"/>
<path d="M1195 1210l4-3-11-7-5 3zM431 1198l6-4-12 4-6 4z" fill="#ffe500"/>
<path d="M1190 1213l5-3-12-7-5 3z" fill="#ffec00"/>
<path d="M1206 1217l5-4-12-6-4 3zM413 1205l6-3-12 4-6 3z" fill="#fff900"/>
<path d="M401 1209l6-3-12 5-6 3z" fill="#ffff00"/>
<path d="M286 1263l7-4-13 6-6 4z" fill="#79ff00"/>
<path d="M1287 1271l4-4-11-8-5 4z" fill="#8cff00"/>
<path d="M305 1254l6-3-12 5-6 3z" fill="#93ff00"/>
<path d="M1275 1263l5-4-12-8-4 4zM317 1249l6-4-12 6-6 3z" fill="#9fff00"/>
<path d="M323 1245l6-3-12 5-6 4z" fill="#a6ff00"/>
<path d="M1264 1255l4-4-11-8-5 4zM335 1241l6-4-12 5-6 3z" fill="#b3ff00"/>
<path d="M341 1237l6-4-12 5-6 4zM1248 1251l4-4-11-8-5 4z" fill="#b9ff00"/>
<path d="M1252 1247l5-4-12-8-4 4z" fill="#bfff00"/>
<path d="M353 1232l6-3-12 4-6 4z" fill="#c6ff00"/>
<path d="M359 1229l6-4-12 5-6 3zM1236 1243l5-4-12-8-4 4z" fill="#ccff00"/>
<path d="M371 1224l6-4-12 5-6 4z" fill="#d9ff00"/>
<path d="M1225 1235l4-4-11-7-5 4z" fill="#dfff00"/>
<path d="M1213 1228l5-4-12-7-5 3zM390 1216l5-3-12 4-6 3z" fill="#ecff00"/>
<path d="M1197 1224l4-4-11-7-5 4zM402 1212l6-4-13 5-5 3z" fill="#f9ff00"/>
<path d="M869 1124l5-3-12-2-5 3zM840 1123l5-3-12-2-5 3zM810 1122l6-3-12-1-5 3zM781 1123l6-3-12-1-6 3zM851 1125l6-3-12-2-5 3zM822 1124l6-3-12-2-6 3zM793 1124l6-3-12-1-6 3z" fill="#ff2000"/>
<path d="M752 1124l5-3-11 0-6 3zM880 1127l6-4-12-2-5 3zM764 1125l5-3-12-1-5 3zM863 1127l6-3-12-2-6 3z" fill="#ff2600"/>
<path d="M723 1126l5-3-12 0-5 3zM909 1129l5-3-11-3-6 3zM735 1127l5-3-12-1-5 3zM892 1129l5-3-11-3-6 4z" fill="#ff2d00"/>
<path d="M938 1132l5-3-12-3-5 3zM693 1130l6-4-12 1-6 3zM921 1132l5-3-12-3-5 3zM705 1129l6-3-12 0-6 4z" fill="#ff3300"/>
<path d="M950 1136l5-3-12-4-5 3zM933 1136l5-4-12-3-5 3zM688 1133l5-3-12 0-5 3z" fill="#ff3900"/>
<path d="M664 1134l5-3-12 0-5 3zM676 1133l5-3-12 1-5 3zM962 1140l5-3-12-4-5 3z" fill="#ff4000"/>
<path d="M978 1141l6-4-12-3-5 3zM646 1138l6-4-12 1-6 4zM658 1137l6-3-12 0-6 4z" fill="#ff4600"/>
<path d="M990 1145l5-3-11-5-6 4z" fill="#ff4c00"/>
<path d="M629 1142l5-3-12 1-5 3z" fill="#ff5300"/>
<path d="M1019 1150l5-3-12-4-5 3zM617 1143l5-3-12 1-5 3zM1002 1149l5-3-12-4-5 3z" fill="#ff5900"/>
<path d="M587 1149l6-3-12 2-6 3zM1031 1155l5-3-12-5-5 3zM599 1148l6-4-12 2-6 3z" fill="#ff6600"/>
<path d="M581 1153l6-4-12 2-6 3z" fill="#ff6c00"/>
<path d="M569 1154l6-3-12 2-6 3zM1042 1160l5-3-11-5-5 3z" fill="#ff7300"/>
<path d="M1059 1162l5-3-12-5-5 3z" fill="#ff7900"/>
<path d="M1071 1167l5-3-12-5-5 3zM551 1160l6-4-12 3-6 3z" fill="#ff8000"/>
<path d="M539 1162l6-3-12 2-6 4z" fill="#ff8600"/>
<path d="M1082 1173l5-3-11-6-5 3z" fill="#ff8c00"/>
<path d="M1099 1175l5-3-12-6-5 4zM534 1165l5-3-12 3-5 3z" fill="#ff9300"/>
<path d="M522 1168l5-3-12 2-6 4zM1094 1179l5-4-12-5-5 3z" fill="#ff9900"/>
<path d="M1111 1181l4-3-11-6-5 3z" fill="#ff9f00"/>
<path d="M504 1174l5-3-12 3-5 3z" fill="#ffa600"/>
<path d="M492 1177l5-3-12 3-6 3z" fill="#ffac00"/>
<path d="M1122 1187l5-3-12-6-4 3zM486 1180l6-3-13 3-5 3z" fill="#ffb300"/>
<path d="M474 1183l5-3-12 3-5 4zM1134 1194l5-4-12-6-5 3z" fill="#ffbf00"/>
<path d="M1150 1196l5-3-12-6-4 3zM468 1187l6-4-12 4-6 3z" fill="#ffc600"/>
<path d="M456 1190l6-3-13 3-5 4z" fill="#ffcc00"/>
<path d="M1162 1203l5-3-12-7-5 3z" fill="#ffd900"/>
<path d="M438 1197l6-3-13 4-5 3z" fill="#ffdf00"/>
<path d="M1174 1210l4-4-11-6-5 3z" fill="#ffe500"/>
<path d="M426 1201l5-3-12 4-6 3z" fill="#ffec00"/>
<path d="M1185 1217l5-4-12-7-4 4zM420 1204l6-3-13 4-5 3z" fill="#fff200"/>
<path d="M1201 1220l5-3-11-7-5 3zM408 1208l5-3-12 4-6 4z" fill="#ffff00"/>
<path d="M274 1271l6-4-12 5-6 4z" fill="#6cff00"/>
<path d="M280 1267l6-4-12 6-6 3z" fill="#73ff00"/>
<path d="M1282 1275l5-4-12-8-4 4zM293 1262l6-4-13 5-6 4z" fill="#80ff00"/>
<path d="M299 1258l6-4-12 5-7 4z" fill="#8cff00"/>
<path d="M1271 1267l4-4-11-8-5 4z" fill="#93ff00"/>
<path d="M311 1253l6-4-12 5-6 4z" fill="#99ff00"/>
<path d="M1255 1263l4-4-11-8-5 4z" fill="#9fff00"/>
<path d="M1259 1259l5-4-12-8-4 4z" fill="#a6ff00"/>
<path d="M329 1244l6-3-12 4-6 4z" fill="#acff00"/>
<path d="M1243 1255l5-4-12-8-4 4z" fill="#b3ff00"/>
<path d="M347 1236l6-4-12 5-6 4z" fill="#bfff00"/>
<path d="M1232 1247l4-4-11-8-5 4z" fill="#c6ff00"/>
<path d="M360 1232l6-4-13 4-6 4z" fill="#ccff00"/>
<path d="M366 1228l5-4-12 5-6 3z" fill="#d2ff00"/>
<path d="M1220 1239l5-4-12-7-5 4z" fill="#d9ff00"/>
<path d="M378 1224l6-4-13 4-5 4z" fill="#dfff00"/>
<path d="M384 1220l6-4-13 4-6 4zM1208 1232l5-4-12-8-4 4z" fill="#e5ff00"/>
<path d="M396 1216l6-4-12 4-6 4zM1192 1228l5-4-12-7-5 4z" fill="#f2ff00"/>
<path d="M834 1126l6-3-12-2-6 3zM805 1126l5-4-11-1-6 3zM776 1126l5-3-12-1-5 3zM846 1128l5-3-11-2-6 3zM817 1127l5-3-12-2-5 4z" fill="#ff2600"/>
<path d="M747 1127l5-3-12 0-5 3zM875 1130l5-3-11-3-6 3zM788 1127l5-3-12-1-5 3zM759 1128l5-3-12-1-5 3zM858 1131l5-4-12-2-5 3zM829 1129l5-3-12-2-5 3zM800 1129l5-3-12-2-5 3zM771 1130l5-4-12-1-5 3z" fill="#ff2d00"/>
<path d="M717 1130l6-4-12 0-6 3zM904 1132l5-3-12-3-5 3zM729 1130l6-3-12-1-6 4zM887 1133l5-4-12-2-5 3zM741 1131l6-4-12 0-6 3z" fill="#ff3300"/>
<path d="M700 1133l5-4-12 1-5 3zM916 1136l5-4-12-3-5 3zM712 1133l5-3-12-1-5 4zM899 1136l5-4-12-3-5 4z" fill="#ff3900"/>
<path d="M945 1139l5-3-12-4-5 4zM928 1139l5-3-12-4-5 4zM682 1136l6-3-12 0-6 3z" fill="#ff4000"/>
<path d="M670 1136l6-3-12 1-6 3z" fill="#ff4600"/>
<path d="M973 1144l5-3-11-4-5 3zM957 1143l5-3-12-4-5 3zM653 1140l5-3-12 1-5 3z" fill="#ff4c00"/>
<path d="M641 1141l5-3-12 1-5 3zM985 1148l5-3-12-4-5 3zM968 1147l5-3-11-4-5 3z" fill="#ff5300"/>
<path d="M623 1145l6-3-12 1-6 3zM635 1144l6-3-12 1-6 3z" fill="#ff5900"/>
<path d="M611 1146l6-3-12 1-6 4zM1014 1154l5-4-12-4-5 3zM997 1153l5-4-12-4-5 3z" fill="#ff6000"/>
<path d="M605 1150l6-4-12 2-6 3z" fill="#ff6600"/>
<path d="M593 1151l6-3-12 1-6 4zM1026 1159l5-4-12-5-5 4zM1009 1157l5-3-12-5-5 4z" fill="#ff6c00"/>
<path d="M563 1158l6-4-12 2-6 4zM576 1156l5-3-12 1-6 4zM1037 1164l5-4-11-5-5 4z" fill="#ff7900"/>
<path d="M1054 1165l5-3-12-5-5 3z" fill="#ff8000"/>
<path d="M558 1161l5-3-12 2-5 3zM1049 1169l5-4-12-5-5 4z" fill="#ff8600"/>
<path d="M1066 1171l5-4-12-5-5 3zM546 1163l5-3-12 2-5 3z" fill="#ff8c00"/>
<path d="M1077 1177l5-4-11-6-5 4zM528 1169l6-4-12 3-6 3z" fill="#ff9900"/>
<path d="M516 1171l6-3-13 3-5 3z" fill="#ff9f00"/>
<path d="M1089 1183l5-4-12-6-5 4zM510 1175l6-4-12 3-6 4z" fill="#ffa600"/>
<path d="M1106 1185l5-4-12-6-5 4zM498 1178l6-4-12 3-6 3z" fill="#ffac00"/>
<path d="M1101 1189l5-4-12-6-5 4z" fill="#ffb300"/>
<path d="M1117 1191l5-4-11-6-5 4z" fill="#ffb900"/>
<path d="M480 1184l6-4-12 3-6 4z" fill="#ffbf00"/>
<path d="M1129 1198l5-4-12-7-5 4z" fill="#ffc600"/>
<path d="M1145 1200l5-4-11-6-5 4zM462 1191l6-4-12 3-6 4z" fill="#ffcc00"/>
<path d="M1141 1204l4-4-11-6-5 4z" fill="#ffd200"/>
<path d="M450 1194l6-4-12 4-6 3z" fill="#ffd900"/>
<path d="M1157 1207l5-4-12-7-5 4zM444 1198l6-4-12 3-6 4z" fill="#ffdf00"/>
<path d="M432 1201l6-4-12 4-6 3z" fill="#ffe500"/>
<path d="M1169 1214l5-4-12-7-5 4z" fill="#ffec00"/>
<path d="M414 1208l6-4-12 4-6 4z" fill="#fff900"/>
<path d="M1180 1221l5-4-11-7-5 4z" fill="#ffff00"/>
<path d="M269 1275l5-4-12 5-6 4z" fill="#66ff00"/>
<path d="M1278 1280l4-5-11-8-5 5zM287 1266l6-4-13 5-6 4z" fill="#79ff00"/>
<path d="M1262 1276l4-4-11-9-5 5z" fill="#86ff00"/>
<path d="M1266 1272l5-5-12-8-4 4zM305 1257l6-4-12 5-6 4z" fill="#8cff00"/>
<path d="M1250 1268l5-5-12-8-5 5zM317 1252l6-4-12 5-6 4z" fill="#99ff00"/>
<path d="M323 1248l6-4-12 5-6 4z" fill="#a6ff00"/>
<path d="M1238 1260l5-5-11-8-5 5z" fill="#acff00"/>
<path d="M336 1244l5-4-12 4-6 4z" fill="#b3ff00"/>
<path d="M341 1240l6-4-12 5-6 3zM1227 1252l5-5-12-8-5 5z" fill="#b9ff00"/>
<path d="M354 1236l6-4-13 4-6 4z" fill="#c6ff00"/>
<path d="M1215 1244l5-5-12-7-4 4z" fill="#ccff00"/>
<path d="M372 1228l6-4-12 4-6 4zM1199 1240l5-4-12-8-5 5z" fill="#d9ff00"/>
<path d="M1204 1236l4-4-11-8-5 4z" fill="#dfff00"/>
<path d="M1187 1233l5-5-12-7-4 4z" fill="#e5ff00"/>
<path d="M390 1220l6-4-12 4-6 4z" fill="#ecff00"/>
<path d="M402 1216l6-4-12 4-6 4z" fill="#f2ff00"/>
<path d="M1176 1225l4-4-11-7-5 4z" fill="#f9ff00"/>
<path d="M812 1131l5-4-12-1-5 3z" fill="#ff2d00"/>
<path d="M870 1133l5-3-12-3-5 4zM841 1132l5-4-12-2-5 3zM782 1131l6-4-12-1-5 4zM753 1132l6-4-12-1-6 4zM853 1134l5-3-12-3-5 4zM824 1133l5-4-12-2-5 4zM794 1133l6-4-12-2-6 4zM765 1133l6-3-12-2-6 4z" fill="#ff3300"/>
<path d="M724 1134l5-4-12 0-5 3zM882 1136l5-3-12-3-5 3zM736 1135l5-4-12-1-5 4zM865 1137l5-4-12-2-5 3zM836 1136l5-4-12-3-5 4zM806 1135l6-4-12-2-6 4z" fill="#ff3900"/>
<path d="M694 1136l6-3-12 0-6 3zM911 1139l5-3-12-4-5 4zM706 1137l6-4-12 0-6 3zM894 1140l5-4-12-3-5 3zM718 1138l6-4-12-1-6 4z" fill="#ff4000"/>
<path d="M940 1143l5-4-12-3-5 3zM923 1143l5-4-12-3-5 3z" fill="#ff4600"/>
<path d="M665 1140l5-4-12 1-5 3zM677 1140l5-4-12 0-5 4zM689 1140l5-4-12 0-5 4z" fill="#ff4c00"/>
<path d="M951 1147l6-4-12-4-5 4zM647 1144l6-4-12 1-6 3zM659 1144l6-4-12 0-6 4zM934 1147l6-4-12-4-5 4z" fill="#ff5300"/>
<path d="M980 1152l5-4-12-4-5 3zM963 1151l5-4-11-4-6 4z" fill="#ff5900"/>
<path d="M617 1149l6-4-12 1-6 4zM630 1148l5-4-12 1-6 4z" fill="#ff6000"/>
<path d="M992 1156l5-3-12-5-5 4zM975 1156l5-4-12-5-5 4z" fill="#ff6600"/>
<path d="M600 1154l5-4-12 1-5 4zM612 1153l5-4-12 1-5 4z" fill="#ff6c00"/>
<path d="M588 1155l5-4-12 2-5 3zM1021 1162l5-3-12-5-5 3zM1004 1161l5-4-12-4-5 3z" fill="#ff7300"/>
<path d="M582 1159l6-4-12 1-6 4z" fill="#ff7900"/>
<path d="M570 1160l6-4-13 2-5 3zM1032 1168l5-4-11-5-5 3zM1016 1167l5-5-12-5-5 4z" fill="#ff8000"/>
<path d="M552 1165l6-4-12 2-6 4zM1044 1173l5-4-12-5-5 4z" fill="#ff8c00"/>
<path d="M540 1167l6-4-12 2-6 4zM1061 1175l5-4-12-6-5 4z" fill="#ff9300"/>
<path d="M534 1171l6-4-12 2-6 4zM1056 1179l5-4-12-6-5 4z" fill="#ff9900"/>
<path d="M522 1173l6-4-12 2-6 4zM1072 1181l5-4-11-6-5 4z" fill="#ff9f00"/>
<path d="M504 1179l6-4-12 3-6 3zM1084 1187l5-4-12-6-5 4z" fill="#ffac00"/>
<path d="M492 1181l6-3-12 2-6 4z" fill="#ffb300"/>
<path d="M1096 1193l5-4-12-6-5 4z" fill="#ffb900"/>
<path d="M1113 1195l4-4-11-6-5 4zM486 1185l6-4-12 3-6 4z" fill="#ffbf00"/>
<path d="M474 1188l6-4-12 3-6 4z" fill="#ffc600"/>
<path d="M1124 1202l5-4-12-7-4 4zM468 1192l6-4-12 3-6 4z" fill="#ffcc00"/>
<path d="M456 1195l6-4-12 3-6 4z" fill="#ffd200"/>
<path d="M1136 1208l5-4-12-6-5 4z" fill="#ffdf00"/>
<path d="M1152 1211l5-4-12-7-4 4zM438 1202l6-4-12 3-6 4z" fill="#ffe500"/>
<path d="M1148 1215l4-4-11-7-5 4z" fill="#ffec00"/>
<path d="M426 1205l6-4-12 3-6 4zM1164 1218l5-4-12-7-5 4z" fill="#fff200"/>
<path d="M420 1209l6-4-12 3-6 4z" fill="#fff900"/>
<path d="M408 1212l6-4-12 4-6 4z" fill="#ffff00"/>
<path d="M257 1283l6-4-13 5-6 4z" fill="#53ff00"/>
<path d="M263 1279l6-4-13 5-6 4z" fill="#59ff00"/>
<path d="M275 1274l6-4-12 5-6 4zM1269 1290l4-5-11-9-5 5z" fill="#66ff00"/>
<path d="M1273 1285l5-5-12-8-4 4zM281 1270l6-4-13 5-5 4z" fill="#73ff00"/>
<path d="M1257 1281l5-5-12-8-5 5z" fill="#79ff00"/>
<path d="M293 1265l6-4-12 5-6 4z" fill="#80ff00"/>
<path d="M299 1261l6-4-12 5-6 4z" fill="#86ff00"/>
<path d="M1245 1273l5-5-12-8-4 4z" fill="#8cff00"/>
<path d="M311 1257l6-5-12 5-6 4z" fill="#93ff00"/>
<path d="M1234 1264l4-4-11-8-5 4z" fill="#9fff00"/>
<path d="M330 1248l6-4-13 4-6 4z" fill="#a6ff00"/>
<path d="M1222 1256l5-4-12-8-4 4z" fill="#b3ff00"/>
<path d="M348 1240l6-4-13 4-5 4zM1206 1253l5-5-12-8-5 5z" fill="#b9ff00"/>
<path d="M1211 1248l4-4-11-8-5 4zM360 1236l6-4-12 4-6 4z" fill="#c6ff00"/>
<path d="M366 1232l6-4-12 4-6 4zM1194 1245l5-5-12-7-4 4z" fill="#ccff00"/>
<path d="M378 1228l6-4-12 4-6 4z" fill="#d9ff00"/>
<path d="M384 1224l6-4-12 4-6 4zM1183 1237l4-4-11-8-5 5z" fill="#dfff00"/>
<path d="M396 1220l6-4-12 4-6 4z" fill="#ecff00"/>
<path d="M1171 1230l5-5-12-7-5 5z" fill="#f2ff00"/>
<path d="M1155 1227l4-4-11-8-5 5z" fill="#f9ff00"/>
<path d="M748 1136l5-4-12-1-5 4zM777 1135l5-4-11-1-6 3zM818 1137l6-4-12-2-6 4zM789 1137l5-4-12-2-5 4z" fill="#ff3900"/>
<path d="M877 1140l5-4-12-3-5 4zM848 1138l5-4-12-2-5 4zM730 1138l6-3-12-1-6 4zM760 1137l5-4-12-1-5 4zM830 1140l6-4-12-3-6 4zM801 1139l5-4-12-2-5 4zM772 1139l5-4-12-2-5 4z" fill="#ff4000"/>
<path d="M906 1143l5-4-12-3-5 4zM889 1144l5-4-12-4-5 4zM859 1141l6-4-12-3-5 4zM742 1140l6-4-12-1-6 3z" fill="#ff4600"/>
<path d="M701 1141l5-4-12-1-5 4zM713 1142l5-4-12-1-5 4zM871 1144l6-4-12-3-6 4z" fill="#ff4c00"/>
<path d="M671 1144l6-4-12 0-6 4zM917 1147l6-4-12-4-5 4zM683 1144l6-4-12 0-6 4zM900 1147l6-4-12-3-5 4z" fill="#ff5300"/>
<path d="M946 1151l5-4-11-4-6 4zM654 1148l5-4-12 0-5 4zM929 1151l5-4-11-4-6 4zM666 1148l5-4-12 0-5 4z" fill="#ff5900"/>
<path d="M642 1148l5-4-12 0-5 4zM958 1155l5-4-12-4-5 4zM941 1155l5-4-12-4-5 4z" fill="#ff6000"/>
<path d="M624 1152l6-4-13 1-5 4zM636 1152l6-4-12 0-6 4z" fill="#ff6600"/>
<path d="M987 1161l5-5-12-4-5 4zM970 1160l5-4-12-5-5 4z" fill="#ff6c00"/>
<path d="M606 1157l6-4-12 1-6 4z" fill="#ff7300"/>
<path d="M594 1158l6-4-12 1-6 4zM999 1166l5-5-12-5-5 5zM982 1165l5-4-12-5-5 4z" fill="#ff7900"/>
<path d="M576 1163l6-4-12 1-6 4zM589 1162l5-4-12 1-6 4z" fill="#ff8000"/>
<path d="M564 1164l6-4-12 1-6 4zM1027 1172l5-4-11-6-5 5zM1011 1171l5-4-12-6-5 5z" fill="#ff8600"/>
<path d="M559 1168l5-4-12 1-6 4z" fill="#ff8c00"/>
<path d="M546 1169l6-4-12 2-6 4zM1039 1177l5-4-12-5-5 4zM1022 1176l5-4-11-5-5 4z" fill="#ff9300"/>
<path d="M529 1175l5-4-12 2-5 4zM1051 1183l5-4-12-6-5 4z" fill="#ff9f00"/>
<path d="M517 1177l5-4-12 2-6 4zM1068 1185l4-4-11-6-5 4z" fill="#ffa600"/>
<path d="M1063 1189l5-4-12-6-5 4z" fill="#ffac00"/>
<path d="M1079 1191l5-4-12-6-4 4zM511 1181l6-4-13 2-5 4z" fill="#ffb300"/>
<path d="M499 1183l5-4-12 2-6 4z" fill="#ffb900"/>
<path d="M1091 1197l5-4-12-6-5 4zM493 1187l6-4-13 2-5 4z" fill="#ffbf00"/>
<path d="M1108 1199l5-4-12-6-5 4zM481 1189l5-4-12 3-6 4z" fill="#ffc600"/>
<path d="M1103 1204l5-5-12-6-5 4z" fill="#ffd200"/>
<path d="M1119 1206l5-4-11-7-5 4zM463 1196l5-4-12 3-5 4z" fill="#ffd900"/>
<path d="M451 1199l5-4-12 3-6 4z" fill="#ffdf00"/>
<path d="M1131 1213l5-5-12-6-5 4zM445 1203l6-4-13 3-5 4z" fill="#ffe500"/>
<path d="M433 1206l5-4-12 3-6 4z" fill="#ffec00"/>
<path d="M1143 1220l5-5-12-7-5 5z" fill="#fff900"/>
<path d="M1159 1223l5-5-12-7-4 4zM414 1213l6-4-12 3-6 4z" fill="#ffff00"/>
<path d="M251 1287l6-4-13 5-6 4z" fill="#4cff00"/>
<path d="M1264 1295l5-5-12-9-4 6z" fill="#59ff00"/>
<path d="M269 1278l6-4-12 5-6 4z" fill="#60ff00"/>
<path d="M1253 1287l4-6-12-8-4 5z" fill="#6cff00"/>
<path d="M287 1270l6-5-12 5-6 4z" fill="#73ff00"/>
<path d="M300 1265l5-4-12 4-6 5z" fill="#80ff00"/>
<path d="M1241 1278l4-5-11-9-5 6z" fill="#86ff00"/>
<path d="M305 1261l6-4-12 4-6 4z" fill="#8cff00"/>
<path d="M318 1257l6-5-13 5-6 4z" fill="#93ff00"/>
<path d="M1229 1270l5-6-12-8-4 5z" fill="#99ff00"/>
<path d="M324 1252l6-4-13 4-6 5zM1213 1266l5-5-12-8-5 5z" fill="#9fff00"/>
<path d="M1218 1261l4-5-11-8-5 5z" fill="#a6ff00"/>
<path d="M336 1248l6-4-12 4-6 4z" fill="#acff00"/>
<path d="M342 1244l6-4-12 4-6 4zM1201 1258l5-5-12-8-4 5z" fill="#b3ff00"/>
<path d="M354 1240l6-4-12 4-6 4z" fill="#bfff00"/>
<path d="M1190 1250l4-5-11-8-5 5z" fill="#c6ff00"/>
<path d="M1178 1242l5-5-12-7-5 5zM372 1232l6-4-12 4-6 4z" fill="#d2ff00"/>
<path d="M1161 1240l5-5-11-8-5 5z" fill="#dfff00"/>
<path d="M1166 1235l5-5-12-7-4 4zM391 1225l5-5-12 4-6 4z" fill="#e5ff00"/>
<path d="M1150 1232l5-5-12-7-5 5zM403 1222l6-5-13 3-5 5z" fill="#ecff00"/>
<path d="M409 1217l5-4-12 3-6 4z" fill="#f2ff00"/>
<path d="M842 1142l6-4-12-2-6 4zM813 1141l5-4-12-2-5 4zM784 1141l5-4-12-2-5 4zM754 1141l6-4-12-1-6 4zM796 1143l5-4-12-2-5 4z" fill="#ff4600"/>
<path d="M725 1143l5-5-12 0-5 4zM854 1145l5-4-11-3-6 4zM825 1144l5-4-12-3-5 4zM737 1144l5-4-12-2-5 5zM766 1143l6-4-12-2-6 4zM837 1147l5-5-12-2-5 4zM808 1145l5-4-12-2-5 4zM778 1145l6-4-12-2-6 4z" fill="#ff4c00"/>
<path d="M695 1145l6-4-12-1-6 4zM883 1148l6-4-12-4-6 4zM707 1146l6-4-12-1-6 4zM866 1149l5-5-12-3-5 4zM720 1147l5-4-12-1-6 4zM749 1146l5-5-12-1-5 4z" fill="#ff5300"/>
<path d="M912 1151l5-4-11-4-6 4zM678 1148l5-4-12 0-5 4zM895 1152l5-5-11-3-6 4zM690 1149l5-4-12-1-5 4z" fill="#ff5900"/>
<path d="M924 1155l5-4-12-4-5 4zM907 1156l5-5-12-4-5 5z" fill="#ff6000"/>
<path d="M648 1152l6-4-12 0-6 4zM660 1152l6-4-12 0-6 4z" fill="#ff6600"/>
<path d="M953 1160l5-5-12-4-5 4zM631 1156l5-4-12 0-6 4zM936 1160l5-5-12-4-5 4z" fill="#ff6c00"/>
<path d="M618 1156l6-4-12 1-6 4zM965 1164l5-4-12-5-5 5zM948 1164l5-4-12-5-5 5z" fill="#ff7300"/>
<path d="M601 1161l5-4-12 1-5 4zM613 1161l5-5-12 1-5 4z" fill="#ff7900"/>
<path d="M994 1170l5-4-12-5-5 4zM977 1169l5-4-12-5-5 4z" fill="#ff8000"/>
<path d="M583 1166l6-4-13 1-5 4z" fill="#ff8600"/>
<path d="M571 1167l5-4-12 1-5 4zM1006 1175l5-4-12-5-5 4z" fill="#ff8c00"/>
<path d="M565 1171l6-4-12 1-6 4z" fill="#ff9300"/>
<path d="M553 1172l6-4-13 1-5 4zM1017 1181l5-5-11-5-5 4z" fill="#ff9900"/>
<path d="M541 1173l5-4-12 2-5 4zM1034 1182l5-5-12-5-5 4z" fill="#ff9f00"/>
<path d="M535 1178l6-5-12 2-6 4z" fill="#ffa600"/>
<path d="M523 1179l6-4-12 2-6 4zM1046 1188l5-5-12-6-5 5z" fill="#ffac00"/>
<path d="M517 1184l6-5-12 2-6 4z" fill="#ffb300"/>
<path d="M505 1185l6-4-12 2-6 4zM1058 1194l5-5-12-6-5 5z" fill="#ffb900"/>
<path d="M1074 1196l5-5-11-6-5 4z" fill="#ffbf00"/>
<path d="M487 1191l6-4-12 2-6 5zM1070 1200l4-4-11-7-5 5z" fill="#ffc600"/>
<path d="M475 1194l6-5-13 3-5 4zM1086 1202l5-5-12-6-5 5z" fill="#ffcc00"/>
<path d="M1098 1209l5-5-12-7-5 5zM469 1198l6-4-12 2-6 4z" fill="#ffd900"/>
<path d="M1115 1211l4-5-11-7-5 5zM457 1200l6-4-12 3-6 4z" fill="#ffdf00"/>
<path d="M1110 1216l5-5-12-7-5 5z" fill="#ffec00"/>
<path d="M1126 1218l5-5-12-7-4 5zM439 1207l6-4-12 3-6 4z" fill="#fff200"/>
<path d="M427 1210l6-4-13 3-6 4z" fill="#fff900"/>
<path d="M1138 1225l5-5-12-7-5 5zM421 1214l6-4-13 3-5 4z" fill="#ffff00"/>
<path d="M245 1292l6-5-13 5-6 5z" fill="#40ff00"/>
<path d="M257 1287l6-4-12 4-6 5z" fill="#4cff00"/>
<path d="M1260 1301l4-6-11-8-5 5z" fill="#53ff00"/>
<path d="M263 1283l6-5-12 5-6 4z" fill="#59ff00"/>
<path d="M1248 1292l5-5-12-9-5 5zM275 1278l6-4-12 4-6 5z" fill="#66ff00"/>
<path d="M281 1274l6-4-12 4-6 4zM1232 1289l4-6-11-8-5 5z" fill="#6cff00"/>
<path d="M1236 1283l5-5-12-8-4 5zM294 1270l6-5-13 5-6 4z" fill="#79ff00"/>
<path d="M1220 1280l5-5-12-9-5 6z" fill="#80ff00"/>
<path d="M1225 1275l4-5-11-9-5 5zM312 1261l6-4-13 4-5 4z" fill="#8cff00"/>
<path d="M1208 1272l5-6-12-8-4 6z" fill="#93ff00"/>
<path d="M330 1253l6-5-12 4-6 5z" fill="#9fff00"/>
<path d="M1197 1264l4-6-11-8-5 5z" fill="#a6ff00"/>
<path d="M343 1249l5-4-12 3-6 5z" fill="#acff00"/>
<path d="M348 1245l6-5-12 4-6 4z" fill="#b3ff00"/>
<path d="M1185 1255l5-5-12-8-5 6z" fill="#b9ff00"/>
<path d="M361 1241l6-4-13 3-6 5zM1168 1253l5-5-12-8-4 5z" fill="#bfff00"/>
<path d="M367 1237l5-5-12 4-6 4z" fill="#c6ff00"/>
<path d="M1173 1248l5-6-12-7-5 5z" fill="#ccff00"/>
<path d="M1157 1245l4-5-11-8-5 5zM379 1234l6-5-13 3-5 5z" fill="#d2ff00"/>
<path d="M385 1229l6-4-13 3-6 4z" fill="#d9ff00"/>
<path d="M1145 1237l5-5-12-7-5 5zM397 1226l6-4-12 3-6 4z" fill="#e5ff00"/>
<path d="M1133 1230l5-5-12-7-4 5zM415 1219l6-5-12 3-6 5z" fill="#f2ff00"/>
<path d="M1117 1228l5-5-12-7-5 5zM427 1216l6-4-12 2-6 5z" fill="#f9ff00"/>
<path d="M849 1150l5-5-12-3-5 5zM820 1148l5-4-12-3-5 4zM790 1147l6-4-12-2-6 4zM761 1148l5-5-12-2-5 5z" fill="#ff5300"/>
<path d="M878 1152l5-4-12-4-5 5zM702 1150l5-4-12-1-5 4zM732 1148l5-4-12-1-5 4zM832 1151l5-4-12-3-5 4zM802 1150l6-5-12-2-6 4zM744 1150l5-4-12-2-5 4zM773 1150l5-5-12-2-5 5zM785 1152l5-5-12-2-5 5z" fill="#ff5900"/>
<path d="M861 1153l5-4-12-4-5 5zM714 1151l6-4-13-1-5 4zM844 1155l5-5-12-3-5 4zM815 1153l5-5-12-3-6 5zM726 1153l6-5-12-1-6 4z" fill="#ff6000"/>
<path d="M672 1153l6-5-12 0-6 4zM890 1156l5-4-12-4-5 4zM684 1154l6-5-12-1-6 5zM873 1157l5-5-12-3-5 4zM697 1155l5-5-12-1-6 5z" fill="#ff6600"/>
<path d="M643 1156l5-4-12 0-5 4zM919 1160l5-5-12-4-5 5zM655 1157l5-5-12 0-5 4zM902 1160l5-4-12-4-5 4zM667 1157l5-4-12-1-5 5z" fill="#ff6c00"/>
<path d="M931 1164l5-4-12-5-5 5zM914 1165l5-5-12-4-5 4z" fill="#ff7300"/>
<path d="M625 1161l6-5-13 0-5 5zM637 1161l6-5-12 0-6 5z" fill="#ff7900"/>
<path d="M960 1169l5-5-12-4-5 4zM943 1169l5-5-12-4-5 4z" fill="#ff8000"/>
<path d="M595 1165l6-4-12 1-6 4zM607 1165l6-4-12 0-6 4z" fill="#ff8600"/>
<path d="M989 1175l5-5-12-5-5 4zM972 1174l5-5-12-5-5 5zM590 1170l5-5-12 1-6 4z" fill="#ff8c00"/>
<path d="M577 1170l6-4-12 1-6 4z" fill="#ff9300"/>
<path d="M1001 1180l5-5-12-5-5 5zM984 1179l5-4-12-6-5 5z" fill="#ff9900"/>
<path d="M547 1177l6-5-12 1-6 5zM560 1176l5-5-12 1-6 5z" fill="#ff9f00"/>
<path d="M1029 1187l5-5-12-6-5 5zM1012 1186l5-5-11-6-5 5z" fill="#ffa600"/>
<path d="M530 1182l5-4-12 1-6 5zM542 1181l5-4-12 1-5 4z" fill="#ffac00"/>
<path d="M1041 1193l5-5-12-6-5 5zM1024 1192l5-5-12-6-5 5z" fill="#ffb300"/>
<path d="M512 1188l5-4-12 1-6 5z" fill="#ffbf00"/>
<path d="M499 1190l6-5-12 2-6 4zM1053 1199l5-5-12-6-5 5z" fill="#ffc600"/>
<path d="M494 1194l5-4-12 1-6 5z" fill="#ffcc00"/>
<path d="M1081 1207l5-5-12-6-4 4zM481 1196l6-5-12 3-6 4zM1065 1205l5-5-12-6-5 5z" fill="#ffd200"/>
<path d="M463 1202l6-4-12 2-6 5zM1077 1212l4-5-11-7-5 5z" fill="#ffdf00"/>
<path d="M451 1205l6-5-12 3-6 4zM1093 1214l5-5-12-7-5 5z" fill="#ffe500"/>
<path d="M1105 1221l5-5-12-7-5 5zM445 1209l6-4-12 2-6 5z" fill="#fff200"/>
<path d="M1122 1223l4-5-11-7-5 5zM433 1212l6-5-12 3-6 4z" fill="#fff900"/>
<path d="M1255 1307l5-6-12-9-5 6z" fill="#46ff00"/>
<path d="M1239 1304l4-6-11-9-5 6z" fill="#4cff00"/>
<path d="M1243 1298l5-6-12-9-4 6zM269 1283l6-5-12 5-6 4z" fill="#59ff00"/>
<path d="M1227 1295l5-6-12-9-5 6z" fill="#60ff00"/>
<path d="M288 1274l6-4-13 4-6 4z" fill="#6cff00"/>
<path d="M1215 1286l5-6-12-8-4 6z" fill="#73ff00"/>
<path d="M300 1271l6-5-12 4-6 4z" fill="#79ff00"/>
<path d="M306 1266l6-5-12 4-6 5zM1204 1278l4-6-11-8-5 5z" fill="#86ff00"/>
<path d="M318 1262l6-4-12 3-6 5z" fill="#8cff00"/>
<path d="M324 1258l6-5-12 4-6 4zM1192 1269l5-5-12-9-5 6z" fill="#99ff00"/>
<path d="M337 1254l6-5-13 4-6 5z" fill="#9fff00"/>
<path d="M1176 1267l4-6-12-8-4 5z" fill="#a6ff00"/>
<path d="M1180 1261l5-6-12-7-5 5z" fill="#acff00"/>
<path d="M355 1246l6-5-13 4-5 4zM1164 1258l4-5-11-8-5 6z" fill="#b3ff00"/>
<path d="M373 1238l6-4-12 3-6 4zM1152 1251l5-6-12-8-5 6z" fill="#c6ff00"/>
<path d="M385 1236l6-5-12 3-6 4z" fill="#ccff00"/>
<path d="M391 1231l6-5-12 3-6 5zM1140 1243l5-6-12-7-5 5z" fill="#d9ff00"/>
<path d="M404 1228l5-5-12 3-6 5zM1124 1241l4-6-11-7-5 5z" fill="#dfff00"/>
<path d="M1128 1235l5-5-11-7-5 5zM409 1223l6-4-12 3-6 4zM1112 1233l5-5-12-7-5 5z" fill="#ecff00"/>
<path d="M422 1221l5-5-12 3-6 4z" fill="#f2ff00"/>
<path d="M756 1152l5-4-12-2-5 4zM797 1155l5-5-12-3-5 5zM768 1154l5-4-12-2-5 4z" fill="#ff6000"/>
<path d="M856 1158l5-5-12-3-5 5zM827 1156l5-5-12-3-5 5zM709 1156l5-5-12-1-5 5zM738 1155l6-5-12-2-6 5zM809 1158l6-5-13-3-5 5zM780 1157l5-5-12-2-5 4zM750 1157l6-5-12-2-6 5z" fill="#ff6600"/>
<path d="M885 1161l5-5-12-4-5 5zM679 1158l5-4-12-1-5 4zM868 1162l5-5-12-4-5 5zM839 1159l5-4-12-4-5 5zM721 1158l5-5-12-2-5 5z" fill="#ff6c00"/>
<path d="M897 1165l5-5-12-4-5 5zM691 1160l6-5-13-1-5 4zM851 1163l5-5-12-3-5 4z" fill="#ff7300"/>
<path d="M649 1161l6-4-12-1-6 5zM661 1162l6-5-12 0-6 4zM880 1166l5-5-12-4-5 5zM674 1163l5-5-12-1-6 5z" fill="#ff7900"/>
<path d="M619 1165l6-4-12 0-6 4zM926 1169l5-5-12-4-5 5zM632 1166l5-5-12 0-6 4zM909 1170l5-5-12-5-5 5zM644 1166l5-5-12 0-5 5z" fill="#ff8000"/>
<path d="M955 1174l5-5-12-5-5 5zM602 1170l5-5-12 0-5 5zM938 1174l5-5-12-5-5 5zM614 1170l5-5-12 0-5 5zM921 1174l5-5-12-4-5 5z" fill="#ff8c00"/>
<path d="M967 1179l5-5-12-5-5 5zM950 1179l5-5-12-5-5 5z" fill="#ff9300"/>
<path d="M572 1175l5-5-12 1-5 5zM584 1175l6-5-13 0-5 5z" fill="#ff9900"/>
<path d="M996 1185l5-5-12-5-5 4zM979 1185l5-6-12-5-5 5z" fill="#ff9f00"/>
<path d="M554 1180l6-4-13 1-5 4zM566 1180l6-5-12 1-6 4z" fill="#ffa600"/>
<path d="M1007 1191l5-5-11-6-5 5zM991 1190l5-5-12-6-5 6z" fill="#ffac00"/>
<path d="M536 1186l6-5-12 1-6 5z" fill="#ffb300"/>
<path d="M524 1187l6-5-13 2-5 4z" fill="#ffb900"/>
<path d="M1036 1198l5-5-12-6-5 5zM1019 1197l5-5-12-6-5 5z" fill="#ffbf00"/>
<path d="M506 1193l6-5-13 2-5 4zM518 1192l6-5-12 1-6 5z" fill="#ffc600"/>
<path d="M1048 1204l5-5-12-6-5 5zM1031 1203l5-5-12-6-5 5z" fill="#ffcc00"/>
<path d="M476 1201l5-5-12 2-6 4zM1060 1211l5-6-12-6-5 5zM488 1199l6-5-13 2-5 5z" fill="#ffd900"/>
<path d="M470 1205l6-4-13 1-5 5z" fill="#ffe500"/>
<path d="M458 1207l5-5-12 3-6 4zM1072 1217l5-5-12-7-5 6z" fill="#ffec00"/>
<path d="M1088 1219l5-5-12-7-4 5zM452 1212l6-5-13 2-5 5z" fill="#fff200"/>
<path d="M440 1214l5-5-12 3-6 4zM1083 1224l5-5-11-7-5 5z" fill="#fff900"/>
<path d="M1100 1226l5-5-12-7-5 5z" fill="#ffff00"/>
<path d="M1246 1319l4-6-11-9-5 6z" fill="#2dff00"/>
<path d="M1250 1313l5-6-12-9-4 6z" fill="#39ff00"/>
<path d="M1234 1310l5-6-12-9-5 6z" fill="#40ff00"/>
<path d="M1222 1301l5-6-12-9-4 6z" fill="#53ff00"/>
<path d="M282 1279l6-5-13 4-6 5z" fill="#66ff00"/>
<path d="M1211 1292l4-6-11-8-5 5z" fill="#6cff00"/>
<path d="M294 1275l6-4-12 3-6 5z" fill="#73ff00"/>
<path d="M1199 1283l5-5-12-9-5 6z" fill="#80ff00"/>
<path d="M313 1267l5-5-12 4-6 5zM1183 1281l4-6-11-8-5 6z" fill="#86ff00"/>
<path d="M1187 1275l5-6-12-8-4 6z" fill="#93ff00"/>
<path d="M331 1259l6-5-13 4-6 4zM1171 1273l5-6-12-9-5 6z" fill="#99ff00"/>
<path d="M343 1256l6-5-12 3-6 5z" fill="#9fff00"/>
<path d="M349 1251l6-5-12 3-6 5zM1159 1264l5-6-12-7-5 5z" fill="#acff00"/>
<path d="M361 1248l6-5-12 3-6 5z" fill="#b3ff00"/>
<path d="M1147 1256l5-5-12-8-4 5z" fill="#b9ff00"/>
<path d="M367 1243l6-5-12 3-6 5zM1131 1254l5-6-12-7-5 5z" fill="#bfff00"/>
<path d="M380 1240l5-4-12 2-6 5z" fill="#c6ff00"/>
<path d="M1136 1248l4-5-12-8-4 6z" fill="#ccff00"/>
<path d="M1119 1246l5-5-12-8-5 6z" fill="#d2ff00"/>
<path d="M398 1233l6-5-13 3-6 5z" fill="#d9ff00"/>
<path d="M410 1231l6-5-12 2-6 5z" fill="#dfff00"/>
<path d="M416 1226l6-5-13 2-5 5zM1107 1239l5-6-12-7-5 6zM1090 1237l5-5-12-8-4 6z" fill="#e5ff00"/>
<path d="M428 1224l6-5-12 2-6 5z" fill="#ecff00"/>
<path d="M1095 1232l5-6-12-7-5 5z" fill="#f2ff00"/>
<path d="M434 1219l6-5-13 2-5 5zM1079 1230l4-6-11-7-5 6z" fill="#f9ff00"/>
<path d="M821 1161l6-5-12-3-6 5zM792 1160l5-5-12-3-5 5zM733 1160l5-5-12-2-5 5zM762 1159l6-5-12-2-6 5z" fill="#ff6c00"/>
<path d="M703 1161l6-5-12-1-6 5zM833 1165l6-6-12-3-6 5zM804 1163l5-5-12-3-5 5zM715 1163l6-5-12-2-6 5zM775 1162l5-5-12-3-6 5zM745 1162l5-5-12-2-5 5z" fill="#ff7300"/>
<path d="M863 1167l5-5-12-4-5 5zM686 1165l5-5-12-2-5 5zM816 1166l5-5-12-3-5 5zM787 1165l5-5-12-3-5 5zM728 1165l5-5-12-2-6 5zM757 1165l5-6-12-2-5 5z" fill="#ff7900"/>
<path d="M892 1170l5-5-12-4-5 5zM656 1167l5-5-12-1-5 5zM875 1171l5-5-12-4-5 5zM845 1168l6-5-12-4-6 6zM698 1166l5-5-12-1-5 5z" fill="#ff8000"/>
<path d="M668 1168l6-5-13-1-5 5z" fill="#ff8600"/>
<path d="M626 1171l6-5-13-1-5 5zM904 1175l5-5-12-5-5 5zM638 1171l6-5-12 0-6 5zM887 1176l5-6-12-4-5 5z" fill="#ff8c00"/>
<path d="M933 1179l5-5-12-5-5 5zM916 1180l5-6-12-4-5 5z" fill="#ff9300"/>
<path d="M596 1175l6-5-12 0-6 5zM608 1175l6-5-12 0-6 5zM621 1176l5-5-12-1-6 5z" fill="#ff9900"/>
<path d="M962 1184l5-5-12-5-5 5zM945 1184l5-5-12-5-5 5zM591 1180l5-5-12 0-6 5z" fill="#ff9f00"/>
<path d="M578 1180l6-5-12 0-6 5z" fill="#ffa600"/>
<path d="M974 1190l5-5-12-6-5 5zM957 1190l5-6-12-5-5 5zM573 1185l5-5-12 0-5 5z" fill="#ffac00"/>
<path d="M548 1185l6-5-12 1-6 5zM561 1185l5-5-12 0-6 5z" fill="#ffb300"/>
<path d="M1002 1196l5-5-11-6-5 5zM986 1196l5-6-12-5-5 5z" fill="#ffb900"/>
<path d="M530 1191l6-5-12 1-6 5zM543 1190l5-5-12 1-6 5z" fill="#ffbf00"/>
<path d="M1014 1202l5-5-12-6-5 5zM998 1202l4-6-11-6-5 6z" fill="#ffc600"/>
<path d="M513 1197l5-5-12 1-6 5z" fill="#ffcc00"/>
<path d="M500 1198l6-5-12 1-6 5zM1026 1208l5-5-12-6-5 5z" fill="#ffd200"/>
<path d="M1043 1209l5-5-12-6-5 5z" fill="#ffd900"/>
<path d="M482 1204l6-5-12 2-6 4zM495 1203l5-5-12 1-6 5z" fill="#ffdf00"/>
<path d="M1055 1216l5-5-12-7-5 5zM1038 1215l5-6-12-6-5 5z" fill="#ffe500"/>
<path d="M477 1209l5-5-12 1-6 5z" fill="#ffec00"/>
<path d="M464 1210l6-5-12 2-6 5z" fill="#fff200"/>
<path d="M1067 1223l5-6-12-6-5 5z" fill="#fff900"/>
<path d="M446 1217l6-5-12 2-6 5z" fill="#ffff00"/>
<path d="M1241 1325l5-6-12-9-4 6z" fill="#20ff00"/>
<path d="M1230 1316l4-6-12-9-4 6z" fill="#33ff00"/>
<path d="M1218 1307l4-6-11-9-5 6z" fill="#46ff00"/>
<path d="M1206 1298l5-6-12-9-5 6z" fill="#60ff00"/>
<path d="M1190 1296l4-7-11-8-5 6z" fill="#66ff00"/>
<path d="M1194 1289l5-6-12-8-4 6z" fill="#73ff00"/>
<path d="M307 1272l6-5-13 4-6 4zM1178 1287l5-6-12-8-5 6z" fill="#79ff00"/>
<path d="M319 1269l6-5-12 3-6 5z" fill="#80ff00"/>
<path d="M325 1264l6-5-13 3-5 5zM1166 1279l5-6-12-9-5 6z" fill="#8cff00"/>
<path d="M337 1261l6-5-12 3-6 5z" fill="#93ff00"/>
<path d="M1154 1270l5-6-12-8-4 6z" fill="#9fff00"/>
<path d="M356 1253l5-5-12 3-6 5zM1138 1268l5-6-12-8-5 6z" fill="#a6ff00"/>
<path d="M1143 1262l4-6-11-8-5 6z" fill="#acff00"/>
<path d="M1126 1260l5-6-12-8-5 6zM368 1251l6-6-13 3-5 5z" fill="#b3ff00"/>
<path d="M374 1245l6-5-13 3-6 5z" fill="#b9ff00"/>
<path d="M386 1243l6-5-12 2-6 5z" fill="#bfff00"/>
<path d="M1114 1252l5-6-12-7-5 6z" fill="#c6ff00"/>
<path d="M392 1238l6-5-13 3-5 4zM1098 1251l4-6-12-8-4 6z" fill="#ccff00"/>
<path d="M404 1236l6-5-12 2-6 5z" fill="#d2ff00"/>
<path d="M1102 1245l5-6-12-7-5 5zM1086 1243l4-6-11-7-5 6z" fill="#d9ff00"/>
<path d="M423 1229l5-5-12 2-6 5z" fill="#e5ff00"/>
<path d="M1074 1236l5-6-12-7-5 6z" fill="#ecff00"/>
<path d="M441 1222l5-5-12 2-6 5z" fill="#f2ff00"/>
<path d="M453 1221l6-6-13 2-5 5z" fill="#f9ff00"/>
<path d="M769 1167l6-5-13-3-5 6z" fill="#ff7900"/>
<path d="M828 1170l5-5-12-4-5 5zM710 1168l5-5-12-2-5 5zM799 1168l5-5-12-3-5 5zM740 1167l5-5-12-2-5 5zM781 1170l6-5-12-3-6 5zM752 1170l5-5-12-3-5 5z" fill="#ff8000"/>
<path d="M857 1172l6-5-12-4-6 5zM680 1170l6-5-12-2-6 5zM840 1174l5-6-12-3-5 5zM692 1171l6-5-12-1-6 5zM811 1172l5-6-12-3-5 5zM722 1170l6-5-13-2-5 5zM793 1174l6-6-12-3-6 5zM734 1173l6-6-12-2-6 5zM764 1173l5-6-12-2-5 5z" fill="#ff8600"/>
<path d="M651 1172l5-5-12-1-6 5zM869 1177l6-6-12-4-6 5zM663 1174l5-6-12-1-5 5zM823 1175l5-5-12-4-5 6zM705 1173l5-5-12-2-6 5z" fill="#ff8c00"/>
<path d="M899 1180l5-5-12-5-5 6zM852 1178l5-6-12-4-5 6zM675 1175l5-5-12-2-5 6z" fill="#ff9300"/>
<path d="M633 1176l5-5-12 0-5 5zM881 1181l6-5-12-5-6 6zM645 1178l6-6-13-1-5 5z" fill="#ff9900"/>
<path d="M928 1185l5-6-12-5-5 6zM603 1180l5-5-12 0-5 5zM911 1185l5-5-12-5-5 5zM615 1181l6-5-13-1-5 5zM894 1186l5-6-12-4-6 5z" fill="#ff9f00"/>
<path d="M940 1190l5-6-12-5-5 6zM585 1185l6-5-13 0-5 5zM923 1190l5-5-12-5-5 5zM597 1185l6-5-12 0-6 5z" fill="#ffac00"/>
<path d="M969 1195l5-5-12-6-5 6zM555 1190l6-5-13 0-5 5zM952 1195l5-5-12-6-5 6zM567 1190l6-5-12 0-6 5z" fill="#ffb900"/>
<path d="M981 1201l5-5-12-6-5 5zM537 1195l6-5-13 1-5 5zM964 1201l5-6-12-5-5 5zM549 1195l6-5-12 0-6 5z" fill="#ffc600"/>
<path d="M525 1196l5-5-12 1-5 5z" fill="#ffcc00"/>
<path d="M1009 1208l5-6-12-6-4 6zM993 1207l5-5-12-6-5 5zM519 1201l6-5-12 1-6 5z" fill="#ffd200"/>
<path d="M507 1202l6-5-13 1-5 5z" fill="#ffd900"/>
<path d="M1021 1214l5-6-12-6-5 6zM1004 1214l5-6-11-6-5 5z" fill="#ffdf00"/>
<path d="M489 1208l6-5-13 1-5 5zM501 1207l6-5-12 1-6 5z" fill="#ffe500"/>
<path d="M1050 1222l5-6-12-7-5 6zM1033 1221l5-6-12-7-5 6z" fill="#fff200"/>
<path d="M459 1215l5-5-12 2-6 5zM471 1214l6-5-13 1-5 5z" fill="#fff900"/>
<path d="M1062 1229l5-6-12-7-5 6zM1045 1228l5-6-12-7-5 6z" fill="#ffff00"/>
<path d="M1237 1332l4-7-11-9-5 7z" fill="#13ff00"/>
<path d="M1225 1323l5-7-12-9-5 7z" fill="#26ff00"/>
<path d="M1209 1320l4-6-11-9-5 6z" fill="#2dff00"/>
<path d="M1213 1314l5-7-12-9-4 7z" fill="#39ff00"/>
<path d="M1197 1311l5-6-12-9-5 6z" fill="#46ff00"/>
<path d="M1202 1305l4-7-12-9-4 7z" fill="#53ff00"/>
<path d="M1185 1302l5-6-12-9-5 7z" fill="#59ff00"/>
<path d="M1173 1294l5-7-12-8-5 6z" fill="#6cff00"/>
<path d="M1161 1285l5-6-12-9-4 7z" fill="#80ff00"/>
<path d="M1145 1283l5-6-12-9-5 7z" fill="#86ff00"/>
<path d="M332 1266l5-5-12 3-6 5z" fill="#8cff00"/>
<path d="M1150 1277l4-7-11-8-5 6zM1133 1275l5-7-12-8-5 7zM344 1263l6-5-13 3-5 5z" fill="#93ff00"/>
<path d="M350 1258l6-5-13 3-6 5z" fill="#9fff00"/>
<path d="M1121 1267l5-7-12-8-5 7zM362 1256l6-5-12 2-6 5z" fill="#a6ff00"/>
<path d="M1105 1265l4-6-11-8-5 6z" fill="#acff00"/>
<path d="M1109 1259l5-7-12-7-4 6zM380 1248l6-5-12 2-6 6z" fill="#b9ff00"/>
<path d="M1093 1257l5-6-12-8-5 6z" fill="#bfff00"/>
<path d="M399 1241l5-5-12 2-6 5z" fill="#c6ff00"/>
<path d="M1081 1249l5-6-12-7-5 6zM411 1239l6-5-13 2-5 5z" fill="#ccff00"/>
<path d="M417 1234l6-5-13 2-6 5z" fill="#d9ff00"/>
<path d="M1069 1242l5-6-12-7-5 6zM429 1233l6-6-12 2-6 5z" fill="#dfff00"/>
<path d="M1052 1241l5-6-12-7-5 6z" fill="#e5ff00"/>
<path d="M435 1227l6-5-13 2-5 5zM447 1226l6-5-12 1-6 5z" fill="#ecff00"/>
<path d="M1057 1235l5-6-12-7-5 6zM1040 1234l5-6-12-7-5 6z" fill="#f2ff00"/>
<path d="M776 1176l5-6-12-3-5 6zM747 1175l5-5-12-3-6 6z" fill="#ff8c00"/>
<path d="M835 1179l5-5-12-4-5 5zM687 1177l5-6-12-1-5 5zM806 1177l5-5-12-4-6 6zM717 1176l5-6-12-2-5 5zM788 1179l5-5-12-4-5 6zM729 1178l5-5-12-3-5 6zM759 1178l5-5-12-3-5 5z" fill="#ff9300"/>
<path d="M864 1182l5-5-12-5-5 6zM657 1179l6-5-12-2-6 6zM818 1181l5-6-12-3-5 5zM699 1179l6-6-13-2-5 6zM800 1183l6-6-13-3-5 5zM711 1181l6-5-12-3-6 6z" fill="#ff9900"/>
<path d="M847 1183l5-5-12-4-5 5zM669 1181l6-6-12-1-6 5zM830 1185l5-6-12-4-5 6zM682 1182l5-5-12-2-6 6z" fill="#ff9f00"/>
<path d="M627 1182l6-6-12 0-6 5zM876 1187l5-6-12-4-5 5zM640 1183l5-5-12-2-6 6zM859 1188l5-6-12-4-5 5zM652 1184l5-5-12-1-5 5z" fill="#ffa600"/>
<path d="M906 1191l5-6-12-5-5 6zM610 1186l5-5-12-1-6 5zM888 1192l6-6-13-5-5 6zM622 1187l5-5-12-1-5 5z" fill="#ffac00"/>
<path d="M935 1196l5-6-12-5-5 5zM580 1190l5-5-12 0-6 5zM918 1196l5-6-12-5-5 6zM592 1191l5-6-12 0-5 5zM900 1197l6-6-12-5-6 6zM604 1192l6-6-13-1-5 6z" fill="#ffb900"/>
<path d="M947 1201l5-6-12-5-5 6zM562 1195l5-5-12 0-6 5zM930 1201l5-5-12-6-5 6zM574 1196l6-6-13 0-5 5z" fill="#ffc600"/>
<path d="M976 1207l5-6-12-6-5 6zM532 1201l5-6-12 1-6 5zM959 1207l5-6-12-6-5 6zM544 1201l5-6-12 0-5 6z" fill="#ffd200"/>
<path d="M988 1213l5-6-12-6-5 6zM514 1206l5-5-12 1-6 5zM526 1206l6-5-13 0-5 5zM971 1213l5-6-12-6-5 6z" fill="#ffdf00"/>
<path d="M1016 1220l5-6-12-6-5 6zM496 1212l5-5-12 1-6 5zM1000 1220l4-6-11-7-5 6z" fill="#ffec00"/>
<path d="M483 1213l6-5-12 1-6 5z" fill="#fff200"/>
<path d="M1012 1226l4-6-12-6-4 6z" fill="#fff900"/>
<path d="M465 1219l6-5-12 1-6 6zM1028 1227l5-6-12-7-5 6zM478 1218l5-5-12 1-6 5z" fill="#ffff00"/>
<path d="M1232 1339l5-7-12-9-5 7z" fill="#06ff00"/>
<path d="M1216 1336l4-6-11-10-5 7z" fill="#0dff00"/>
<path d="M1220 1330l5-7-12-9-4 6z" fill="#1aff00"/>
<path d="M1204 1327l5-7-12-9-5 7z" fill="#20ff00"/>
<path d="M1192 1318l5-7-12-9-5 7z" fill="#33ff00"/>
<path d="M1180 1309l5-7-12-8-4 6zM1164 1307l5-7-12-9-5 7z" fill="#4cff00"/>
<path d="M1169 1300l4-6-12-9-4 6zM1152 1298l5-7-12-8-5 7z" fill="#60ff00"/>
<path d="M1157 1291l4-6-11-8-5 6zM1140 1290l5-7-12-8-5 6z" fill="#73ff00"/>
<path d="M1128 1281l5-6-12-8-4 6z" fill="#86ff00"/>
<path d="M1112 1280l5-7-12-8-5 7z" fill="#8cff00"/>
<path d="M1117 1273l4-6-12-8-4 6zM356 1261l6-5-12 2-6 5z" fill="#99ff00"/>
<path d="M1100 1272l5-7-12-8-5 7zM369 1259l6-5-13 2-6 5z" fill="#9fff00"/>
<path d="M375 1254l5-6-12 3-6 5z" fill="#acff00"/>
<path d="M1088 1264l5-7-12-8-5 7zM387 1252l6-6-13 2-5 6z" fill="#b3ff00"/>
<path d="M393 1246l6-5-13 2-6 5zM1076 1256l5-7-12-7-5 6zM405 1245l6-6-12 2-6 5z" fill="#bfff00"/>
<path d="M1059 1255l5-7-12-7-5 6z" fill="#c6ff00"/>
<path d="M1064 1248l5-6-12-7-5 6zM423 1238l6-5-12 1-6 5z" fill="#d2ff00"/>
<path d="M1047 1247l5-6-12-7-5 6zM436 1237l6-6-13 2-6 5z" fill="#d9ff00"/>
<path d="M442 1231l5-5-12 1-6 6zM1035 1240l5-6-12-7-5 6zM454 1230l6-5-13 1-5 5zM1019 1239l4-6-11-7-5 6z" fill="#e5ff00"/>
<path d="M460 1225l5-6-12 2-6 5zM1023 1233l5-6-12-7-4 6zM472 1224l6-6-13 1-5 6z" fill="#f2ff00"/>
<path d="M1007 1232l5-6-12-6-5 6zM484 1223l6-5-12 0-6 6z" fill="#f9ff00"/>
<path d="M771 1182l5-6-12-3-5 5zM741 1181l6-6-13-2-5 5z" fill="#ff9900"/>
<path d="M783 1185l5-6-12-3-5 6zM724 1184l5-6-12-2-6 5zM753 1184l6-6-12-3-6 6z" fill="#ff9f00"/>
<path d="M664 1186l5-5-12-2-5 5zM812 1187l6-6-12-4-6 6zM694 1185l5-6-12-2-5 5zM795 1189l5-6-12-4-5 6zM706 1187l5-6-12-2-5 6zM766 1187l5-5-12-4-6 6zM736 1187l5-6-12-3-5 6z" fill="#ffa600"/>
<path d="M842 1189l5-6-12-4-5 6zM825 1191l5-6-12-4-6 6zM676 1188l6-6-13-1-5 5z" fill="#ffac00"/>
<path d="M871 1193l5-6-12-5-5 6zM634 1189l6-6-13-1-5 5zM854 1194l5-6-12-5-5 6zM646 1190l6-6-12-1-6 6zM659 1192l5-6-12-2-6 6z" fill="#ffb300"/>
<path d="M883 1198l5-6-12-5-5 6zM616 1193l6-6-12-1-6 6zM837 1195l5-6-12-4-5 6z" fill="#ffb900"/>
<path d="M629 1194l5-5-12-2-6 6zM866 1199l5-6-12-5-5 6z" fill="#ffbf00"/>
<path d="M913 1202l5-6-12-5-6 6zM586 1196l6-5-12-1-6 6zM599 1197l5-5-12-1-6 5zM895 1203l5-6-12-5-5 6z" fill="#ffc600"/>
<path d="M556 1201l6-6-13 0-5 6zM942 1207l5-6-12-5-5 5zM569 1201l5-5-12-1-6 6zM925 1208l5-7-12-5-5 6zM581 1202l5-6-12 0-5 5zM907 1208l6-6-13-5-5 6z" fill="#ffd200"/>
<path d="M538 1206l6-5-12 0-6 5zM954 1213l5-6-12-6-5 6zM551 1207l5-6-12 0-6 5zM937 1213l5-6-12-6-5 7z" fill="#ffdf00"/>
<path d="M508 1212l6-6-13 1-5 5zM983 1219l5-6-12-6-5 6zM520 1212l6-6-12 0-6 6zM966 1219l5-6-12-6-5 6z" fill="#ffec00"/>
<path d="M490 1218l6-6-13 1-5 5zM995 1226l5-6-12-7-5 6zM502 1217l6-5-12 0-6 6zM978 1226l5-7-12-6-5 6z" fill="#fff900"/>
<path d="M1211 1344l5-8-12-9-4 7z" fill="#00ff00"/>
<path d="M1228 1346l4-7-12-9-4 6z" fill="#00ff06"/>
<path d="M1223 1353l5-7-12-10-5 8z" fill="#00ff1a"/>
<path d="M1200 1334l4-7-12-9-4 7z" fill="#13ff00"/>
<path d="M1188 1325l4-7-12-9-4 7z" fill="#26ff00"/>
<path d="M1171 1323l5-7-12-9-5 7z" fill="#2dff00"/>
<path d="M1176 1316l4-7-11-9-5 7z" fill="#39ff00"/>
<path d="M1159 1314l5-7-12-9-5 7z" fill="#40ff00"/>
<path d="M1147 1305l5-7-12-8-4 6z" fill="#53ff00"/>
<path d="M1136 1296l4-6-12-9-4 7z" fill="#66ff00"/>
<path d="M1119 1295l5-7-12-8-5 6z" fill="#6cff00"/>
<path d="M1124 1288l4-7-11-8-5 7z" fill="#79ff00"/>
<path d="M1107 1286l5-6-12-8-5 6z" fill="#80ff00"/>
<path d="M1095 1278l5-6-12-8-5 6z" fill="#93ff00"/>
<path d="M1083 1270l5-6-12-8-5 6zM381 1257l6-5-12 2-6 5zM1066 1269l5-7-12-7-5 6z" fill="#a6ff00"/>
<path d="M394 1256l6-6-13 2-6 5z" fill="#acff00"/>
<path d="M1071 1262l5-6-12-8-5 7z" fill="#b3ff00"/>
<path d="M400 1250l5-5-12 1-6 6zM1054 1261l5-6-12-8-4 7zM412 1249l6-6-13 2-5 5z" fill="#b9ff00"/>
<path d="M418 1243l5-5-12 1-6 6zM1043 1254l4-7-12-7-4 7z" fill="#c6ff00"/>
<path d="M430 1242l6-5-13 1-5 5zM1026 1253l5-6-12-8-5 7z" fill="#ccff00"/>
<path d="M1031 1247l4-7-12-7-4 6zM448 1236l6-6-12 1-6 6zM1014 1246l5-7-12-7-5 7z" fill="#d9ff00"/>
<path d="M461 1235l5-5-12 0-6 6z" fill="#dfff00"/>
<path d="M466 1230l6-6-12 1-6 5zM1002 1239l5-7-12-6-5 6zM479 1229l5-6-12 1-6 6zM985 1239l5-7-12-6-5 6z" fill="#ecff00"/>
<path d="M990 1232l5-6-12-7-5 7zM497 1223l5-6-12 1-6 5zM973 1232l5-6-12-7-5 7zM509 1223l6-6-13 0-5 6z" fill="#f9ff00"/>
<path d="M718 1190l6-6-13-3-5 6zM778 1191l5-6-12-3-5 5zM748 1190l5-6-12-3-5 6z" fill="#ffac00"/>
<path d="M689 1191l5-6-12-3-6 6zM807 1193l5-6-12-4-5 6zM701 1193l5-6-12-2-5 6zM790 1195l5-6-12-4-5 6zM731 1193l5-6-12-3-6 6zM760 1193l6-6-13-3-5 6z" fill="#ffb300"/>
<path d="M671 1194l5-6-12-2-5 6zM819 1197l6-6-13-4-5 6zM713 1196l5-6-12-3-5 6zM772 1197l6-6-12-4-6 6zM743 1196l5-6-12-3-5 6z" fill="#ffb900"/>
<path d="M641 1196l5-6-12-1-5 5zM849 1200l5-6-12-5-5 6zM653 1198l6-6-13-2-5 6zM683 1197l6-6-13-3-5 6zM802 1199l5-6-12-4-5 6z" fill="#ffbf00"/>
<path d="M611 1199l5-6-12-1-5 5zM878 1204l5-6-12-5-5 6zM623 1200l6-6-13-1-5 6zM832 1202l5-7-12-4-6 6z" fill="#ffc600"/>
<path d="M861 1205l5-6-12-5-5 6zM636 1202l5-6-12-2-6 6zM844 1206l5-6-12-5-5 7z" fill="#ffcc00"/>
<path d="M593 1203l6-6-13-1-5 6zM890 1209l5-6-12-5-5 6zM605 1205l6-6-12-2-6 6zM873 1210l5-6-12-5-5 6z" fill="#ffd200"/>
<path d="M563 1207l6-6-13 0-5 6zM920 1214l5-6-12-6-6 6zM575 1208l6-6-12-1-6 6zM902 1214l5-6-12-5-5 6z" fill="#ffdf00"/>
<path d="M545 1212l6-5-13-1-5 6zM557 1213l6-6-12 0-6 5z" fill="#ffe500"/>
<path d="M533 1212l5-6-12 0-6 6zM949 1219l5-6-12-6-5 6zM932 1220l5-7-12-5-5 6z" fill="#ffec00"/>
<path d="M527 1218l6-6-13 0-5 5z" fill="#fff200"/>
<path d="M515 1217l5-5-12 0-6 5zM961 1226l5-7-12-6-5 6zM944 1226l5-7-12-6-5 7z" fill="#fff900"/>
<path d="M1207 1351l4-7-11-10-5 7z" fill="#00ff13"/>
<path d="M1219 1361l4-8-12-9-4 7z" fill="#00ff26"/>
<path d="M1195 1341l5-7-12-9-5 7z" fill="#06ff00"/>
<path d="M1178 1339l5-7-12-9-4 7z" fill="#0dff00"/>
<path d="M1183 1332l5-7-12-9-5 7z" fill="#1aff00"/>
<path d="M1167 1330l4-7-12-9-4 7z" fill="#20ff00"/>
<path d="M1155 1321l4-7-12-9-4 7z" fill="#33ff00"/>
<path d="M1143 1312l4-7-11-9-5 7z" fill="#46ff00"/>
<path d="M1126 1311l5-8-12-8-5 7z" fill="#4cff00"/>
<path d="M1131 1303l5-7-12-8-5 7z" fill="#59ff00"/>
<path d="M1114 1302l5-7-12-9-5 7z" fill="#60ff00"/>
<path d="M1102 1293l5-7-12-8-5 7z" fill="#73ff00"/>
<path d="M1090 1285l5-7-12-8-5 7zM1074 1284l4-7-12-8-4 7z" fill="#86ff00"/>
<path d="M1078 1277l5-7-12-8-5 7z" fill="#93ff00"/>
<path d="M1062 1276l4-7-12-8-4 7z" fill="#99ff00"/>
<path d="M1050 1268l4-7-11-7-5 7zM1033 1268l5-7-12-8-5 7z" fill="#acff00"/>
<path d="M406 1255l6-6-12 1-6 6zM419 1254l6-6-13 1-6 6z" fill="#b3ff00"/>
<path d="M1038 1261l5-7-12-7-5 6z" fill="#b9ff00"/>
<path d="M425 1248l5-6-12 1-6 6zM1021 1260l5-7-12-7-5 7z" fill="#bfff00"/>
<path d="M437 1247l6-5-13 0-5 6z" fill="#c6ff00"/>
<path d="M443 1242l5-6-12 1-6 5zM1009 1253l5-7-12-7-5 7zM992 1252l5-6-12-7-5 6z" fill="#ccff00"/>
<path d="M455 1241l6-6-13 1-5 6z" fill="#d2ff00"/>
<path d="M997 1246l5-7-12-7-5 7z" fill="#d9ff00"/>
<path d="M473 1235l6-6-13 1-5 5zM980 1245l5-6-12-7-5 7zM486 1235l5-6-12 0-6 6z" fill="#dfff00"/>
<path d="M491 1229l6-6-13 0-5 6zM968 1239l5-7-12-6-5 6zM951 1239l5-7-12-6-5 6z" fill="#ecff00"/>
<path d="M504 1229l5-6-12 0-6 6z" fill="#f2ff00"/>
<path d="M956 1232l5-6-12-7-5 7zM939 1232l5-6-12-6-5 6z" fill="#f9ff00"/>
<path d="M695 1199l6-6-12-2-6 6zM725 1199l6-6-13-3-5 6zM755 1200l5-7-12-3-5 6z" fill="#ffbf00"/>
<path d="M666 1200l5-6-12-2-6 6zM814 1203l5-6-12-4-5 6zM785 1201l5-6-12-4-6 6zM708 1202l5-6-12-3-6 6zM767 1203l5-6-12-4-5 7zM738 1202l5-6-12-3-6 6z" fill="#ffc600"/>
<path d="M648 1204l5-6-12-2-5 6zM678 1203l5-6-12-3-5 6zM797 1205l5-6-12-4-5 6zM720 1205l5-6-12-3-5 6zM750 1206l5-6-12-4-5 6z" fill="#ffcc00"/>
<path d="M618 1206l5-6-12-1-6 6zM826 1208l6-6-13-5-5 6zM660 1206l6-6-13-2-5 6zM809 1210l5-7-12-4-5 6zM690 1205l5-6-12-2-5 6zM779 1207l6-6-13-4-5 6z" fill="#ffd200"/>
<path d="M856 1211l5-6-12-5-5 6zM630 1208l6-6-13-2-5 6zM839 1213l5-7-12-4-6 6z" fill="#ffd900"/>
<path d="M588 1209l5-6-12-1-6 6zM885 1215l5-6-12-5-5 6zM600 1211l5-6-12-2-5 6zM868 1217l5-7-12-5-5 6z" fill="#ffdf00"/>
<path d="M612 1212l6-6-13-1-5 6z" fill="#ffe500"/>
<path d="M914 1220l6-6-13-6-5 6zM570 1214l5-6-12-1-6 6zM897 1221l5-7-12-5-5 6zM582 1215l6-6-13-1-5 6zM880 1222l5-7-12-5-5 7z" fill="#ffec00"/>
<path d="M540 1218l5-6-12 0-6 6zM552 1219l5-6-12-1-5 6z" fill="#fff200"/>
<path d="M927 1226l5-6-12-6-6 6zM909 1227l5-7-12-6-5 7z" fill="#fff900"/>
<path d="M522 1224l5-6-12-1-6 6zM534 1224l6-6-13 0-5 6z" fill="#ffff00"/>
<path d="M1174 1347l4-8-11-9-5 8z" fill="#00ff06"/>
<path d="M1190 1349l5-8-12-9-5 7z" fill="#00ff0d"/>
<path d="M1186 1356l4-7-12-10-4 8z" fill="#00ff1a"/>
<path d="M1202 1358l5-7-12-10-5 8z" fill="#00ff20"/>
<path d="M1214 1368l5-7-12-10-5 7z" fill="#00ff33"/>
<path d="M1162 1338l5-8-12-9-5 7z" fill="#0dff00"/>
<path d="M1150 1328l5-7-12-9-5 7zM1133 1327l5-8-12-8-5 7z" fill="#26ff00"/>
<path d="M1138 1319l5-7-12-9-5 8zM1121 1318l5-7-12-9-5 7z" fill="#39ff00"/>
<path d="M1109 1309l5-7-12-9-4 8z" fill="#4cff00"/>
<path d="M1093 1308l5-7-12-9-5 8z" fill="#53ff00"/>
<path d="M1098 1301l4-8-12-8-4 7z" fill="#60ff00"/>
<path d="M1081 1300l5-8-12-8-5 7z" fill="#66ff00"/>
<path d="M1086 1292l4-7-12-8-4 7z" fill="#73ff00"/>
<path d="M1069 1291l5-7-12-8-5 7z" fill="#79ff00"/>
<path d="M1057 1283l5-7-12-8-5 7zM1040 1282l5-7-12-7-5 7z" fill="#8cff00"/>
<path d="M1045 1275l5-7-12-7-5 7z" fill="#99ff00"/>
<path d="M1028 1275l5-7-12-8-5 7z" fill="#9fff00"/>
<path d="M1016 1267l5-7-12-7-5 7zM999 1267l5-7-12-8-5 7z" fill="#acff00"/>
<path d="M431 1253l6-6-12 1-6 6zM444 1253l5-6-12 0-6 6z" fill="#b9ff00"/>
<path d="M1004 1260l5-7-12-7-5 6zM987 1259l5-7-12-7-5 7z" fill="#bfff00"/>
<path d="M449 1247l6-6-12 1-6 5zM462 1247l6-6-13 0-6 6z" fill="#c6ff00"/>
<path d="M975 1252l5-7-12-6-5 6zM958 1252l5-7-12-6-5 7z" fill="#ccff00"/>
<path d="M468 1241l5-6-12 0-6 6zM480 1241l6-6-13 0-5 6z" fill="#d2ff00"/>
<path d="M492 1241l6-6-12 0-6 6z" fill="#d9ff00"/>
<path d="M963 1245l5-6-12-7-5 7zM946 1246l5-7-12-7-5 7z" fill="#dfff00"/>
<path d="M498 1235l6-6-13 0-5 6zM510 1236l6-6-12-1-6 6z" fill="#e5ff00"/>
<path d="M934 1239l5-7-12-6-5 7zM917 1240l5-7-13-6-5 7zM541 1231l5-6-12-1-6 6z" fill="#ecff00"/>
<path d="M516 1230l6-6-13-1-5 6zM528 1230l6-6-12 0-6 6z" fill="#f2ff00"/>
<path d="M922 1233l5-7-13-6-5 7zM904 1234l5-7-12-6-5 7zM559 1226l5-6-12-1-6 6zM887 1235l5-7-12-6-5 7z" fill="#f9ff00"/>
<path d="M702 1208l6-6-13-3-5 6zM732 1209l6-7-13-3-5 6z" fill="#ffd200"/>
<path d="M642 1210l6-6-12-2-6 6zM672 1209l6-6-12-3-6 6zM792 1212l5-7-12-4-6 6zM762 1210l5-7-12-3-5 6zM715 1212l5-7-12-3-6 6zM744 1212l6-6-12-4-6 7z" fill="#ffd900"/>
<path d="M821 1214l5-6-12-5-5 7zM655 1213l5-7-12-2-6 6zM685 1212l5-7-12-2-6 6zM774 1214l5-7-12-4-5 7zM727 1215l5-6-12-4-5 7z" fill="#ffdf00"/>
<path d="M851 1218l5-7-12-5-5 7zM625 1214l5-6-12-2-6 6zM833 1219l6-6-13-5-5 6zM804 1216l5-6-12-5-5 7zM667 1215l5-6-12-3-5 7zM697 1215l5-7-12-3-5 7zM786 1218l6-6-13-5-5 7zM757 1216l5-6-12-4-6 6z" fill="#ffe500"/>
<path d="M595 1217l5-6-12-2-6 6zM637 1217l5-7-12-2-5 6zM816 1221l5-7-12-4-5 6z" fill="#ffec00"/>
<path d="M863 1223l5-6-12-6-5 7zM607 1219l5-7-12-1-5 6zM846 1225l5-7-12-5-6 6z" fill="#fff200"/>
<path d="M564 1220l6-6-13-1-5 6zM892 1228l5-7-12-6-5 7zM577 1221l5-6-12-1-6 6zM589 1223l6-6-13-2-5 6z" fill="#fff900"/>
<path d="M546 1225l6-6-12-1-6 6zM875 1229l5-7-12-5-5 6z" fill="#ffff00"/>
<path d="M1157 1345l5-7-12-10-5 8z" fill="#00ff00"/>
<path d="M1153 1353l4-8-12-9-4 8z" fill="#00ff0d"/>
<path d="M1169 1355l5-8-12-9-5 7z" fill="#00ff13"/>
<path d="M1181 1364l5-8-12-9-5 8z" fill="#00ff26"/>
<path d="M1198 1366l4-8-12-9-4 7z" fill="#00ff2d"/>
<path d="M1193 1374l5-8-12-10-5 8z" fill="#00ff40"/>
<path d="M1210 1376l4-8-12-10-4 8z" fill="#00ff46"/>
<path d="M1205 1384l5-8-12-10-5 8z" fill="#00ff53"/>
<path d="M1141 1344l4-8-12-9-4 7z" fill="#06ff00"/>
<path d="M1145 1336l5-8-12-9-5 8z" fill="#13ff00"/>
<path d="M1129 1334l4-7-12-9-4 7z" fill="#1aff00"/>
<path d="M1117 1325l4-7-12-9-4 8z" fill="#2dff00"/>
<path d="M1100 1324l5-7-12-9-5 7z" fill="#33ff00"/>
<path d="M1105 1317l4-8-11-8-5 7z" fill="#40ff00"/>
<path d="M1088 1315l5-7-12-8-5 7z" fill="#46ff00"/>
<path d="M1076 1307l5-7-12-9-5 8z" fill="#59ff00"/>
<path d="M1064 1299l5-8-12-8-5 7z" fill="#66ff00"/>
<path d="M1047 1298l5-8-12-8-5 8z" fill="#6cff00"/>
<path d="M1052 1290l5-7-12-8-5 7z" fill="#79ff00"/>
<path d="M1035 1290l5-8-12-7-5 7z" fill="#80ff00"/>
<path d="M1023 1282l5-7-12-8-5 7z" fill="#8cff00"/>
<path d="M1006 1281l5-7-12-7-5 7z" fill="#93ff00"/>
<path d="M1011 1274l5-7-12-7-5 7zM994 1274l5-7-12-8-5 8z" fill="#9fff00"/>
<path d="M982 1267l5-8-12-7-5 7zM965 1267l5-8-12-7-5 8z" fill="#b3ff00"/>
<path d="M456 1253l6-6-13 0-5 6zM469 1253l5-6-12 0-6 6z" fill="#b9ff00"/>
<path d="M970 1259l5-7-12-7-5 7zM953 1260l5-8-12-6-5 7z" fill="#bfff00"/>
<path d="M474 1247l6-6-12 0-6 6z" fill="#c6ff00"/>
<path d="M941 1253l5-7-12-7-5 7zM487 1247l5-6-12 0-6 6zM924 1253l5-7-12-6-5 7z" fill="#ccff00"/>
<path d="M517 1243l6-7-13 0-5 6z" fill="#d2ff00"/>
<path d="M505 1242l5-6-12-1-6 6zM912 1247l5-7-13-6-5 7zM894 1248l5-7-12-6-5 7z" fill="#d9ff00"/>
<path d="M929 1246l5-7-12-6-5 7zM535 1237l6-6-13-1-5 6z" fill="#dfff00"/>
<path d="M523 1236l5-6-12 0-6 6zM882 1242l5-7-12-6-5 7z" fill="#e5ff00"/>
<path d="M899 1241l5-7-12-6-5 7zM553 1232l6-6-13-1-5 6zM566 1234l5-6-12-2-6 6z" fill="#ecff00"/>
<path d="M870 1236l5-7-12-6-5 7zM853 1237l5-7-12-5-5 6zM596 1231l5-6-12-2-5 6z" fill="#f2ff00"/>
<path d="M571 1228l6-7-13-1-5 6zM584 1229l5-6-12-2-6 7zM823 1233l5-7-12-5-5 7z" fill="#f9ff00"/>
<path d="M649 1219l6-6-13-3-5 7zM679 1218l6-6-13-3-5 6zM709 1218l6-6-13-4-5 7zM769 1221l5-7-12-4-5 6zM739 1219l5-7-12-3-5 6z" fill="#ffec00"/>
<path d="M619 1221l6-7-13-2-5 7zM799 1223l5-7-12-4-6 6zM662 1222l5-7-12-2-6 6zM692 1221l5-6-12-3-6 6zM781 1225l5-7-12-4-5 7zM722 1222l5-7-12-3-6 6zM752 1223l5-7-13-4-5 7z" fill="#fff200"/>
<path d="M828 1226l5-7-12-5-5 7zM632 1223l5-6-12-3-6 7zM811 1228l5-7-12-5-5 7zM644 1226l5-7-12-2-5 6zM674 1225l5-7-12-3-5 7zM704 1225l5-7-12-3-5 6zM764 1227l5-6-12-5-5 7zM734 1226l5-7-12-4-5 7z" fill="#fff900"/>
<path d="M858 1230l5-7-12-5-5 7zM601 1225l6-6-12-2-6 6zM841 1231l5-6-13-6-5 7zM614 1227l5-6-12-2-6 6zM794 1230l5-7-13-5-5 7z" fill="#ffff00"/>
<path d="M1136 1351l5-7-12-10-5 8z" fill="#00ff0d"/>
<path d="M1148 1361l5-8-12-9-5 7z" fill="#00ff20"/>
<path d="M1165 1362l4-7-12-10-4 8z" fill="#00ff26"/>
<path d="M1160 1370l5-8-12-9-5 8z" fill="#00ff33"/>
<path d="M1177 1372l4-8-12-9-4 7z" fill="#00ff39"/>
<path d="M1188 1382l5-8-12-10-4 8z" fill="#00ff4c"/>
<path d="M1200 1392l5-8-12-10-5 8z" fill="#00ff66"/>
<path d="M1124 1342l5-8-12-9-5 8z" fill="#06ff00"/>
<path d="M1107 1341l5-8-12-9-5 8z" fill="#0dff00"/>
<path d="M1112 1333l5-8-12-8-5 7zM1095 1332l5-8-12-9-5 8z" fill="#20ff00"/>
<path d="M1083 1323l5-8-12-8-5 7z" fill="#33ff00"/>
<path d="M1067 1322l4-8-12-8-5 8z" fill="#39ff00"/>
<path d="M1071 1314l5-7-12-8-5 7z" fill="#46ff00"/>
<path d="M1054 1314l5-8-12-8-5 7z" fill="#4cff00"/>
<path d="M1059 1306l5-7-12-9-5 8zM1042 1305l5-7-12-8-5 7z" fill="#59ff00"/>
<path d="M1030 1297l5-7-12-8-5 7zM1013 1297l5-8-12-8-5 8z" fill="#6cff00"/>
<path d="M1018 1289l5-7-12-8-5 7zM1001 1289l5-8-12-7-5 7z" fill="#80ff00"/>
<path d="M989 1281l5-7-12-7-5 7zM972 1281l5-7-12-7-5 7z" fill="#93ff00"/>
<path d="M977 1274l5-7-12-8-5 8zM960 1274l5-7-12-7-5 7z" fill="#9fff00"/>
<path d="M948 1267l5-7-12-7-5 7zM931 1267l5-7-12-7-5 8z" fill="#b3ff00"/>
<path d="M481 1254l6-7-13 0-5 6zM494 1254l5-6-12-1-6 7z" fill="#b9ff00"/>
<path d="M936 1260l5-7-12-7-5 7zM919 1261l5-8-12-6-5 7zM902 1261l5-7-13-6-5 7z" fill="#bfff00"/>
<path d="M512 1249l5-6-12-1-6 6z" fill="#c6ff00"/>
<path d="M499 1248l6-6-13-1-5 6zM907 1254l5-7-13-6-5 7zM889 1255l5-7-12-6-5 7z" fill="#ccff00"/>
<path d="M530 1244l5-7-12-1-6 7zM542 1245l6-6-13-2-5 7z" fill="#d2ff00"/>
<path d="M877 1249l5-7-12-6-5 7zM860 1250l5-7-12-6-5 7zM573 1242l5-6-12-2-6 6z" fill="#d9ff00"/>
<path d="M548 1239l5-7-12-1-6 6zM848 1244l5-7-12-6-6 7zM560 1240l6-6-13-2-5 7zM830 1246l5-8-12-5-5 7z" fill="#dfff00"/>
<path d="M865 1243l5-7-12-6-5 7zM591 1238l5-7-12-2-6 7zM801 1242l5-7-12-5-6 7z" fill="#e5ff00"/>
<path d="M835 1238l6-7-13-5-5 7zM578 1236l6-7-13-1-5 6zM818 1240l5-7-12-5-5 7zM621 1236l5-7-12-2-6 7zM651 1235l5-7-12-2-5 6zM771 1239l5-7-12-5-5 7z" fill="#ecff00"/>
<path d="M806 1235l5-7-12-5-5 7zM608 1234l6-7-13-2-5 6zM639 1232l5-6-12-3-6 6zM788 1237l6-7-13-5-5 7zM759 1234l5-7-12-4-6 7zM681 1235l5-7-12-3-5 7z" fill="#f2ff00"/>
<path d="M626 1229l6-6-13-2-5 6zM776 1232l5-7-12-4-5 6zM669 1232l5-7-12-3-6 6zM699 1232l5-7-12-4-6 7zM729 1233l5-7-12-4-6 7z" fill="#f9ff00"/>
<path d="M656 1228l6-6-13-3-5 7zM686 1228l6-7-13-3-5 7zM716 1229l6-7-13-4-5 7zM746 1230l6-7-13-4-5 7z" fill="#ffff00"/>
<path d="M1103 1349l4-8-12-9-4 8z" fill="#00ff00"/>
<path d="M1119 1350l5-8-12-9-5 8z" fill="#00ff06"/>
<path d="M1131 1359l5-8-12-9-5 8zM1115 1358l4-8-12-9-4 8z" fill="#00ff1a"/>
<path d="M1143 1369l5-8-12-10-5 8z" fill="#00ff2d"/>
<path d="M1155 1378l5-8-12-9-5 8z" fill="#00ff46"/>
<path d="M1172 1380l5-8-12-10-5 8z" fill="#00ff4c"/>
<path d="M1167 1388l5-8-12-10-5 8z" fill="#00ff59"/>
<path d="M1184 1390l4-8-11-10-5 8z" fill="#00ff60"/>
<path d="M1196 1400l4-8-12-10-4 8z" fill="#00ff73"/>
<path d="M1091 1340l4-8-12-9-4 8zM1074 1339l5-8-12-9-5 8z" fill="#13ff00"/>
<path d="M1079 1331l4-8-12-9-4 8zM1062 1330l5-8-13-8-4 7z" fill="#26ff00"/>
<path d="M1050 1321l4-7-12-9-4 8z" fill="#39ff00"/>
<path d="M1038 1313l4-8-12-8-4 8zM1021 1313l5-8-13-8-4 7z" fill="#4cff00"/>
<path d="M1026 1305l4-8-12-8-5 8zM1009 1304l4-7-12-8-5 8z" fill="#60ff00"/>
<path d="M996 1297l5-8-12-8-5 8zM979 1296l5-7-12-8-5 8z" fill="#73ff00"/>
<path d="M984 1289l5-8-12-7-5 7zM967 1289l5-8-12-7-5 7zM950 1289l5-8-12-7-5 8z" fill="#80ff00"/>
<path d="M955 1281l5-7-12-7-5 7zM938 1282l5-8-12-7-5 8z" fill="#93ff00"/>
<path d="M943 1274l5-7-12-7-5 7zM926 1275l5-8-12-6-5 7zM909 1275l5-7-12-7-5 8z" fill="#9fff00"/>
<path d="M914 1268l5-7-12-7-5 7zM897 1269l5-8-13-6-5 7z" fill="#acff00"/>
<path d="M506 1255l6-6-13-1-5 6zM884 1262l5-7-12-6-5 7zM519 1257l5-7-12-1-6 6zM867 1263l5-7-12-6-5 7z" fill="#b9ff00"/>
<path d="M549 1254l6-7-13-2-5 7z" fill="#bfff00"/>
<path d="M524 1250l6-6-13-1-5 6zM537 1252l5-7-12-1-6 6zM855 1257l5-7-12-6-5 7zM837 1259l6-8-13-5-5 7z" fill="#c6ff00"/>
<path d="M872 1256l5-7-12-6-5 7zM567 1249l6-7-13-2-5 7zM808 1254l5-7-12-5-6 7z" fill="#ccff00"/>
<path d="M843 1251l5-7-13-6-5 8zM555 1247l5-7-12-1-6 6zM825 1253l5-7-12-6-5 7zM598 1247l5-7-12-2-6 7z" fill="#d2ff00"/>
<path d="M813 1247l5-7-12-5-5 7zM585 1245l6-7-13-2-5 6zM795 1249l6-7-13-5-5 7zM628 1246l5-7-12-3-6 7zM658 1245l5-7-12-3-5 7z" fill="#d9ff00"/>
<path d="M603 1240l5-6-12-3-5 7zM783 1244l5-7-12-5-5 7zM615 1243l6-7-13-2-5 6zM646 1242l5-7-12-3-6 7zM766 1246l5-7-12-5-6 7zM706 1243l5-7-12-4-6 7zM736 1244l5-7-12-4-6 7z" fill="#dfff00"/>
<path d="M633 1239l6-7-13-3-5 7zM753 1241l6-7-13-4-5 7zM676 1242l5-7-12-3-6 6z" fill="#e5ff00"/>
<path d="M663 1238l6-6-13-4-5 7zM693 1239l6-7-13-4-5 7zM723 1240l6-7-13-4-5 7z" fill="#ecff00"/>
<path d="M711 1236l5-7-12-4-5 7zM741 1237l5-7-12-4-5 7z" fill="#f2ff00"/>
<path d="M1086 1348l5-8-12-9-5 8z" fill="#00ff00"/>
<path d="M1098 1357l5-8-12-9-5 8zM1081 1356l5-8-12-9-5 8z" fill="#00ff13"/>
<path d="M1110 1366l5-8-12-9-5 8z" fill="#00ff26"/>
<path d="M1127 1367l4-8-12-9-4 8z" fill="#00ff2d"/>
<path d="M1122 1376l5-9-12-9-5 8z" fill="#00ff39"/>
<path d="M1139 1377l4-8-12-10-4 8z" fill="#00ff40"/>
<path d="M1151 1387l4-9-12-9-4 8zM1134 1385l5-8-12-10-5 9z" fill="#00ff53"/>
<path d="M1179 1398l5-8-12-10-5 8zM1163 1396l4-8-12-10-4 9z" fill="#00ff6c"/>
<path d="M1175 1406l4-8-12-10-4 8z" fill="#00ff80"/>
<path d="M1191 1408l5-8-12-10-5 8z" fill="#00ff86"/>
<path d="M1187 1416l4-8-12-10-4 8z" fill="#00ff99"/>
<path d="M1069 1347l5-8-12-9-5 8z" fill="#06ff00"/>
<path d="M1057 1338l5-8-12-9-5 8zM1040 1337l5-8-12-8-5 8z" fill="#1aff00"/>
<path d="M1045 1329l5-8-12-8-5 8zM1028 1329l5-8-12-8-5 7z" fill="#2dff00"/>
<path d="M1033 1321l5-8-12-8-5 8z" fill="#39ff00"/>
<path d="M1016 1320l5-7-12-9-5 8zM999 1320l5-8-12-8-5 8z" fill="#40ff00"/>
<path d="M1004 1312l5-8-13-7-4 7z" fill="#4cff00"/>
<path d="M987 1312l5-8-13-8-4 8z" fill="#53ff00"/>
<path d="M992 1304l4-7-12-8-5 7zM975 1304l4-8-12-7-5 8zM958 1304l4-7-12-8-5 8z" fill="#60ff00"/>
<path d="M962 1297l5-8-12-8-5 8zM945 1297l5-8-12-7-5 7z" fill="#73ff00"/>
<path d="M933 1289l5-7-12-7-5 7zM916 1290l5-8-12-7-5 8z" fill="#80ff00"/>
<path d="M921 1282l5-7-12-7-5 7zM904 1283l5-8-12-6-5 7z" fill="#93ff00"/>
<path d="M874 1277l5-7-12-7-5 8z" fill="#99ff00"/>
<path d="M892 1276l5-7-13-7-5 8z" fill="#9fff00"/>
<path d="M845 1272l5-7-13-6-5 7z" fill="#a6ff00"/>
<path d="M879 1270l5-8-12-6-5 7zM862 1271l5-8-12-6-5 8z" fill="#acff00"/>
<path d="M544 1260l5-6-12-2-6 6zM832 1266l5-7-12-6-5 7zM556 1263l6-7-13-2-5 6zM815 1268l5-8-12-6-5 8z" fill="#b3ff00"/>
<path d="M531 1258l6-6-13-2-5 7zM850 1265l5-8-12-6-6 8zM574 1258l6-7-13-2-5 7z" fill="#b9ff00"/>
<path d="M820 1260l5-7-12-6-5 7zM562 1256l5-7-12-2-6 7zM803 1262l5-8-13-5-5 7zM605 1257l5-7-12-3-6 7z" fill="#bfff00"/>
<path d="M790 1256l5-7-12-5-5 7zM592 1254l6-7-13-2-5 6zM773 1258l5-7-12-5-5 7zM743 1256l5-7-12-5-5 7zM635 1256l5-7-12-3-5 7z" fill="#c6ff00"/>
<path d="M580 1251l5-6-12-3-6 7zM610 1250l5-7-12-3-5 7zM761 1253l5-7-13-5-5 8zM623 1253l5-7-13-3-5 7zM653 1252l5-7-12-3-6 7zM683 1253l5-7-12-4-5 7zM713 1254l5-7-12-4-5 7z" fill="#ccff00"/>
<path d="M778 1251l5-7-12-5-5 7zM640 1249l6-7-13-3-5 7zM671 1249l5-7-13-4-5 7zM701 1250l5-7-13-4-5 7zM731 1251l5-7-13-4-5 7z" fill="#d2ff00"/>
<path d="M688 1246l5-7-12-4-5 7zM718 1247l5-7-12-4-5 7zM748 1249l5-8-12-4-5 7z" fill="#d9ff00"/>
<path d="M1064 1355l5-8-12-9-5 8zM1048 1354l4-8-12-9-5 9z" fill="#00ff0d"/>
<path d="M1077 1364l4-8-12-9-5 8z" fill="#00ff20"/>
<path d="M1093 1365l5-8-12-9-5 8z" fill="#00ff26"/>
<path d="M1089 1373l4-8-12-9-4 8z" fill="#00ff33"/>
<path d="M1105 1374l5-8-12-9-5 8z" fill="#00ff39"/>
<path d="M1117 1384l5-8-12-10-5 8z" fill="#00ff4c"/>
<path d="M1130 1394l4-9-12-9-5 8z" fill="#00ff60"/>
<path d="M1146 1395l5-8-12-10-5 8z" fill="#00ff66"/>
<path d="M1158 1405l5-9-12-9-5 8zM1142 1403l4-8-12-10-4 9z" fill="#00ff79"/>
<path d="M1170 1415l5-9-12-10-5 9z" fill="#00ff93"/>
<path d="M1182 1425l5-9-12-10-5 9z" fill="#00ffa6"/>
<path d="M1052 1346l5-8-12-9-5 8zM1035 1346l5-9-12-8-5 8z" fill="#06ff00"/>
<path d="M1023 1337l5-8-12-9-5 8zM1006 1337l5-9-12-8-5 8z" fill="#1aff00"/>
<path d="M1011 1328l5-8-12-8-5 8zM994 1328l5-8-12-8-5 8z" fill="#2dff00"/>
<path d="M982 1320l5-8-12-8-5 8zM965 1320l5-8-12-8-5 8z" fill="#40ff00"/>
<path d="M970 1312l5-8-13-7-4 7zM953 1312l5-8-13-7-5 8z" fill="#53ff00"/>
<path d="M940 1305l5-8-12-8-5 8zM923 1305l5-8-12-7-5 8z" fill="#60ff00"/>
<path d="M928 1297l5-8-12-7-5 8zM911 1298l5-8-12-7-5 8z" fill="#73ff00"/>
<path d="M899 1291l5-8-12-7-5 8zM882 1292l5-8-13-7-5 8z" fill="#80ff00"/>
<path d="M887 1284l5-8-13-6-5 7zM869 1285l5-8-12-6-5 7zM852 1286l5-8-12-6-5 8z" fill="#8cff00"/>
<path d="M822 1281l5-7-12-6-5 7z" fill="#93ff00"/>
<path d="M857 1278l5-7-12-6-5 7zM840 1280l5-8-13-6-5 8z" fill="#99ff00"/>
<path d="M810 1275l5-7-12-6-5 7z" fill="#9fff00"/>
<path d="M827 1274l5-8-12-6-5 8zM780 1271l5-7-12-6-5 8zM581 1268l6-7-13-3-5 7z" fill="#a6ff00"/>
<path d="M798 1269l5-7-13-6-5 8zM569 1265l5-7-12-2-6 7zM750 1268l5-7-12-5-5 7zM612 1267l5-7-12-3-6 7z" fill="#acff00"/>
<path d="M768 1266l5-8-12-5-6 8zM599 1264l6-7-13-3-5 7zM630 1263l5-7-12-3-6 7zM690 1264l5-7-12-4-5 7zM720 1266l5-8-12-4-5 7z" fill="#b3ff00"/>
<path d="M785 1264l5-8-12-5-5 7zM587 1261l5-7-12-3-6 7zM617 1260l6-7-13-3-5 7zM708 1261l5-7-12-4-6 7zM738 1263l5-7-12-5-6 7zM660 1263l5-7-12-4-6 7z" fill="#b9ff00"/>
<path d="M755 1261l6-8-13-4-5 7zM725 1258l6-7-13-4-5 7zM647 1259l6-7-13-3-5 7zM678 1260l5-7-12-4-6 7z" fill="#bfff00"/>
<path d="M665 1256l6-7-13-4-5 7zM695 1257l6-7-13-4-5 7z" fill="#c6ff00"/>
<path d="M1031 1354l4-8-12-9-5 8zM1014 1353l4-8-12-8-5 8z" fill="#00ff06"/>
<path d="M1043 1363l5-9-13-8-4 8z" fill="#00ff1a"/>
<path d="M1060 1363l4-8-12-9-4 8z" fill="#00ff20"/>
<path d="M1055 1372l5-9-12-9-5 9z" fill="#00ff2d"/>
<path d="M1072 1372l5-8-13-9-4 8z" fill="#00ff33"/>
<path d="M1101 1383l4-9-12-9-4 8zM1084 1382l5-9-12-9-5 8z" fill="#00ff46"/>
<path d="M1096 1391l5-8-12-10-5 9z" fill="#00ff59"/>
<path d="M1113 1392l4-8-12-10-4 9z" fill="#00ff60"/>
<path d="M1108 1401l5-9-12-9-5 8z" fill="#00ff6c"/>
<path d="M1125 1402l5-8-13-10-4 8z" fill="#00ff73"/>
<path d="M1137 1412l5-9-12-9-5 8z" fill="#00ff86"/>
<path d="M1154 1413l4-8-12-10-4 8z" fill="#00ff8c"/>
<path d="M1166 1423l4-8-12-10-4 8zM1149 1422l5-9-12-10-5 9z" fill="#00ff9f"/>
<path d="M1178 1434l4-9-12-10-4 8z" fill="#00ffb9"/>
<path d="M1018 1345l5-8-12-9-5 9zM1001 1345l5-8-12-9-5 8z" fill="#0dff00"/>
<path d="M989 1336l5-8-12-8-5 8zM972 1336l5-8-12-8-5 8z" fill="#20ff00"/>
<path d="M977 1328l5-8-12-8-5 8zM960 1328l5-8-12-8-5 8z" fill="#2dff00"/>
<path d="M948 1320l5-8-13-7-4 8zM931 1321l5-8-13-8-5 8z" fill="#40ff00"/>
<path d="M936 1313l4-8-12-8-5 8zM918 1313l5-8-12-7-5 8z" fill="#53ff00"/>
<path d="M906 1306l5-8-12-7-5 8zM889 1307l5-8-12-7-5 8z" fill="#60ff00"/>
<path d="M894 1299l5-8-12-7-5 8zM877 1300l5-8-13-7-5 8zM859 1301l5-8-12-7-5 8z" fill="#6cff00"/>
<path d="M864 1293l5-8-12-7-5 8zM847 1294l5-8-12-6-5 7zM830 1295l5-8-13-6-5 8z" fill="#79ff00"/>
<path d="M835 1287l5-7-13-6-5 7zM817 1289l5-8-12-6-5 8z" fill="#86ff00"/>
<path d="M787 1285l5-8-12-6-5 8z" fill="#8cff00"/>
<path d="M805 1283l5-8-12-6-6 8zM757 1281l6-8-13-5-5 8z" fill="#93ff00"/>
<path d="M775 1279l5-8-12-5-5 7zM727 1278l6-7-13-5-5 7zM619 1277l5-7-12-3-6 7z" fill="#99ff00"/>
<path d="M792 1277l6-8-13-5-5 7zM745 1276l5-8-12-5-5 8zM606 1274l6-7-13-3-5 7zM637 1274l5-7-12-4-6 7zM667 1275l5-8-12-4-5 7zM697 1276l6-7-13-5-5 7z" fill="#9fff00"/>
<path d="M763 1273l5-7-13-5-5 7zM733 1271l5-8-13-5-5 8zM594 1271l5-7-12-3-6 7zM624 1270l6-7-13-3-5 7zM655 1270l5-7-13-4-5 8zM685 1271l5-7-12-4-6 7zM715 1273l5-7-12-5-5 8z" fill="#a6ff00"/>
<path d="M642 1267l5-8-12-3-5 7zM672 1267l6-7-13-4-5 7zM703 1269l5-8-13-4-5 7z" fill="#acff00"/>
<path d="M997 1353l4-8-12-9-5 9zM980 1353l4-8-12-9-5 9z" fill="#00ff06"/>
<path d="M1026 1362l5-8-13-9-4 8zM1009 1362l5-9-13-8-4 8z" fill="#00ff1a"/>
<path d="M1038 1371l5-8-12-9-5 8zM1021 1371l5-9-12-9-5 9z" fill="#00ff2d"/>
<path d="M1067 1381l5-9-12-9-5 9zM1050 1380l5-8-12-9-5 8z" fill="#00ff40"/>
<path d="M1062 1390l5-9-12-9-5 8z" fill="#00ff53"/>
<path d="M1079 1390l5-8-12-10-5 9z" fill="#00ff59"/>
<path d="M1091 1400l5-9-12-9-5 8z" fill="#00ff6c"/>
<path d="M1104 1410l4-9-12-10-5 9z" fill="#00ff80"/>
<path d="M1120 1411l5-9-12-10-5 9z" fill="#00ff86"/>
<path d="M1116 1419l4-8-12-10-4 9z" fill="#00ff93"/>
<path d="M1132 1421l5-9-12-10-5 9z" fill="#00ff99"/>
<path d="M1145 1431l4-9-12-10-5 9z" fill="#00ffac"/>
<path d="M1161 1432l5-9-12-10-5 9z" fill="#00ffb2"/>
<path d="M1157 1441l4-9-12-10-4 9z" fill="#00ffc6"/>
<path d="M1173 1442l5-8-12-11-5 9z" fill="#00ffcc"/>
<path d="M1169 1451l4-9-12-10-4 9z" fill="#00ffd9"/>
<path d="M984 1345l5-9-12-8-5 8zM967 1345l5-9-12-8-5 9z" fill="#0dff00"/>
<path d="M955 1337l5-9-12-8-5 9zM938 1337l5-8-12-8-5 8z" fill="#20ff00"/>
<path d="M943 1329l5-9-12-7-5 8zM926 1329l5-8-13-8-5 8z" fill="#2dff00"/>
<path d="M913 1321l5-8-12-7-5 8zM896 1322l5-8-12-7-5 8z" fill="#40ff00"/>
<path d="M901 1314l5-8-12-7-5 8zM884 1315l5-8-12-7-5 7zM867 1316l5-9-13-6-5 8z" fill="#4cff00"/>
<path d="M854 1309l5-8-12-7-5 8zM837 1310l5-8-12-7-6 8z" fill="#59ff00"/>
<path d="M872 1307l5-7-13-7-5 8z" fill="#60ff00"/>
<path d="M842 1302l5-8-12-7-5 8zM824 1303l6-8-13-6-5 8z" fill="#66ff00"/>
<path d="M812 1297l5-8-12-6-5 8zM795 1298l5-7-13-6-5 7z" fill="#73ff00"/>
<path d="M765 1294l5-7-13-6-5 8z" fill="#79ff00"/>
<path d="M800 1291l5-8-13-6-5 8zM782 1292l5-7-12-6-5 8zM735 1291l5-8-13-5-5 8z" fill="#80ff00"/>
<path d="M770 1287l5-8-12-6-6 8zM752 1289l5-8-12-5-5 7zM644 1285l5-7-12-4-5 7zM674 1286l6-7-13-4-5 7zM705 1288l5-7-13-5-5 7z" fill="#86ff00"/>
<path d="M740 1283l5-7-12-5-6 7zM662 1282l5-7-12-5-6 8zM692 1283l5-7-12-5-5 8zM722 1286l5-8-12-5-5 8z" fill="#8cff00"/>
<path d="M710 1281l5-8-12-4-6 7zM632 1281l5-7-13-4-5 7z" fill="#93ff00"/>
<path d="M649 1278l6-8-13-3-5 7zM680 1279l5-8-13-4-5 8z" fill="#99ff00"/>
<path d="M963 1353l4-8-12-8-5 8zM945 1353l5-8-12-8-5 8z" fill="#00ff06"/>
<path d="M975 1362l5-9-13-8-4 8z" fill="#00ff13"/>
<path d="M992 1362l5-9-13-8-4 8z" fill="#00ff1a"/>
<path d="M1004 1370l5-8-12-9-5 9zM987 1370l5-8-12-9-5 9z" fill="#00ff26"/>
<path d="M1016 1379l5-8-12-9-5 8z" fill="#00ff39"/>
<path d="M1033 1380l5-9-12-9-5 9z" fill="#00ff40"/>
<path d="M1029 1388l4-8-12-9-5 8z" fill="#00ff4c"/>
<path d="M1046 1389l4-9-12-9-5 9z" fill="#00ff53"/>
<path d="M1075 1399l4-9-12-9-5 9zM1058 1398l4-8-12-10-4 9z" fill="#00ff66"/>
<path d="M1070 1408l5-9-13-9-4 8z" fill="#00ff79"/>
<path d="M1087 1409l4-9-12-10-4 9z" fill="#00ff80"/>
<path d="M1082 1417l5-8-12-10-5 9z" fill="#00ff8c"/>
<path d="M1099 1418l5-8-13-10-4 9z" fill="#00ff93"/>
<path d="M1111 1428l5-9-12-9-5 8z" fill="#00ffa6"/>
<path d="M1128 1429l4-8-12-10-4 8z" fill="#00ffac"/>
<path d="M1140 1439l5-8-13-10-4 8zM1123 1438l5-9-12-10-5 9z" fill="#00ffbf"/>
<path d="M1152 1450l5-9-12-10-5 8z" fill="#00ffd9"/>
<path d="M1164 1460l5-9-12-10-5 9z" fill="#00ffec"/>
<path d="M950 1345l5-8-12-8-5 8zM933 1345l5-8-12-8-5 8zM916 1346l5-9-13-8-4 9z" fill="#0dff00"/>
<path d="M921 1337l5-8-13-8-5 8zM904 1338l4-9-12-7-5 8z" fill="#20ff00"/>
<path d="M908 1329l5-8-12-7-5 8zM891 1330l5-8-12-7-5 8zM874 1331l5-8-12-7-5 8z" fill="#2dff00"/>
<path d="M862 1324l5-8-13-7-5 8zM844 1325l5-8-12-7-5 8z" fill="#39ff00"/>
<path d="M879 1323l5-8-12-8-5 9z" fill="#40ff00"/>
<path d="M832 1318l5-8-13-7-5 8z" fill="#46ff00"/>
<path d="M849 1317l5-8-12-7-5 8z" fill="#4cff00"/>
<path d="M819 1311l5-8-12-6-5 8zM802 1313l5-8-12-7-5 8z" fill="#53ff00"/>
<path d="M772 1308l5-8-12-6-5 8z" fill="#59ff00"/>
<path d="M790 1306l5-8-13-6-5 8z" fill="#60ff00"/>
<path d="M807 1305l5-8-12-6-5 7zM760 1302l5-8-13-5-5 7zM742 1304l5-8-12-5-6 8z" fill="#66ff00"/>
<path d="M777 1300l5-8-12-5-5 7zM729 1299l6-8-13-5-5 7zM682 1299l5-8-13-5-5 8zM712 1301l5-8-12-5-6 8z" fill="#6cff00"/>
<path d="M747 1296l5-7-12-6-5 8zM699 1296l6-8-13-5-5 8z" fill="#73ff00"/>
<path d="M717 1293l5-7-12-5-5 7zM669 1294l5-8-12-4-5 7z" fill="#79ff00"/>
<path d="M657 1289l5-7-13-4-5 7zM687 1291l5-8-12-4-6 7z" fill="#80ff00"/>
<path d="M928 1354l5-9-12-8-5 9zM911 1354l5-8-12-8-5 8z" fill="#00ff06"/>
<path d="M958 1362l5-9-13-8-5 8zM941 1362l4-9-12-8-5 9zM923 1362l5-8-12-8-5 8z" fill="#00ff13"/>
<path d="M970 1370l5-8-12-9-5 9zM953 1370l5-8-13-9-4 9z" fill="#00ff26"/>
<path d="M999 1379l5-9-12-8-5 8zM982 1379l5-9-12-8-5 8z" fill="#00ff39"/>
<path d="M1012 1388l4-9-12-9-5 9zM995 1388l4-9-12-9-5 9z" fill="#00ff4c"/>
<path d="M1024 1397l5-9-13-9-4 9z" fill="#00ff60"/>
<path d="M1041 1398l5-9-13-9-4 8z" fill="#00ff66"/>
<path d="M1036 1406l5-8-12-10-5 9z" fill="#00ff73"/>
<path d="M1053 1407l5-9-12-9-5 9z" fill="#00ff79"/>
<path d="M1065 1416l5-8-12-10-5 9zM1048 1416l5-9-12-9-5 8z" fill="#00ff8c"/>
<path d="M1077 1426l5-9-12-9-5 8z" fill="#00ff9f"/>
<path d="M1094 1427l5-9-12-9-5 8z" fill="#00ffa6"/>
<path d="M1090 1436l4-9-12-10-5 9z" fill="#00ffb2"/>
<path d="M1106 1437l5-9-12-10-5 9z" fill="#00ffb9"/>
<path d="M1119 1447l4-9-12-10-5 9z" fill="#00ffcc"/>
<path d="M1135 1448l5-9-12-10-5 9z" fill="#00ffd2"/>
<path d="M1148 1459l4-9-12-11-5 9zM1131 1457l4-9-12-10-4 9z" fill="#00ffe5"/>
<path d="M1143 1468l5-9-13-11-4 9z" fill="#00fff9"/>
<path d="M1160 1469l4-9-12-10-4 9z" fill="#00ffff"/>
<path d="M899 1346l5-8-13-8-5 8zM881 1347l5-9-12-7-5 8z" fill="#0dff00"/>
<path d="M869 1339l5-8-12-7-5 8zM852 1340l5-8-13-7-5 8z" fill="#1aff00"/>
<path d="M886 1338l5-8-12-7-5 8z" fill="#20ff00"/>
<path d="M839 1333l5-8-12-7-5 8z" fill="#26ff00"/>
<path d="M857 1332l5-8-13-7-5 8z" fill="#2dff00"/>
<path d="M809 1327l5-8-12-6-5 8z" fill="#33ff00"/>
<path d="M827 1326l5-8-13-7-5 8z" fill="#39ff00"/>
<path d="M797 1321l5-8-12-7-6 8zM779 1322l5-8-12-6-5 8z" fill="#40ff00"/>
<path d="M814 1319l5-8-12-6-5 8zM749 1318l5-8-12-6-5 8z" fill="#46ff00"/>
<path d="M784 1314l6-8-13-6-5 8zM767 1316l5-8-12-6-6 8zM719 1314l5-7-12-6-5 8z" fill="#4cff00"/>
<path d="M737 1312l5-8-13-5-5 8z" fill="#53ff00"/>
<path d="M754 1310l6-8-13-6-5 8zM707 1309l5-8-13-5-5 8z" fill="#59ff00"/>
<path d="M724 1307l5-8-12-6-5 8z" fill="#60ff00"/>
<path d="M694 1304l5-8-12-5-5 8z" fill="#66ff00"/>
<path d="M1151 1487l4-9-12-10-5 9z" fill="#00d9ff"/>
<path d="M1155 1478l5-9-12-10-5 9z" fill="#00ecff"/>
<path d="M1138 1477l5-9-12-11-5 9z" fill="#00f2ff"/>
<path d="M894 1355l5-9-13-8-5 9zM876 1355l5-8-12-8-5 9zM859 1356l5-8-12-8-5 9z" fill="#00ff06"/>
<path d="M906 1362l5-8-12-8-5 9zM889 1363l5-8-13-8-5 8z" fill="#00ff13"/>
<path d="M936 1370l5-8-13-8-5 8zM918 1371l5-9-12-8-5 8z" fill="#00ff26"/>
<path d="M965 1379l5-9-12-8-5 8zM948 1379l5-9-12-8-5 8zM931 1379l5-9-13-8-5 9z" fill="#00ff39"/>
<path d="M977 1387l5-8-12-9-5 9zM960 1387l5-8-12-9-5 9z" fill="#00ff4c"/>
<path d="M1007 1397l5-9-13-9-4 9zM990 1396l5-8-13-9-5 8zM973 1396l4-9-12-8-5 8z" fill="#00ff60"/>
<path d="M1019 1406l5-9-12-9-5 9zM1002 1405l5-8-12-9-5 8z" fill="#00ff73"/>
<path d="M1031 1415l5-9-12-9-5 9zM1014 1415l5-9-12-9-5 8z" fill="#00ff86"/>
<path d="M1044 1425l4-9-12-10-5 9z" fill="#00ff99"/>
<path d="M1061 1425l4-9-12-9-5 9z" fill="#00ff9f"/>
<path d="M1073 1435l4-9-12-10-4 9zM1056 1434l5-9-13-9-4 9z" fill="#00ffb2"/>
<path d="M1085 1445l5-9-13-10-4 9z" fill="#00ffc6"/>
<path d="M1102 1446l4-9-12-10-4 9z" fill="#00ffcc"/>
<path d="M1114 1456l5-9-13-10-4 9zM1097 1455l5-9-12-10-5 9z" fill="#00ffdf"/>
<path d="M1126 1466l5-9-12-10-5 9z" fill="#00fff9"/>
<path d="M847 1349l5-9-13-7-5 8z" fill="#06ff00"/>
<path d="M864 1348l5-9-12-7-5 8z" fill="#0dff00"/>
<path d="M817 1343l5-9-13-7-5 9z" fill="#13ff00"/>
<path d="M834 1341l5-8-12-7-5 8z" fill="#1aff00"/>
<path d="M787 1337l5-8-13-7-5 9z" fill="#20ff00"/>
<path d="M822 1334l5-8-13-7-5 8zM804 1336l5-9-12-6-5 8z" fill="#26ff00"/>
<path d="M774 1331l5-9-12-6-5 8zM757 1332l5-8-13-6-5 8z" fill="#2dff00"/>
<path d="M792 1329l5-8-13-7-5 8z" fill="#33ff00"/>
<path d="M762 1324l5-8-13-6-5 8zM744 1326l5-8-12-6-5 8z" fill="#39ff00"/>
<path d="M732 1320l5-8-13-5-5 7z" fill="#40ff00"/>
<path d="M1146 1497l5-10-13-10-4 9z" fill="#00c6ff"/>
<path d="M1134 1486l4-9-12-11-4 10z" fill="#00dfff"/>
<path d="M1117 1485l5-9-13-11-4 9z" fill="#00e6ff"/>
<path d="M1122 1476l4-10-12-10-5 9z" fill="#00f2ff"/>
<path d="M1105 1474l4-9-12-10-4 9z" fill="#00f9ff"/>
<path d="M794 1352l5-8-12-7-5 8z" fill="#00ff00"/>
<path d="M842 1357l5-8-13-8-5 9z" fill="#00ff06"/>
<path d="M824 1358l5-8-12-7-5 8z" fill="#00ff0d"/>
<path d="M871 1364l5-9-12-7-5 8zM854 1365l5-9-12-7-5 8z" fill="#00ff1a"/>
<path d="M901 1371l5-9-12-7-5 8zM884 1372l5-9-13-8-5 9zM867 1372l4-8-12-8-5 9z" fill="#00ff26"/>
<path d="M914 1379l4-8-12-9-5 9zM896 1380l5-9-12-8-5 9z" fill="#00ff39"/>
<path d="M943 1387l5-8-12-9-5 9zM926 1388l5-9-13-8-4 8z" fill="#00ff4c"/>
<path d="M956 1396l4-9-12-8-5 8zM938 1396l5-9-12-8-5 9z" fill="#00ff59"/>
<path d="M968 1405l5-9-13-9-4 9z" fill="#00ff6c"/>
<path d="M985 1405l5-9-13-9-4 9z" fill="#00ff73"/>
<path d="M980 1414l5-9-12-9-5 9z" fill="#00ff80"/>
<path d="M997 1414l5-9-12-9-5 9z" fill="#00ff86"/>
<path d="M1027 1424l4-9-12-9-5 9zM1010 1424l4-9-12-10-5 9z" fill="#00ff99"/>
<path d="M1039 1434l5-9-13-10-4 9zM1022 1433l5-9-13-9-4 9z" fill="#00ffac"/>
<path d="M1051 1443l5-9-12-9-5 9z" fill="#00ffbf"/>
<path d="M1068 1444l5-9-12-10-5 9z" fill="#00ffc6"/>
<path d="M1080 1454l5-9-12-10-5 9zM1064 1453l4-9-12-10-5 9z" fill="#00ffd9"/>
<path d="M1093 1464l4-9-12-10-5 9z" fill="#00ffec"/>
<path d="M1109 1465l5-9-12-10-5 9z" fill="#00fff2"/>
<path d="M829 1350l5-9-12-7-5 9zM812 1351l5-8-13-7-5 8z" fill="#06ff00"/>
<path d="M782 1345l5-8-13-6-5 8z" fill="#0dff00"/>
<path d="M799 1344l5-8-12-7-5 8z" fill="#13ff00"/>
<path d="M769 1339l5-8-12-7-5 8z" fill="#20ff00"/>
<path d="M1142 1506l4-9-12-11-5 9zM1125 1505l4-10-12-10-4 9z" fill="#00b9ff"/>
<path d="M1129 1495l5-9-12-10-5 9z" fill="#00ccff"/>
<path d="M1113 1494l4-9-12-11-5 10z" fill="#00d2ff"/>
<path d="M1100 1484l5-10-12-10-5 9z" fill="#00e6ff"/>
<path d="M807 1359l5-8-13-7-5 8z" fill="#00ff0d"/>
<path d="M837 1365l5-8-13-7-5 8zM819 1367l5-9-12-7-5 8z" fill="#00ff1a"/>
<path d="M849 1373l5-8-12-8-5 8zM832 1374l5-9-13-7-5 9z" fill="#00ff2d"/>
<path d="M879 1380l5-8-13-8-4 8zM862 1381l5-9-13-7-5 8z" fill="#00ff39"/>
<path d="M909 1388l5-9-13-8-5 9zM891 1388l5-8-12-8-5 8zM874 1389l5-9-12-8-5 9z" fill="#00ff4c"/>
<path d="M921 1396l5-8-12-9-5 9zM904 1397l5-9-13-8-5 8z" fill="#00ff59"/>
<path d="M951 1405l5-9-13-9-5 9zM934 1405l4-9-12-8-5 8z" fill="#00ff6c"/>
<path d="M963 1414l5-9-12-9-5 9zM946 1414l5-9-13-9-4 9z" fill="#00ff80"/>
<path d="M993 1423l4-9-12-9-5 9zM976 1423l4-9-12-9-5 9z" fill="#00ff93"/>
<path d="M1005 1433l5-9-13-10-4 9zM988 1432l5-9-13-9-4 9z" fill="#00ffa6"/>
<path d="M1034 1443l5-9-12-10-5 9zM1017 1442l5-9-12-9-5 9z" fill="#00ffbf"/>
<path d="M1047 1452l4-9-12-9-5 9zM1030 1452l4-9-12-10-5 9z" fill="#00ffd2"/>
<path d="M1076 1463l4-9-12-10-4 9zM1059 1462l5-9-13-10-4 9z" fill="#00ffec"/>
<path d="M1088 1473l5-9-13-10-4 9zM1071 1472l5-9-12-10-5 9z" fill="#00ffff"/>
<path d="M1133 1525l4-10-12-10-5 9z" fill="#0093ff"/>
<path d="M1137 1515l5-9-13-11-4 10zM1120 1514l5-9-12-11-5 10z" fill="#00a6ff"/>
<path d="M1108 1504l5-10-13-10-4 9zM1091 1502l5-9-13-10-4 9z" fill="#00bfff"/>
<path d="M1096 1493l4-9-12-11-5 10z" fill="#00d2ff"/>
<path d="M1079 1492l4-9-12-11-4 10z" fill="#00d9ff"/>
<path d="M1083 1483l5-10-12-10-5 9zM1067 1482l4-10-12-10-5 10z" fill="#00ecff"/>
<path d="M844 1382l5-9-12-8-5 9z" fill="#00ff39"/>
<path d="M857 1390l5-9-13-8-5 9z" fill="#00ff4c"/>
<path d="M887 1397l4-9-12-8-5 9zM869 1398l5-9-12-8-5 9z" fill="#00ff59"/>
<path d="M916 1405l5-9-12-8-5 9zM899 1405l5-8-13-9-4 9zM882 1406l5-9-13-8-5 9z" fill="#00ff6c"/>
<path d="M929 1414l5-9-13-9-5 9zM911 1414l5-9-12-8-5 8z" fill="#00ff80"/>
<path d="M958 1423l5-9-12-9-5 9zM941 1423l5-9-12-9-5 9zM924 1423l5-9-13-9-5 9z" fill="#00ff93"/>
<path d="M971 1432l5-9-13-9-5 9zM954 1432l4-9-12-9-5 9z" fill="#00ffa6"/>
<path d="M1000 1442l5-9-12-10-5 9zM983 1441l5-9-12-9-5 9z" fill="#00ffb9"/>
<path d="M1013 1451l4-9-12-9-5 9zM996 1451l4-9-12-10-5 9z" fill="#00ffcc"/>
<path d="M1042 1462l5-10-13-9-4 9zM1025 1461l5-9-13-10-4 9z" fill="#00ffe5"/>
<path d="M1054 1472l5-10-12-10-5 10zM1037 1471l5-9-12-10-5 9z" fill="#00fff9"/>
<path d="M1128 1534l5-9-13-11-4 10z" fill="#0080ff"/>
<path d="M1116 1524l4-10-12-10-5 9z" fill="#0093ff"/>
<path d="M1099 1522l4-9-12-11-4 10z" fill="#0099ff"/>
<path d="M1103 1513l5-9-12-11-5 9z" fill="#00acff"/>
<path d="M1087 1512l4-10-12-10-5 9z" fill="#00b2ff"/>
<path d="M1074 1501l5-9-12-10-5 9z" fill="#00c6ff"/>
<path d="M1057 1500l5-9-12-10-5 9z" fill="#00ccff"/>
<path d="M1062 1491l5-9-13-10-4 9z" fill="#00d9ff"/>
<path d="M1045 1490l5-9-13-10-4 9z" fill="#00dfff"/>
<path d="M1050 1481l4-9-12-10-5 9zM1033 1480l4-9-12-10-5 9z" fill="#00f2ff"/>
<path d="M894 1414l5-9-12-8-5 9z" fill="#00ff80"/>
<path d="M907 1423l4-9-12-9-5 9z" fill="#00ff93"/>
<path d="M936 1432l5-9-12-9-5 9zM919 1432l5-9-13-9-4 9z" fill="#00ffa6"/>
<path d="M932 1441l4-9-12-9-5 9z" fill="#00ffb2"/>
<path d="M966 1441l5-9-13-9-4 9zM949 1441l5-9-13-9-5 9z" fill="#00ffb9"/>
<path d="M978 1450l5-9-12-9-5 9zM961 1450l5-9-12-9-5 9z" fill="#00ffcc"/>
<path d="M1008 1460l5-9-13-9-4 9zM991 1460l5-9-13-10-5 9z" fill="#00ffdf"/>
<path d="M1003 1470l5-10-12-9-5 9z" fill="#00fff2"/>
<path d="M1020 1470l5-9-12-10-5 9z" fill="#00fff9"/>
<path d="M1124 1544l4-10-12-10-5 9z" fill="#006cff"/>
<path d="M1107 1543l4-10-12-11-5 10z" fill="#0073ff"/>
<path d="M1111 1533l5-9-13-11-4 9zM1094 1532l5-10-12-10-5 9z" fill="#0086ff"/>
<path d="M1082 1521l5-9-13-11-4 10zM1065 1520l5-9-13-11-4 10z" fill="#009fff"/>
<path d="M1070 1511l4-10-12-10-5 9z" fill="#00b2ff"/>
<path d="M1053 1510l4-10-12-10-5 9z" fill="#00b9ff"/>
<path d="M1040 1499l5-9-12-10-5 9zM1023 1499l5-10-12-10-5 10z" fill="#00ccff"/>
<path d="M1028 1489l5-9-13-10-4 9z" fill="#00dfff"/>
<path d="M1011 1489l5-10-13-9-4 9z" fill="#00e6ff"/>
<path d="M1016 1479l4-9-12-10-5 10zM999 1479l4-9-12-10-5 9zM981 1478l5-9-12-10-5 10z" fill="#00f9ff"/>
<path d="M944 1450l5-9-13-9-4 9z" fill="#00ffc6"/>
<path d="M957 1459l4-9-12-9-5 9z" fill="#00ffd9"/>
<path d="M974 1459l4-9-12-9-5 9z" fill="#00ffdf"/>
<path d="M986 1469l5-9-13-10-4 9zM969 1469l5-10-13-9-4 9z" fill="#00fff2"/>
<path d="M1115 1563l4-10-12-10-5 9z" fill="#0046ff"/>
<path d="M1119 1553l5-9-13-11-4 10z" fill="#0059ff"/>
<path d="M1102 1552l5-9-13-11-4 9z" fill="#0060ff"/>
<path d="M1090 1541l4-9-12-11-4 10z" fill="#0073ff"/>
<path d="M1073 1540l5-9-13-11-4 10z" fill="#0079ff"/>
<path d="M1078 1531l4-10-12-10-5 9zM1061 1530l4-10-12-10-5 9z" fill="#008cff"/>
<path d="M1048 1519l5-9-13-11-4 10zM1031 1518l5-9-13-10-4 9z" fill="#00a6ff"/>
<path d="M1036 1509l4-10-12-10-5 10z" fill="#00b9ff"/>
<path d="M1019 1508l4-9-12-10-5 9z" fill="#00bfff"/>
<path d="M1006 1498l5-9-12-10-5 9z" fill="#00d2ff"/>
<path d="M994 1488l5-9-13-10-5 9z" fill="#00e6ff"/>
<path d="M1110 1573l5-10-13-11-4 10z" fill="#0033ff"/>
<path d="M1098 1562l4-10-12-11-5 10z" fill="#004cff"/>
<path d="M1081 1560l4-9-12-11-5 10z" fill="#0053ff"/>
<path d="M1085 1551l5-10-12-10-5 9z" fill="#0060ff"/>
<path d="M1068 1550l5-10-12-10-5 9z" fill="#0066ff"/>
<path d="M1056 1539l5-9-13-11-4 10z" fill="#0079ff"/>
<path d="M1044 1529l4-10-12-10-5 9z" fill="#0093ff"/>
<path d="M1106 1582l4-9-12-11-5 9z" fill="#0020ff"/>
<path d="M1093 1571l5-9-13-11-4 9z" fill="#0039ff"/>
</g>
<ellipse cx="116.1" cy="651.9" rx="6.2" ry="4.8" fill="#f5c8c8" stroke="#8a4848" stroke-width="1.2"/>
<ellipse cx="710.8" cy="640.2" rx="6" ry="4.6" fill="#f00" stroke="#a00" stroke-width="1"/>
<ellipse cx="552.8" cy="794.7" rx="6.2" ry="4.8" fill="#f5c8c8" stroke="#8a4848" stroke-width="1.2"/>
<ellipse cx="328.9" cy="733.6" rx="6" ry="4.6" fill="#f00" stroke="#a00" stroke-width="1"/>
<ellipse cx="427.1" cy="548.3" rx="6" ry="4.6" fill="#f00" stroke="#a00" stroke-width="1"/>
<line x1="113.6" y1="1269.1" x2="457.1" y2="1248.5" stroke="#8e8e8e" stroke-width="1.8"/>
<line x1="457.1" y1="1248.5" x2="717.4" y2="1280.7" stroke="#8e8e8e" stroke-width="1.8"/>
<line x1="113" y1="1220.1" x2="457.3" y2="1203.8" stroke="#8e8e8e" stroke-width="1.8"/>
<line x1="457.3" y1="1203.8" x2="718.2" y2="1229.2" stroke="#8e8e8e" stroke-width="1.8"/>
<line x1="112.4" y1="1171.1" x2="457.5" y2="1159.1" stroke="#8e8e8e" stroke-width="1.8"/>
<line x1="457.5" y1="1159.1" x2="719" y2="1177.8" stroke="#8e8e8e" stroke-width="1.8"/>
<line x1="111.9" y1="1122" x2="457.8" y2="1114.3" stroke="#8e8e8e" stroke-width="1.8"/>
<line x1="457.8" y1="1114.3" x2="719.8" y2="1126.3" stroke="#8e8e8e" stroke-width="1.8"/>
<line x1="111.3" y1="1073" x2="458" y2="1069.6" stroke="#8e8e8e" stroke-width="1.8"/>
<line x1="458" y1="1069.6" x2="720.6" y2="1074.8" stroke="#8e8e8e" stroke-width="1.8"/>
<line x1="110.7" y1="1024" x2="458.2" y2="1024.9" stroke="#8e8e8e" stroke-width="1.8"/>
<line x1="458.2" y1="1024.9" x2="721.5" y2="1023.3" stroke="#8e8e8e" stroke-width="1.8"/>
<line x1="199.4" y1="1263.9" x2="197.6" y2="1024.2" stroke="#505050" stroke-width="1.6"/>
<line x1="652.3" y1="1272.7" x2="655.6" y2="1023.7" stroke="#505050" stroke-width="1.6"/>
<line x1="285.3" y1="1258.8" x2="284.5" y2="1024.5" stroke="#505050" stroke-width="1.6"/>
<line x1="587.2" y1="1264.6" x2="589.8" y2="1024.1" stroke="#505050" stroke-width="1.6"/>
<line x1="371.2" y1="1253.7" x2="371.3" y2="1024.7" stroke="#505050" stroke-width="1.6"/>
<line x1="522.2" y1="1256.6" x2="524" y2="1024.5" stroke="#505050" stroke-width="1.6"/>
<line x1="114.5" y1="1349.4" x2="110.7" y2="1024" stroke="#505050" stroke-width="1.6"/>
<line x1="456.8" y1="1321.9" x2="458.2" y2="1024.9" stroke="#505050" stroke-width="1.6"/>
<line x1="716" y1="1365.1" x2="721.5" y2="1023.3" stroke="#7a7a7a" stroke-width="2.0"/>
<line x1="110.1" y1="1269.1" x2="114.1" y2="1269.1" stroke="#000" stroke-width="2"/>
<line x1="109.5" y1="1220.1" x2="113.5" y2="1220.1" stroke="#000" stroke-width="2"/>
<line x1="108.9" y1="1171.1" x2="112.9" y2="1171.1" stroke="#000" stroke-width="2"/>
<line x1="108.4" y1="1122" x2="112.4" y2="1122" stroke="#000" stroke-width="2"/>
<line x1="107.8" y1="1073" x2="111.8" y2="1073" stroke="#000" stroke-width="2"/>
<line x1="107.2" y1="1024" x2="111.2" y2="1024" stroke="#000" stroke-width="2"/>
<polygon points="344.3,1403.3 716,1365.1 456.8,1321.9 114.5,1349.4" fill="#ffff00" stroke="#6b6b3a" stroke-width="1"/>
<path d="M361.9 1401.5 357.2 1401.3 356.3 1401.3 350.9 1401.1 350.7 1401.1 345.1 1400.9 344.5 1400.8 339.6 1400.7 338.2 1400.6 334.1 1400.4 331.8 1400.3M468.9 1323.9 464.8 1323.8 462.9 1323.8 458.6 1323.7 457.1 1323.6 452.3 1323.5 451.2 1323.5 445.9 1323.4 445.5 1323.4 439.8 1323.3 439.4 1323.3" stroke="#40c840" stroke-width="1.3" fill="none"/>
<path d="M427.4 1394.7 425.3 1394.7 421.1 1394.6 419.3 1394.6 414.8 1394.5 413.4 1394.5 408.6 1394.4 407.4 1394.4 402.5 1394.2 401.3 1394.2 396.4 1394.1 395.3 1394.1 390.4 1394 389.2 1393.9 384.5 1393.8 383.1 1393.8 378.6 1393.6 376.9 1393.6 372.8 1393.5 370.7 1393.4 367.1 1393.3 364.5 1393.2 361.4 1393.1 358.2 1393 355.7 1392.9 351.9 1392.8 350.1 1392.7 345.6 1392.5 344.6 1392.5 339.3 1392.3 339.1 1392.3 333.7 1392.1 332.8 1392 328.3 1391.8 326.4 1391.8 322.9 1391.6 319.9 1391.5 317.6 1391.4 313.4 1391.2 312.4 1391.1 307.1 1390.9 306.8 1390.9 302 1390.6 300.2 1390.5 296.9 1390.4 293.6 1390.2 291.8 1390.1 286.9 1389.8M509 1330.6 508.2 1330.6 502.8 1330.4 502.3 1330.4 497.3 1330.2 495.7 1330.1 491.8 1330 489.3 1329.9 486.2 1329.8 482.9 1329.7 480.4 1329.7 476.6 1329.5 474.6 1329.5 470.4 1329.4 468.7 1329.3 464.3 1329.2 462.8 1329.2 458.3 1329.1 456.7 1329 452.4 1328.9 450.5 1328.9 446.5 1328.8 444.2 1328.7 440.7 1328.7 437.9 1328.6 435 1328.6 431.4 1328.5 429.4 1328.5 424.8 1328.4 423.8 1328.4 418.2 1328.3 418 1328.3 412.8 1328.2 411.2 1328.2 407.4 1328.1 404.2 1328.1 402 1328.1 397 1328 396.7 1328 391.4 1328 389.7 1327.9 386.2 1327.9 382.2 1327.9" stroke="#90dc10" stroke-width="1.4" fill="none"/>
<path d="M272.3 1365.7 269.4 1365.3 266.4 1364.8 263.5 1364.4 260.8 1363.9 258.1 1363.4 255.6 1362.9 253.2 1362.4 251 1361.9 248.9 1361.3 246.9 1360.8 245.2 1360.2 243.5 1359.6 242.4 1359.1 242.1 1359 240.9 1358.4 240 1357.7 239.6 1357.4 239.2 1357.1 238.8 1356.4 238.7 1356.2 238.7 1355.7 238.8 1355.1 238.9 1355 239.6 1354.2 239.6 1354.2 240.7 1353.4 240.9 1353.4 242.2 1352.7 242.8 1352.5 244 1352 245.7 1351.5 246 1351.4 248.2 1350.8 249.9 1350.4 250.5 1350.3 253 1349.8 255.6 1349.3 256.6 1349.2 258.4 1348.9 261.2 1348.5 264.2 1348.1 267.2 1347.7 270.3 1347.3 270.5 1347.3 273.5 1347 276.8 1346.6 280.2 1346.3 283.6 1346 287.2 1345.8 290.8 1345.5 294.4 1345.2 296.8 1345.1 298.1 1345 301.9 1344.8 305.8 1344.6 309.7 1344.4 313.7 1344.2 317.7 1344 318.4 1344 321.8 1343.8 326 1343.7 330.2 1343.5 332.7 1343.5 334.5 1343.4 338.8 1343.3 343.3 1343.2 344.5 1343.1 347.8 1343.1 352.3 1343 355 1342.9 356.9 1342.9 361.6 1342.8 364.5 1342.8 366.4 1342.8 371.2 1342.8 373.3 1342.7 376.1 1342.7 381.1 1342.7 381.6 1342.7 386.2 1342.7 389.5 1342.7 391.3 1342.7 396.6 1342.8 397 1342.8 401.9 1342.8 404.1 1342.8 407.4 1342.9 411 1342.9 412.9 1343 417.6 1343 418.5 1343.1 424 1343.2 424.3 1343.2 430.2 1343.3 430.2 1343.3 436.2 1343.5 436.2 1343.5 442.1 1343.6 442.4 1343.6 447.7 1343.8 448.7 1343.8 453.2 1344 455.3 1344.1 458.6 1344.2 462 1344.4 463.8 1344.4 468.9 1344.7 469 1344.7 473.8 1344.9 476.2 1345 478.7 1345.2 483.4 1345.4 483.8 1345.4 488 1345.7 491.8 1345.9 492.5 1346 496.9 1346.2 500.3 1346.5 501.2 1346.5 505.3 1346.8 509.4 1347.2 509.5 1347.2 513.4 1347.5 517.2 1347.8 519.8 1348 521 1348.1 524.7 1348.5 528.3 1348.8 531.8 1349.2 532 1349.2 535.1 1349.6 538.4 1350 541.6 1350.3 544.7 1350.7 547.7 1351.2 550.6 1351.6 551.5 1351.7 553.4 1352 556.1 1352.4 558.6 1352.9 561.1 1353.3 563.5 1353.8 563.8 1353.9 565.7 1354.3 567.8 1354.8 569.8 1355.3 571.6 1355.8 573.3 1356.3 574.6 1356.7 574.9 1356.9 576.3 1357.4 577.5 1358 578.2 1358.4 578.5 1358.6 579.3 1359.2 579.8 1359.7 579.9 1359.8 580.3 1360.5 580.3 1360.8 580.3 1361.2 580.1 1361.7 580 1361.9 579.4 1362.6 579.3 1362.7 578.3 1363.4 578.1 1363.5 576.8 1364.2 576.2 1364.4 575 1364.9 573.4 1365.4 573 1365.5 570.8 1366.1 569.2 1366.5 568.3 1366.7 565.7 1367.3 562.9 1367.8 562.3 1367.9 560 1368.3 556.9 1368.8 553.7 1369.2 550.4 1369.7 547 1370.1 543.4 1370.5 539.8 1370.8 536 1371.2 532.2 1371.5 528.2 1371.8 524.2 1372.1 520.1 1372.4 515.9 1372.6 512.6 1372.8 511.7 1372.9 507.3 1373.1 502.9 1373.3 498.4 1373.5 498.2 1373.5 493.8 1373.7 489.2 1373.9 486.5 1374 484.4 1374 479.6 1374.2 476.2 1374.3 474.8 1374.3 469.9 1374.4 466.8 1374.4 464.9 1374.5 459.8 1374.6 458.1 1374.6 454.7 1374.6 449.8 1374.7 449.5 1374.7 444.2 1374.7 442 1374.7 438.8 1374.7 434.6 1374.7 433.4 1374.7 427.9 1374.7 427.4 1374.7 422.4 1374.6 420.4 1374.6 416.7 1374.6 413.7 1374.5 411 1374.5 407.2 1374.4 405.2 1374.4 400.9 1374.3 399.4 1374.3 394.8 1374.1 393.4 1374.1 388.8 1374 387.3 1373.9 382.9 1373.8 381.2 1373.8 377.2 1373.6 374.9 1373.5 371.6 1373.4 368.5 1373.3 366.2 1373.2 362 1373 360.9 1373 355.6 1372.7 355.4 1372.7 350.6 1372.5 348.6 1372.4 345.6 1372.2 341.7 1372 340.7 1371.9 335.9 1371.7 334.6 1371.6 331.2 1371.4 327.2 1371.1 326.6 1371.1 322.1 1370.7 319.6 1370.6 317.7 1370.4 313.4 1370.1 311.6 1369.9 309.2 1369.7 305.1 1369.4 303.3 1369.2 301.1 1369 297.2 1368.6 294.3 1368.4 293.4 1368.3 289.7 1367.9 286 1367.5 284.3 1367.3 282.5 1367.1 279.1 1366.6 275.8 1366.2 272.5 1365.8 272.3 1365.7" stroke="#f08c00" stroke-width="1.5" fill="none"/>
<circle cx="437.2" cy="1393.7" r="1.3" fill="#222"/>
<circle cx="286.8" cy="1389.8" r="1.3" fill="#222"/>
<circle cx="530.1" cy="1384.2" r="1.3" fill="#222"/>
<circle cx="229.4" cy="1376.4" r="1.3" fill="#222"/>
<circle cx="623.1" cy="1374.6" r="1.3" fill="#222"/>
<circle cx="171.9" cy="1362.9" r="1.3" fill="#222"/>
<circle cx="344.3" cy="1403.3" r="1.4" fill="#222"/>
<circle cx="716" cy="1365.1" r="1.4" fill="#222"/>
<circle cx="456.8" cy="1321.9" r="1.4" fill="#222"/>
<circle cx="114.5" cy="1349.4" r="1.4" fill="#222"/>
<ellipse cx="457.2" cy="1223.4" rx="6" ry="4.6" fill="#f00" stroke="#a00" stroke-width="1"/>
<g transform="scale(0.5 0.5)" stroke="#000" stroke-width="2" stroke-opacity="1" stroke-linejoin="round">
<path d="M912 2421l10 9-8 9-9-9z" fill="#001aff"/>
<path d="M902 2413l10 8-7 9-10-8zM920 2412l9 9-7 9-10-9z" fill="#0033ff"/>
<path d="M893 2405l9 8-7 9-10-8zM910 2404l10 8-8 9-10-8z" fill="#004cff"/>
<path d="M927 2404l10 8-8 9-9-9z" fill="#0053ff"/>
<path d="M883 2397l10 8-8 9-10-8zM900 2396l10 8-8 9-9-8z" fill="#0066ff"/>
<path d="M917 2395l10 9-7 8-10-8zM935 2395l10 9-8 8-10-8z" fill="#006cff"/>
<path d="M873 2388l10 9-8 9-9-8zM890 2388l10 8-7 9-10-8z" fill="#0080ff"/>
<path d="M907 2387l10 8-7 9-10-8z" fill="#0086ff"/>
<path d="M863 2381l10 7-7 10-10-8z" fill="#0093ff"/>
<path d="M925 2387l10 8-8 9-10-9zM942 2387l10 8-7 9-10-9z" fill="#0086ff"/>
<path d="M880 2379l10 9-7 9-10-9zM898 2379l9 8-7 9-10-8z" fill="#0099ff"/>
<path d="M915 2378l10 9-8 8-10-8z" fill="#009fff"/>
<path d="M871 2371l9 8-7 9-10-7z" fill="#00b2ff"/>
<path d="M932 2378l10 9-7 8-10-8zM950 2378l10 9-8 8-10-8z" fill="#009fff"/>
<path d="M888 2371l10 8-8 9-10-9z" fill="#00b2ff"/>
<path d="M905 2370l10 8-8 9-9-8zM922 2370l10 8-7 9-10-9zM940 2370l10 8-8 9-10-9z" fill="#00b9ff"/>
<path d="M878 2363l10 8-8 8-9-8z" fill="#00ccff"/>
<path d="M957 2370l10 9-7 8-10-9z" fill="#00b9ff"/>
<path d="M895 2362l10 8-7 9-10-8z" fill="#00ccff"/>
<path d="M913 2361l9 9-7 8-10-8zM930 2361l10 9-8 8-10-8zM947 2361l10 9-7 8-10-8zM965 2362l10 9-8 8-10-9z" fill="#00d2ff"/>
<path d="M885 2354l10 8-7 9-10-8zM903 2353l10 8-8 9-10-8zM972 2354l10 9-7 8-10-9z" fill="#00e6ff"/>
<path d="M920 2353l10 8-8 9-9-9zM937 2353l10 8-7 9-10-9zM955 2353l10 9-8 8-10-9z" fill="#00ecff"/>
<path d="M893 2345l10 8-8 9-10-8zM910 2345l10 8-7 8-10-8z" fill="#00ffff"/>
<path d="M918 2336l9 9-7 8-10-8zM935 2337l10 8-8 8-10-8z" fill="#00ffe5"/>
<path d="M927 2345l10 8-7 8-10-8zM945 2345l10 8-8 8-10-8z" fill="#00fff9"/>
<path d="M962 2346l10 8-7 8-10-9zM980 2347l10 8-8 8-10-9z" fill="#00ffff"/>
<path d="M925 2328l10 9-8 8-9-9zM942 2329l10 8-7 8-10-8z" fill="#00ffcc"/>
<path d="M952 2337l10 9-7 7-10-8zM970 2338l10 9-8 7-10-8zM987 2339l10 9-7 7-10-8z" fill="#00ffe5"/>
<path d="M932 2320l10 9-7 8-10-9zM950 2321l10 8-8 8-10-8z" fill="#00ffb2"/>
<path d="M967 2322l10 8-7 8-10-9z" fill="#00ffb9"/>
<path d="M960 2329l10 9-8 8-10-9zM977 2330l10 9-7 8-10-9z" fill="#00ffcc"/>
<path d="M995 2332l10 8-8 8-10-9z" fill="#00ffd2"/>
<path d="M940 2313l10 8-8 8-10-9zM957 2313l10 9-7 7-10-8zM975 2314l10 9-8 7-10-8z" fill="#00ff9f"/>
<path d="M992 2316l10 8-7 8-10-9z" fill="#00ffa6"/>
<path d="M985 2323l10 9-8 7-10-9z" fill="#00ffb9"/>
<path d="M1002 2324l10 9-7 7-10-8z" fill="#00ffbf"/>
<path d="M965 2306l10 8-8 8-10-9z" fill="#00ff86"/>
<path d="M982 2307l10 9-7 7-10-9zM1000 2309l10 9-8 6-10-8z" fill="#00ff8c"/>
<path d="M1017 2311l10 9-7 6-10-8z" fill="#00ff93"/>
<path d="M1010 2318l10 8-8 7-10-9z" fill="#00ffa6"/>
<path d="M972 2299l10 8-7 7-10-8zM990 2300l10 9-8 7-10-9z" fill="#00ff73"/>
<path d="M1007 2302l10 9-7 7-10-9z" fill="#00ff79"/>
<path d="M1025 2304l10 9-8 7-10-9z" fill="#00ff80"/>
<path d="M987 2285l10 9-7 6-10-8z" fill="#00ff46"/>
<path d="M980 2292l10 8-8 7-10-8zM997 2294l10 8-7 7-10-9z" fill="#00ff60"/>
<path d="M1015 2295l10 9-8 7-10-9z" fill="#00ff66"/>
<path d="M1032 2298l10 9-7 6-10-9z" fill="#00ff6c"/>
<path d="M1012 2281l10 8-7 6-10-8z" fill="#00ff39"/>
<path d="M1005 2287l10 8-8 7-10-8z" fill="#00ff4c"/>
<path d="M1022 2289l10 9-7 6-10-9z" fill="#00ff53"/>
<path d="M1040 2292l10 8-8 7-10-9z" fill="#00ff59"/>
<path d="M1020 2274l10 9-8 6-10-8z" fill="#00ff26"/>
<path d="M1037 2277l10 9-7 6-10-9z" fill="#00ff2d"/>
<path d="M1055 2280l10 9-8 5-10-8z" fill="#00ff39"/>
<path d="M1030 2283l10 9-8 6-10-9z" fill="#00ff40"/>
<path d="M1047 2286l10 8-7 6-10-8z" fill="#00ff46"/>
<path d="M1027 2268l10 9-7 6-10-9z" fill="#00ff1a"/>
<path d="M1045 2271l10 9-8 6-10-9z" fill="#00ff20"/>
<path d="M1062 2274l10 9-7 6-10-9z" fill="#00ff26"/>
<path d="M1035 2263l10 8-8 6-10-9z" fill="#00ff06"/>
<path d="M1052 2266l10 8-7 6-10-9z" fill="#00ff0d"/>
<path d="M1070 2269l10 9-8 5-10-9z" fill="#00ff1a"/>
<path d="M1060 2260l10 9-8 5-10-8z" fill="#00ff00"/>
<path d="M1077 2264l10 9-7 5-10-9z" fill="#00ff06"/>
<path d="M1042 2257l10 9-7 5-10-8z" fill="#0dff00"/>
<path d="M1085 2259l10 9-8 5-10-9z" fill="#06ff00"/>
<path d="M1067 2255l10 9-7 5-10-9zM1092 2254l10 9-7 5-10-9z" fill="#13ff00"/>
<path d="M1075 2250l10 9-8 5-10-9zM1100 2250l10 9-8 4-10-9z" fill="#20ff00"/>
<path d="M1082 2246l10 8-7 5-10-9zM1107 2246l11 8-8 5-10-9z" fill="#2dff00"/>
<path d="M1090 2241l10 9-8 4-10-8zM1115 2242l10 8-7 4-11-8z" fill="#39ff00"/>
<path d="M1122 2238l11 9-8 3-10-8z" fill="#46ff00"/>
<path d="M1130 2235l10 8-7 4-11-9z" fill="#53ff00"/>
<path d="M1137 2231l11 9-8 3-10-8z" fill="#59ff00"/>
<path d="M1145 2228l10 9-7 3-11-9z" fill="#66ff00"/>
<path d="M1152 2225l11 9-8 3-10-9z" fill="#6cff00"/>
<path d="M339 2226l10-3-7 7-10 2z" fill="#79ff00"/>
<path d="M309 2235l10-3-6 6-10 3z" fill="#66ff00"/>
<path d="M319 2232l10-3-7 6-9 3z" fill="#6cff00"/>
<path d="M329 2229l10-3-7 6-10 3z" fill="#73ff00"/>
<path d="M280 2246l10-4-7 6-10 4z" fill="#4cff00"/>
<path d="M290 2242l10-3-7 6-10 3z" fill="#53ff00"/>
<path d="M300 2239l9-4-6 6-10 4z" fill="#60ff00"/>
<path d="M316 2230l10-4-7 6-10 3z" fill="#73ff00"/>
<path d="M326 2226l10-3-7 6-10 3z" fill="#80ff00"/>
<path d="M240 2264l10-5-6 5-10 5z" fill="#20ff00"/>
<path d="M250 2259l10-4-6 5-10 4z" fill="#2dff00"/>
<path d="M260 2255l10-5-7 6-9 4z" fill="#39ff00"/>
<path d="M270 2250l10-4-7 6-10 4z" fill="#40ff00"/>
<path d="M287 2241l9-4-6 5-10 4z" fill="#59ff00"/>
<path d="M296 2237l10-4-6 6-10 3z" fill="#66ff00"/>
<path d="M306 2233l10-3-7 5-9 4z" fill="#6cff00"/>
<path d="M231 2269l9-5-6 5-10 4z" fill="#1aff00"/>
<path d="M247 2259l10-5-7 5-10 5z" fill="#33ff00"/>
<path d="M257 2254l10-4-7 5-10 4z" fill="#39ff00"/>
<path d="M267 2250l10-5-7 5-10 5z" fill="#46ff00"/>
<path d="M277 2245l10-4-7 5-10 4z" fill="#53ff00"/>
<path d="M283 2240l10-4-6 5-10 4z" fill="#60ff00"/>
<path d="M293 2236l10-4-7 5-9 4z" fill="#6cff00"/>
<path d="M303 2232l10-4-7 5-10 4z" fill="#73ff00"/>
<path d="M237 2264l10-5-7 5-9 5z" fill="#26ff00"/>
<path d="M254 2255l10-5-7 4-10 5z" fill="#40ff00"/>
<path d="M264 2250l9-5-6 5-10 4z" fill="#4cff00"/>
<path d="M273 2245l10-5-6 5-10 5z" fill="#53ff00"/>
<path d="M290 2236l10-5-7 5-10 4z" fill="#6cff00"/>
<path d="M244 2260l10-5-7 4-10 5z" fill="#33ff00"/>
<path d="M250 2256l10-6-6 5-10 5z" fill="#40ff00"/>
<path d="M260 2250l10-5-6 5-10 5z" fill="#4cff00"/>
<path d="M270 2245l10-5-7 5-9 5z" fill="#59ff00"/>
<path d="M280 2240l10-4-7 4-10 5z" fill="#60ff00"/>
<path d="M257 2252l10-6-7 4-10 6z" fill="#4cff00"/>
<path d="M267 2246l10-5-7 4-10 5z" fill="#59ff00"/>
<path d="M277 2241l10-5-7 4-10 5z" fill="#66ff00"/>
<path d="M264 2248l9-5-6 3-10 6z" fill="#53ff00"/>
<path d="M273 2243l10-5-6 3-10 5z" fill="#66ff00"/>
<path d="M283 2238l10-6-6 4-10 5z" fill="#6cff00"/>
<path d="M300 2229l10-5-7 4-10 4z" fill="#86ff00"/>
<path d="M270 2245l10-5-7 3-9 5z" fill="#60ff00"/>
<path d="M280 2240l10-6-7 4-10 5z" fill="#6cff00"/>
<path d="M290 2234l10-5-7 3-10 6z" fill="#79ff00"/>
<path d="M297 2231l10-5-7 3-10 5z" fill="#86ff00"/>
<path d="M307 2226l10-6-7 4-10 5z" fill="#93ff00"/>
<path d="M326 2215l10-4-6 3-10 5z" fill="#acff00"/>
<path d="M333 2212l10-5-7 4-10 4z" fill="#b3ff00"/>
<path d="M343 2207l10-5-7 4-10 5z" fill="#bfff00"/>
<path d="M277 2242l10-5-7 3-10 5z" fill="#6cff00"/>
<path d="M287 2237l10-6-7 3-10 6z" fill="#79ff00"/>
<path d="M303 2228l10-5-6 3-10 5z" fill="#8cff00"/>
<path d="M313 2223l10-6-6 3-10 6z" fill="#99ff00"/>
<path d="M323 2217l10-5-7 3-9 5z" fill="#a6ff00"/>
<path d="M340 2209l10-5-7 3-10 5z" fill="#bfff00"/>
<path d="M350 2204l10-5-7 3-10 5z" fill="#ccff00"/>
<path d="M360 2199l10-4-7 3-10 4z" fill="#d2ff00"/>
<path d="M376 2191l10-4-6 3-10 5z" fill="#ecff00"/>
<path d="M386 2187l10-4-6 3-10 4z" fill="#f2ff00"/>
<path d="M423 2171l10-4-7 4-10 3z" fill="#ffdf00"/>
<path d="M413 2175l10-4-7 3-10 4z" fill="#ffec00"/>
<path d="M283 2240l10-6-6 3-10 5z" fill="#73ff00"/>
<path d="M293 2234l10-6-6 3-10 6z" fill="#80ff00"/>
<path d="M300 2231l10-5-7 2-10 6z" fill="#86ff00"/>
<path d="M310 2226l10-6-7 3-10 5z" fill="#99ff00"/>
<path d="M320 2220l10-6-7 3-10 6z" fill="#a6ff00"/>
<path d="M330 2214l10-5-7 3-10 5z" fill="#b3ff00"/>
<path d="M337 2212l10-6-7 3-10 5z" fill="#b9ff00"/>
<path d="M347 2206l10-5-7 3-10 5z" fill="#c6ff00"/>
<path d="M357 2201l9-5-6 3-10 5z" fill="#d2ff00"/>
<path d="M366 2196l10-5-6 4-10 4z" fill="#dfff00"/>
<path d="M373 2194l10-5-7 2-10 5z" fill="#e5ff00"/>
<path d="M383 2189l10-5-7 3-10 4z" fill="#f2ff00"/>
<path d="M457 2157l10-3-7 3-10 3z" fill="#ffbf00"/>
<path d="M447 2161l10-4-7 3-10 4z" fill="#ffc600"/>
<path d="M430 2168l10-4-7 3-10 4z" fill="#ffd900"/>
<path d="M420 2172l10-4-7 3-10 4z" fill="#ffe500"/>
<path d="M410 2177l10-5-7 3-10 4z" fill="#ffec00"/>
<path d="M403 2179l10-4-7 3-10 5z" fill="#fff900"/>
<path d="M393 2184l10-5-7 4-10 4z" fill="#ffff00"/>
<path d="M290 2237l10-6-7 3-10 6z" fill="#79ff00"/>
<path d="M307 2229l10-6-7 3-10 5z" fill="#93ff00"/>
<path d="M317 2223l10-6-7 3-10 6z" fill="#9fff00"/>
<path d="M327 2217l10-5-7 2-10 6z" fill="#acff00"/>
<path d="M343 2210l10-6-6 2-10 6z" fill="#bfff00"/>
<path d="M353 2204l10-5-6 2-10 5z" fill="#ccff00"/>
<path d="M363 2199l10-5-7 2-9 5z" fill="#d9ff00"/>
<path d="M380 2191l10-5-7 3-10 5z" fill="#ecff00"/>
<path d="M390 2186l10-5-7 3-10 5z" fill="#f9ff00"/>
<path d="M535 2130l10-3-7 3-10 3z" fill="#ff7300"/>
<path d="M518 2136l10-3-7 2-10 3z" fill="#ff8600"/>
<path d="M508 2139l10-3-7 2-10 3z" fill="#ff8c00"/>
<path d="M481 2148l10-3-7 2-10 4z" fill="#ffa600"/>
<path d="M464 2155l10-4-7 3-10 3z" fill="#ffb300"/>
<path d="M454 2159l10-4-7 2-10 4z" fill="#ffbf00"/>
<path d="M444 2163l10-4-7 2-10 4z" fill="#ffc600"/>
<path d="M437 2165l10-4-7 3-10 4z" fill="#ffd200"/>
<path d="M427 2170l10-5-7 3-10 4z" fill="#ffd900"/>
<path d="M417 2174l10-4-7 2-10 5z" fill="#ffe500"/>
<path d="M400 2181l10-4-7 2-10 5z" fill="#fff900"/>
<path d="M297 2235l10-6-7 2-10 6z" fill="#80ff00"/>
<path d="M303 2234l10-7-6 2-10 6z" fill="#86ff00"/>
<path d="M313 2227l10-6-6 2-10 6z" fill="#99ff00"/>
<path d="M323 2221l10-6-6 2-10 6z" fill="#a6ff00"/>
<path d="M333 2215l10-5-6 2-10 5z" fill="#b3ff00"/>
<path d="M340 2213l10-5-7 2-10 5z" fill="#b9ff00"/>
<path d="M350 2208l10-6-7 2-10 6z" fill="#c6ff00"/>
<path d="M360 2202l10-5-7 2-10 5z" fill="#d2ff00"/>
<path d="M370 2197l10-6-7 3-10 5z" fill="#e5ff00"/>
<path d="M377 2195l10-6-7 2-10 6z" fill="#ecff00"/>
<path d="M387 2189l10-5-7 2-10 5z" fill="#f9ff00"/>
<path d="M596 2113l10-2-7 2-10 2z" fill="#ff4600"/>
<path d="M579 2117l10-2-7 2-10 3z" fill="#ff5300"/>
<path d="M569 2120l10-3-7 3-10 2z" fill="#ff5900"/>
<path d="M552 2125l10-3-7 2-10 3z" fill="#ff6600"/>
<path d="M542 2128l10-3-7 2-10 3z" fill="#ff6c00"/>
<path d="M525 2133l10-3-7 3-10 3z" fill="#ff8000"/>
<path d="M515 2137l10-4-7 3-10 3z" fill="#ff8600"/>
<path d="M498 2142l10-3-7 2-10 4z" fill="#ff9300"/>
<path d="M487 2146l11-4-7 3-10 3z" fill="#ff9f00"/>
<path d="M477 2150l10-4-6 2-10 4z" fill="#ffa600"/>
<path d="M471 2152l10-4-7 3-10 4z" fill="#ffac00"/>
<path d="M460 2157l11-5-7 3-10 4z" fill="#ffb900"/>
<path d="M450 2161l10-4-6 2-10 4z" fill="#ffbf00"/>
<path d="M434 2167l10-4-7 2-10 5z" fill="#ffd200"/>
<path d="M424 2172l10-5-7 3-10 4z" fill="#ffdf00"/>
<path d="M413 2177l11-5-7 2-10 5z" fill="#ffec00"/>
<path d="M407 2179l10-5-7 3-10 4z" fill="#fff200"/>
<path d="M397 2184l10-5-7 2-10 5z" fill="#fff900"/>
<path d="M310 2232l10-6-7 1-10 7z" fill="#8cff00"/>
<path d="M320 2226l10-6-7 1-10 6z" fill="#9fff00"/>
<path d="M330 2220l10-7-7 2-10 6z" fill="#acff00"/>
<path d="M347 2212l10-6-7 2-10 5z" fill="#bfff00"/>
<path d="M357 2206l10-6-7 2-10 6z" fill="#ccff00"/>
<path d="M367 2200l10-5-7 2-10 5z" fill="#dfff00"/>
<path d="M383 2193l10-6-6 2-10 6z" fill="#f2ff00"/>
<path d="M675 2097l10-2-7 2-10 1z" fill="#ff2000"/>
<path d="M640 2103l11-2-7 2-11 2zM630 2105l10-2-7 2-10 2z" fill="#ff3300"/>
<path d="M603 2111l10-2-7 2-10 2z" fill="#ff4600"/>
<path d="M586 2116l10-3-7 2-10 2z" fill="#ff4c00"/>
<path d="M576 2118l10-2-7 1-10 3z" fill="#ff5300"/>
<path d="M566 2121l10-3-7 2-10 3z" fill="#ff5900"/>
<path d="M559 2123l10-3-7 2-10 3z" fill="#ff6000"/>
<path d="M549 2126l10-3-7 2-10 3z" fill="#ff6600"/>
<path d="M538 2130l11-4-7 2-11 3z" fill="#ff7300"/>
<path d="M531 2131l11-3-7 2-10 3z" fill="#ff7900"/>
<path d="M521 2135l10-4-6 2-10 4z" fill="#ff8000"/>
<path d="M511 2139l10-4-6 2-11 3z" fill="#ff8600"/>
<path d="M504 2140l11-3-7 2-10 3z" fill="#ff8c00"/>
<path d="M494 2144l10-4-6 2-11 4z" fill="#ff9900"/>
<path d="M484 2149l10-5-7 2-10 4z" fill="#ff9f00"/>
<path d="M467 2155l10-5-6 2-11 5z" fill="#ffb300"/>
<path d="M457 2159l10-4-7 2-10 4z" fill="#ffb900"/>
<path d="M447 2164l10-5-7 2-10 4z" fill="#ffc600"/>
<path d="M440 2165l10-4-6 2-10 4z" fill="#ffcc00"/>
<path d="M430 2170l10-5-6 2-10 5z" fill="#ffd900"/>
<path d="M420 2175l10-5-6 2-11 5z" fill="#ffe500"/>
<path d="M403 2182l10-5-6 2-10 5zM410 2181l10-6-7 2-10 5z" fill="#fff200"/>
<path d="M393 2187l10-5-6 2-10 5z" fill="#ffff00"/>
<path d="M317 2231l10-6-7 1-10 6z" fill="#93ff00"/>
<path d="M327 2225l10-7-7 2-10 6z" fill="#9fff00"/>
<path d="M337 2218l10-6-7 1-10 7z" fill="#b3ff00"/>
<path d="M343 2217l10-6-6 1-10 6z" fill="#b9ff00"/>
<path d="M353 2211l10-6-6 1-10 6z" fill="#c6ff00"/>
<path d="M363 2205l10-6-6 1-10 6z" fill="#d2ff00"/>
<path d="M373 2199l10-6-6 2-10 5z" fill="#dfff00"/>
<path d="M380 2197l10-5-7 1-10 6z" fill="#e5ff00"/>
<path d="M390 2192l10-6-7 1-10 6z" fill="#f2ff00"/>
<path d="M737 2089l10-1-7 1-10 1z" fill="#ff0d00"/>
<path d="M709 2092l11-1-7 1-11 1z" fill="#ff1300"/>
<path d="M682 2096l10-2-7 1-10 2z" fill="#ff1a00"/>
<path d="M665 2098l10-1-7 1-10 2z" fill="#ff2000"/>
<path d="M654 2100l11-2-7 2-11 2z" fill="#ff2600"/>
<path d="M647 2102l11-2-7 1-11 2zM637 2104l10-2-7 1-10 2z" fill="#ff2d00"/>
<path d="M627 2106l10-2-7 1-10 2z" fill="#ff3300"/>
<path d="M620 2107l10-2-7 2-10 2z" fill="#ff3900"/>
<path d="M610 2110l10-3-7 2-10 2z" fill="#ff4000"/>
<path d="M600 2113l10-3-7 1-10 3z" fill="#ff4600"/>
<path d="M593 2114l10-3-7 2-10 3z" fill="#ff4c00"/>
<path d="M583 2117l10-3-7 2-10 2z" fill="#ff5300"/>
<path d="M572 2120l11-3-7 1-10 3z" fill="#ff5900"/>
<path d="M555 2125l11-4-7 2-10 3z" fill="#ff6600"/>
<path d="M545 2128l10-3-6 1-11 4z" fill="#ff6c00"/>
<path d="M528 2133l10-3-7 1-10 4z" fill="#ff7900"/>
<path d="M518 2137l10-4-7 2-10 4z" fill="#ff8600"/>
<path d="M508 2141l10-4-7 2-10 4z" fill="#ff8c00"/>
<path d="M501 2143l10-4-7 1-10 4z" fill="#ff9300"/>
<path d="M491 2147l10-4-7 1-10 5z" fill="#ff9900"/>
<path d="M481 2152l10-5-7 2-10 4z" fill="#ffa600"/>
<path d="M474 2153l10-4-7 1-10 5z" fill="#ffac00"/>
<path d="M464 2158l10-5-7 2-10 4z" fill="#ffb300"/>
<path d="M454 2162l10-4-7 1-10 5z" fill="#ffbf00"/>
<path d="M444 2167l10-5-7 2-10 5z" fill="#ffcc00"/>
<path d="M437 2169l10-5-7 1-10 5z" fill="#ffd200"/>
<path d="M427 2174l10-5-7 1-10 5z" fill="#ffdf00"/>
<path d="M417 2179l10-5-7 1-10 6z" fill="#ffec00"/>
<path d="M400 2186l10-5-7 1-10 5z" fill="#ffff00"/>
<path d="M1366 2243l11 6-8-4-10-6z" fill="#66ff00"/>
<path d="M1348 2233l11 6-8-4-10-5z" fill="#80ff00"/>
<path d="M1341 2230l10 5-7-3-11-6z" fill="#86ff00"/>
<path d="M323 2230l10-6-6 1-10 6z" fill="#99ff00"/>
<path d="M333 2224l10-7-6 1-10 7z" fill="#a6ff00"/>
<path d="M340 2223l10-7-7 1-10 7z" fill="#acff00"/>
<path d="M350 2216l10-6-7 1-10 6zM1305 2211l10 6-7-4-11-5z" fill="#b9ff00"/>
<path d="M360 2210l10-6-7 1-10 6zM1287 2203l10 5-7-3-10-6z" fill="#ccff00"/>
<path d="M370 2204l10-7-7 2-10 6z" fill="#d9ff00"/>
<path d="M1269 2194l11 5-8-3-10-5zM377 2203l10-6-7 0-10 7z" fill="#dfff00"/>
<path d="M1262 2191l10 5-7-3-11-5z" fill="#e5ff00"/>
<path d="M387 2197l10-6-7 1-10 5z" fill="#ecff00"/>
<path d="M397 2191l10-6-7 1-10 6zM1251 2186l11 5-8-3-10-5z" fill="#f9ff00"/>
<path d="M779 2086l10-1-7 1-10 0z" fill="#ff0000"/>
<path d="M744 2088l10-1-7 1-10 1zM869 2086l10 1-7 0-10-1zM751 2088l10-1-7 0-10 1z" fill="#ff0600"/>
<path d="M716 2091l11-1-7 1-11 1zM734 2089l10-1-7 1-10 1z" fill="#ff0d00"/>
<path d="M699 2093l10-1-7 1-10 1zM706 2092l10-1-7 1-10 1z" fill="#ff1300"/>
<path d="M689 2095l10-2-7 1-10 2zM679 2097l10-2-7 1-10 1z" fill="#ff1a00"/>
<path d="M672 2097l10-1-7 1-10 1z" fill="#ff2000"/>
<path d="M661 2100l11-3-7 1-11 2zM651 2102l10-2-7 0-10 3z" fill="#ff2600"/>
<path d="M644 2103l10-3-7 2-10 2z" fill="#ff2d00"/>
<path d="M634 2105l10-2-7 1-10 2z" fill="#ff3300"/>
<path d="M617 2109l10-3-7 1-10 3zM624 2108l10-3-7 1-10 3z" fill="#ff3900"/>
<path d="M607 2112l10-3-7 1-10 3z" fill="#ff4000"/>
<path d="M596 2115l11-3-7 1-10 3z" fill="#ff4600"/>
<path d="M590 2116l10-3-7 1-10 3z" fill="#ff4c00"/>
<path d="M579 2119l11-3-7 1-11 3z" fill="#ff5300"/>
<path d="M569 2123l10-4-7 1-10 4z" fill="#ff5900"/>
<path d="M562 2124l10-4-6 1-11 4z" fill="#ff6000"/>
<path d="M552 2127l10-3-7 1-10 3z" fill="#ff6600"/>
<path d="M535 2132l10-4-7 2-10 3zM542 2131l10-4-7 1-10 4z" fill="#ff7300"/>
<path d="M1101 2129l11 4-8-2-10-4z" fill="#ff7900"/>
<path d="M525 2136l10-4-7 1-10 4z" fill="#ff8000"/>
<path d="M515 2140l10-4-7 1-10 4z" fill="#ff8600"/>
<path d="M1137 2141l10 4-7-2-10-4z" fill="#ff9300"/>
<path d="M498 2146l10-5-7 2-10 4z" fill="#ff9900"/>
<path d="M488 2151l10-5-7 1-10 5z" fill="#ff9f00"/>
<path d="M478 2155l10-4-7 1-10 4z" fill="#ffac00"/>
<path d="M471 2156l10-4-7 1-10 5z" fill="#ffb300"/>
<path d="M461 2161l10-5-7 2-10 4z" fill="#ffbf00"/>
<path d="M451 2166l10-5-7 1-10 5z" fill="#ffc600"/>
<path d="M434 2173l10-6-7 2-10 5z" fill="#ffd900"/>
<path d="M424 2178l10-5-7 1-10 5z" fill="#ffe500"/>
<path d="M414 2184l10-6-7 1-10 6z" fill="#fff200"/>
<path d="M407 2185l10-6-7 2-10 5z" fill="#fff900"/>
<path d="M1244 2183l10 5-7-3-11-5z" fill="#ffff00"/>
<path d="M1399 2261l10 6-7-4-11-6z" fill="#39ff00"/>
<path d="M1391 2257l11 6-7-4-11-6z" fill="#46ff00"/>
<path d="M1381 2251l10 6-7-4-11-6z" fill="#53ff00"/>
<path d="M1373 2247l11 6-7-4-11-6z" fill="#60ff00"/>
<path d="M1363 2242l10 5-7-4-10-6z" fill="#6cff00"/>
<path d="M1356 2237l10 6-7-4-11-6z" fill="#79ff00"/>
<path d="M1338 2228l10 5-7-3-11-6z" fill="#8cff00"/>
<path d="M1330 2224l11 6-8-4-10-6zM330 2230l10-7-7 1-10 6z" fill="#99ff00"/>
<path d="M336 2229l11-7-7 1-10 7z" fill="#9fff00"/>
<path d="M1320 2219l10 5-7-4-11-5z" fill="#a6ff00"/>
<path d="M347 2222l10-6-7 0-10 7z" fill="#acff00"/>
<path d="M1302 2210l10 5-7-4-11-5z" fill="#b9ff00"/>
<path d="M357 2216l10-7-7 1-10 6z" fill="#bfff00"/>
<path d="M1294 2206l11 5-8-3-10-5z" fill="#c6ff00"/>
<path d="M367 2209l10-6-7 1-10 6z" fill="#ccff00"/>
<path d="M373 2209l10-7-6 1-10 6zM1284 2201l10 5-7-3-11-5z" fill="#d2ff00"/>
<path d="M1276 2198l11 5-7-4-11-5z" fill="#d9ff00"/>
<path d="M383 2202l10-6-6 1-10 6z" fill="#dfff00"/>
<path d="M393 2196l10-6-6 1-10 6z" fill="#ecff00"/>
<path d="M1259 2189l10 5-7-3-11-5z" fill="#f2ff00"/>
<path d="M859 2086l10 0-7 0-10-1zM786 2086l10-1-7 0-10 1zM848 2085l11 1-7-1-11 0zM775 2087l11-1-7 0-11 1z" fill="#ff0000"/>
<path d="M768 2087l11-1-7 0-11 1zM741 2089l10-1-7 0-10 1zM894 2088l10 1-7-1-10-1zM758 2088l10-1-7 0-10 1zM866 2086l10 1-7-1-10 0z" fill="#ff0600"/>
<path d="M904 2089l10 1-7-1-10-1zM723 2091l11-2-7 1-11 1zM911 2090l11 1-8-1-10-1zM730 2090l11-1-7 0-11 2z" fill="#ff0d00"/>
<path d="M696 2094l10-2-7 1-10 2zM713 2092l10-1-7 0-10 1zM929 2092l10 1-7-1-10-1zM703 2094l10-2-7 0-10 2z" fill="#ff1300"/>
<path d="M939 2093l11 1-8 0-10-2zM686 2096l10-2-7 1-10 2zM946 2094l11 1-7-1-11-1z" fill="#ff1a00"/>
<path d="M668 2099l11-2-7 0-11 3zM957 2095l10 2-7-1-10-2zM675 2099l11-3-7 1-11 2z" fill="#ff2000"/>
<path d="M974 2098l11 2-7-1-11-2zM658 2102l10-3-7 1-10 2z" fill="#ff2600"/>
<path d="M985 2100l10 2-7-1-10-2zM641 2105l10-3-7 1-10 2zM992 2101l10 3-7-2-10-2z" fill="#ff2d00"/>
<path d="M1002 2104l11 2-7-1-11-3zM631 2108l10-3-7 0-10 3zM1010 2105l10 2-7-1-11-2z" fill="#ff3300"/>
<path d="M1020 2107l10 3-7-1-10-3zM614 2111l10-3-7 1-10 3zM1027 2109l11 2-8-1-10-3z" fill="#ff4000"/>
<path d="M1038 2111l10 3-7-1-11-3zM603 2114l11-3-7 1-11 3z" fill="#ff4600"/>
<path d="M1045 2113l10 3-7-2-10-3z" fill="#ff4c00"/>
<path d="M586 2118l10-3-6 1-11 3z" fill="#ff5300"/>
<path d="M576 2122l10-4-7 1-10 4zM1063 2118l10 3-7-2-11-3z" fill="#ff5900"/>
<path d="M566 2126l10-4-7 1-10 3z" fill="#ff6000"/>
<path d="M559 2126l10-3-7 1-10 3zM1080 2123l11 3-7-2-11-3z" fill="#ff6600"/>
<path d="M1091 2126l10 3-7-2-10-3zM549 2131l10-5-7 1-10 4z" fill="#ff6c00"/>
<path d="M1098 2128l11 3-8-2-10-3z" fill="#ff7300"/>
<path d="M532 2135l10-4-7 1-10 4zM1109 2131l10 4-7-2-11-4zM539 2135l10-4-7 0-10 4z" fill="#ff7900"/>
<path d="M1116 2134l10 3-7-2-10-4z" fill="#ff8000"/>
<path d="M522 2140l10-5-7 1-10 4z" fill="#ff8600"/>
<path d="M1126 2137l11 4-7-2-11-4zM1134 2140l10 3-7-2-11-4z" fill="#ff8c00"/>
<path d="M505 2145l10-5-7 1-10 5zM511 2144l11-4-7 0-10 5z" fill="#ff9300"/>
<path d="M1144 2143l11 4-8-2-10-4z" fill="#ff9900"/>
<path d="M495 2150l10-5-7 1-10 5zM1151 2146l11 3-7-2-11-4z" fill="#ff9f00"/>
<path d="M1162 2149l10 5-7-3-10-4zM484 2155l11-5-7 1-10 4z" fill="#ffac00"/>
<path d="M1169 2152l11 4-8-2-10-5z" fill="#ffb300"/>
<path d="M467 2160l11-5-7 1-10 5zM1180 2156l10 4-7-2-11-4z" fill="#ffb900"/>
<path d="M1187 2159l11 4-8-3-10-4z" fill="#ffbf00"/>
<path d="M457 2166l10-6-6 1-10 5z" fill="#ffc600"/>
<path d="M1198 2163l10 5-7-3-11-5z" fill="#ffcc00"/>
<path d="M440 2172l11-6-7 1-10 6zM1205 2166l10 5-7-3-10-5zM447 2171l10-5-6 0-11 6z" fill="#ffd200"/>
<path d="M1215 2171l11 4-7-3-11-4z" fill="#ffdf00"/>
<path d="M430 2177l10-5-6 1-10 5zM1223 2174l10 4-7-3-11-4z" fill="#ffe500"/>
<path d="M1233 2178l11 5-8-3-10-5zM420 2183l10-6-6 1-10 6z" fill="#fff200"/>
<path d="M1241 2181l10 5-7-3-11-5z" fill="#fff900"/>
<path d="M403 2190l11-6-7 1-10 6zM410 2189l10-6-6 1-11 6z" fill="#ffff00"/>
<path d="M1414 2270l10 6-7-5-11-5z" fill="#26ff00"/>
<path d="M1406 2266l11 5-8-4-10-6z" fill="#33ff00"/>
<path d="M1396 2260l10 6-7-5-11-5z" fill="#40ff00"/>
<path d="M1388 2256l11 5-8-4-10-6z" fill="#4cff00"/>
<path d="M1370 2246l11 5-8-4-10-5z" fill="#66ff00"/>
<path d="M1352 2236l11 6-7-5-11-5z" fill="#79ff00"/>
<path d="M1345 2232l11 5-8-4-10-5z" fill="#86ff00"/>
<path d="M1334 2227l11 5-7-4-11-5z" fill="#93ff00"/>
<path d="M1327 2223l11 5-8-4-10-5zM343 2229l10-7-6 0-11 7z" fill="#9fff00"/>
<path d="M1316 2218l11 5-7-4-11-5z" fill="#acff00"/>
<path d="M1309 2214l11 5-8-4-10-5zM353 2222l10-7-6 1-10 6z" fill="#b3ff00"/>
<path d="M363 2215l10-6-6 0-10 7z" fill="#bfff00"/>
<path d="M1291 2205l11 5-8-4-10-5z" fill="#ccff00"/>
<path d="M380 2209l10-7-7 0-10 7z" fill="#d2ff00"/>
<path d="M390 2202l10-6-7 0-10 6zM1273 2197l11 4-8-3-10-5z" fill="#dfff00"/>
<path d="M1266 2193l10 5-7-4-10-5z" fill="#e5ff00"/>
<path d="M400 2196l10-7-7 1-10 6zM1255 2188l11 5-7-4-11-4zM407 2196l10-7-7 0-10 7z" fill="#f2ff00"/>
<path d="M838 2085l10 0-7 0-10 0zM793 2086l10-1-7 0-10 1zM856 2086l10 0-7 0-11-1zM810 2086l11-1-8 0-10 0zM783 2087l10-1-7 0-11 1zM828 2086l10-1-7 0-10 0zM845 2086l11 0-8-1-10 0zM800 2087l10-1-7-1-10 1z" fill="#ff0000"/>
<path d="M883 2087l11 1-7-1-11 0zM748 2089l10-1-7 0-10 1zM765 2088l10-1-7 0-10 1zM873 2087l10 0-7 0-10-1zM891 2088l10 1-7-1-11-1zM755 2089l10-1-7 0-10 1z" fill="#ff0600"/>
<path d="M901 2089l10 1-7-1-10-1zM720 2092l10-2-7 1-10 1zM918 2091l11 1-7-1-11-1zM738 2091l10-2-7 0-11 1zM908 2090l10 1-7-1-10-1zM727 2092l11-1-8-1-10 2z" fill="#ff0d00"/>
<path d="M936 2093l10 1-7-1-10-1zM710 2094l10-2-7 0-10 2z" fill="#ff1300"/>
<path d="M693 2096l10-2-7 0-10 2zM954 2095l10 2-7-2-11-1z" fill="#ff1a00"/>
<path d="M964 2097l10 1-7-1-10-2zM682 2099l11-3-7 0-11 3zM971 2098l11 2-8-2-10-1z" fill="#ff2000"/>
<path d="M982 2100l10 1-7-1-11-2zM665 2101l10-2-7 0-10 3z" fill="#ff2600"/>
<path d="M648 2104l10-2-7 0-10 3zM655 2104l10-3-7 1-10 2zM989 2101l10 2-7-2-10-1z" fill="#ff2d00"/>
<path d="M999 2103l11 2-8-1-10-3zM638 2107l10-3-7 1-10 3zM1006 2105l11 2-7-2-11-2z" fill="#ff3300"/>
<path d="M621 2111l10-3-7 0-10 3zM1017 2107l10 2-7-2-10-2zM627 2111l11-4-7 1-10 3z" fill="#ff3900"/>
<path d="M1024 2109l11 2-8-2-10-2z" fill="#ff4000"/>
<path d="M610 2114l11-3-7 0-11 3zM1035 2111l10 2-7-2-11-2z" fill="#ff4600"/>
<path d="M593 2118l10-4-7 1-10 3zM1052 2115l11 3-8-2-10-3zM600 2118l10-4-7 0-10 4z" fill="#ff4c00"/>
<path d="M583 2122l10-4-7 0-10 4zM1070 2120l10 3-7-2-10-3z" fill="#ff5900"/>
<path d="M573 2126l10-4-7 0-10 4z" fill="#ff6000"/>
<path d="M1088 2125l10 3-7-2-11-3z" fill="#ff6600"/>
<path d="M556 2130l10-4-7 0-10 5z" fill="#ff6c00"/>
<path d="M1105 2131l11 3-7-3-11-3zM546 2135l10-5-7 1-10 4z" fill="#ff7900"/>
<path d="M528 2139l11-4-7 0-10 5zM1123 2136l11 4-8-3-10-3z" fill="#ff8600"/>
<path d="M518 2144l10-5-6 1-11 4z" fill="#ff8c00"/>
<path d="M1141 2142l10 4-7-3-10-3z" fill="#ff9300"/>
<path d="M501 2149l10-5-6 1-10 5zM508 2149l10-5-7 0-10 5z" fill="#ff9900"/>
<path d="M491 2154l10-5-6 1-11 5zM1159 2149l10 3-7-3-11-3z" fill="#ffa600"/>
<path d="M481 2160l10-6-7 1-10 5z" fill="#ffb300"/>
<path d="M474 2160l10-5-6 0-11 5zM1177 2155l10 4-7-3-11-4z" fill="#ffb900"/>
<path d="M464 2165l10-5-7 0-10 6zM1194 2162l11 4-7-3-11-4z" fill="#ffc600"/>
<path d="M454 2171l10-6-7 1-10 5zM1202 2166l10 3-7-3-11-4z" fill="#ffd200"/>
<path d="M1212 2169l11 5-8-3-10-5z" fill="#ffd900"/>
<path d="M437 2177l10-6-7 1-10 5zM444 2177l10-6-7 0-10 6z" fill="#ffdf00"/>
<path d="M1220 2173l10 4-7-3-11-5z" fill="#ffe500"/>
<path d="M1230 2177l11 4-8-3-10-4zM427 2183l10-6-7 0-10 6z" fill="#ffec00"/>
<path d="M1237 2181l11 4-7-4-11-4z" fill="#fff900"/>
<path d="M417 2189l10-6-7 0-10 6z" fill="#ffff00"/>
<path d="M1429 2280l10 6-7-5-11-6z" fill="#13ff00"/>
<path d="M1421 2275l11 6-8-5-10-6z" fill="#1aff00"/>
<path d="M1410 2270l11 5-7-5-11-5z" fill="#2dff00"/>
<path d="M1403 2265l11 5-8-4-10-6z" fill="#33ff00"/>
<path d="M1385 2255l11 5-8-4-10-6z" fill="#4cff00"/>
<path d="M1378 2250l10 6-7-5-11-5z" fill="#59ff00"/>
<path d="M1367 2245l11 5-8-4-10-5z" fill="#66ff00"/>
<path d="M1360 2241l10 5-7-4-11-6z" fill="#73ff00"/>
<path d="M1349 2236l11 5-8-5-10-5z" fill="#80ff00"/>
<path d="M1342 2231l10 5-7-4-11-5z" fill="#8cff00"/>
<path d="M1331 2227l11 4-8-4-10-5z" fill="#99ff00"/>
<path d="M1324 2222l10 5-7-4-11-5zM350 2230l10-7-7-1-10 7z" fill="#9fff00"/>
<path d="M360 2223l10-8-7 0-10 7z" fill="#b3ff00"/>
<path d="M1306 2213l10 5-7-4-10-5z" fill="#b9ff00"/>
<path d="M370 2215l10-6-7 0-10 6zM1299 2209l10 5-7-4-11-5z" fill="#bfff00"/>
<path d="M377 2216l10-7-7 0-10 6z" fill="#c6ff00"/>
<path d="M1288 2205l11 4-8-4-10-4z" fill="#ccff00"/>
<path d="M387 2209l10-7-7 0-10 7z" fill="#d2ff00"/>
<path d="M1281 2201l10 4-7-4-11-4z" fill="#d9ff00"/>
<path d="M397 2202l10-6-7 0-10 6zM1270 2196l11 5-8-4-10-5z" fill="#e5ff00"/>
<path d="M1263 2192l10 5-7-4-11-5z" fill="#ecff00"/>
<path d="M414 2196l10-7-7 0-10 7z" fill="#f2ff00"/>
<path d="M1252 2188l11 4-8-4-10-4z" fill="#f9ff00"/>
<path d="M817 2087l11-1-7-1-11 1zM835 2087l10-1-7-1-10 1zM807 2087l10 0-7-1-10 1zM824 2088l11-1-7-1-11 1z" fill="#ff0000"/>
<path d="M863 2087l10 0-7-1-10 0zM772 2088l11-1-8 0-10 1zM880 2088l11 0-8-1-10 0zM790 2088l10-1-7-1-10 1zM762 2090l10-2-7 0-10 1zM852 2087l11 0-7-1-11 0zM870 2088l10 0-7-1-10 0zM779 2089l11-1-7-1-11 1zM887 2090l11 0-7-2-11 0zM842 2088l10-1-7-1-10 1zM797 2089l10-2-7 0-10 1z" fill="#ff0600"/>
<path d="M745 2091l10-2-7 0-10 2zM898 2090l10 0-7-1-10-1zM915 2091l11 1-8-1-10-1zM734 2093l11-2-7 0-11 1zM752 2092l10-2-7-1-10 2z" fill="#ff0d00"/>
<path d="M926 2092l10 1-7-1-11-1zM717 2095l10-3-7 0-10 2zM933 2094l10 0-7-1-10-1z" fill="#ff1300"/>
<path d="M700 2097l10-3-7 0-10 2zM943 2094l11 1-8-1-10-1zM707 2097l10-2-7-1-10 3zM950 2096l11 1-7-2-11-1z" fill="#ff1a00"/>
<path d="M961 2097l10 1-7-1-10-2zM689 2099l11-2-7-1-11 3zM968 2099l10 1-7-2-10-1z" fill="#ff2000"/>
<path d="M672 2102l10-3-7 0-10 2zM978 2100l11 1-7-1-11-2zM679 2102l10-3-7 0-10 3z" fill="#ff2600"/>
<path d="M996 2103l10 2-7-2-10-2zM662 2105l10-3-7-1-10 3zM986 2102l10 1-7-2-11-1z" fill="#ff2d00"/>
<path d="M645 2107l10-3-7 0-10 3zM652 2108l10-3-7-1-10 3z" fill="#ff3300"/>
<path d="M634 2111l11-4-7 0-11 4zM1014 2107l10 2-7-2-11-2z" fill="#ff3900"/>
<path d="M1031 2111l11 2-7-2-11-2zM624 2115l10-4-7 0-10 3z" fill="#ff4000"/>
<path d="M1042 2113l10 2-7-2-10-2zM617 2114l10-3-6 0-11 3z" fill="#ff4600"/>
<path d="M607 2118l10-4-7 0-10 4zM1049 2115l11 3-8-3-10-2z" fill="#ff4c00"/>
<path d="M1060 2118l10 2-7-2-11-3zM590 2122l10-4-7 0-10 4zM597 2122l10-4-7 0-10 4z" fill="#ff5300"/>
<path d="M1067 2120l10 2-7-2-10-2z" fill="#ff5900"/>
<path d="M1077 2122l11 3-8-2-10-3zM580 2126l10-4-7 0-10 4z" fill="#ff6000"/>
<path d="M1085 2125l10 3-7-3-11-3z" fill="#ff6600"/>
<path d="M563 2130l10-4-7 0-10 4zM1095 2128l10 3-7-3-10-3zM569 2130l11-4-7 0-10 4z" fill="#ff6c00"/>
<path d="M552 2135l11-5-7 0-10 5zM1102 2131l11 2-8-2-10-3z" fill="#ff7300"/>
<path d="M535 2139l11-4-7 0-11 4zM1113 2133l10 3-7-2-11-3zM542 2139l10-4-6 0-11 4z" fill="#ff8000"/>
<path d="M1120 2136l11 3-8-3-10-3z" fill="#ff8600"/>
<path d="M1131 2139l10 3-7-2-11-4zM525 2144l10-5-7 0-10 5z" fill="#ff8c00"/>
<path d="M1138 2142l10 3-7-3-10-3z" fill="#ff9300"/>
<path d="M1148 2145l11 4-8-3-10-4zM515 2149l10-5-7 0-10 5z" fill="#ff9900"/>
<path d="M498 2154l10-5-7 0-10 5zM1156 2148l10 4-7-3-11-4zM505 2155l10-6-7 0-10 5z" fill="#ffa600"/>
<path d="M1166 2152l11 3-8-3-10-3z" fill="#ffac00"/>
<path d="M488 2160l10-6-7 0-10 6zM1173 2155l11 3-7-3-11-3z" fill="#ffb300"/>
<path d="M1184 2158l10 4-7-3-10-4zM471 2165l10-5-7 0-10 5zM478 2166l10-6-7 0-10 5z" fill="#ffbf00"/>
<path d="M1191 2162l11 4-8-4-10-4z" fill="#ffc600"/>
<path d="M461 2171l10-6-7 0-10 6z" fill="#ffcc00"/>
<path d="M1209 2169l11 4-8-4-10-3z" fill="#ffd900"/>
<path d="M451 2177l10-6-7 0-10 6z" fill="#ffdf00"/>
<path d="M434 2183l10-6-7 0-10 6zM1227 2177l10 4-7-4-10-4zM441 2183l10-6-7 0-10 6z" fill="#ffec00"/>
<path d="M424 2189l10-6-7 0-10 6z" fill="#fff900"/>
<path d="M1245 2184l10 4-7-3-11-4z" fill="#ffff00"/>
<path d="M1418 2275l11 5-8-5-11-5z" fill="#20ff00"/>
<path d="M1400 2265l10 5-7-5-11-5z" fill="#39ff00"/>
<path d="M1392 2260l11 5-7-5-11-5z" fill="#46ff00"/>
<path d="M1382 2255l10 5-7-5-11-5z" fill="#53ff00"/>
<path d="M1374 2250l11 5-7-5-11-5z" fill="#60ff00"/>
<path d="M1364 2246l10 4-7-5-10-4z" fill="#6cff00"/>
<path d="M1357 2241l10 4-7-4-11-5z" fill="#73ff00"/>
<path d="M1339 2231l10 5-7-5-11-4z" fill="#8cff00"/>
<path d="M356 2230l10-7-6 0-10 7z" fill="#9fff00"/>
<path d="M1321 2222l10 5-7-5-11-4z" fill="#a6ff00"/>
<path d="M1313 2218l11 4-8-4-10-5z" fill="#acff00"/>
<path d="M366 2223l11-7-7-1-10 8zM373 2224l10-8-6 0-11 7z" fill="#b3ff00"/>
<path d="M1303 2214l10 4-7-5-11-4z" fill="#b9ff00"/>
<path d="M1295 2209l11 4-7-4-11-4zM383 2216l10-7-6 0-10 7z" fill="#c6ff00"/>
<path d="M1285 2205l10 4-7-4-11-4z" fill="#ccff00"/>
<path d="M393 2209l10-6-6-1-10 7z" fill="#d2ff00"/>
<path d="M1277 2201l11 4-7-4-11-5z" fill="#d9ff00"/>
<path d="M403 2203l11-7-7 0-10 6zM410 2203l10-7-6 0-11 7z" fill="#e5ff00"/>
<path d="M1259 2192l11 4-7-4-11-4z" fill="#ecff00"/>
<path d="M420 2196l10-6-6-1-10 7z" fill="#f2ff00"/>
<path d="M859 2089l11-1-7-1-11 0zM769 2091l10-2-7-1-10 2zM814 2089l10-1-7-1-10 0zM877 2090l10 0-7-2-10 0zM786 2090l11-1-7-1-11 1zM832 2089l10-1-7-1-11 1zM849 2089l10 0-7-2-10 1zM804 2090l10-1-7-2-10 2zM866 2090l11 0-7-2-11 1zM821 2090l11-1-8-1-10 1z" fill="#ff0600"/>
<path d="M905 2091l10 0-7-1-10 0zM894 2091l11 0-7-1-11 0zM759 2093l10-2-7-1-10 2zM776 2092l10-2-7-1-10 2zM884 2092l10-1-7-1-10 0z" fill="#ff0d00"/>
<path d="M724 2095l10-2-7-1-10 3zM922 2093l11 1-7-2-11-1zM741 2094l11-2-7-1-11 2zM912 2093l10 0-7-2-10 0zM731 2096l10-2-7-1-10 2zM748 2095l11-2-7-1-11 2z" fill="#ff1300"/>
<path d="M940 2095l10 1-7-2-10 0zM714 2098l10-3-7 0-10 2zM930 2095l10 0-7-1-11-1z" fill="#ff1a00"/>
<path d="M696 2100l11-3-7 0-11 2zM958 2098l10 1-7-2-11-1zM703 2101l11-3-7-1-11 3zM947 2098l11 0-8-2-10-1z" fill="#ff2000"/>
<path d="M975 2101l11 1-8-2-10-1zM686 2103l10-3-7-1-10 3z" fill="#ff2600"/>
<path d="M669 2105l10-3-7 0-10 3zM993 2104l10 2-7-3-10-1zM676 2106l10-3-7-1-10 3z" fill="#ff2d00"/>
<path d="M1003 2106l11 1-8-2-10-2zM659 2109l10-4-7 0-10 3z" fill="#ff3300"/>
<path d="M641 2111l11-3-7-1-11 4zM1010 2108l11 1-7-2-11-1zM648 2112l11-3-7-1-11 3z" fill="#ff3900"/>
<path d="M1021 2109l10 2-7-2-10-2z" fill="#ff4000"/>
<path d="M1039 2114l10 1-7-2-11-2zM631 2115l10-4-7 0-10 4zM1028 2112l11 2-8-3-10-2z" fill="#ff4600"/>
<path d="M614 2118l10-3-7-1-10 4zM1046 2116l10 2-7-3-10-1zM621 2119l10-4-7 0-10 3z" fill="#ff4c00"/>
<path d="M1056 2118l11 2-7-2-11-3zM604 2123l10-5-7 0-10 4z" fill="#ff5300"/>
<path d="M1064 2121l10 2-7-3-11-2z" fill="#ff5900"/>
<path d="M587 2126l10-4-7 0-10 4zM1074 2123l11 2-8-3-10-2zM593 2127l11-4-7-1-10 4z" fill="#ff6000"/>
<path d="M1081 2126l11 2-7-3-11-2z" fill="#ff6600"/>
<path d="M1092 2128l10 3-7-3-10-3zM576 2131l11-5-7 0-11 4z" fill="#ff6c00"/>
<path d="M559 2135l10-5-6 0-11 5zM1099 2131l11 3-8-3-10-3zM566 2136l10-5-7-1-10 5z" fill="#ff7300"/>
<path d="M1110 2134l10 2-7-3-11-2z" fill="#ff7900"/>
<path d="M549 2140l10-5-7 0-10 4z" fill="#ff8000"/>
<path d="M1117 2137l10 2-7-3-10-2z" fill="#ff8600"/>
<path d="M532 2145l10-6-7 0-10 5zM1127 2139l11 3-7-3-11-3zM539 2145l10-5-7-1-10 6z" fill="#ff8c00"/>
<path d="M1135 2143l10 2-7-3-11-3z" fill="#ff9300"/>
<path d="M1145 2145l11 3-8-3-10-3zM522 2150l10-5-7-1-10 5z" fill="#ff9900"/>
<path d="M1152 2149l11 3-7-4-11-3z" fill="#ff9f00"/>
<path d="M512 2155l10-5-7-1-10 6z" fill="#ffa600"/>
<path d="M1163 2152l10 3-7-3-10-4z" fill="#ffac00"/>
<path d="M495 2160l10-5-7-1-10 6zM1170 2155l11 4-8-4-10-3z" fill="#ffb300"/>
<path d="M1181 2159l10 3-7-4-11-3z" fill="#ffb900"/>
<path d="M484 2166l11-6-7 0-10 6z" fill="#ffbf00"/>
<path d="M1188 2162l11 4-8-4-10-3z" fill="#ffc600"/>
<path d="M468 2172l10-6-7-1-10 6zM1199 2166l10 3-7-3-11-4zM474 2172l10-6-6 0-10 6z" fill="#ffcc00"/>
<path d="M1206 2169l10 4-7-4-10-3z" fill="#ffd900"/>
<path d="M1216 2173l11 4-7-4-11-4zM457 2178l11-6-7-1-10 6z" fill="#ffdf00"/>
<path d="M1224 2177l10 3-7-3-11-4z" fill="#ffe500"/>
<path d="M447 2184l10-6-6-1-10 6z" fill="#ffec00"/>
<path d="M1234 2180l11 4-8-3-10-4z" fill="#fff200"/>
<path d="M430 2190l11-7-7 0-10 6zM437 2190l10-6-6-1-11 7z" fill="#fff900"/>
<path d="M1242 2184l10 4-7-4-11-4z" fill="#ffff00"/>
<path d="M1407 2270l11 5-8-5-10-5z" fill="#2dff00"/>
<path d="M1397 2266l10 4-7-5-11-5z" fill="#39ff00"/>
<path d="M1389 2260l11 5-8-5-10-5z" fill="#46ff00"/>
<path d="M1379 2256l10 4-7-5-11-4z" fill="#53ff00"/>
<path d="M1371 2251l11 4-8-5-10-4z" fill="#60ff00"/>
<path d="M1353 2241l11 5-7-5-11-5z" fill="#79ff00"/>
<path d="M1346 2236l11 5-8-5-10-5z" fill="#80ff00"/>
<path d="M1335 2232l11 4-7-5-11-4z" fill="#8cff00"/>
<path d="M1328 2227l11 4-8-4-10-5z" fill="#99ff00"/>
<path d="M363 2231l10-7-7-1-10 7zM370 2232l10-7-7-1-10 7z" fill="#9fff00"/>
<path d="M1317 2223l11 4-7-5-11-4z" fill="#a6ff00"/>
<path d="M1310 2218l11 4-8-4-10-4z" fill="#acff00"/>
<path d="M380 2225l10-8-7-1-10 8z" fill="#b3ff00"/>
<path d="M1299 2214l11 4-7-4-11-4z" fill="#b9ff00"/>
<path d="M390 2217l10-7-7-1-10 7zM1292 2210l11 4-8-5-10-4z" fill="#c6ff00"/>
<path d="M400 2210l10-7-7 0-10 6zM407 2211l10-7-7-1-10 7z" fill="#d2ff00"/>
<path d="M1274 2201l11 4-8-4-10-4z" fill="#d9ff00"/>
<path d="M1267 2197l10 4-7-5-11-4zM417 2204l10-7-7-1-10 7z" fill="#e5ff00"/>
<path d="M1256 2193l11 4-8-5-10-3z" fill="#ecff00"/>
<path d="M427 2197l10-7-7 0-10 6z" fill="#f2ff00"/>
<path d="M1249 2189l10 3-7-4-10-4z" fill="#f9ff00"/>
<path d="M839 2090l10-1-7-1-10 1z" fill="#ff0600"/>
<path d="M793 2092l11-2-7-1-11 1zM766 2094l10-2-7-1-10 2zM856 2091l10-1-7-1-10 0zM811 2091l10-1-7-1-10 1zM874 2092l10 0-7-2-11 0zM783 2093l10-1-7-2-10 2zM828 2092l11-2-7-1-11 1zM846 2092l10-1-7-2-10 1zM800 2093l11-2-7-1-11 2zM863 2093l11-1-8-2-10 1zM818 2093l10-1-7-2-10 1z" fill="#ff0d00"/>
<path d="M902 2093l10 0-7-2-11 0zM919 2095l11 0-8-2-10 0zM891 2094l11-1-8-2-10 1zM755 2096l11-2-7-1-11 2zM909 2095l10 0-7-2-10 0zM773 2096l10-3-7-1-10 2z" fill="#ff1300"/>
<path d="M721 2099l10-3-7-1-10 3zM738 2098l10-3-7-1-10 2zM937 2097l10 1-7-3-10 0zM926 2098l11-1-7-2-11 0z" fill="#ff1a00"/>
<path d="M710 2102l11-3-7-1-11 3zM954 2100l11 0-7-2-11 0zM728 2100l10-2-7-2-10 3z" fill="#ff2000"/>
<path d="M965 2100l10 1-7-2-10-1zM693 2104l10-3-7-1-10 3zM700 2105l10-3-7-1-10 3z" fill="#ff2600"/>
<path d="M982 2104l11 0-7-2-11-1zM683 2107l10-3-7-1-10 3zM972 2103l10 1-7-3-10-1z" fill="#ff2d00"/>
<path d="M1000 2107l10 1-7-2-10-2zM665 2110l11-4-7-1-10 4zM990 2106l10 1-7-3-11 0z" fill="#ff3300"/>
<path d="M1007 2110l11 1-8-3-10-1zM672 2111l11-4-7-1-11 4z" fill="#ff3900"/>
<path d="M1018 2111l10 1-7-3-11-1zM655 2113l10-3-6-1-11 3z" fill="#ff4000"/>
<path d="M638 2116l10-4-7-1-10 4zM1025 2114l10 1-7-3-10-1z" fill="#ff4600"/>
<path d="M1035 2115l11 1-7-2-11-2zM628 2120l10-4-7-1-10 4z" fill="#ff4c00"/>
<path d="M1053 2119l11 2-8-3-10-2zM1043 2118l10 1-7-3-11-1z" fill="#ff5300"/>
<path d="M611 2124l10-5-7-1-10 5zM1060 2123l11 1-7-3-11-2z" fill="#ff5900"/>
<path d="M1071 2124l10 2-7-3-10-2zM600 2128l11-4-7-1-11 4z" fill="#ff6000"/>
<path d="M583 2132l10-5-6-1-11 5zM1089 2129l10 2-7-3-11-2zM590 2133l10-5-7-1-10 5z" fill="#ff6c00"/>
<path d="M573 2137l10-5-7-1-10 5z" fill="#ff7300"/>
<path d="M1106 2135l11 2-7-3-11-3z" fill="#ff7900"/>
<path d="M556 2141l10-5-7-1-10 5zM563 2142l10-5-7-1-10 5z" fill="#ff8000"/>
<path d="M1124 2140l11 3-8-4-10-2zM546 2146l10-5-7-1-10 5z" fill="#ff8c00"/>
<path d="M529 2151l10-6-7 0-10 5zM1142 2146l10 3-7-4-10-2zM535 2152l11-6-7-1-10 6z" fill="#ff9900"/>
<path d="M518 2156l11-5-7-1-10 5z" fill="#ffa600"/>
<path d="M1160 2153l10 2-7-3-11-3z" fill="#ffac00"/>
<path d="M501 2161l11-6-7 0-10 5zM508 2162l10-6-6-1-11 6zM1167 2157l10 2-7-4-10-2z" fill="#ffb300"/>
<path d="M1177 2159l11 3-7-3-11-4z" fill="#ffb900"/>
<path d="M491 2167l10-6-6-1-11 6z" fill="#ffbf00"/>
<path d="M1185 2163l10 3-7-4-11-3z" fill="#ffc600"/>
<path d="M1195 2166l11 3-7-3-11-4zM481 2173l10-6-7-1-10 6z" fill="#ffcc00"/>
<path d="M1203 2170l10 3-7-4-11-3z" fill="#ffd900"/>
<path d="M464 2178l10-6-6 0-11 6zM1213 2173l11 4-8-4-10-4zM471 2179l10-6-7-1-10 6z" fill="#ffdf00"/>
<path d="M1220 2178l11 3-7-4-11-4z" fill="#ffe500"/>
<path d="M454 2185l10-7-7 0-10 6z" fill="#ffec00"/>
<path d="M1231 2181l11 3-8-4-10-3z" fill="#fff200"/>
<path d="M444 2191l10-6-7-1-10 6zM1238 2185l11 4-7-5-11-3z" fill="#fff900"/>
<path d="M1386 2261l11 5-8-6-10-4z" fill="#46ff00"/>
<path d="M1368 2252l11 4-8-5-10-5z" fill="#60ff00"/>
<path d="M1361 2246l10 5-7-5-11-5z" fill="#6cff00"/>
<path d="M1350 2242l11 4-8-5-10-4z" fill="#79ff00"/>
<path d="M1343 2237l10 4-7-5-11-4z" fill="#80ff00"/>
<path d="M1332 2233l11 4-8-5-10-4z" fill="#8cff00"/>
<path d="M1325 2228l10 4-7-5-11-4z" fill="#99ff00"/>
<path d="M376 2234l10-8-6-1-10 7z" fill="#9fff00"/>
<path d="M1314 2224l11 4-8-5-10-4z" fill="#a6ff00"/>
<path d="M1307 2219l10 4-7-5-11-4z" fill="#acff00"/>
<path d="M386 2226l11-7-7-2-10 8z" fill="#b3ff00"/>
<path d="M397 2219l10-8-7-1-10 7zM403 2220l10-7-6-2-10 8z" fill="#bfff00"/>
<path d="M1289 2211l10 3-7-4-11-4z" fill="#c6ff00"/>
<path d="M1281 2206l11 4-7-5-11-4zM413 2213l11-8-7-1-10 7z" fill="#d2ff00"/>
<path d="M1271 2202l10 4-7-5-10-3z" fill="#d9ff00"/>
<path d="M424 2205l10-7-7-1-10 7z" fill="#dfff00"/>
<path d="M1264 2198l10 3-7-4-11-4z" fill="#e5ff00"/>
<path d="M1253 2194l11 4-8-5-10-3z" fill="#ecff00"/>
<path d="M434 2198l10-7-7-1-10 7zM440 2200l11-7-7-2-10 7z" fill="#f2ff00"/>
<path d="M1246 2190l10 3-7-4-11-4z" fill="#f9ff00"/>
<path d="M835 2094l11-2-7-2-11 2z" fill="#ff0d00"/>
<path d="M881 2094l10 0-7-2-10 0zM790 2095l10-2-7-1-10 1zM898 2096l11-1-7-2-11 1zM853 2094l10-1-7-2-10 1zM807 2095l11-2-7-2-11 2zM870 2095l11-1-7-2-11 1zM825 2095l10-1-7-2-10 1zM842 2096l11-2-7-2-11 2zM797 2097l10-2-7-2-10 2z" fill="#ff1300"/>
<path d="M745 2099l10-3-7-1-10 3zM762 2098l11-2-7-2-11 2zM916 2098l10 0-7-3-10 0zM780 2098l10-3-7-2-10 3zM888 2097l10-1-7-2-10 0zM905 2099l11-1-7-3-11 1z" fill="#ff1a00"/>
<path d="M944 2100l10 0-7-2-10-1zM735 2102l10-3-7-1-10 2zM933 2100l11 0-7-3-11 1zM752 2101l10-3-7-2-10 3z" fill="#ff2000"/>
<path d="M961 2103l11 0-7-3-11 0zM717 2103l11-3-7-1-11 3zM951 2103l10 0-7-3-10 0zM724 2105l11-3-7-2-11 3z" fill="#ff2600"/>
<path d="M707 2107l10-4-7-1-10 3zM969 2106l10 0-7-3-11 0z" fill="#ff2d00"/>
<path d="M979 2106l11 0-8-2-10-1zM690 2109l10-4-7-1-10 3zM697 2110l10-3-7-2-10 4z" fill="#ff3300"/>
<path d="M997 2109l10 1-7-3-10-1zM679 2112l11-3-7-2-11 4zM986 2109l11 0-7-3-11 0z" fill="#ff3900"/>
<path d="M662 2115l10-4-7-1-10 3zM1014 2113l11 1-7-3-11-1zM1004 2112l10 1-7-3-10-1z" fill="#ff4000"/>
<path d="M645 2117l10-4-7-1-10 4zM652 2119l10-4-7-2-10 4z" fill="#ff4600"/>
<path d="M1032 2117l11 1-8-3-10-1z" fill="#ff4c00"/>
<path d="M635 2122l10-5-7-1-10 4z" fill="#ff5300"/>
<path d="M617 2125l11-5-7-1-10 5zM1050 2121l10 2-7-4-10-1zM624 2126l11-4-7-2-11 5z" fill="#ff5900"/>
<path d="M1078 2128l11 1-8-3-10-2zM607 2129l10-4-6-1-11 4zM1067 2126l11 2-7-4-11-1z" fill="#ff6600"/>
<path d="M597 2134l10-5-7-1-10 5z" fill="#ff6c00"/>
<path d="M1085 2131l11 2-7-4-11-1z" fill="#ff7300"/>
<path d="M1096 2133l10 2-7-4-10-2zM580 2138l10-5-7-1-10 5z" fill="#ff7900"/>
<path d="M1103 2136l11 2-8-3-10-2z" fill="#ff8000"/>
<path d="M1114 2138l10 2-7-3-11-2zM570 2143l10-5-7-1-10 5z" fill="#ff8600"/>
<path d="M552 2147l11-5-7-1-10 5zM1121 2142l10 2-7-4-10-2z" fill="#ff8c00"/>
<path d="M1131 2144l11 2-7-3-11-3zM559 2149l11-6-7-1-11 5z" fill="#ff9300"/>
<path d="M542 2153l10-6-6-1-11 6zM1139 2148l10 2-7-4-11-2z" fill="#ff9900"/>
<path d="M1149 2150l11 3-8-4-10-3zM525 2157l10-5-6-1-11 5z" fill="#ffa600"/>
<path d="M1156 2154l11 3-7-4-11-3zM532 2159l10-6-7-1-10 5z" fill="#ffac00"/>
<path d="M515 2163l10-6-7-1-10 6z" fill="#ffb300"/>
<path d="M498 2168l10-6-7-1-10 6zM1174 2161l11 2-8-4-10-2z" fill="#ffbf00"/>
<path d="M505 2169l10-6-7-1-10 6z" fill="#ffc600"/>
<path d="M1192 2168l11 2-8-4-10-3z" fill="#ffcc00"/>
<path d="M488 2174l10-6-7-1-10 6z" fill="#ffd200"/>
<path d="M1210 2175l10 3-7-5-10-3zM478 2181l10-7-7-1-10 6z" fill="#ffdf00"/>
<path d="M461 2186l10-7-7-1-10 7zM467 2187l11-6-7-2-10 7zM1217 2179l11 3-8-4-10-3z" fill="#ffec00"/>
<path d="M1228 2182l10 3-7-4-11-3z" fill="#fff200"/>
<path d="M451 2193l10-7-7-1-10 6zM1235 2187l11 3-8-5-10-3z" fill="#ffff00"/>
<path d="M1375 2257l11 4-7-5-11-4z" fill="#53ff00"/>
<path d="M1365 2253l10 4-7-5-11-4z" fill="#60ff00"/>
<path d="M1357 2248l11 4-7-6-11-4z" fill="#6cff00"/>
<path d="M1347 2244l10 4-7-6-11-3z" fill="#73ff00"/>
<path d="M1339 2239l11 3-7-5-11-4z" fill="#80ff00"/>
<path d="M383 2235l10-7-7-2-10 8zM1321 2230l11 3-7-5-11-4z" fill="#99ff00"/>
<path d="M393 2228l10-8-6-1-11 7zM1303 2221l11 3-7-5-11-3zM400 2230l10-8-7-2-10 8z" fill="#acff00"/>
<path d="M1296 2216l11 3-8-5-10-3z" fill="#b9ff00"/>
<path d="M410 2222l10-8-7-1-10 7zM1285 2213l11 3-7-5-11-4z" fill="#bfff00"/>
<path d="M1278 2207l11 4-8-5-10-4zM420 2214l10-7-6-2-11 8z" fill="#ccff00"/>
<path d="M1268 2204l10 3-7-5-11-3z" fill="#d9ff00"/>
<path d="M430 2207l10-7-6-2-10 7zM437 2209l10-8-7-1-10 7z" fill="#dfff00"/>
<path d="M1260 2199l11 3-7-4-11-4z" fill="#e5ff00"/>
<path d="M447 2201l10-7-6-1-11 7zM1250 2197l10 2-7-5-11-2z" fill="#ecff00"/>
<path d="M1242 2192l11 2-7-4-11-3z" fill="#f9ff00"/>
<path d="M860 2097l10-2-7-2-10 1zM815 2097l10-2-7-2-11 2z" fill="#ff1300"/>
<path d="M769 2100l11-2-7-2-11 2zM877 2098l11-1-7-3-11 1zM787 2100l10-3-7-2-10 3zM832 2098l10-2-7-2-10 1zM849 2098l11-1-7-3-11 2zM804 2100l11-3-8-2-10 2zM867 2099l10-1-7-3-10 2zM822 2100l10-2-7-3-10 2zM839 2100l10-2-7-2-10 2z" fill="#ff1a00"/>
<path d="M923 2101l10-1-7-2-10 0zM895 2100l10-1-7-3-10 1zM759 2103l10-3-7-2-10 3zM912 2101l11 0-7-3-11 1zM776 2102l11-2-7-2-11 2zM884 2101l11-1-7-3-11 1zM794 2102l10-2-7-3-10 3z" fill="#ff2000"/>
<path d="M941 2103l10 0-7-3-11 0zM742 2104l10-3-7-2-10 3zM930 2104l11-1-8-3-10 1zM749 2106l10-3-7-2-10 3zM902 2103l10-2-7-2-10 1z" fill="#ff2600"/>
<path d="M958 2106l11 0-8-3-10 0zM714 2109l10-4-7-2-10 4zM731 2107l11-3-7-2-11 3zM948 2106l10 0-7-3-10 0z" fill="#ff2d00"/>
<path d="M976 2109l10 0-7-3-10 0zM965 2109l11 0-7-3-11 0zM721 2111l10-4-7-2-10 4z" fill="#ff3300"/>
<path d="M704 2112l10-3-7-2-10 3z" fill="#ff3900"/>
<path d="M669 2116l10-4-7-1-10 4zM686 2114l11-4-7-1-11 3zM993 2112l11 0-7-3-11 0zM983 2112l10 0-7-3-10 0z" fill="#ff4000"/>
<path d="M1011 2116l11 0-8-3-10-1zM676 2118l10-4-7-2-10 4z" fill="#ff4600"/>
<path d="M1022 2116l10 1-7-3-11-1zM659 2121l10-5-7-1-10 4z" fill="#ff4c00"/>
<path d="M642 2123l10-4-7-2-10 5zM1039 2120l11 1-7-3-11-1zM1029 2120l10 0-7-3-10-1z" fill="#ff5300"/>
<path d="M648 2125l11-4-7-2-10 4z" fill="#ff5900"/>
<path d="M1057 2125l10 1-7-3-10-2zM631 2128l11-5-7-1-11 4zM1046 2124l11 1-7-4-11-1z" fill="#ff6000"/>
<path d="M614 2131l10-5-7-1-10 4zM1064 2129l11 1-8-4-10-1zM621 2133l10-5-7-2-10 5z" fill="#ff6600"/>
<path d="M1075 2130l10 1-7-3-11-2z" fill="#ff6c00"/>
<path d="M604 2136l10-5-7-2-10 5zM1082 2134l10 1-7-4-10-1z" fill="#ff7300"/>
<path d="M587 2139l10-5-7-1-10 5zM1092 2135l11 1-7-3-11-2z" fill="#ff7900"/>
<path d="M1100 2139l10 1-7-4-11-1zM594 2141l10-5-7-2-10 5z" fill="#ff8000"/>
<path d="M1110 2140l11 2-7-4-11-2zM576 2145l11-6-7-1-10 5z" fill="#ff8600"/>
<path d="M566 2150l10-5-6-2-11 6zM1117 2145l11 1-7-4-11-2z" fill="#ff9300"/>
<path d="M1128 2146l11 2-8-4-10-2z" fill="#ff9900"/>
<path d="M549 2154l10-5-7-2-10 6zM1135 2150l11 2-7-4-11-2zM556 2156l10-6-7-1-10 5z" fill="#ff9f00"/>
<path d="M1146 2152l10 2-7-4-10-2z" fill="#ffa600"/>
<path d="M539 2160l10-6-7-1-10 6zM1153 2157l11 2-8-5-10-2z" fill="#ffac00"/>
<path d="M1164 2159l10 2-7-4-11-3z" fill="#ffb300"/>
<path d="M522 2165l10-6-7-2-10 6zM529 2167l10-7-7-1-10 6z" fill="#ffb900"/>
<path d="M1171 2163l10 2-7-4-10-2z" fill="#ffbf00"/>
<path d="M1181 2165l11 3-7-5-11-2zM512 2171l10-6-7-2-10 6z" fill="#ffc600"/>
<path d="M495 2176l10-7-7-1-10 6zM1189 2170l10 2-7-4-11-3zM501 2178l11-7-7-2-10 7z" fill="#ffd200"/>
<path d="M1199 2172l11 3-7-5-11-2z" fill="#ffd900"/>
<path d="M484 2182l11-6-7-2-10 7zM1207 2177l10 2-7-4-11-3z" fill="#ffdf00"/>
<path d="M1224 2184l11 3-7-5-11-3zM474 2189l10-7-6-1-11 6z" fill="#fff200"/>
<path d="M457 2194l10-7-6-1-10 7zM464 2196l10-7-7-2-10 7z" fill="#ffff00"/>
<path d="M1354 2250l11 3-8-5-10-4z" fill="#66ff00"/>
<path d="M1336 2241l11 3-8-5-10-4z" fill="#80ff00"/>
<path d="M1329 2235l10 4-7-6-11-3z" fill="#8cff00"/>
<path d="M1318 2232l11 3-8-5-10-4zM396 2240l10-8-6-2-10 7z" fill="#93ff00"/>
<path d="M390 2237l10-7-7-2-10 7z" fill="#99ff00"/>
<path d="M1311 2226l10 4-7-6-11-3z" fill="#9fff00"/>
<path d="M406 2232l11-8-7-2-10 8z" fill="#a6ff00"/>
<path d="M1300 2223l11 3-8-5-10-3z" fill="#acff00"/>
<path d="M1293 2218l10 3-7-5-11-3zM417 2224l10-8-7-2-10 8zM423 2226l11-8-7-2-10 8z" fill="#b9ff00"/>
<path d="M1282 2215l11 3-8-5-10-3z" fill="#bfff00"/>
<path d="M434 2218l10-7-7-2-10 7z" fill="#c6ff00"/>
<path d="M427 2216l10-7-7-2-10 7zM1275 2210l10 3-7-6-10-3z" fill="#ccff00"/>
<path d="M1264 2207l11 3-7-6-11-2z" fill="#d2ff00"/>
<path d="M444 2211l10-8-7-2-10 8z" fill="#d9ff00"/>
<path d="M1257 2202l11 2-8-5-10-2z" fill="#dfff00"/>
<path d="M461 2206l10-8-7-2-10 7z" fill="#e5ff00"/>
<path d="M454 2203l10-7-7-2-10 7z" fill="#ecff00"/>
<path d="M1239 2194l11 3-8-5-10-3z" fill="#f2ff00"/>
<path d="M471 2198l10-7-7-2-10 7z" fill="#f9ff00"/>
<path d="M857 2101l10-2-7-2-11 1zM811 2102l11-2-7-3-11 3zM874 2102l10-1-7-3-10 1zM829 2103l10-3-7-2-10 2zM846 2103l11-2-8-3-10 2z" fill="#ff2000"/>
<path d="M766 2105l10-3-7-2-10 3zM920 2105l10-1-7-3-11 0zM783 2105l11-3-7-2-11 2zM892 2104l10-1-7-3-11 1zM801 2105l10-3-7-2-10 2zM864 2104l10-2-7-3-10 2zM818 2105l11-2-7-3-11 2zM881 2106l11-2-8-3-10 1zM836 2106l10-3-7-3-10 3z" fill="#ff2600"/>
<path d="M937 2107l11-1-7-3-11 1zM756 2109l10-4-7-2-10 3zM909 2106l11-1-8-4-10 2zM927 2108l10-1-7-3-10 1zM773 2108l10-3-7-3-10 3zM790 2108l11-3-7-3-11 3z" fill="#ff2d00"/>
<path d="M738 2110l11-4-7-2-11 3zM955 2110l10-1-7-3-10 0zM944 2110l11 0-7-4-11 1zM745 2112l11-3-7-3-11 4z" fill="#ff3300"/>
<path d="M711 2115l10-4-7-2-10 3zM728 2113l10-3-7-3-10 4z" fill="#ff3900"/>
<path d="M693 2116l11-4-7-2-11 4zM972 2113l11-1-7-3-11 0zM962 2113l10 0-7-4-10 1zM718 2117l10-4-7-2-10 4z" fill="#ff4000"/>
<path d="M1001 2116l10 0-7-4-11 0zM990 2116l11 0-8-4-10 0zM700 2119l11-4-7-3-11 4z" fill="#ff4600"/>
<path d="M683 2121l10-5-7-2-10 4zM1008 2119l10 0-7-3-10 0z" fill="#ff4c00"/>
<path d="M666 2123l10-5-7-2-10 5zM1018 2119l11 1-7-4-11 0zM673 2125l10-4-7-3-10 5z" fill="#ff5300"/>
<path d="M1036 2124l10 0-7-4-10 0zM655 2127l11-4-7-2-11 4zM1025 2123l11 1-7-4-11-1z" fill="#ff5900"/>
<path d="M638 2130l10-5-6-2-11 5z" fill="#ff6000"/>
<path d="M1054 2128l10 1-7-4-11-1zM1043 2128l11 0-8-4-10 0zM645 2132l10-5-7-2-10 5z" fill="#ff6600"/>
<path d="M628 2135l10-5-7-2-10 5zM1061 2132l10 1-7-4-10-1z" fill="#ff6c00"/>
<path d="M611 2138l10-5-7-2-10 5zM1071 2133l11 1-7-4-11-1z" fill="#ff7300"/>
<path d="M618 2140l10-5-7-2-10 5zM1079 2137l10 1-7-4-11-1z" fill="#ff7900"/>
<path d="M1089 2138l11 1-8-4-10-1zM600 2143l11-5-7-2-10 5z" fill="#ff8000"/>
<path d="M1096 2142l11 1-7-4-11-1z" fill="#ff8600"/>
<path d="M583 2147l11-6-7-2-11 6zM1107 2143l10 2-7-5-10-1zM590 2149l10-6-6-2-11 6z" fill="#ff8c00"/>
<path d="M1125 2149l10 1-7-4-11-1zM573 2153l10-6-7-2-10 5zM1114 2148l11 1-8-4-10-2z" fill="#ff9900"/>
<path d="M563 2159l10-6-7-3-10 6zM1132 2153l10 2-7-5-10-1z" fill="#ffa600"/>
<path d="M1142 2155l11 2-7-5-11-2z" fill="#ffac00"/>
<path d="M546 2162l10-6-7-2-10 6zM1150 2160l10 1-7-4-11-2z" fill="#ffb300"/>
<path d="M1160 2161l11 2-7-4-11-2z" fill="#ffb900"/>
<path d="M535 2169l11-7-7-2-10 7z" fill="#ffbf00"/>
<path d="M1168 2166l10 2-7-5-11-2z" fill="#ffc600"/>
<path d="M518 2173l11-6-7-2-10 6zM1178 2168l11 2-8-5-10-2zM525 2175l10-6-6-2-11 6z" fill="#ffcc00"/>
<path d="M1185 2172l11 2-7-4-11-2z" fill="#ffd200"/>
<path d="M1196 2174l11 3-8-5-10-2zM508 2180l10-7-6-2-11 7z" fill="#ffd900"/>
<path d="M491 2184l10-6-6-2-11 6zM1203 2179l11 3-7-5-11-3zM498 2186l10-6-7-2-10 6z" fill="#ffe500"/>
<path d="M1214 2182l10 2-7-5-10-2z" fill="#ffec00"/>
<path d="M481 2191l10-7-7-2-10 7z" fill="#fff200"/>
<path d="M1221 2187l11 2-8-5-10-2z" fill="#fff900"/>
<path d="M1232 2189l10 3-7-5-11-3z" fill="#ffff00"/>
<path d="M1343 2246l11 4-7-6-11-3z" fill="#73ff00"/>
<path d="M1333 2244l10 2-7-5-11-3z" fill="#79ff00"/>
<path d="M1325 2238l11 3-7-6-11-3z" fill="#86ff00"/>
<path d="M403 2242l10-8-7-2-10 8zM1315 2235l10 3-7-6-11-3z" fill="#93ff00"/>
<path d="M1307 2229l11 3-7-6-11-3zM420 2237l10-8-7-3-10 8z" fill="#9fff00"/>
<path d="M413 2234l10-8-6-2-11 8zM1297 2226l10 3-7-6-11-2z" fill="#a6ff00"/>
<path d="M1289 2221l11 2-7-5-11-3zM430 2229l10-8-6-3-11 8z" fill="#b3ff00"/>
<path d="M440 2221l10-8-6-2-10 7zM1271 2213l11 2-7-5-11-3z" fill="#c6ff00"/>
<path d="M457 2216l10-8-6-2-11 7z" fill="#d2ff00"/>
<path d="M450 2213l11-7-7-3-10 8zM1254 2205l10 2-7-5-11-3z" fill="#d9ff00"/>
<path d="M1246 2199l11 3-7-5-11-3zM467 2208l11-7-7-3-10 8z" fill="#e5ff00"/>
<path d="M1236 2197l10 2-7-5-11-2z" fill="#ecff00"/>
<path d="M478 2201l10-7-7-3-10 7z" fill="#f2ff00"/>
<path d="M1228 2192l11 2-7-5-11-2z" fill="#f9ff00"/>
<path d="M899 2107l10-1-7-3-10 1zM853 2106l11-2-7-3-11 2zM808 2108l10-3-7-3-10 3zM871 2108l10-2-7-4-10 2zM825 2108l11-2-7-3-11 2zM843 2109l10-3-7-3-10 3z" fill="#ff2d00"/>
<path d="M763 2111l10-3-7-3-10 4zM916 2109l11-1-7-3-11 1zM780 2111l10-3-7-3-10 3zM888 2109l11-2-7-3-11 2zM797 2111l11-3-7-3-11 3zM906 2111l10-2-7-3-10 1zM860 2110l11-2-7-4-11 2zM815 2111l10-3-7-3-10 3zM878 2111l10-2-7-3-10 2z" fill="#ff3300"/>
<path d="M934 2111l10-1-7-3-10 1zM752 2115l11-4-7-2-11 3zM770 2114l10-3-7-3-10 3zM923 2113l11-2-7-3-11 1z" fill="#ff3900"/>
<path d="M735 2116l10-4-7-2-10 3zM951 2114l11-1-7-3-11 0zM941 2115l10-1-7-4-10 1z" fill="#ff4000"/>
<path d="M980 2116l10 0-7-4-11 1zM969 2117l11-1-8-3-10 0zM724 2120l11-4-7-3-10 4zM742 2119l10-4-7-3-10 4z" fill="#ff4600"/>
<path d="M690 2123l10-4-7-3-10 5zM997 2120l11-1-7-3-11 0zM707 2121l11-4-7-2-11 4zM987 2120l10 0-7-4-10 0z" fill="#ff4c00"/>
<path d="M697 2126l10-5-7-2-10 4z" fill="#ff5300"/>
<path d="M1015 2123l10 0-7-4-10 0zM680 2128l10-5-7-2-10 4zM1004 2124l11-1-7-4-11 1z" fill="#ff5900"/>
<path d="M662 2130l11-5-7-2-11 4zM1033 2127l10 1-7-4-11-1zM1022 2128l11-1-8-4-10 0z" fill="#ff6000"/>
<path d="M669 2133l11-5-7-3-11 5z" fill="#ff6600"/>
<path d="M1050 2132l11 0-7-4-11 0zM652 2135l10-5-7-3-10 5zM1040 2132l10 0-7-4-10-1z" fill="#ff6c00"/>
<path d="M635 2137l10-5-7-2-10 5z" fill="#ff7300"/>
<path d="M1068 2137l11 0-8-4-10-1zM642 2140l10-5-7-3-10 5zM1057 2136l11 1-7-5-11 0z" fill="#ff7900"/>
<path d="M624 2143l11-6-7-2-10 5z" fill="#ff8000"/>
<path d="M607 2146l11-6-7-2-11 5zM1086 2142l10 0-7-4-10-1zM1075 2141l11 1-7-5-11 0z" fill="#ff8600"/>
<path d="M614 2148l10-5-6-3-11 6z" fill="#ff8c00"/>
<path d="M1104 2147l10 1-7-5-11-1zM597 2151l10-5-7-3-10 6zM1093 2146l11 1-8-5-10 0z" fill="#ff9300"/>
<path d="M580 2155l10-6-7-2-10 6z" fill="#ff9900"/>
<path d="M1121 2152l11 1-7-4-11-1zM587 2157l10-6-7-2-10 6zM1111 2152l10 0-7-4-10-1z" fill="#ff9f00"/>
<path d="M570 2161l10-6-7-2-10 6zM1129 2157l10 1-7-5-11-1z" fill="#ffac00"/>
<path d="M552 2165l11-6-7-3-10 6zM1139 2158l11 2-8-5-10-2z" fill="#ffb300"/>
<path d="M559 2167l11-6-7-2-11 6zM1146 2163l11 1-7-4-11-2z" fill="#ffb900"/>
<path d="M1157 2164l11 2-8-5-10-1z" fill="#ffbf00"/>
<path d="M542 2171l10-6-6-3-11 7z" fill="#ffc600"/>
<path d="M1164 2169l11 2-7-5-11-2z" fill="#ffcc00"/>
<path d="M1175 2171l10 1-7-4-10-2zM532 2178l10-7-7-2-10 6z" fill="#ffd200"/>
<path d="M1182 2176l11 2-8-6-10-1z" fill="#ffd900"/>
<path d="M515 2182l10-7-7-2-10 7zM1193 2178l10 1-7-5-11-2zM522 2185l10-7-7-3-10 7z" fill="#ffdf00"/>
<path d="M505 2189l10-7-7-2-10 6zM1200 2183l10 2-7-6-10-1z" fill="#ffec00"/>
<path d="M1210 2185l11 2-7-5-11-3z" fill="#fff200"/>
<path d="M488 2194l10-8-7-2-10 7z" fill="#fff900"/>
<path d="M1218 2190l10 2-7-5-11-2zM494 2196l11-7-7-3-10 8z" fill="#ffff00"/>
<path d="M1322 2241l11 3-8-6-10-3zM416 2248l11-8-7-3-10 8z" fill="#86ff00"/>
<path d="M410 2245l10-8-7-3-10 8zM1311 2238l11 3-7-6-11-3z" fill="#8cff00"/>
<path d="M1304 2232l11 3-8-6-10-3zM427 2240l10-8-7-3-10 8z" fill="#99ff00"/>
<path d="M437 2232l10-8-7-3-10 8zM1286 2224l11 2-8-5-10-3z" fill="#acff00"/>
<path d="M1279 2218l10 3-7-6-11-2zM454 2227l10-8-7-3-10 8z" fill="#b9ff00"/>
<path d="M447 2224l10-8-7-3-10 8zM1268 2216l11 2-8-5-10-3z" fill="#bfff00"/>
<path d="M1261 2210l10 3-7-6-10-2zM464 2219l10-8-7-3-10 8z" fill="#ccff00"/>
<path d="M1250 2208l11 2-7-5-11-2z" fill="#d2ff00"/>
<path d="M1243 2203l11 2-8-6-10-2zM474 2211l10-8-6-2-11 7z" fill="#dfff00"/>
<path d="M1232 2201l11 2-7-6-11-2z" fill="#e5ff00"/>
<path d="M491 2206l10-7-7-3-10 7z" fill="#ecff00"/>
<path d="M484 2203l10-7-6-2-10 7zM1225 2195l11 2-8-5-10-2z" fill="#f2ff00"/>
<path d="M501 2199l10-7-6-3-11 7zM1214 2194l11 1-7-5-11-2z" fill="#f9ff00"/>
<path d="M832 2111l11-2-7-3-11 2zM850 2112l10-2-7-4-10 3z" fill="#ff3300"/>
<path d="M787 2114l10-3-7-3-10 3zM895 2113l11-2-7-4-11 2zM804 2114l11-3-7-3-11 3zM867 2113l11-2-7-3-11 2zM822 2114l10-3-7-3-10 3zM839 2115l11-3-7-3-11 2z" fill="#ff3900"/>
<path d="M759 2118l11-4-7-3-11 4zM913 2115l10-2-7-4-10 2zM930 2117l11-2-7-4-11 2zM777 2118l10-4-7-3-10 3zM885 2115l10-2-7-4-10 2zM794 2118l10-4-7-3-10 3zM902 2117l11-2-7-4-11 2zM857 2116l10-3-7-3-10 2zM811 2118l11-4-7-3-11 3zM874 2117l11-2-7-4-11 2z" fill="#ff4000"/>
<path d="M959 2118l10-1-7-4-11 1zM920 2119l10-2-7-4-10 2z" fill="#ff4600"/>
<path d="M976 2121l11-1-7-4-11 1zM731 2123l11-4-7-3-11 4zM948 2119l11-1-8-4-10 1zM749 2122l10-4-7-3-10 4zM766 2122l11-4-7-4-11 4zM938 2121l10-2-7-4-11 2z" fill="#ff4c00"/>
<path d="M714 2124l10-4-6-3-11 4zM966 2122l10-1-7-4-10 1zM738 2126l11-4-7-3-11 4z" fill="#ff5300"/>
<path d="M994 2124l10 0-7-4-10 0zM704 2129l10-5-7-3-10 5zM721 2128l10-5-7-3-10 4zM983 2125l11-1-7-4-11 1z" fill="#ff5900"/>
<path d="M686 2131l11-5-7-3-10 5zM1012 2128l10 0-7-5-11 1zM1001 2129l11-1-8-4-10 0z" fill="#ff6000"/>
<path d="M693 2134l11-5-7-3-11 5z" fill="#ff6600"/>
<path d="M1029 2132l11 0-7-5-11 1zM676 2136l10-5-6-3-11 5zM1019 2133l10-1-7-4-10 0z" fill="#ff6c00"/>
<path d="M659 2138l10-5-7-3-10 5zM1047 2136l10 0-7-4-10 0zM1036 2137l11-1-7-4-11 0z" fill="#ff7300"/>
<path d="M666 2141l10-5-7-3-10 5z" fill="#ff7900"/>
<path d="M1065 2141l10 0-7-4-11-1zM648 2143l11-5-7-3-10 5zM1054 2141l11 0-8-5-10 0z" fill="#ff8000"/>
<path d="M631 2146l11-6-7-3-11 6z" fill="#ff8600"/>
<path d="M1082 2146l11 0-7-4-11-1zM638 2149l10-6-6-3-11 6z" fill="#ff8c00"/>
<path d="M621 2151l10-5-7-3-10 5z" fill="#ff9300"/>
<path d="M604 2154l10-6-7-2-10 5zM1100 2151l11 1-7-5-11-1z" fill="#ff9900"/>
<path d="M611 2157l10-6-7-3-10 6z" fill="#ff9f00"/>
<path d="M593 2160l11-6-7-3-10 6zM1118 2157l11 0-8-5-10 0z" fill="#ffa600"/>
<path d="M576 2164l11-7-7-2-10 6z" fill="#ffac00"/>
<path d="M583 2167l10-7-6-3-11 7z" fill="#ffb300"/>
<path d="M1136 2162l10 1-7-5-10-1z" fill="#ffb900"/>
<path d="M566 2170l10-6-6-3-11 6z" fill="#ffbf00"/>
<path d="M549 2174l10-7-7-2-10 6zM1154 2168l10 1-7-5-11-1z" fill="#ffc600"/>
<path d="M556 2177l10-7-7-3-10 7z" fill="#ffcc00"/>
<path d="M539 2181l10-7-7-3-10 7zM1171 2175l11 1-7-5-11-2z" fill="#ffd900"/>
<path d="M546 2184l10-7-7-3-10 7z" fill="#ffdf00"/>
<path d="M1189 2181l11 2-7-5-11-2zM528 2188l11-7-7-3-10 7zM1179 2180l10 1-7-5-11-1z" fill="#ffe500"/>
<path d="M511 2192l11-7-7-3-10 7zM1196 2187l11 1-7-5-11-2z" fill="#fff200"/>
<path d="M1207 2188l11 2-8-5-10-2zM518 2195l10-7-6-3-11 7z" fill="#fff900"/>
<path d="M423 2252l10-9-6-3-11 8z" fill="#80ff00"/>
<path d="M433 2243l10-8-6-3-10 8zM1301 2236l10 2-7-6-11-2z" fill="#93ff00"/>
<path d="M1293 2230l11 2-7-6-11-2zM450 2238l10-8-6-3-11 8z" fill="#9fff00"/>
<path d="M443 2235l11-8-7-3-10 8zM1283 2228l10 2-7-6-11-2z" fill="#a6ff00"/>
<path d="M1275 2222l11 2-7-6-11-2zM460 2230l11-8-7-3-10 8z" fill="#b3ff00"/>
<path d="M1265 2220l10 2-7-6-11-2z" fill="#b9ff00"/>
<path d="M477 2225l10-8-6-3-10 8z" fill="#bfff00"/>
<path d="M1257 2214l11 2-7-6-11-2zM471 2222l10-8-7-3-10 8z" fill="#c6ff00"/>
<path d="M1247 2213l10 1-7-6-11-1z" fill="#ccff00"/>
<path d="M487 2217l11-7-7-4-10 8z" fill="#d2ff00"/>
<path d="M481 2214l10-8-7-3-10 8zM1239 2207l11 1-7-5-11-2z" fill="#d9ff00"/>
<path d="M1229 2205l10 2-7-6-10-1z" fill="#dfff00"/>
<path d="M498 2210l10-8-7-3-10 7z" fill="#e5ff00"/>
<path d="M1222 2200l10 1-7-6-11-1zM515 2205l10-7-7-3-10 7z" fill="#ecff00"/>
<path d="M508 2202l10-7-7-3-10 7zM1211 2198l11 2-8-6-10-1z" fill="#f2ff00"/>
<path d="M829 2118l10-3-7-4-10 3z" fill="#ff4000"/>
<path d="M784 2121l10-3-7-4-10 4zM892 2119l10-2-7-4-10 2zM846 2119l11-3-7-4-11 3zM801 2121l10-3-7-4-10 4zM864 2120l10-3-7-4-10 3z" fill="#ff4600"/>
<path d="M909 2121l11-2-7-4-11 2zM818 2122l11-4-7-4-11 4zM881 2121l11-2-7-4-11 2zM836 2122l10-3-7-4-10 3zM899 2123l10-2-7-4-10 2zM853 2123l11-3-7-4-11 3z" fill="#ff4c00"/>
<path d="M955 2124l11-2-7-4-11 1zM756 2126l10-4-7-4-10 4zM773 2125l11-4-7-3-11 4zM927 2123l11-2-8-4-10 2zM791 2125l10-4-7-3-10 3zM808 2125l10-3-7-4-10 3zM917 2125l10-2-7-4-11 2z" fill="#ff5300"/>
<path d="M973 2127l10-2-7-4-10 1zM945 2125l10-1-7-5-10 2zM763 2129l10-4-7-3-10 4z" fill="#ff5900"/>
<path d="M711 2132l10-4-7-4-10 5zM728 2131l10-5-7-3-10 5zM745 2130l11-4-7-4-11 4zM962 2128l11-1-7-5-11 2z" fill="#ff6000"/>
<path d="M990 2130l11-1-7-5-11 1zM980 2131l10-1-7-5-10 2zM735 2135l10-5-7-4-10 5z" fill="#ff6600"/>
<path d="M1008 2134l11-1-7-5-11 1zM700 2137l11-5-7-3-11 5zM718 2136l10-5-7-3-10 4zM998 2135l10-1-7-5-11 1z" fill="#ff6c00"/>
<path d="M683 2139l10-5-7-3-10 5z" fill="#ff7300"/>
<path d="M1026 2137l10 0-7-5-10 1zM690 2142l10-5-7-3-10 5zM1015 2138l11-1-7-4-11 1z" fill="#ff7900"/>
<path d="M673 2144l10-5-7-3-10 5zM1044 2142l10-1-7-5-11 1zM1033 2142l11 0-8-5-10 0z" fill="#ff8000"/>
<path d="M655 2146l11-5-7-3-11 5z" fill="#ff8600"/>
<path d="M1072 2146l10 0-7-5-10 0zM1061 2146l11 0-7-5-11 0zM662 2150l11-6-7-3-11 5z" fill="#ff8c00"/>
<path d="M645 2152l10-6-7-3-10 6z" fill="#ff9300"/>
<path d="M1090 2151l10 0-7-5-11 0zM628 2154l10-5-7-3-10 5zM1079 2151l11 0-8-5-10 0z" fill="#ff9900"/>
<path d="M635 2158l10-6-7-3-10 5z" fill="#ff9f00"/>
<path d="M1107 2156l11 1-7-5-11-1zM617 2161l11-7-7-3-10 6zM1097 2156l10 0-7-5-10 0z" fill="#ffa600"/>
<path d="M600 2163l11-6-7-3-11 6z" fill="#ffac00"/>
<path d="M1125 2162l11 0-7-5-11 0zM1115 2161l10 1-7-5-11-1zM607 2167l10-6-6-4-11 6z" fill="#ffb300"/>
<path d="M590 2170l10-7-7-3-10 7z" fill="#ffb900"/>
<path d="M1132 2167l11 1-7-6-11 0z" fill="#ffbf00"/>
<path d="M1143 2168l11 0-8-5-10-1zM573 2173l10-6-7-3-10 6z" fill="#ffc600"/>
<path d="M580 2177l10-7-7-3-10 6z" fill="#ffcc00"/>
<path d="M1161 2174l10 1-7-6-10-1zM563 2180l10-7-7-3-10 7zM1150 2173l11 1-7-6-11 0z" fill="#ffd200"/>
<path d="M1168 2179l11 1-8-5-10-1z" fill="#ffdf00"/>
<path d="M552 2187l11-7-7-3-10 7z" fill="#ffe500"/>
<path d="M535 2191l11-7-7-3-11 7z" fill="#ffec00"/>
<path d="M1186 2186l10 1-7-6-10-1zM542 2194l10-7-6-3-11 7z" fill="#fff200"/>
<path d="M1204 2193l10 1-7-6-11-1zM525 2198l10-7-7-3-10 7z" fill="#ffff00"/>
<path d="M430 2255l10-8-7-4-10 9z" fill="#79ff00"/>
<path d="M447 2250l10-8-7-4-10 9z" fill="#86ff00"/>
<path d="M440 2247l10-9-7-3-10 8z" fill="#8cff00"/>
<path d="M1290 2234l11 2-8-6-10-2zM457 2242l10-9-7-3-10 8z" fill="#99ff00"/>
<path d="M1279 2233l11 1-7-6-11-1z" fill="#9fff00"/>
<path d="M474 2237l10-8-7-4-10 8z" fill="#a6ff00"/>
<path d="M1272 2227l11 1-8-6-10-2zM467 2233l10-8-6-3-11 8z" fill="#acff00"/>
<path d="M1261 2225l11 2-7-7-11-1z" fill="#b3ff00"/>
<path d="M484 2229l10-8-7-4-10 8z" fill="#b9ff00"/>
<path d="M1254 2219l11 1-8-6-10-1z" fill="#bfff00"/>
<path d="M1243 2218l11 1-7-6-11-1z" fill="#c6ff00"/>
<path d="M494 2221l10-8-6-3-11 7z" fill="#ccff00"/>
<path d="M1236 2212l11 1-8-6-10-2zM511 2217l10-8-6-4-11 8zM1225 2211l11 1-7-7-11-1z" fill="#d2ff00"/>
<path d="M504 2213l11-8-7-3-10 8z" fill="#dfff00"/>
<path d="M1218 2204l11 1-7-5-11-2zM521 2209l11-8-7-3-10 7z" fill="#e5ff00"/>
<path d="M1200 2197l11 1-7-5-11-1zM539 2205l10-7-7-4-10 7z" fill="#f2ff00"/>
<path d="M532 2201l10-7-7-3-10 7z" fill="#f9ff00"/>
<path d="M871 2124l10-3-7-4-10 3zM825 2126l11-4-7-4-11 4zM888 2126l11-3-7-4-11 2zM843 2126l10-3-7-4-10 3z" fill="#ff5300"/>
<path d="M934 2127l11-2-7-4-11 2zM780 2129l11-4-7-4-11 4zM798 2129l10-4-7-4-10 4zM906 2128l11-3-8-4-10 2zM860 2127l11-3-7-4-11 3zM815 2129l10-3-7-4-10 3zM878 2129l10-3-7-5-10 3zM832 2130l11-4-7-4-11 4z" fill="#ff5900"/>
<path d="M952 2130l10-2-7-4-10 1zM924 2130l10-3-7-4-10 2zM895 2130l11-2-7-5-11 3zM850 2131l10-4-7-4-10 3z" fill="#ff6000"/>
<path d="M752 2134l11-5-7-3-11 4zM969 2133l11-2-7-4-11 1zM770 2133l10-4-7-4-10 4zM941 2132l11-2-7-5-11 2zM787 2133l11-4-7-4-11 4zM805 2133l10-4-7-4-10 4zM913 2132l11-2-7-5-11 3z" fill="#ff6600"/>
<path d="M959 2135l10-2-7-5-10 2zM759 2138l11-5-7-4-11 5z" fill="#ff6c00"/>
<path d="M707 2141l11-5-7-4-11 5zM725 2140l10-5-7-4-10 5zM987 2136l11-1-8-5-10 1zM742 2139l10-5-7-4-10 5zM976 2138l11-2-7-5-11 2z" fill="#ff7300"/>
<path d="M1005 2140l10-2-7-4-10 1zM994 2141l11-1-7-5-11 1zM731 2144l11-5-7-4-10 5z" fill="#ff7900"/>
<path d="M697 2146l10-5-7-4-10 5zM714 2145l11-5-7-4-11 5z" fill="#ff8000"/>
<path d="M680 2148l10-6-7-3-10 5zM1022 2144l11-2-7-5-11 1zM1012 2145l10-1-7-6-10 2z" fill="#ff8600"/>
<path d="M1051 2147l10-1-7-5-10 1zM1040 2148l11-1-7-5-11 0zM686 2152l11-6-7-4-10 6z" fill="#ff8c00"/>
<path d="M669 2154l11-6-7-4-11 6z" fill="#ff9300"/>
<path d="M1068 2151l11 0-7-5-11 0zM652 2156l10-6-7-4-10 6zM1058 2152l10-1-7-5-10 1z" fill="#ff9900"/>
<path d="M659 2159l10-5-7-4-10 6z" fill="#ff9f00"/>
<path d="M1086 2156l11 0-7-5-11 0zM642 2162l10-6-7-4-10 6zM1076 2157l10-1-7-5-11 0z" fill="#ffa600"/>
<path d="M624 2164l11-6-7-4-11 7z" fill="#ffac00"/>
<path d="M1104 2161l11 0-8-5-10 0zM1093 2162l11-1-7-5-11 0zM631 2168l11-6-7-4-11 6z" fill="#ffb300"/>
<path d="M614 2171l10-7-7-3-10 6z" fill="#ffb900"/>
<path d="M1122 2167l10 0-7-5-10-1zM1111 2167l11 0-7-6-11 0z" fill="#ffbf00"/>
<path d="M597 2173l10-6-7-4-10 7z" fill="#ffc600"/>
<path d="M1140 2173l10 0-7-5-11-1zM1129 2173l11 0-8-6-10 0zM604 2177l10-6-7-4-10 6z" fill="#ffcc00"/>
<path d="M587 2180l10-7-7-3-10 7z" fill="#ffd200"/>
<path d="M569 2183l11-6-7-4-10 7zM1147 2178l10 1-7-6-10 0z" fill="#ffd900"/>
<path d="M1157 2179l11 0-7-5-11-1zM576 2187l11-7-7-3-11 6z" fill="#ffdf00"/>
<path d="M1175 2185l11 1-7-6-11-1zM559 2190l10-7-6-3-11 7zM1165 2184l10 1-7-6-11 0z" fill="#ffec00"/>
<path d="M566 2194l10-7-7-4-10 7z" fill="#fff200"/>
<path d="M1182 2191l11 1-7-6-11-1zM549 2198l10-8-7-3-10 7z" fill="#fff900"/>
<path d="M1193 2192l11 1-8-6-10-1z" fill="#ffff00"/>
<path d="M443 2263l10-9-6-4-11 9z" fill="#6cff00"/>
<path d="M436 2259l11-9-7-3-10 8z" fill="#73ff00"/>
<path d="M453 2254l10-8-6-4-10 8z" fill="#80ff00"/>
<path d="M470 2250l10-9-6-4-11 9z" fill="#8cff00"/>
<path d="M463 2246l11-9-7-4-10 9z" fill="#93ff00"/>
<path d="M1268 2232l11 1-7-6-11-2zM480 2241l11-8-7-4-10 8z" fill="#9fff00"/>
<path d="M1258 2231l10 1-7-7-11-1z" fill="#a6ff00"/>
<path d="M491 2233l10-8-7-4-10 8zM1250 2224l11 1-7-6-11-1z" fill="#b3ff00"/>
<path d="M508 2229l10-8-7-4-10 8zM1240 2223l10 1-7-6-10-1z" fill="#b9ff00"/>
<path d="M501 2225l10-8-7-4-10 8zM1233 2217l10 1-7-6-11-1z" fill="#c6ff00"/>
<path d="M518 2221l10-8-7-4-10 8z" fill="#ccff00"/>
<path d="M1215 2210l10 1-7-7-11 0zM535 2217l10-8-6-4-11 8z" fill="#d9ff00"/>
<path d="M528 2213l11-8-7-4-11 8z" fill="#dfff00"/>
<path d="M1207 2204l11 0-7-6-11-1zM1197 2203l10 1-7-7-10 0z" fill="#e5ff00"/>
<path d="M545 2209l11-7-7-4-10 7z" fill="#ecff00"/>
<path d="M562 2206l11-8-7-4-10 8z" fill="#f2ff00"/>
<path d="M1190 2197l10 0-7-5-11-1zM556 2202l10-8-7-4-10 8zM1179 2197l11 0-8-6-10-1z" fill="#f9ff00"/>
<path d="M867 2132l11-3-7-5-11 3z" fill="#ff6000"/>
<path d="M822 2134l10-4-7-4-10 3zM885 2133l10-3-7-4-10 3zM839 2134l11-3-7-5-11 4zM857 2135l10-3-7-5-10 4z" fill="#ff6600"/>
<path d="M777 2138l10-5-7-4-10 4zM931 2135l10-3-7-5-10 3zM794 2138l11-5-7-4-11 4zM903 2135l10-3-7-4-11 2zM811 2138l11-4-7-5-10 4zM920 2137l11-2-7-5-11 2zM874 2137l11-4-7-4-11 3zM829 2138l10-4-7-4-10 4z" fill="#ff6c00"/>
<path d="M948 2137l11-2-7-5-11 2zM938 2140l10-3-7-5-10 3zM892 2138l11-3-8-5-10 3zM846 2139l11-4-7-4-11 3zM910 2140l10-3-7-5-10 3z" fill="#ff7300"/>
<path d="M749 2143l10-5-7-4-10 5zM966 2140l10-2-7-5-10 2zM766 2142l11-4-7-5-11 5zM784 2142l10-4-7-5-10 5zM955 2142l11-2-7-5-11 2zM801 2142l10-4-6-5-11 5z" fill="#ff7900"/>
<path d="M984 2143l10-2-7-5-11 2z" fill="#ff8000"/>
<path d="M721 2149l10-5-6-4-11 5zM1001 2147l11-2-7-5-11 1zM738 2148l11-5-7-4-11 5zM756 2147l10-5-7-4-10 5zM973 2145l11-2-8-5-10 2z" fill="#ff8600"/>
<path d="M704 2150l10-5-7-4-10 5zM1029 2149l11-1-7-6-11 2zM991 2149l10-2-7-6-10 2z" fill="#ff8c00"/>
<path d="M1019 2150l10-1-7-5-10 1zM711 2154l10-5-7-4-10 5zM728 2153l10-5-7-4-10 5z" fill="#ff9300"/>
<path d="M676 2158l10-6-6-4-11 6zM1047 2153l11-1-7-5-11 1zM693 2156l11-6-7-4-11 6zM1037 2154l10-1-7-5-11 1z" fill="#ff9900"/>
<path d="M700 2160l11-6-7-4-11 6z" fill="#ff9f00"/>
<path d="M1065 2158l11-1-8-6-10 1zM1054 2159l11-1-7-6-11 1zM683 2162l10-6-7-4-10 6z" fill="#ffa600"/>
<path d="M648 2166l11-7-7-3-10 6zM666 2164l10-6-7-4-10 5z" fill="#ffac00"/>
<path d="M1083 2162l10 0-7-6-10 1zM1072 2163l11-1-7-5-11 1z" fill="#ffb300"/>
<path d="M655 2170l11-6-7-5-11 7z" fill="#ffb900"/>
<path d="M1100 2167l11 0-7-6-11 1zM638 2172l10-6-6-4-11 6zM1090 2168l10-1-7-5-10 0z" fill="#ffbf00"/>
<path d="M621 2174l10-6-7-4-10 7z" fill="#ffc600"/>
<path d="M1118 2173l11 0-7-6-11 0zM1108 2173l10 0-7-6-11 0zM628 2179l10-7-7-4-10 6z" fill="#ffcc00"/>
<path d="M610 2181l11-7-7-3-10 6z" fill="#ffd200"/>
<path d="M593 2184l11-7-7-4-10 7zM1136 2178l11 0-7-5-11 0zM1125 2179l11-1-7-5-11 0z" fill="#ffd900"/>
<path d="M1154 2184l11 0-8-5-10-1zM1143 2184l11 0-7-6-11 0zM600 2188l10-7-6-4-11 7z" fill="#ffe500"/>
<path d="M583 2191l10-7-6-4-11 7z" fill="#ffec00"/>
<path d="M1172 2190l10 1-7-6-10-1zM573 2198l10-7-7-4-10 7zM1161 2190l11 0-7-6-11 0z" fill="#fff900"/>
<path d="M450 2267l10-8-7-5-10 9z" fill="#60ff00"/>
<path d="M467 2263l10-9-7-4-10 9z" fill="#6cff00"/>
<path d="M460 2259l10-9-7-4-10 8z" fill="#73ff00"/>
<path d="M477 2254l10-8-7-5-10 9z" fill="#80ff00"/>
<path d="M494 2250l10-8-7-5-10 9z" fill="#8cff00"/>
<path d="M487 2246l10-9-6-4-11 8z" fill="#93ff00"/>
<path d="M504 2242l10-9-6-4-11 8z" fill="#9fff00"/>
<path d="M497 2237l11-8-7-4-10 8zM1247 2230l11 1-8-7-10-1z" fill="#a6ff00"/>
<path d="M514 2233l11-8-7-4-10 8z" fill="#b3ff00"/>
<path d="M1229 2223l11 0-7-6-11-1zM531 2230l11-9-7-4-10 8z" fill="#b9ff00"/>
<path d="M525 2225l10-8-7-4-10 8z" fill="#c6ff00"/>
<path d="M1222 2216l11 1-8-6-10-1zM542 2221l10-7-7-5-10 8zM1211 2216l11 0-7-6-11 0z" fill="#ccff00"/>
<path d="M1204 2210l11 0-8-6-10-1zM1193 2209l11 1-7-7-11 0zM559 2218l10-8-7-4-10 8z" fill="#d9ff00"/>
<path d="M552 2214l10-8-6-4-11 7z" fill="#dfff00"/>
<path d="M569 2210l10-7-6-5-11 8z" fill="#e5ff00"/>
<path d="M1186 2203l11 0-7-6-11 0zM1175 2203l11 0-7-6-11 0z" fill="#ecff00"/>
<path d="M586 2207l11-7-7-5-11 8z" fill="#f2ff00"/>
<path d="M1168 2197l11 0-7-7-11 0zM579 2203l11-8-7-4-10 7zM1158 2197l10 0-7-7-11 1z" fill="#f9ff00"/>
<path d="M864 2140l10-3-7-5-10 3z" fill="#ff7300"/>
<path d="M927 2142l11-2-7-5-11 2zM818 2143l11-5-7-4-11 4zM881 2142l11-4-7-5-11 4zM836 2143l10-4-7-5-10 4zM899 2144l11-4-7-5-11 3zM853 2144l11-4-7-5-11 4z" fill="#ff7900"/>
<path d="M773 2147l11-5-7-4-11 4zM945 2145l10-3-7-5-10 3zM791 2147l10-5-7-4-10 4zM808 2147l10-4-7-5-10 4zM917 2146l10-4-7-5-10 3zM871 2146l10-4-7-5-10 3z" fill="#ff8000"/>
<path d="M962 2148l11-3-7-5-11 2zM934 2148l11-3-7-5-11 2zM825 2148l11-5-7-5-11 5zM888 2147l11-3-7-6-11 4zM843 2148l10-4-7-5-10 4zM906 2149l11-3-7-6-11 4z" fill="#ff8600"/>
<path d="M745 2153l11-6-7-4-11 5zM980 2151l11-2-7-6-11 2zM763 2152l10-5-7-5-10 5zM780 2152l11-5-7-5-11 5zM952 2150l10-2-7-6-10 3zM797 2152l11-5-7-5-10 5z" fill="#ff8c00"/>
<path d="M1008 2152l11-2-7-5-11 2zM969 2153l11-2-7-6-11 3z" fill="#ff9300"/>
<path d="M998 2154l10-2-7-5-10 2zM735 2158l10-5-7-5-10 5zM752 2157l11-5-7-5-11 6z" fill="#ff9900"/>
<path d="M1026 2156l11-2-8-5-10 1zM718 2159l10-6-7-4-10 5zM1015 2158l11-2-7-6-11 2zM987 2156l11-2-7-5-11 2z" fill="#ff9f00"/>
<path d="M1044 2160l10-1-7-6-10 1zM724 2164l11-6-7-5-10 6z" fill="#ffa600"/>
<path d="M690 2166l10-6-7-4-10 6zM707 2165l11-6-7-5-11 6zM1033 2162l11-2-7-6-11 2z" fill="#ffac00"/>
<path d="M673 2168l10-6-7-4-10 6zM1061 2164l11-1-7-5-11 1zM1051 2166l10-2-7-5-10 1z" fill="#ffb300"/>
<path d="M697 2171l10-6-7-5-10 6z" fill="#ffb900"/>
<path d="M1079 2169l11-1-7-6-11 1zM662 2174l11-6-7-4-11 6zM679 2172l11-6-7-4-10 6zM1069 2170l10-1-7-6-11 1z" fill="#ffbf00"/>
<path d="M645 2176l10-6-7-4-10 6z" fill="#ffc600"/>
<path d="M1097 2174l11-1-8-6-10 1zM1086 2175l11-1-7-6-11 1zM669 2179l10-7-6-4-11 6z" fill="#ffcc00"/>
<path d="M635 2183l10-7-7-4-10 7zM652 2181l10-7-7-4-10 6z" fill="#ffd200"/>
<path d="M617 2185l11-6-7-5-11 7zM1115 2179l10 0-7-6-10 0zM1104 2180l11-1-7-6-11 1z" fill="#ffd900"/>
<path d="M1133 2185l10-1-7-6-11 1zM624 2190l11-7-7-4-11 6zM1122 2186l11-1-8-6-10 0z" fill="#ffe500"/>
<path d="M607 2193l10-8-7-4-10 7z" fill="#ffec00"/>
<path d="M590 2195l10-7-7-4-10 7zM1150 2191l11-1-7-6-11 0zM1140 2191l10 0-7-7-10 1z" fill="#fff200"/>
<path d="M614 2197l10-7-7-5-10 8z" fill="#fff900"/>
<path d="M597 2200l10-7-7-5-10 7z" fill="#ffff00"/>
<path d="M463 2277l10-9-6-5-11 9z" fill="#4cff00"/>
<path d="M456 2272l11-9-7-4-10 8z" fill="#59ff00"/>
<path d="M473 2268l11-9-7-5-10 9z" fill="#66ff00"/>
<path d="M490 2264l11-9-7-5-10 9z" fill="#6cff00"/>
<path d="M484 2259l10-9-7-4-10 8z" fill="#79ff00"/>
<path d="M501 2255l10-9-7-4-10 8z" fill="#80ff00"/>
<path d="M518 2251l10-8-7-5-10 8z" fill="#8cff00"/>
<path d="M511 2246l10-8-7-5-10 9z" fill="#93ff00"/>
<path d="M528 2243l10-9-7-4-10 8z" fill="#9fff00"/>
<path d="M521 2238l10-8-6-5-11 8z" fill="#a6ff00"/>
<path d="M1236 2230l11 0-7-7-11 0zM1226 2230l10 0-7-7-11 0z" fill="#acff00"/>
<path d="M538 2234l10-8-6-5-11 9z" fill="#b3ff00"/>
<path d="M555 2231l11-8-7-5-11 8z" fill="#b9ff00"/>
<path d="M1218 2223l11 0-7-7-11 0zM1208 2223l10 0-7-7-11 0z" fill="#bfff00"/>
<path d="M548 2226l11-8-7-4-10 7z" fill="#c6ff00"/>
<path d="M1200 2216l11 0-7-6-11-1zM566 2223l10-8-7-5-10 8zM1190 2216l10 0-7-7-10 1z" fill="#ccff00"/>
<path d="M583 2220l10-8-7-5-10 8z" fill="#d2ff00"/>
<path d="M1183 2210l10-1-7-6-11 0zM576 2215l10-8-7-4-10 7zM1172 2210l11 0-8-7-10 0z" fill="#dfff00"/>
<path d="M593 2212l10-7-6-5-11 7z" fill="#e5ff00"/>
<path d="M1165 2203l10 0-7-6-10 0zM1154 2204l11-1-7-6-11 1zM610 2209l11-7-7-5-11 8z" fill="#ecff00"/>
<path d="M1147 2198l11-1-8-6-10 0zM603 2205l11-8-7-4-10 7zM1136 2198l11 0-7-7-11 1z" fill="#f9ff00"/>
<path d="M860 2150l11-4-7-6-11 4z" fill="#ff8600"/>
<path d="M815 2152l10-4-7-5-10 4zM924 2151l10-3-7-6-10 4zM878 2151l10-4-7-5-10 4zM832 2153l11-5-7-5-11 5z" fill="#ff8c00"/>
<path d="M941 2153l11-3-7-5-11 3zM896 2153l10-4-7-5-11 3zM850 2154l10-4-7-6-10 4zM913 2154l11-3-7-5-11 3zM867 2155l11-4-7-5-11 4z" fill="#ff9300"/>
<path d="M770 2157l10-5-7-5-10 5zM787 2157l10-5-6-5-11 5zM959 2156l10-3-7-5-10 2zM804 2157l11-5-7-5-11 5zM931 2157l10-4-7-5-10 3zM822 2158l10-5-7-5-10 4zM885 2156l11-3-8-6-10 4zM839 2158l11-4-7-6-11 5z" fill="#ff9900"/>
<path d="M977 2159l10-3-7-5-11 2zM948 2159l11-3-7-6-11 3zM903 2158l10-4-7-5-10 4z" fill="#ff9f00"/>
<path d="M1005 2160l10-2-7-6-10 2zM742 2163l10-6-7-4-10 5zM759 2162l11-5-7-5-11 5zM777 2162l10-5-7-5-10 5zM794 2162l10-5-7-5-10 5zM966 2162l11-3-8-6-10 3z" fill="#ffa600"/>
<path d="M1022 2164l11-2-7-6-11 2zM994 2162l11-2-7-6-11 2zM984 2165l10-3-7-6-10 3z" fill="#ffac00"/>
<path d="M714 2170l10-6-6-5-11 6zM731 2169l11-6-7-5-11 6zM1012 2166l10-2-7-6-10 2zM749 2168l10-6-7-5-10 6zM766 2168l11-6-7-5-11 5z" fill="#ffb300"/>
<path d="M1040 2168l11-2-7-6-11 2zM1030 2170l10-2-7-6-11 2z" fill="#ffb900"/>
<path d="M721 2175l10-6-7-5-10 6z" fill="#ffbf00"/>
<path d="M1058 2172l11-2-8-6-10 2zM686 2177l11-6-7-5-11 6zM704 2176l10-6-7-5-10 6zM1047 2174l11-2-7-6-11 2z" fill="#ffc600"/>
<path d="M1076 2177l10-2-7-6-10 1z" fill="#ffcc00"/>
<path d="M1065 2178l11-1-7-7-11 2zM693 2182l11-6-7-5-11 6z" fill="#ffd200"/>
<path d="M1093 2181l11-1-7-6-11 1zM659 2186l10-7-7-5-10 7zM676 2184l10-7-7-5-10 7z" fill="#ffd900"/>
<path d="M641 2188l11-7-7-5-10 7zM1083 2183l10-2-7-6-10 2z" fill="#ffdf00"/>
<path d="M1111 2187l11-1-7-7-11 1zM665 2191l11-7-7-5-10 7z" fill="#ffe500"/>
<path d="M648 2193l11-7-7-5-11 7zM1101 2188l10-1-7-7-11 1z" fill="#ffec00"/>
<path d="M1129 2192l11-1-7-6-11 1zM631 2195l10-7-6-5-11 7z" fill="#fff200"/>
<path d="M1118 2193l11-1-7-6-11 1zM638 2200l10-7-7-5-10 7z" fill="#fff900"/>
<path d="M621 2202l10-7-7-5-10 7z" fill="#ffff00"/>
<path d="M470 2282l10-9-7-5-10 9z" fill="#46ff00"/>
<path d="M487 2278l10-9-7-5-10 9z" fill="#4cff00"/>
<path d="M480 2273l10-9-6-5-11 9z" fill="#59ff00"/>
<path d="M497 2269l10-9-6-5-11 9z" fill="#66ff00"/>
<path d="M514 2265l10-9-6-5-11 9z" fill="#6cff00"/>
<path d="M507 2260l11-9-7-5-10 9z" fill="#79ff00"/>
<path d="M524 2256l11-8-7-5-10 8z" fill="#80ff00"/>
<path d="M535 2248l10-9-7-5-10 9z" fill="#93ff00"/>
<path d="M552 2244l10-8-7-5-10 8z" fill="#9fff00"/>
<path d="M545 2239l10-8-7-5-10 8z" fill="#a6ff00"/>
<path d="M1215 2230l11 0-8-7-10 0zM1204 2230l11 0-7-7-11 0z" fill="#acff00"/>
<path d="M562 2236l10-8-6-5-11 8z" fill="#b3ff00"/>
<path d="M579 2233l10-8-6-5-11 8z" fill="#b9ff00"/>
<path d="M572 2228l11-8-7-5-10 8zM1197 2223l11 0-8-7-10 0zM1186 2224l11-1-7-7-11 1z" fill="#bfff00"/>
<path d="M1179 2217l11-1-7-6-11 0zM589 2225l11-8-7-5-10 8zM1168 2218l11-1-7-7-11 1z" fill="#ccff00"/>
<path d="M607 2222l10-7-7-6-10 8z" fill="#d2ff00"/>
<path d="M600 2217l10-8-7-4-10 7zM1150 2212l11-1-7-7-11 1z" fill="#d9ff00"/>
<path d="M1161 2211l11-1-7-7-11 1zM617 2215l10-8-6-5-11 7z" fill="#dfff00"/>
<path d="M634 2212l11-7-7-5-11 7z" fill="#e5ff00"/>
<path d="M1143 2205l11-1-7-6-11 0zM1133 2206l10-1-7-7-10 2z" fill="#ecff00"/>
<path d="M627 2207l11-7-7-5-10 7z" fill="#f2ff00"/>
<path d="M1126 2200l10-2-7-6-11 1zM645 2205l10-7-7-5-10 7zM1115 2201l11-1-8-7-10 1z" fill="#f9ff00"/>
<path d="M857 2159l10-4-7-5-10 4zM920 2160l11-3-7-6-11 3zM874 2161l11-5-7-5-11 4z" fill="#ff9f00"/>
<path d="M811 2163l11-5-7-6-11 5zM938 2163l10-4-7-6-10 4zM829 2163l10-5-7-5-10 5zM892 2162l11-4-7-5-11 3zM846 2164l11-5-7-5-11 4z" fill="#ffa600"/>
<path d="M783 2168l11-6-7-5-10 5zM955 2165l11-3-7-6-11 3zM910 2164l10-4-7-6-10 4zM864 2165l10-4-7-6-10 4zM927 2166l11-3-7-6-11 3zM881 2167l11-5-7-6-11 5z" fill="#ffac00"/>
<path d="M973 2168l11-3-7-6-11 3zM801 2168l10-5-7-6-10 5zM818 2168l11-5-7-5-11 5zM945 2169l10-4-7-6-10 4zM836 2169l10-5-7-6-10 5zM899 2168l11-4-7-6-11 4zM853 2170l11-5-7-6-11 5z" fill="#ffb300"/>
<path d="M1001 2168l11-2-7-6-11 2zM773 2173l10-5-6-6-11 6zM790 2173l11-5-7-6-11 6zM962 2171l11-3-7-6-11 3z" fill="#ffb900"/>
<path d="M738 2174l11-6-7-5-11 6zM1019 2172l11-2-8-6-10 2zM756 2173l10-5-7-6-10 6zM991 2171l10-3-7-6-10 3z" fill="#ffbf00"/>
<path d="M1008 2175l11-3-7-6-11 2zM980 2174l11-3-7-6-11 3z" fill="#ffc600"/>
<path d="M710 2181l11-6-7-5-10 6zM1037 2176l10-2-7-6-10 2zM728 2180l10-6-7-5-10 6zM1026 2178l11-2-7-6-11 2zM745 2180l11-7-7-5-11 6zM762 2179l11-6-7-5-10 5z" fill="#ffcc00"/>
<path d="M1054 2180l11-2-7-6-11 2z" fill="#ffd200"/>
<path d="M1044 2182l10-2-7-6-10 2zM717 2187l11-7-7-5-11 6z" fill="#ffd900"/>
<path d="M683 2189l10-7-7-5-10 7zM1072 2185l11-2-7-6-11 1zM700 2188l10-7-6-5-11 6z" fill="#ffdf00"/>
<path d="M1061 2187l11-2-7-7-11 2z" fill="#ffe500"/>
<path d="M1090 2189l11-1-8-7-10 2zM1079 2191l11-2-7-6-11 2zM690 2194l10-6-7-6-10 7z" fill="#ffec00"/>
<path d="M655 2198l10-7-6-5-11 7zM672 2196l11-7-7-5-11 7z" fill="#fff200"/>
<path d="M1108 2194l10-1-7-6-10 1zM1097 2196l11-2-7-6-11 1z" fill="#fff900"/>
<path d="M662 2203l10-7-7-5-10 7z" fill="#ffff00"/>
<path d="M483 2293l10-10-6-5-11 9z" fill="#2dff00"/>
<path d="M476 2287l11-9-7-5-10 9z" fill="#39ff00"/>
<path d="M493 2283l11-9-7-5-10 9z" fill="#46ff00"/>
<path d="M510 2280l11-9-7-6-10 9z" fill="#4cff00"/>
<path d="M504 2274l10-9-7-5-10 9z" fill="#59ff00"/>
<path d="M521 2271l10-9-7-6-10 9z" fill="#60ff00"/>
<path d="M538 2267l10-9-7-5-10 9z" fill="#6cff00"/>
<path d="M531 2262l10-9-6-5-11 8z" fill="#73ff00"/>
<path d="M548 2258l10-8-6-6-11 9z" fill="#80ff00"/>
<path d="M541 2253l11-9-7-5-10 9z" fill="#8cff00"/>
<path d="M558 2250l11-9-7-5-10 8z" fill="#93ff00"/>
<path d="M575 2247l11-8-7-6-10 8z" fill="#99ff00"/>
<path d="M569 2241l10-8-7-5-10 8z" fill="#a6ff00"/>
<path d="M1193 2231l11-1-7-7-11 1zM586 2239l10-9-7-5-10 8zM1183 2232l10-1-7-7-11 1z" fill="#acff00"/>
<path d="M603 2236l10-8-6-6-11 8z" fill="#b3ff00"/>
<path d="M1165 2226l10-1-7-7-10 1z" fill="#b9ff00"/>
<path d="M596 2230l11-8-7-5-11 8zM1175 2225l11-1-7-7-11 1z" fill="#bfff00"/>
<path d="M613 2228l11-8-7-5-10 7z" fill="#c6ff00"/>
<path d="M1158 2219l10-1-7-7-11 1zM631 2226l10-8-7-6-10 8zM1147 2221l11-2-8-7-10 1z" fill="#ccff00"/>
<path d="M624 2220l10-8-7-5-10 8zM1140 2213l10-1-7-7-10 1zM1129 2215l11-2-7-7-11 2z" fill="#d9ff00"/>
<path d="M641 2218l10-8-6-5-11 7zM658 2216l11-7-7-6-11 7z" fill="#dfff00"/>
<path d="M1122 2208l11-2-7-6-11 1zM1111 2210l11-2-7-7-11 2z" fill="#e5ff00"/>
<path d="M651 2210l11-7-7-5-10 7z" fill="#ecff00"/>
<path d="M1104 2203l11-2-7-7-11 2zM669 2209l10-8-7-5-10 7zM1093 2205l11-2-7-7-11 2z" fill="#f2ff00"/>
<path d="M686 2207l10-7-6-6-11 7z" fill="#f9ff00"/>
<path d="M917 2170l10-4-7-6-10 4zM871 2171l10-4-7-6-10 4zM888 2173l11-5-7-6-11 5z" fill="#ffb900"/>
<path d="M808 2173l10-5-7-5-10 5zM934 2172l11-3-7-6-11 3zM825 2174l11-5-7-6-11 5zM843 2175l10-5-7-6-10 5zM906 2174l11-4-7-6-11 4zM860 2176l11-5-7-6-11 5z" fill="#ffbf00"/>
<path d="M780 2179l10-6-7-5-10 5zM952 2175l10-4-7-6-10 4zM797 2179l11-6-7-5-11 5zM924 2176l10-4-7-6-10 4zM878 2177l10-4-7-6-10 4z" fill="#ffc600"/>
<path d="M998 2178l10-3-7-7-10 3zM969 2178l11-4-7-6-11 3zM815 2179l10-5-7-6-10 5zM941 2179l11-4-7-6-11 3zM832 2180l11-5-7-6-11 5zM895 2179l11-5-7-6-11 5zM850 2181l10-5-7-6-10 5z" fill="#ffcc00"/>
<path d="M1015 2181l11-3-7-6-11 3zM987 2181l11-3-7-7-11 3zM787 2185l10-6-7-6-10 6zM959 2181l10-3-7-7-10 4z" fill="#ffd200"/>
<path d="M735 2186l10-6-7-6-10 6zM752 2185l10-6-6-6-11 7zM769 2185l11-6-7-6-11 6zM1005 2184l10-3-7-6-10 3zM976 2184l11-3-7-7-11 4zM804 2185l11-6-7-6-11 6z" fill="#ffd900"/>
<path d="M1033 2185l11-3-7-6-11 2z" fill="#ffdf00"/>
<path d="M1051 2189l10-2-7-7-10 2zM724 2192l11-6-7-6-11 7zM742 2192l10-7-7-5-10 6zM1022 2188l11-3-7-7-11 3zM759 2191l10-6-7-6-10 6z" fill="#ffe500"/>
<path d="M707 2193l10-6-7-6-10 7zM1040 2192l11-3-7-7-11 3z" fill="#ffec00"/>
<path d="M1069 2193l10-2-7-6-11 2zM731 2198l11-6-7-6-11 6z" fill="#fff200"/>
<path d="M696 2200l11-7-7-5-10 6zM714 2199l10-7-7-5-10 6zM1058 2196l11-3-8-6-10 2z" fill="#fff900"/>
<path d="M679 2201l11-7-7-5-11 7zM1086 2198l11-2-7-7-11 2zM1076 2200l10-2-7-7-10 2z" fill="#ffff00"/>
<path d="M496 2304l11-9-7-6-10 9z" fill="#13ff00"/>
<path d="M490 2298l10-9-7-6-10 10z" fill="#20ff00"/>
<path d="M507 2295l10-10-7-5-10 9z" fill="#2dff00"/>
<path d="M500 2289l10-9-6-6-11 9z" fill="#39ff00"/>
<path d="M517 2285l10-9-6-5-11 9z" fill="#40ff00"/>
<path d="M534 2282l10-9-6-6-11 9z" fill="#46ff00"/>
<path d="M527 2276l11-9-7-5-10 9z" fill="#53ff00"/>
<path d="M544 2273l11-9-7-6-10 9z" fill="#60ff00"/>
<path d="M561 2270l11-9-7-6-10 9z" fill="#66ff00"/>
<path d="M555 2264l10-9-7-5-10 8z" fill="#73ff00"/>
<path d="M572 2261l10-8-7-6-10 8z" fill="#79ff00"/>
<path d="M589 2259l10-9-6-6-11 9z" fill="#80ff00"/>
<path d="M565 2255l10-8-6-6-11 9z" fill="#86ff00"/>
<path d="M582 2253l11-9-7-5-11 8z" fill="#8cff00"/>
<path d="M599 2250l11-8-7-6-10 8z" fill="#93ff00"/>
<path d="M593 2244l10-8-7-6-10 9z" fill="#9fff00"/>
<path d="M610 2242l10-8-7-6-10 8z" fill="#a6ff00"/>
<path d="M1172 2234l11-2-8-7-10 1zM627 2240l10-8-6-6-11 8zM1161 2235l11-1-7-8-11 2z" fill="#acff00"/>
<path d="M620 2234l11-8-7-6-11 8zM1154 2228l11-2-7-7-11 2zM1143 2230l11-2-7-7-11 1z" fill="#b9ff00"/>
<path d="M637 2232l11-8-7-6-10 8z" fill="#bfff00"/>
<path d="M1136 2222l11-1-7-8-11 2zM655 2230l10-8-7-6-10 8zM1125 2224l11-2-7-7-11 2z" fill="#c6ff00"/>
<path d="M648 2224l10-8-7-6-10 8zM1118 2217l11-2-7-7-11 2zM665 2222l10-8-6-5-11 7zM1108 2219l10-2-7-7-10 2z" fill="#d2ff00"/>
<path d="M682 2220l11-7-7-6-11 7zM700 2219l10-7-7-6-10 7z" fill="#d9ff00"/>
<path d="M1101 2212l10-2-7-7-11 2zM1090 2215l11-3-8-7-10 2z" fill="#dfff00"/>
<path d="M675 2214l11-7-7-6-10 8zM1072 2210l11-3-7-7-11 3z" fill="#e5ff00"/>
<path d="M1083 2207l10-2-7-7-10 2zM693 2213l10-7-7-6-10 7zM710 2212l11-7-7-6-11 7zM727 2211l11-7-7-6-10 7z" fill="#ecff00"/>
<path d="M1054 2206l11-3-7-7-11 3z" fill="#f2ff00"/>
<path d="M703 2206l11-7-7-6-11 7zM1065 2203l11-3-7-7-11 3zM721 2205l10-7-7-6-10 7z" fill="#f9ff00"/>
<path d="M913 2181l11-5-7-6-11 4z" fill="#ffcc00"/>
<path d="M867 2182l11-5-7-6-11 5zM931 2183l10-4-7-7-10 4zM885 2184l10-5-7-6-10 4z" fill="#ffd200"/>
<path d="M822 2186l10-6-7-6-10 5zM948 2185l11-4-7-6-11 4zM839 2186l11-5-7-6-11 5zM902 2185l11-4-7-7-11 5zM857 2187l10-5-7-6-10 5z" fill="#ffd900"/>
<path d="M994 2188l11-4-7-6-11 3zM966 2188l10-4-7-6-10 3zM920 2187l11-4-7-7-11 5zM874 2189l11-5-7-7-11 5zM892 2190l10-5-7-6-10 5z" fill="#ffdf00"/>
<path d="M776 2191l11-6-7-6-11 6zM794 2191l10-6-7-6-10 6zM983 2191l11-3-7-7-11 3zM811 2191l11-5-7-7-11 6zM938 2190l10-5-7-6-10 4zM829 2192l10-6-7-6-10 6zM846 2193l11-6-7-6-11 5zM909 2192l11-5-7-6-11 4z" fill="#ffe500"/>
<path d="M1012 2191l10-3-7-7-10 3zM955 2192l11-4-7-7-11 4z" fill="#ffec00"/>
<path d="M1029 2195l11-3-7-7-11 3zM748 2198l11-7-7-6-10 7zM766 2197l10-6-7-6-10 6zM1001 2194l11-3-7-7-11 4zM783 2197l11-6-7-6-11 6zM801 2197l10-6-7-6-10 6zM973 2195l10-4-7-7-10 4z" fill="#fff200"/>
<path d="M1019 2198l10-3-7-7-10 3z" fill="#fff900"/>
<path d="M1047 2199l11-3-7-7-11 3zM738 2204l10-6-6-6-11 6zM1037 2202l10-3-7-7-11 3zM755 2204l11-7-7-6-11 7z" fill="#ffff00"/>
<path d="M503 2310l10-9-6-6-11 9z" fill="#06ff00"/>
<path d="M520 2307l10-9-6-7-11 10z" fill="#13ff00"/>
<path d="M513 2301l11-10-7-6-10 10z" fill="#20ff00"/>
<path d="M530 2298l11-10-7-6-10 9z" fill="#26ff00"/>
<path d="M524 2291l10-9-7-6-10 9z" fill="#33ff00"/>
<path d="M541 2288l10-9-7-6-10 9z" fill="#39ff00"/>
<path d="M558 2285l10-9-7-6-10 9z" fill="#46ff00"/>
<path d="M551 2279l10-9-6-6-11 9z" fill="#53ff00"/>
<path d="M568 2276l11-9-7-6-11 9z" fill="#59ff00"/>
<path d="M585 2274l11-9-7-6-10 8z" fill="#60ff00"/>
<path d="M579 2267l10-8-7-6-10 8z" fill="#6cff00"/>
<path d="M596 2265l10-9-7-6-10 9z" fill="#73ff00"/>
<path d="M613 2263l10-9-6-6-11 8z" fill="#79ff00"/>
<path d="M606 2256l11-8-7-6-11 8z" fill="#86ff00"/>
<path d="M623 2254l11-8-7-6-10 8z" fill="#8cff00"/>
<path d="M640 2252l11-8-7-6-10 8z" fill="#93ff00"/>
<path d="M617 2248l10-8-7-6-10 8z" fill="#99ff00"/>
<path d="M634 2246l10-8-7-6-10 8z" fill="#9fff00"/>
<path d="M1150 2237l11-2-7-7-11 2zM651 2244l10-8-6-6-11 8zM1140 2239l10-2-7-7-10 2zM668 2242l11-8-7-6-11 8z" fill="#a6ff00"/>
<path d="M1122 2234l11-2-8-8-10 3z" fill="#acff00"/>
<path d="M644 2238l11-8-7-6-11 8zM661 2236l11-8-7-6-10 8zM1133 2232l10-2-7-8-11 2z" fill="#b3ff00"/>
<path d="M679 2234l10-7-7-7-10 8zM1104 2229l11-2-7-8-11 3z" fill="#b9ff00"/>
<path d="M1115 2227l10-3-7-7-10 2zM696 2233l10-7-6-7-11 8z" fill="#bfff00"/>
<path d="M672 2228l10-8-7-6-10 8zM1086 2225l11-3-7-7-11 2z" fill="#c6ff00"/>
<path d="M689 2227l11-8-7-6-11 7zM1097 2222l11-3-7-7-11 3zM706 2226l11-8-7-6-10 7z" fill="#ccff00"/>
<path d="M1068 2220l11-3-7-7-11 3zM724 2225l10-8-7-6-10 7z" fill="#d2ff00"/>
<path d="M1079 2217l11-2-7-8-11 3zM1051 2216l10-3-7-7-10 3z" fill="#d9ff00"/>
<path d="M717 2218l10-7-6-6-11 7zM1061 2213l11-3-7-7-11 3zM734 2217l11-7-7-6-11 7zM752 2217l10-7-7-6-10 6zM769 2217l11-7-7-7-11 7z" fill="#dfff00"/>
<path d="M1033 2212l11-3-7-7-11 3z" fill="#e5ff00"/>
<path d="M1044 2209l10-3-7-7-10 3zM1015 2209l11-4-7-7-11 3zM987 2209l11-4-8-7-10 4z" fill="#ecff00"/>
<path d="M745 2210l10-6-7-6-10 6zM762 2210l11-7-7-6-11 7zM780 2210l10-6-7-7-10 6zM797 2210l11-6-7-7-11 7z" fill="#f2ff00"/>
<path d="M1026 2205l11-3-8-7-10 3zM998 2205l10-4-7-7-11 4zM842 2205l11-6-7-6-10 5zM969 2206l11-4-7-7-11 4z" fill="#f9ff00"/>
<path d="M864 2194l10-5-7-7-10 5zM927 2194l11-4-7-7-11 4zM881 2195l11-5-7-6-11 5z" fill="#ffec00"/>
<path d="M818 2198l11-6-7-6-11 5zM945 2196l10-4-7-7-10 5zM836 2198l10-5-7-7-10 6zM899 2197l10-5-7-7-10 5z" fill="#fff200"/>
<path d="M990 2198l11-4-7-6-11 3zM962 2199l11-4-7-7-11 4zM853 2199l11-5-7-7-11 6zM916 2199l11-5-7-7-11 5zM871 2201l10-6-7-6-10 5zM934 2201l11-5-7-6-11 4z" fill="#fff900"/>
<path d="M773 2203l10-6-7-6-10 6zM1008 2201l11-3-7-7-11 3zM790 2204l11-7-7-6-11 6zM980 2202l10-4-7-7-10 4zM808 2204l10-6-7-7-10 6zM825 2204l11-6-7-6-11 6zM952 2203l10-4-7-7-10 4zM888 2202l11-5-7-7-11 5zM906 2204l10-5-7-7-10 5z" fill="#ffff00"/>
<path d="M510 2317l10-10-7-6-10 9z" fill="#00ff06"/>
<path d="M516 2323l11-10-7-6-10 10z" fill="#00ff13"/>
<path d="M527 2313l10-9-7-6-10 9z" fill="#06ff00"/>
<path d="M544 2311l10-10-7-6-10 9z" fill="#0dff00"/>
<path d="M537 2304l10-9-6-7-11 10z" fill="#1aff00"/>
<path d="M554 2301l10-9-6-7-11 10z" fill="#20ff00"/>
<path d="M547 2295l11-10-7-6-10 9z" fill="#2dff00"/>
<path d="M564 2292l11-9-7-7-10 9z" fill="#39ff00"/>
<path d="M582 2289l10-9-7-6-10 9z" fill="#40ff00"/>
<path d="M575 2283l10-9-6-7-11 9z" fill="#4cff00"/>
<path d="M592 2280l10-9-6-6-11 9z" fill="#53ff00"/>
<path d="M609 2278l11-9-7-6-11 8z" fill="#59ff00"/>
<path d="M602 2271l11-8-7-7-10 9z" fill="#66ff00"/>
<path d="M620 2269l10-9-7-6-10 9z" fill="#6cff00"/>
<path d="M637 2267l10-8-7-7-10 8z" fill="#73ff00"/>
<path d="M630 2260l10-8-6-6-11 8z" fill="#80ff00"/>
<path d="M647 2259l11-9-7-6-11 8zM665 2257l10-8-7-7-10 8z" fill="#86ff00"/>
<path d="M658 2250l10-8-7-6-10 8z" fill="#93ff00"/>
<path d="M675 2249l10-8-6-7-11 8zM1118 2245l11-3-7-8-11 3z" fill="#99ff00"/>
<path d="M1129 2242l11-3-7-7-11 2zM692 2248l11-8-7-7-11 8z" fill="#9fff00"/>
<path d="M1100 2240l11-3-7-8-11 3z" fill="#a6ff00"/>
<path d="M685 2241l11-8-7-6-10 7zM1111 2237l11-3-7-7-11 2zM703 2240l10-8-7-6-10 7z" fill="#acff00"/>
<path d="M720 2239l11-8-7-6-11 7zM1083 2235l10-3-7-7-11 3zM737 2238l11-7-7-7-10 7z" fill="#b3ff00"/>
<path d="M1093 2232l11-3-7-7-11 3zM1065 2231l10-3-7-8-10 4z" fill="#b9ff00"/>
<path d="M713 2232l11-7-7-7-11 8zM1075 2228l11-3-7-8-11 3zM731 2231l10-7-7-7-10 8z" fill="#bfff00"/>
<path d="M748 2231l10-7-6-7-11 7zM1047 2227l11-3-7-8-11 4zM765 2230l11-7-7-6-11 7z" fill="#c6ff00"/>
<path d="M1058 2224l10-4-7-7-10 3zM1029 2223l11-3-7-8-11 4z" fill="#ccff00"/>
<path d="M741 2224l11-7-7-7-11 7zM1040 2220l11-4-7-7-11 3zM758 2224l11-7-7-7-10 7zM776 2223l10-6-6-7-11 7zM793 2224l11-7-7-7-11 7zM983 2221l11-5-7-7-11 4zM811 2224l10-7-7-6-10 6z" fill="#d2ff00"/>
<path d="M1012 2220l10-4-7-7-10 3z" fill="#d9ff00"/>
<path d="M1022 2216l11-4-7-7-11 4zM804 2217l10-6-6-7-11 6zM994 2216l11-4-7-7-11 4zM821 2217l11-6-7-7-11 7zM839 2218l10-6-7-7-10 6zM966 2218l10-5-7-7-10 5zM902 2216l11-5-7-7-11 5zM856 2219l11-6-7-7-11 6z" fill="#dfff00"/>
<path d="M1005 2212l10-3-7-8-10 4zM786 2217l11-7-7-6-10 6zM976 2213l11-4-7-7-11 4zM930 2213l11-5-7-7-11 5zM948 2215l11-4-7-8-11 5zM884 2215l11-6-7-7-10 6z" fill="#e5ff00"/>
<path d="M832 2211l10-6-6-7-11 6zM959 2211l10-5-7-7-10 4zM849 2212l11-6-7-7-11 6zM913 2211l10-5-7-7-10 5zM867 2213l11-5-7-7-11 5z" fill="#ecff00"/>
<path d="M814 2211l11-7-7-6-10 6zM941 2208l11-5-7-7-11 5zM895 2209l11-5-7-7-11 5z" fill="#f2ff00"/>
<path d="M860 2206l11-5-7-7-11 5zM923 2206l11-5-7-7-11 5zM878 2208l10-6-7-7-10 6z" fill="#f9ff00"/>
<path d="M550 2317l11-9-7-7-10 10z" fill="#00ff00"/>
<path d="M533 2320l11-9-7-7-10 9z" fill="#00ff06"/>
<path d="M540 2327l10-10-6-6-11 9z" fill="#00ff1a"/>
<path d="M523 2330l10-10-6-7-11 10z" fill="#00ff20"/>
<path d="M567 2315l11-10-7-7-10 10z" fill="#06ff00"/>
<path d="M561 2308l10-10-7-6-10 9z" fill="#13ff00"/>
<path d="M578 2305l10-9-6-7-11 9z" fill="#1aff00"/>
<path d="M595 2303l10-9-6-7-11 9z" fill="#20ff00"/>
<path d="M571 2298l11-9-7-6-11 9z" fill="#26ff00"/>
<path d="M588 2296l11-9-7-7-10 9z" fill="#2dff00"/>
<path d="M605 2294l11-9-7-7-10 9z" fill="#33ff00"/>
<path d="M599 2287l10-9-7-7-10 9zM616 2285l10-9-6-7-11 9z" fill="#46ff00"/>
<path d="M633 2283l11-9-7-7-11 9z" fill="#4cff00"/>
<path d="M626 2276l11-9-7-7-10 9zM644 2274l10-9-7-6-10 8z" fill="#60ff00"/>
<path d="M661 2272l10-8-6-7-11 8z" fill="#66ff00"/>
<path d="M678 2271l11-8-7-7-11 8z" fill="#6cff00"/>
<path d="M654 2265l11-8-7-7-11 9z" fill="#73ff00"/>
<path d="M671 2264l11-8-7-7-10 8zM689 2263l10-9-7-6-10 8z" fill="#79ff00"/>
<path d="M706 2262l10-8-6-7-11 7z" fill="#80ff00"/>
<path d="M682 2256l10-8-7-7-10 8zM699 2254l11-7-7-7-11 8zM1097 2251l10-3-7-8-10 3z" fill="#8cff00"/>
<path d="M1107 2248l11-3-7-8-11 3zM716 2254l11-8-7-7-10 8zM734 2253l10-8-7-7-10 8z" fill="#93ff00"/>
<path d="M1079 2247l11-4-7-8-11 4z" fill="#99ff00"/>
<path d="M710 2247l10-8-7-7-10 8zM727 2246l10-8-6-7-11 8zM1090 2243l10-3-7-8-10 3zM1061 2243l11-4-7-8-11 4z" fill="#9fff00"/>
<path d="M744 2245l11-7-7-7-11 7zM762 2245l10-7-7-8-10 8z" fill="#a6ff00"/>
<path d="M1072 2239l11-4-8-7-10 3zM1043 2239l11-4-7-8-11 4z" fill="#acff00"/>
<path d="M755 2238l10-8-7-6-10 7zM1054 2235l11-4-7-7-11 3zM772 2238l11-8-7-7-11 7zM1026 2235l10-4-7-8-10 4zM790 2238l10-7-7-7-10 6zM807 2238l11-7-7-7-11 7zM997 2236l11-4-7-8-11 4z" fill="#b3ff00"/>
<path d="M979 2233l11-5-7-7-11 4z" fill="#b9ff00"/>
<path d="M1036 2231l11-4-7-7-11 3zM1008 2232l11-5-7-7-11 4zM835 2232l11-7-7-7-11 6zM962 2230l10-5-6-7-11 5zM853 2233l10-7-7-7-10 6zM916 2231l11-5-7-8-11 6z" fill="#bfff00"/>
<path d="M783 2230l10-6-7-7-10 6zM1019 2227l10-4-7-7-10 4zM800 2231l11-7-7-7-11 7zM990 2228l11-4-7-8-11 5zM818 2231l10-7-7-7-10 7zM944 2228l11-5-7-8-11 5zM898 2229l11-5-7-8-11 6z" fill="#c6ff00"/>
<path d="M1001 2224l11-4-7-8-11 4zM972 2225l11-4-7-8-10 5zM863 2226l11-6-7-7-11 6zM927 2226l10-6-7-7-10 5zM881 2228l10-6-7-7-10 5z" fill="#ccff00"/>
<path d="M828 2224l11-6-7-7-11 6zM955 2223l11-5-7-7-11 4zM846 2225l10-6-7-7-10 6zM909 2224l11-6-7-7-11 5z" fill="#d2ff00"/>
<path d="M874 2220l10-5-6-7-11 5zM937 2220l11-5-7-7-11 5zM891 2222l11-6-7-7-11 6z" fill="#d9ff00"/>
<path d="M920 2218l10-5-7-7-10 5z" fill="#dfff00"/>
<path d="M591 2319l11-9-7-7-10 9z" fill="#00ff06"/>
<path d="M574 2322l11-10-7-7-11 10z" fill="#00ff0d"/>
<path d="M557 2324l10-9-6-7-11 9z" fill="#00ff13"/>
<path d="M564 2331l10-9-7-7-10 9z" fill="#00ff20"/>
<path d="M547 2334l10-10-7-7-10 10z" fill="#00ff26"/>
<path d="M530 2337l10-10-7-7-10 10z" fill="#00ff2d"/>
<path d="M536 2344l11-10-7-7-10 10z" fill="#00ff39"/>
<path d="M585 2312l10-9-7-7-10 9z" fill="#0dff00"/>
<path d="M602 2310l10-9-7-7-10 9z" fill="#13ff00"/>
<path d="M619 2308l10-9-6-7-11 9z" fill="#1aff00"/>
<path d="M612 2301l11-9-7-7-11 9z" fill="#26ff00"/>
<path d="M629 2299l11-9-7-7-10 9zM647 2297l10-9-7-7-10 9z" fill="#2dff00"/>
<path d="M623 2292l10-9-7-7-10 9z" fill="#39ff00"/>
<path d="M640 2290l10-9-6-7-11 9z" fill="#40ff00"/>
<path d="M657 2288l11-9-7-7-11 9zM674 2287l11-9-7-7-10 8z" fill="#46ff00"/>
<path d="M650 2281l11-9-7-7-10 9z" fill="#53ff00"/>
<path d="M668 2279l10-8-7-7-10 8zM685 2278l10-8-6-7-11 8z" fill="#59ff00"/>
<path d="M702 2277l11-8-7-7-11 8z" fill="#60ff00"/>
<path d="M695 2270l11-8-7-8-10 9zM713 2269l10-8-7-7-10 8z" fill="#6cff00"/>
<path d="M730 2268l11-8-7-7-11 8z" fill="#73ff00"/>
<path d="M723 2261l11-8-7-7-11 8zM1075 2259l11-4-7-8-11 3z" fill="#80ff00"/>
<path d="M1086 2255l11-4-7-8-11 4zM741 2260l10-8-7-7-10 8zM758 2260l10-8-6-7-11 7zM1057 2255l11-5-7-7-11 4zM775 2260l11-8-7-7-11 7z" fill="#86ff00"/>
<path d="M751 2252l11-7-7-7-11 7zM1068 2250l11-3-7-8-11 4zM768 2252l11-7-7-7-10 7zM786 2252l10-7-6-7-11 7zM1040 2251l10-4-7-8-10 4zM803 2252l11-7-7-7-11 7zM821 2253l10-7-6-8-11 7z" fill="#93ff00"/>
<path d="M1050 2247l11-4-7-8-11 4zM1022 2247l11-4-7-8-11 4zM993 2249l11-5-7-8-11 5z" fill="#99ff00"/>
<path d="M1004 2244l11-5-7-7-11 4zM831 2246l11-7-7-7-10 6zM849 2247l11-7-7-7-11 6zM976 2246l10-5-7-8-10 5zM866 2248l11-7-7-7-10 6z" fill="#9fff00"/>
<path d="M779 2245l11-7-7-8-11 8zM1033 2243l10-4-7-8-10 4zM796 2245l11-7-7-7-10 7zM814 2245l11-7-7-7-11 7zM958 2243l11-5-7-8-11 6zM895 2243l10-6-7-8-10 6zM912 2245l11-6-7-8-11 6z" fill="#a6ff00"/>
<path d="M1015 2239l11-4-7-8-11 5zM986 2241l11-5-7-8-11 5zM860 2240l10-6-7-8-10 7zM877 2241l11-6-7-7-11 6zM940 2241l11-5-7-8-10 5z" fill="#acff00"/>
<path d="M825 2238l10-6-7-8-10 7zM842 2239l11-6-7-8-11 7zM969 2238l10-5-7-8-10 5zM905 2237l11-6-7-7-11 5zM923 2239l11-6-7-7-11 5z" fill="#b3ff00"/>
<path d="M888 2235l10-6-7-7-10 6zM951 2236l11-6-7-7-11 5z" fill="#b9ff00"/>
<path d="M870 2234l11-6-7-8-11 6zM934 2233l10-5-7-8-10 6z" fill="#bfff00"/>
<path d="M608 2317l11-9-7-7-10 9z" fill="#00ff00"/>
<path d="M615 2325l11-10-7-7-11 9z" fill="#00ff0d"/>
<path d="M598 2327l10-10-6-7-11 9z" fill="#00ff13"/>
<path d="M581 2329l10-10-6-7-11 10z" fill="#00ff1a"/>
<path d="M588 2336l10-9-7-8-10 10z" fill="#00ff26"/>
<path d="M570 2339l11-10-7-7-10 9z" fill="#00ff2d"/>
<path d="M553 2341l11-10-7-7-10 10z" fill="#00ff33"/>
<path d="M560 2349l10-10-6-8-11 10z" fill="#00ff46"/>
<path d="M543 2351l10-10-6-7-11 10z" fill="#00ff4c"/>
<path d="M550 2359l10-10-7-8-10 10z" fill="#00ff59"/>
<path d="M626 2315l10-9-7-7-10 9z" fill="#06ff00"/>
<path d="M643 2314l10-10-6-7-11 9z" fill="#0dff00"/>
<path d="M636 2306l11-9-7-7-11 9z" fill="#1aff00"/>
<path d="M653 2304l11-9-7-7-10 9z" fill="#20ff00"/>
<path d="M671 2303l10-9-7-7-10 8z" fill="#26ff00"/>
<path d="M664 2295l10-8-6-8-11 9z" fill="#33ff00"/>
<path d="M681 2294l11-8-7-8-11 9zM698 2293l11-8-7-8-10 9zM716 2292l10-8-7-8-10 9z" fill="#39ff00"/>
<path d="M692 2286l10-9-7-7-10 8zM709 2285l10-9-6-7-11 8zM726 2284l11-8-7-8-11 8z" fill="#4cff00"/>
<path d="M744 2283l10-8-7-7-10 8z" fill="#53ff00"/>
<path d="M719 2276l11-8-7-7-10 8zM737 2276l10-8-6-8-11 8zM754 2275l11-8-7-7-11 8zM772 2275l10-8-7-7-10 7z" fill="#60ff00"/>
<path d="M1054 2267l10-4-7-8-10 4z" fill="#6cff00"/>
<path d="M747 2268l11-8-7-8-10 8zM765 2267l10-7-7-8-10 8zM782 2267l11-7-7-8-11 8zM800 2267l10-7-7-8-10 8zM817 2268l11-7-7-8-11 7zM1007 2265l11-5-7-8-11 5z" fill="#73ff00"/>
<path d="M1064 2263l11-4-7-9-11 5zM1036 2263l11-4-7-8-11 4zM990 2262l10-5-7-8-10 5z" fill="#79ff00"/>
<path d="M1047 2259l10-4-7-8-10 4zM828 2261l10-7-7-8-10 7zM1018 2260l11-5-7-8-11 5zM845 2261l11-7-7-7-11 7zM972 2259l11-5-7-8-11 5zM863 2262l10-6-7-8-10 6zM926 2261l11-6-7-8-11 6z" fill="#80ff00"/>
<path d="M1029 2255l11-4-7-8-11 4zM793 2260l10-8-7-7-10 7zM810 2260l11-7-7-8-11 7zM1000 2257l11-5-7-8-11 5zM954 2257l11-6-7-8-11 6zM908 2259l11-6-7-8-10 6z" fill="#86ff00"/>
<path d="M856 2254l10-6-6-8-11 7zM983 2254l10-5-7-8-10 5zM873 2256l11-7-7-8-11 7zM937 2255l10-6-7-8-10 6zM891 2257l11-6-7-8-11 6z" fill="#8cff00"/>
<path d="M1011 2252l11-5-7-8-11 5zM838 2254l11-7-7-8-11 7zM965 2251l11-5-7-8-11 5zM919 2253l11-6-7-8-11 6z" fill="#93ff00"/>
<path d="M884 2249l11-6-7-8-11 6zM947 2249l11-6-7-7-11 5zM902 2251l10-6-7-8-10 6z" fill="#99ff00"/>
<path d="M930 2247l10-6-6-8-11 6z" fill="#9fff00"/>
<path d="M667 2320l10-9-6-8-11 9zM684 2319l11-9-7-8-11 9z" fill="#00ff00"/>
<path d="M632 2323l11-9-7-8-10 9zM650 2321l10-9-7-8-10 10z" fill="#00ff06"/>
<path d="M656 2329l11-9-7-8-10 9z" fill="#00ff13"/>
<path d="M639 2331l11-10-7-7-11 9z" fill="#00ff1a"/>
<path d="M622 2332l10-9-6-8-11 10z" fill="#00ff20"/>
<path d="M605 2334l10-9-7-8-10 10z" fill="#00ff26"/>
<path d="M629 2340l10-9-7-8-10 9z" fill="#00ff2d"/>
<path d="M611 2342l11-10-7-7-10 9z" fill="#00ff33"/>
<path d="M594 2344l11-10-7-7-10 9z" fill="#00ff39"/>
<path d="M577 2346l11-10-7-7-11 10z" fill="#00ff40"/>
<path d="M601 2352l10-10-6-8-11 10z" fill="#00ff46"/>
<path d="M584 2354l10-10-6-8-11 10z" fill="#00ff4c"/>
<path d="M567 2356l10-10-7-7-10 10z" fill="#00ff53"/>
<path d="M573 2364l11-10-7-8-10 10z" fill="#00ff66"/>
<path d="M556 2366l11-10-7-7-10 10z" fill="#00ff6c"/>
<path d="M660 2312l11-9-7-8-11 9z" fill="#0dff00"/>
<path d="M677 2311l11-9-7-8-10 9zM695 2310l10-9-7-8-10 9z" fill="#13ff00"/>
<path d="M712 2309l10-9-6-8-11 9z" fill="#1aff00"/>
<path d="M688 2302l10-9-6-7-11 8zM705 2301l11-9-7-7-11 8z" fill="#26ff00"/>
<path d="M722 2300l11-8-7-8-10 8zM740 2299l10-8-6-8-11 9z" fill="#2dff00"/>
<path d="M733 2292l11-9-7-7-11 8zM750 2291l11-8-7-8-10 8zM768 2291l10-8-6-8-11 8zM785 2291l11-8-7-8-11 8z" fill="#40ff00"/>
<path d="M831 2284l10-7-6-9-11 8zM1021 2282l11-5-7-9-11 5z" fill="#4cff00"/>
<path d="M761 2283l11-8-7-8-11 8zM778 2283l11-8-7-8-10 8zM796 2283l10-8-6-8-11 8zM813 2283l11-7-7-8-11 7z" fill="#53ff00"/>
<path d="M1032 2277l11-5-7-9-11 5zM1004 2279l10-6-7-8-10 5zM876 2279l11-7-7-8-10 6z" fill="#59ff00"/>
<path d="M789 2275l11-8-7-7-11 7zM806 2275l11-7-7-8-10 7zM824 2276l11-8-7-7-11 7zM1014 2273l11-5-7-8-11 5zM841 2277l11-8-7-8-10 7zM859 2277l11-7-7-8-11 7zM986 2276l11-6-7-8-11 6zM922 2275l11-6-7-8-11 6zM940 2277l11-6-7-8-11 6z" fill="#60ff00"/>
<path d="M1043 2272l11-5-7-8-11 4zM997 2270l10-5-7-8-10 5zM968 2273l11-5-7-9-11 6zM905 2273l10-6-7-8-10 6z" fill="#66ff00"/>
<path d="M1025 2268l11-5-7-8-11 5zM852 2269l11-7-7-8-11 7zM870 2270l10-6-7-8-10 6zM933 2269l11-6-7-8-11 6zM887 2272l11-7-7-8-11 7zM951 2271l10-6-7-8-10 6z" fill="#6cff00"/>
<path d="M835 2268l10-7-7-7-10 7zM979 2268l11-6-7-8-11 5zM915 2267l11-6-7-8-11 6z" fill="#73ff00"/>
<path d="M880 2264l11-7-7-8-11 7zM944 2263l10-6-7-8-10 6zM961 2265l11-6-7-8-11 6zM898 2265l10-6-6-8-11 6z" fill="#79ff00"/>
<path d="M691 2327l10-9-6-8-11 9zM708 2326l11-9-7-8-11 9zM725 2325l11-9-7-8-10 9z" fill="#00ff0d"/>
<path d="M674 2328l10-9-7-8-10 9z" fill="#00ff13"/>
<path d="M663 2337l11-9-7-8-11 9zM680 2336l11-9-7-8-10 9z" fill="#00ff26"/>
<path d="M646 2338l10-9-6-8-11 10z" fill="#00ff2d"/>
<path d="M652 2347l11-10-7-8-10 9z" fill="#00ff39"/>
<path d="M635 2348l11-10-7-7-10 9z" fill="#00ff40"/>
<path d="M618 2350l11-10-7-8-11 10z" fill="#00ff46"/>
<path d="M625 2358l10-10-6-8-11 10z" fill="#00ff53"/>
<path d="M608 2360l10-10-7-8-10 10z" fill="#00ff59"/>
<path d="M590 2362l11-10-7-8-10 10z" fill="#00ff60"/>
<path d="M580 2372l10-10-6-8-11 10zM597 2370l11-10-7-8-11 10z" fill="#00ff73"/>
<path d="M563 2374l10-10-6-8-11 10z" fill="#00ff79"/>
<path d="M569 2382l11-10-7-8-10 10z" fill="#00ff8c"/>
<path d="M701 2318l11-9-7-8-10 9zM719 2317l10-9-7-8-10 9zM736 2316l11-8-7-9-11 9z" fill="#06ff00"/>
<path d="M753 2316l11-9-7-8-10 9z" fill="#0dff00"/>
<path d="M729 2308l11-9-7-7-11 8zM747 2308l10-9-7-8-10 8zM764 2307l11-8-7-8-11 8z" fill="#1aff00"/>
<path d="M781 2307l11-8-7-8-10 8z" fill="#20ff00"/>
<path d="M757 2299l11-8-7-8-11 8zM775 2299l10-8-7-8-10 8zM792 2299l11-8-7-8-11 8zM809 2299l11-7-7-9-10 8zM827 2300l11-8-7-8-11 8z" fill="#2dff00"/>
<path d="M855 2293l11-7-7-9-11 8zM1000 2293l11-6-7-8-11 5zM873 2294l10-7-7-8-10 7z" fill="#39ff00"/>
<path d="M803 2291l10-8-7-8-10 8zM820 2292l11-8-7-8-11 7zM838 2292l10-7-7-8-10 7zM982 2290l11-6-7-8-11 6zM918 2290l11-7-7-8-10 7zM936 2292l11-6-7-9-11 6z" fill="#40ff00"/>
<path d="M1011 2287l10-5-7-9-10 6zM883 2287l11-7-7-8-11 7zM964 2288l11-6-7-9-10 6zM901 2288l11-6-7-9-11 7z" fill="#46ff00"/>
<path d="M848 2285l11-8-7-8-11 8zM993 2284l11-5-7-9-11 6zM866 2286l10-7-6-9-11 7zM929 2283l11-6-7-8-11 6zM947 2286l11-7-7-8-11 6z" fill="#4cff00"/>
<path d="M975 2282l11-6-7-8-11 5zM912 2282l10-7-7-8-10 6z" fill="#53ff00"/>
<path d="M894 2280l11-7-7-8-11 7zM958 2279l10-6-7-8-10 6z" fill="#59ff00"/>
<path d="M743 2324l10-8-6-8-11 8zM760 2324l11-8-7-9-11 9zM778 2324l10-8-7-9-10 9zM795 2324l11-8-7-9-11 9z" fill="#00ff06"/>
<path d="M732 2333l11-9-7-8-11 9zM750 2333l10-9-7-8-10 8z" fill="#00ff1a"/>
<path d="M698 2335l10-9-7-8-10 9zM715 2334l10-9-6-8-11 9z" fill="#00ff20"/>
<path d="M722 2342l10-9-7-8-10 9z" fill="#00ff2d"/>
<path d="M687 2344l11-9-7-8-11 9zM704 2343l11-9-7-8-10 9z" fill="#00ff33"/>
<path d="M670 2345l10-9-6-8-11 9z" fill="#00ff39"/>
<path d="M676 2353l11-9-7-8-10 9zM694 2352l10-9-6-8-11 9z" fill="#00ff46"/>
<path d="M659 2355l11-10-7-8-11 10z" fill="#00ff4c"/>
<path d="M642 2356l10-9-6-9-11 10z" fill="#00ff53"/>
<path d="M649 2364l10-9-7-8-10 9zM666 2363l10-10-6-8-11 10z" fill="#00ff60"/>
<path d="M631 2366l11-10-7-8-10 10z" fill="#00ff66"/>
<path d="M614 2368l11-10-7-8-10 10z" fill="#00ff6c"/>
<path d="M621 2376l10-10-6-8-11 10zM638 2374l11-10-7-8-11 10z" fill="#00ff79"/>
<path d="M604 2378l10-10-6-8-11 10z" fill="#00ff80"/>
<path d="M587 2380l10-10-7-8-10 10z" fill="#00ff86"/>
<path d="M610 2386l11-10-7-8-10 10z" fill="#00ff93"/>
<path d="M593 2388l11-10-7-8-10 10z" fill="#00ff99"/>
<path d="M576 2390l11-10-7-8-11 10z" fill="#00ff9f"/>
<path d="M583 2398l10-10-6-8-11 10z" fill="#00ffac"/>
<path d="M841 2317l10-8-7-8-10 7z" fill="#06ff00"/>
<path d="M771 2316l10-9-6-8-11 8zM788 2316l11-9-7-8-11 8zM806 2316l10-8-7-9-10 8zM823 2316l11-8-7-8-11 8z" fill="#0dff00"/>
<path d="M886 2311l11-7-7-9-11 8z" fill="#13ff00"/>
<path d="M816 2308l11-8-7-8-11 7zM834 2308l10-7-6-9-11 8zM851 2309l11-8-7-8-11 8zM869 2310l10-7-6-9-11 7zM932 2307l11-6-7-9-11 7zM950 2309l11-6-7-9-11 7z" fill="#1aff00"/>
<path d="M799 2307l10-8-6-8-11 8zM978 2305l11-6-7-9-11 6zM915 2306l10-7-7-9-10 7z" fill="#20ff00"/>
<path d="M879 2303l11-8-7-8-10 7zM897 2304l11-7-7-9-11 7zM961 2303l10-7-7-8-10 6z" fill="#26ff00"/>
<path d="M844 2301l11-8-7-8-10 7zM862 2301l11-7-7-8-11 7zM989 2299l11-6-7-9-11 6zM925 2299l11-7-7-9-11 7zM943 2301l11-7-7-8-11 6z" fill="#2dff00"/>
<path d="M971 2296l11-6-7-8-11 6zM908 2297l10-7-6-8-11 6z" fill="#33ff00"/>
<path d="M890 2295l11-7-7-8-11 7zM954 2294l10-6-6-9-11 7z" fill="#39ff00"/>
<path d="M893 2320l11-7-7-9-11 7zM911 2321l11-7-7-8-11 7z" fill="#00ff00"/>
<path d="M812 2324l11-8-7-8-10 8zM830 2325l11-8-7-9-11 8zM928 2323l11-7-7-9-10 7z" fill="#00ff06"/>
<path d="M847 2326l11-8-7-9-10 8zM865 2326l11-7-7-9-11 8zM882 2328l11-8-7-9-10 8zM946 2325l11-7-7-9-11 7z" fill="#00ff0d"/>
<path d="M900 2329l11-8-7-8-11 7z" fill="#00ff13"/>
<path d="M767 2333l11-9-7-8-11 8zM784 2333l11-9-7-8-10 8zM802 2333l10-9-6-8-11 8zM819 2333l11-8-7-9-11 8zM837 2334l10-8-6-9-11 8z" fill="#00ff1a"/>
<path d="M739 2342l11-9-7-9-11 9zM756 2341l11-8-7-9-10 9zM774 2341l10-8-6-9-11 9zM791 2341l11-8-7-9-11 9zM809 2341l10-8-7-9-10 9z" fill="#00ff2d"/>
<path d="M728 2351l11-9-7-9-10 9zM746 2350l10-9-6-8-11 9zM763 2350l11-9-7-8-11 8z" fill="#00ff40"/>
<path d="M711 2351l11-9-7-8-11 9z" fill="#00ff46"/>
<path d="M718 2360l10-9-6-9-11 9zM735 2359l11-9-7-8-11 9z" fill="#00ff53"/>
<path d="M683 2362l11-10-7-8-11 9zM700 2361l11-10-7-8-10 9z" fill="#00ff59"/>
<path d="M690 2370l10-9-6-9-11 10z" fill="#00ff6c"/>
<path d="M655 2373l11-10-7-8-10 9zM673 2372l10-10-7-9-10 10z" fill="#00ff73"/>
<path d="M662 2381l11-9-7-9-11 10z" fill="#00ff86"/>
<path d="M628 2384l10-10-7-8-10 10zM645 2383l10-10-6-9-11 10z" fill="#00ff8c"/>
<path d="M634 2393l11-10-7-9-10 10z" fill="#00ff9f"/>
<path d="M600 2396l10-10-6-8-11 10zM617 2394l11-10-7-8-11 10z" fill="#00ffa6"/>
<path d="M607 2405l10-11-7-8-10 10z" fill="#00ffb9"/>
<path d="M589 2407l11-11-7-8-10 10z" fill="#00ffbf"/>
<path d="M858 2318l11-8-7-9-11 8zM876 2319l10-8-7-8-10 7zM939 2316l11-7-7-8-11 6zM957 2318l11-6-7-9-11 6z" fill="#06ff00"/>
<path d="M922 2314l10-7-7-8-10 7z" fill="#0dff00"/>
<path d="M968 2312l10-7-7-9-10 7zM904 2313l11-7-7-9-11 7z" fill="#13ff00"/>
<path d="M918 2330l10-7-6-9-11 7z" fill="#00ff13"/>
<path d="M935 2332l11-7-7-9-11 7z" fill="#00ff1a"/>
<path d="M854 2334l11-8-7-8-11 8zM872 2335l10-7-6-9-11 7zM889 2337l11-8-7-9-11 8z" fill="#00ff20"/>
<path d="M907 2338l11-8-7-9-11 8zM925 2339l10-7-7-9-10 7z" fill="#00ff26"/>
<path d="M826 2342l11-8-7-9-11 8zM844 2342l10-8-7-8-10 8z" fill="#00ff2d"/>
<path d="M861 2343l11-8-7-9-11 8zM879 2344l10-7-7-9-10 7zM896 2346l11-8-7-9-11 8z" fill="#00ff33"/>
<path d="M914 2347l11-8-7-9-11 8z" fill="#00ff39"/>
<path d="M781 2350l10-9-7-8-10 8zM798 2350l11-9-7-8-11 8zM815 2350l11-8-7-9-10 8zM833 2351l11-9-7-8-11 8zM850 2351l11-8-7-9-10 8z" fill="#00ff40"/>
<path d="M752 2359l11-9-7-9-10 9zM770 2359l11-9-7-9-11 9zM787 2359l11-9-7-9-10 9zM805 2359l10-9-6-9-11 9z" fill="#00ff53"/>
<path d="M725 2369l10-10-7-8-10 9zM742 2368l10-9-6-9-11 9zM759 2368l11-9-7-9-11 9zM777 2368l10-9-6-9-11 9z" fill="#00ff66"/>
<path d="M707 2370l11-10-7-9-11 10z" fill="#00ff6c"/>
<path d="M731 2378l11-10-7-9-10 10z" fill="#00ff79"/>
<path d="M679 2380l11-10-7-8-10 10zM697 2379l10-9-7-9-10 9zM714 2378l11-9-7-9-11 10z" fill="#00ff80"/>
<path d="M686 2389l11-10-7-9-11 10zM703 2388l11-10-7-8-10 9z" fill="#00ff93"/>
<path d="M651 2391l11-10-7-8-10 10zM669 2390l10-10-6-8-11 9z" fill="#00ff99"/>
<path d="M658 2400l11-10-7-9-11 10zM675 2399l11-10-7-9-10 10z" fill="#00ffac"/>
<path d="M624 2403l10-10-6-9-11 10zM641 2401l10-10-6-8-11 10z" fill="#00ffb2"/>
<path d="M630 2412l11-11-7-8-10 10zM648 2410l10-10-7-9-10 10z" fill="#00ffc6"/>
<path d="M613 2413l11-10-7-9-10 11z" fill="#00ffcc"/>
<path d="M596 2415l11-10-7-9-11 11z" fill="#00ffd2"/>
<path d="M620 2422l10-10-6-9-11 10z" fill="#00ffdf"/>
<path d="M603 2424l10-11-6-8-11 10z" fill="#00ffe5"/>
<path d="M616 2441l10-10-6-9-11 10z" fill="#00f9ff"/>
<path d="M868 2352l11-8-7-9-11 8zM885 2353l11-7-7-9-10 7zM903 2355l11-8-7-9-11 8z" fill="#00ff46"/>
<path d="M822 2359l11-8-7-9-11 8zM840 2360l10-9-6-9-11 9zM857 2361l11-9-7-9-11 8z" fill="#00ff53"/>
<path d="M875 2361l10-8-6-9-11 8zM892 2363l11-8-7-9-11 7z" fill="#00ff59"/>
<path d="M794 2368l11-9-7-9-11 9zM812 2368l10-9-7-9-10 9zM829 2368l11-8-7-9-11 8zM846 2369l11-8-7-10-10 9zM864 2370l11-9-7-9-11 9z" fill="#00ff66"/>
<path d="M749 2377l10-9-7-9-10 9zM766 2377l11-9-7-9-11 9zM783 2377l11-9-7-9-10 9zM801 2377l11-9-7-9-11 9zM818 2377l11-9-7-9-10 9z" fill="#00ff79"/>
<path d="M738 2387l11-10-7-9-11 10zM755 2386l11-9-7-9-10 9zM773 2386l10-9-6-9-11 9z" fill="#00ff8c"/>
<path d="M721 2387l10-9-6-9-11 9z" fill="#00ff93"/>
<path d="M727 2396l11-9-7-9-10 9zM745 2396l10-10-6-9-11 10z" fill="#00ff9f"/>
<path d="M693 2398l10-10-6-9-11 10zM710 2397l11-10-7-9-11 10z" fill="#00ffa6"/>
<path d="M699 2407l11-10-7-9-10 10z" fill="#00ffb9"/>
<path d="M665 2409l10-10-6-9-11 10zM682 2408l11-10-7-9-11 10z" fill="#00ffbf"/>
<path d="M672 2418l10-10-7-9-10 10z" fill="#00ffd2"/>
<path d="M637 2420l11-10-7-9-11 11zM654 2419l11-10-7-9-10 10z" fill="#00ffd9"/>
<path d="M644 2429l10-10-6-9-11 10z" fill="#00ffec"/>
<path d="M609 2432l11-10-7-9-10 11zM626 2431l11-11-7-8-10 10z" fill="#00fff2"/>
<path d="M629 2459l11-10-7-9-10 10z" fill="#00d2ff"/>
<path d="M623 2450l10-10-7-9-10 10z" fill="#00e6ff"/>
<path d="M640 2449l10-11-6-9-11 11zM657 2447l11-10-7-9-11 10z" fill="#00ecff"/>
<path d="M633 2440l11-11-7-9-11 11z" fill="#00f9ff"/>
<path d="M882 2371l10-8-7-10-10 8z" fill="#00ff6c"/>
<path d="M836 2378l10-9-6-9-11 8zM853 2378l11-8-7-9-11 8z" fill="#00ff79"/>
<path d="M871 2379l11-8-7-10-11 9z" fill="#00ff80"/>
<path d="M790 2386l11-9-7-9-11 9zM808 2386l10-9-6-9-11 9zM825 2386l11-8-7-10-11 9zM843 2387l10-9-7-9-10 9zM860 2388l11-9-7-9-11 8z" fill="#00ff8c"/>
<path d="M762 2395l11-9-7-9-11 9zM779 2395l11-9-7-9-10 9zM797 2395l11-9-7-9-11 9zM814 2395l11-9-7-9-10 9zM832 2396l11-9-7-9-11 8z" fill="#00ff9f"/>
<path d="M734 2405l11-9-7-9-11 9zM751 2405l11-10-7-9-10 10zM769 2404l10-9-6-9-11 9zM786 2404l11-9-7-9-11 9z" fill="#00ffb2"/>
<path d="M717 2406l10-10-6-9-11 10z" fill="#00ffb9"/>
<path d="M706 2416l11-10-7-9-11 10zM723 2415l11-10-7-9-10 10zM741 2414l10-9-6-9-11 9z" fill="#00ffcc"/>
<path d="M689 2417l10-10-6-9-11 10z" fill="#00ffd2"/>
<path d="M695 2426l11-10-7-9-10 10zM713 2425l10-10-6-9-11 10z" fill="#00ffdf"/>
<path d="M661 2428l11-10-7-9-11 10zM678 2427l11-10-7-9-10 10z" fill="#00ffe5"/>
<path d="M668 2437l10-10-6-9-11 10zM685 2436l10-10-6-9-11 10z" fill="#00fff9"/>
<path d="M650 2438l11-10-7-9-10 10z" fill="#00ffff"/>
<path d="M636 2469l10-11-6-9-11 10z" fill="#00bfff"/>
<path d="M653 2467l11-10-7-10-11 11z" fill="#00c6ff"/>
<path d="M646 2458l11-11-7-9-10 11zM664 2457l10-11-6-9-11 10z" fill="#00d9ff"/>
<path d="M681 2456l11-11-7-9-11 10z" fill="#00dfff"/>
<path d="M674 2446l11-10-7-9-10 10zM692 2445l10-10-7-9-10 10zM709 2444l10-10-6-9-11 10z" fill="#00f2ff"/>
<path d="M726 2444l11-10-7-10-11 10z" fill="#00f9ff"/>
<path d="M849 2396l11-8-7-10-10 9z" fill="#00ff9f"/>
<path d="M804 2404l10-9-6-9-11 9zM821 2405l11-9-7-10-11 9zM839 2405l10-9-6-9-11 9z" fill="#00ffb2"/>
<path d="M758 2414l11-10-7-9-11 10zM776 2414l10-10-7-9-10 9zM793 2414l11-10-7-9-11 9zM810 2414l11-9-7-10-10 9zM828 2414l11-9-7-9-11 9z" fill="#00ffc6"/>
<path d="M765 2423l11-9-7-10-11 10zM782 2423l11-9-7-10-10 10z" fill="#00ffd9"/>
<path d="M730 2424l11-10-7-9-11 10zM747 2424l11-10-7-9-10 9z" fill="#00ffdf"/>
<path d="M719 2434l11-10-7-9-10 10zM737 2434l10-10-6-10-11 10zM754 2433l11-10-7-9-11 10z" fill="#00fff2"/>
<path d="M702 2435l11-10-7-9-11 10z" fill="#00fff9"/>
<path d="M649 2487l11-10-7-10-11 11zM666 2486l11-11-7-9-10 11z" fill="#0099ff"/>
<path d="M642 2478l11-11-7-9-10 11z" fill="#00acff"/>
<path d="M660 2477l10-11-6-9-11 10zM677 2475l11-10-7-9-11 10zM694 2474l11-10-7-9-10 10z" fill="#00b2ff"/>
<path d="M670 2466l11-10-7-10-10 11z" fill="#00c6ff"/>
<path d="M688 2465l10-10-6-10-11 11zM705 2464l10-10-6-10-11 11zM722 2463l11-10-7-9-11 10z" fill="#00ccff"/>
<path d="M698 2455l11-11-7-9-10 10zM715 2454l11-10-7-10-10 10z" fill="#00dfff"/>
<path d="M733 2453l10-10-6-9-11 10zM750 2453l11-10-7-10-11 10zM768 2452l10-10-6-9-11 10z" fill="#00e6ff"/>
<path d="M743 2443l11-10-7-9-10 10zM761 2443l11-10-7-10-11 10zM778 2442l11-9-7-10-10 10zM796 2442l10-9-6-10-11 10z" fill="#00f9ff"/>
<path d="M800 2423l10-9-6-10-11 10zM817 2423l11-9-7-9-11 9z" fill="#00ffd9"/>
<path d="M772 2433l10-10-6-9-11 9zM789 2433l11-10-7-9-11 9zM806 2433l11-10-7-9-10 9z" fill="#00ffec"/>
<path d="M662 2506l11-10-7-10-10 11z" fill="#0073ff"/>
<path d="M656 2497l10-11-6-9-11 10zM673 2496l11-11-7-10-11 11z" fill="#0086ff"/>
<path d="M690 2494l11-10-7-10-10 11z" fill="#008cff"/>
<path d="M684 2485l10-11-6-9-11 10zM701 2484l10-10-6-10-11 10z" fill="#009fff"/>
<path d="M718 2483l11-10-7-10-11 11zM735 2482l11-10-7-9-10 10z" fill="#00a6ff"/>
<path d="M711 2474l11-11-7-9-10 10zM729 2473l10-10-6-10-11 10zM746 2472l11-10-7-9-11 10z" fill="#00b9ff"/>
<path d="M764 2472l10-10-6-10-11 10z" fill="#00bfff"/>
<path d="M739 2463l11-10-7-10-10 10zM757 2462l11-10-7-9-11 10zM774 2462l11-10-7-10-10 10z" fill="#00d2ff"/>
<path d="M785 2452l11-10-7-9-11 9z" fill="#00e6ff"/>
<path d="M675 2526l11-11-6-10-11 11z" fill="#004cff"/>
<path d="M669 2516l11-11-7-9-11 10zM686 2515l11-11-7-10-10 11z" fill="#0060ff"/>
<path d="M703 2514l11-11-7-9-10 10z" fill="#0066ff"/>
<path d="M680 2505l10-11-6-9-11 11z" fill="#0073ff"/>
<path d="M697 2504l10-10-6-10-11 10zM714 2503l11-10-7-10-11 11z" fill="#0079ff"/>
<path d="M731 2503l11-11-7-10-10 11z" fill="#0080ff"/>
<path d="M707 2494l11-11-7-9-10 10z" fill="#008cff"/>
<path d="M725 2493l10-11-6-9-11 10zM742 2492l11-10-7-10-11 10z" fill="#0093ff"/>
<path d="M753 2482l11-10-7-10-11 10z" fill="#00a6ff"/>
<path d="M682 2535l11-10-7-10-11 11zM699 2534l11-10-7-10-10 11z" fill="#0039ff"/>
<path d="M693 2525l10-11-6-10-11 11z" fill="#004cff"/>
<path d="M710 2524l11-11-7-10-11 11z" fill="#0053ff"/>
<path d="M721 2513l10-10-6-10-11 10z" fill="#0066ff"/>
<path d="M689 2545l10-11-6-9-11 10z" fill="#0020ff"/>
</g>
<ellipse cx="112.1" cy="1139.7" rx="6.2" ry="4.8" fill="#f5c8c8" stroke="#8a4848" stroke-width="1.2"/>
<ellipse cx="719.6" cy="1142.1" rx="6" ry="4.6" fill="#f00" stroke="#a00" stroke-width="1"/>
<ellipse cx="344.3" cy="1283.2" rx="6.2" ry="4.8" fill="#f5c8c8" stroke="#8a4848" stroke-width="1.2"/>
<ellipse cx="408.7" cy="1038.9" rx="6" ry="4.6" fill="#f00" stroke="#a00" stroke-width="1"/>
<g id="t0" transform="matrix(1.2061 0 0 1.0769 29.54 11.77)"><text transform="scale(1.5 1) rotate(0)" x="0" y="10.1" text-anchor="middle" font-family="'Liberation Sans',sans-serif" font-weight="bold" font-style="normal" font-size="28">(a)</text></g>
<g id="t1" transform="matrix(1.1921 0 0 1.0758 30.20 516.67)"><text transform="scale(1.5 1) rotate(0)" x="0" y="10.1" text-anchor="middle" font-family="'Liberation Sans',sans-serif" font-weight="bold" font-style="normal" font-size="28">(b)</text></g>
<g id="t2" transform="matrix(1.1966 0 0 1.0083 29.81 1002.82)"><text transform="scale(1.5 1) rotate(0)" x="0" y="10.1" text-anchor="middle" font-family="'Liberation Sans',sans-serif" font-weight="bold" font-style="normal" font-size="28">(c)</text></g>
<g id="t3" transform="matrix(1.0378 0 0 1.0431 82.16 294.78)"><text transform="scale(1.5 1) rotate(0)" x="0" y="6.5" text-anchor="middle" font-family="'Liberation Serif',serif" font-weight="bold" font-style="normal" font-size="18" stroke="#000" stroke-width="0.7" letter-spacing="1">70</text></g>
<g id="t4" transform="matrix(1.1142 0 0 1.0238 84.20 240.41)"><text transform="scale(1.5 1) rotate(0)" x="0" y="6.5" text-anchor="middle" font-family="'Liberation Serif',serif" font-weight="bold" font-style="normal" font-size="18" stroke="#000" stroke-width="0.7" letter-spacing="1">75</text></g>
<g id="t5" transform="matrix(1.0744 0 0 1.0000 83.37 189.70)"><text transform="scale(1.5 1) rotate(0)" x="0" y="6.5" text-anchor="middle" font-family="'Liberation Serif',serif" font-weight="bold" font-style="normal" font-size="18" stroke="#000" stroke-width="0.7" letter-spacing="1">80</text></g>
<g id="t6" transform="matrix(1.0833 0 0 1.0000 82.35 137.94)"><text transform="scale(1.5 1) rotate(0)" x="0" y="6.5" text-anchor="middle" font-family="'Liberation Serif',serif" font-weight="bold" font-style="normal" font-size="18" stroke="#000" stroke-width="0.7" letter-spacing="1">85</text></g>
<g id="t7" transform="matrix(1.0958 0 0 1.0938 82.81 85.23)"><text transform="scale(1.5 1) rotate(0)" x="0" y="6.5" text-anchor="middle" font-family="'Liberation Serif',serif" font-weight="bold" font-style="normal" font-size="18" stroke="#000" stroke-width="0.7" letter-spacing="1">90</text></g>
<g id="t8" transform="matrix(1.0958 0 0 1.0748 82.81 32.50)"><text transform="scale(1.5 1) rotate(0)" x="0" y="6.5" text-anchor="middle" font-family="'Liberation Serif',serif" font-weight="bold" font-style="normal" font-size="18" stroke="#000" stroke-width="0.7" letter-spacing="1">95</text></g>
<g id="t9" transform="matrix(1.1647 0 0 1.0255 95.15 796.05)"><text transform="scale(1.5 1) rotate(0)" x="0" y="5.4" text-anchor="middle" font-family="'Liberation Sans',sans-serif" font-weight="normal" font-style="normal" font-size="15" stroke="#000" stroke-width="0.3" letter-spacing="0.5">70</text></g>
<g id="t10" transform="matrix(1.1431 0 0 1.0926 93.65 745.45)"><text transform="scale(1.5 1) rotate(0)" x="0" y="5.4" text-anchor="middle" font-family="'Liberation Sans',sans-serif" font-weight="normal" font-style="normal" font-size="15" stroke="#000" stroke-width="0.3" letter-spacing="0.5">75</text></g>
<g id="t11" transform="matrix(1.1468 0 0 1.0814 93.36 689.88)"><text transform="scale(1.5 1) rotate(0)" x="0" y="5.4" text-anchor="middle" font-family="'Liberation Sans',sans-serif" font-weight="normal" font-style="normal" font-size="15" stroke="#000" stroke-width="0.3" letter-spacing="0.5">80</text></g>
<g id="t12" transform="matrix(1.2543 0 0 1.0925 92.47 638.47)"><text transform="scale(1.5 1) rotate(0)" x="0" y="5.4" text-anchor="middle" font-family="'Liberation Sans',sans-serif" font-weight="normal" font-style="normal" font-size="15" stroke="#000" stroke-width="0.3" letter-spacing="0.5">85</text></g>
<g id="t13" transform="matrix(1.1774 0 0 1.0255 91.72 586.08)"><text transform="scale(1.5 1) rotate(0)" x="0" y="5.4" text-anchor="middle" font-family="'Liberation Sans',sans-serif" font-weight="normal" font-style="normal" font-size="15" stroke="#000" stroke-width="0.3" letter-spacing="0.5">90</text></g>
<g id="t14" transform="matrix(1.1703 0 0 1.0255 89.90 534.14)"><text transform="scale(1.5 1) rotate(0)" x="0" y="5.4" text-anchor="middle" font-family="'Liberation Sans',sans-serif" font-weight="normal" font-style="normal" font-size="15" stroke="#000" stroke-width="0.3" letter-spacing="0.5">95</text></g>
<g id="t15" transform="matrix(1.1474 0 0 1.0926 91.91 1269.39)"><text transform="scale(1.5 1) rotate(0)" x="0" y="5.4" text-anchor="middle" font-family="'Liberation Sans',sans-serif" font-weight="normal" font-style="normal" font-size="15" stroke="#000" stroke-width="0.3" letter-spacing="0.5">70</text></g>
<g id="t16" transform="matrix(1.1785 0 0 1.0812 90.22 1220.88)"><text transform="scale(1.5 1) rotate(0)" x="0" y="5.4" text-anchor="middle" font-family="'Liberation Sans',sans-serif" font-weight="normal" font-style="normal" font-size="15" stroke="#000" stroke-width="0.3" letter-spacing="0.5">75</text></g>
<g id="t17" transform="matrix(1.1909 0 0 1.0536 89.73 1172.06)"><text transform="scale(1.5 1) rotate(0)" x="0" y="5.4" text-anchor="middle" font-family="'Liberation Sans',sans-serif" font-weight="normal" font-style="normal" font-size="15" stroke="#000" stroke-width="0.3" letter-spacing="0.5">80</text></g>
<g id="t18" transform="matrix(1.1881 0 0 1.0536 89.49 1122.46)"><text transform="scale(1.5 1) rotate(0)" x="0" y="5.4" text-anchor="middle" font-family="'Liberation Sans',sans-serif" font-weight="normal" font-style="normal" font-size="15" stroke="#000" stroke-width="0.3" letter-spacing="0.5">85</text></g>
<g id="t19" transform="matrix(1.1577 0 0 1.0812 86.65 1073.51)"><text transform="scale(1.5 1) rotate(0)" x="0" y="5.4" text-anchor="middle" font-family="'Liberation Sans',sans-serif" font-weight="normal" font-style="normal" font-size="15" stroke="#000" stroke-width="0.3" letter-spacing="0.5">90</text></g>
<g id="t20" transform="matrix(1.1474 0 0 1.0536 87.91 1023.16)"><text transform="scale(1.5 1) rotate(0)" x="0" y="5.4" text-anchor="middle" font-family="'Liberation Sans',sans-serif" font-weight="normal" font-style="normal" font-size="15" stroke="#000" stroke-width="0.3" letter-spacing="0.5">95</text></g>
<g id="t21" transform="matrix(1.1361 0 0 1.0644 73.94 380.97)"><text transform="scale(1.5 1) rotate(0)" x="0" y="6.1" text-anchor="middle" font-family="'Liberation Serif',serif" font-weight="bold" font-style="normal" font-size="17" stroke="#000" stroke-width="0.7" letter-spacing="1">1.00</text></g>
<g id="t22" transform="matrix(1.0980 0 0 1.0644 153.43 402.32)"><text transform="scale(1.5 1) rotate(0)" x="0" y="6.1" text-anchor="middle" font-family="'Liberation Serif',serif" font-weight="bold" font-style="normal" font-size="17" stroke="#000" stroke-width="0.7" letter-spacing="1">0.50</text></g>
<g id="t23" transform="matrix(1.0975 0 0 1.0644 226.77 414.90)"><text transform="scale(1.5 1) rotate(0)" x="0" y="6.1" text-anchor="middle" font-family="'Liberation Serif',serif" font-weight="bold" font-style="normal" font-size="17" stroke="#000" stroke-width="0.7" letter-spacing="1">0.00</text></g>
<g id="t24" transform="matrix(1.0746 0 0 1.0644 299.61 426.90)"><text transform="scale(1.5 1) rotate(0)" x="0" y="6.1" text-anchor="middle" font-family="'Liberation Serif',serif" font-weight="bold" font-style="normal" font-size="17" stroke="#000" stroke-width="0.7" letter-spacing="1">-0.50</text></g>
<g id="t25" transform="matrix(1.0976 0 0 1.0644 371.33 437.90)"><text transform="scale(1.5 1) rotate(0)" x="0" y="6.1" text-anchor="middle" font-family="'Liberation Serif',serif" font-weight="bold" font-style="normal" font-size="17" stroke="#000" stroke-width="0.7" letter-spacing="1">-1.00</text></g>
<g id="t26" transform="matrix(1.0913 0 0 1.0644 447.19 437.90)"><text transform="scale(1.5 1) rotate(0)" x="0" y="6.1" text-anchor="middle" font-family="'Liberation Serif',serif" font-weight="bold" font-style="normal" font-size="17" stroke="#000" stroke-width="0.7" letter-spacing="1">-1.00</text></g>
<g id="t27" transform="matrix(1.0588 0 0 1.0644 533.54 423.32)"><text transform="scale(1.5 1) rotate(0)" x="0" y="6.1" text-anchor="middle" font-family="'Liberation Serif',serif" font-weight="bold" font-style="normal" font-size="17" stroke="#000" stroke-width="0.7" letter-spacing="1">-0.50</text></g>
<g id="t28" transform="matrix(1.0961 0 0 1.0644 612.93 410.66)"><text transform="scale(1.5 1) rotate(0)" x="0" y="6.1" text-anchor="middle" font-family="'Liberation Serif',serif" font-weight="bold" font-style="normal" font-size="17" stroke="#000" stroke-width="0.7" letter-spacing="1">0.00</text></g>
<g id="t29" transform="matrix(1.0963 0 0 1.0644 684.24 400.66)"><text transform="scale(1.5 1) rotate(0)" x="0" y="6.1" text-anchor="middle" font-family="'Liberation Serif',serif" font-weight="bold" font-style="normal" font-size="17" stroke="#000" stroke-width="0.7" letter-spacing="1">0.50</text></g>
<g id="t30" transform="matrix(1.1502 0 0 1.0644 755.93 380.66)"><text transform="scale(1.5 1) rotate(0)" x="0" y="6.1" text-anchor="middle" font-family="'Liberation Serif',serif" font-weight="bold" font-style="normal" font-size="17" stroke="#000" stroke-width="0.7" letter-spacing="1">1.00</text></g>
<g id="t31" transform="matrix(1.1686 0 0 1.1260 84.90 880.33)"><text transform="scale(1.5 1) rotate(0)" x="0" y="5.4" text-anchor="middle" font-family="'Liberation Sans',sans-serif" font-weight="normal" font-style="normal" font-size="15" stroke="#000" stroke-width="0.3" letter-spacing="0.5">1.00</text></g>
<g id="t32" transform="matrix(1.1927 0 0 1.0631 192.56 900.74)"><text transform="scale(1.5 1) rotate(0)" x="0" y="5.4" text-anchor="middle" font-family="'Liberation Sans',sans-serif" font-weight="normal" font-style="normal" font-size="15" stroke="#000" stroke-width="0.3" letter-spacing="0.5">0.50</text></g>
<g id="t33" transform="matrix(1.2431 0 0 1.1260 306.03 908.42)"><text transform="scale(1.5 1) rotate(0)" x="0" y="5.4" text-anchor="middle" font-family="'Liberation Sans',sans-serif" font-weight="normal" font-style="normal" font-size="15" stroke="#000" stroke-width="0.3" letter-spacing="0.5">0.00</text></g>
<g id="t34" transform="matrix(1.1197 0 0 1.1260 411.41 915.53)"><text transform="scale(1.5 1) rotate(0)" x="0" y="5.4" text-anchor="middle" font-family="'Liberation Sans',sans-serif" font-weight="normal" font-style="normal" font-size="15" stroke="#000" stroke-width="0.3" letter-spacing="0.5">-0.50</text></g>
<g id="t35" transform="matrix(1.0827 0 0 1.0633 515.90 924.83)"><text transform="scale(1.5 1) rotate(0)" x="0" y="5.4" text-anchor="middle" font-family="'Liberation Sans',sans-serif" font-weight="normal" font-style="normal" font-size="15" stroke="#000" stroke-width="0.3" letter-spacing="0.5">-1.00</text></g>
<g id="t36" transform="matrix(1.0955 0 0 1.0168 601.20 915.09)"><text transform="scale(1.5 1) rotate(0)" x="0" y="5.4" text-anchor="middle" font-family="'Liberation Sans',sans-serif" font-weight="normal" font-style="normal" font-size="15" stroke="#000" stroke-width="0.3" letter-spacing="0.5">-1.00</text></g>
<g id="t37" transform="matrix(1.0691 0 0 1.0464 634.54 899.01)"><text transform="scale(1.5 1) rotate(0)" x="0" y="5.4" text-anchor="middle" font-family="'Liberation Sans',sans-serif" font-weight="normal" font-style="normal" font-size="15" stroke="#000" stroke-width="0.3" letter-spacing="0.5">-0.50</text></g>
<g id="t38" transform="matrix(1.1556 0 0 0.9630 674.77 884.45)"><text transform="scale(1.5 1) rotate(0)" x="0" y="5.4" text-anchor="middle" font-family="'Liberation Sans',sans-serif" font-weight="normal" font-style="normal" font-size="15" stroke="#000" stroke-width="0.3" letter-spacing="0.5">0.00</text></g>
<g id="t39" transform="matrix(1.1440 0 0 1.0000 711.53 867.56)"><text transform="scale(1.5 1) rotate(0)" x="0" y="5.4" text-anchor="middle" font-family="'Liberation Sans',sans-serif" font-weight="normal" font-style="normal" font-size="15" stroke="#000" stroke-width="0.3" letter-spacing="0.5">0.50</text></g>
<g id="t40" transform="matrix(1.1230 0 0 1.0168 740.34 846.81)"><text transform="scale(1.5 1) rotate(0)" x="0" y="5.4" text-anchor="middle" font-family="'Liberation Sans',sans-serif" font-weight="normal" font-style="normal" font-size="15" stroke="#000" stroke-width="0.3" letter-spacing="0.5">1.00</text></g>
<g id="t41" transform="matrix(1.1815 0 0 0.9880 82.60 1349.23)"><text transform="scale(1.5 1) rotate(0)" x="0" y="5.4" text-anchor="middle" font-family="'Liberation Sans',sans-serif" font-weight="normal" font-style="normal" font-size="15" stroke="#000" stroke-width="0.3" letter-spacing="0.5">1.00</text></g>
<g id="t42" transform="matrix(1.1556 0 0 1.0255 131.76 1370.53)"><text transform="scale(1.5 1) rotate(0)" x="0" y="5.4" text-anchor="middle" font-family="'Liberation Sans',sans-serif" font-weight="normal" font-style="normal" font-size="15" stroke="#000" stroke-width="0.3" letter-spacing="0.5">0.50</text></g>
<g id="t43" transform="matrix(1.1556 0 0 0.8794 190.07 1383.49)"><text transform="scale(1.5 1) rotate(0)" x="0" y="5.4" text-anchor="middle" font-family="'Liberation Sans',sans-serif" font-weight="normal" font-style="normal" font-size="15" stroke="#000" stroke-width="0.3" letter-spacing="0.5">0.00</text></g>
<g id="t44" transform="matrix(0.9990 0 0 0.9880 245.13 1398.24)"><text transform="scale(1.5 1) rotate(0)" x="0" y="5.4" text-anchor="middle" font-family="'Liberation Sans',sans-serif" font-weight="normal" font-style="normal" font-size="15" stroke="#000" stroke-width="0.3" letter-spacing="0.5">-0.50</text></g>
<g id="t45" transform="matrix(1.0863 0 0 1.0633 297.94 1411.83)"><text transform="scale(1.5 1) rotate(0)" x="0" y="5.4" text-anchor="middle" font-family="'Liberation Sans',sans-serif" font-weight="normal" font-style="normal" font-size="15" stroke="#000" stroke-width="0.3" letter-spacing="0.5">-1.00</text></g>
<g id="t46" transform="matrix(1.0750 0 0 1.0633 387.49 1411.83)"><text transform="scale(1.5 1) rotate(0)" x="0" y="5.4" text-anchor="middle" font-family="'Liberation Sans',sans-serif" font-weight="normal" font-style="normal" font-size="15" stroke="#000" stroke-width="0.3" letter-spacing="0.5">-1.00</text></g>
<g id="t47" transform="matrix(1.1456 0 0 1.2723 482.27 1401.77)"><text transform="scale(1.5 1) rotate(0)" x="0" y="5.4" text-anchor="middle" font-family="'Liberation Sans',sans-serif" font-weight="normal" font-style="normal" font-size="15" stroke="#000" stroke-width="0.3" letter-spacing="0.5">-0.50</text></g>
<g id="t48" transform="matrix(1.1427 0 0 1.2761 565.49 1392.85)"><text transform="scale(1.5 1) rotate(0)" x="0" y="5.4" text-anchor="middle" font-family="'Liberation Sans',sans-serif" font-weight="normal" font-style="normal" font-size="15" stroke="#000" stroke-width="0.3" letter-spacing="0.5">0.00</text></g>
<g id="t49" transform="matrix(1.1928 0 0 1.1393 662.38 1383.91)"><text transform="scale(1.5 1) rotate(0)" x="0" y="5.4" text-anchor="middle" font-family="'Liberation Sans',sans-serif" font-weight="normal" font-style="normal" font-size="15" stroke="#000" stroke-width="0.3" letter-spacing="0.5">0.50</text></g>
<g id="t50" transform="matrix(1.1780 0 0 1.1393 751.35 1364.34)"><text transform="scale(1.5 1) rotate(0)" x="0" y="5.4" text-anchor="middle" font-family="'Liberation Sans',sans-serif" font-weight="normal" font-style="normal" font-size="15" stroke="#000" stroke-width="0.3" letter-spacing="0.5">1.00</text></g>
<g id="t51" transform="matrix(0.9919 0 0 1.0332 23.92 213.15)"><text transform="scale(1.63 1) rotate(-90)" x="0" y="9" text-anchor="middle" font-family="'Liberation Sans',sans-serif" font-weight="bold" font-style="normal" font-size="24.9">R (%)</text></g>
<g id="t52" transform="matrix(1.0018 0 0 1.0533 30.98 707.02)"><text transform="scale(1.71 1) rotate(-90)" x="0" y="8.4" text-anchor="middle" font-family="'Liberation Sans',sans-serif" font-weight="bold" font-style="normal" font-size="23.3">R (%)</text></g>
<g id="t53" transform="matrix(1.0018 0 0 1.0529 30.98 1186.87)"><text transform="scale(1.71 1) rotate(-90)" x="0" y="8.4" text-anchor="middle" font-family="'Liberation Sans',sans-serif" font-weight="bold" font-style="normal" font-size="23.3">R (%)</text></g>
<g id="t54" transform="matrix(1.0477 0 0 1.0437 229.79 448.10)"><text transform="scale(1.55 1) rotate(14.2)" x="0" y="9" text-anchor="middle" font-family="'Liberation Sans',sans-serif" font-weight="bold" font-style="normal" font-size="25">B (times)</text></g>
<g id="t55" transform="matrix(1.0465 0 0 0.9887 626.40 435.37)"><text transform="scale(1.55 1) rotate(-13.8)" x="0" y="9" text-anchor="middle" font-family="'Liberation Sans',sans-serif" font-weight="bold" font-style="normal" font-size="25">A (min)</text></g>
<g id="t56" transform="matrix(1.1697 0 0 1.1034 328.50 935.24)"><text transform="scale(1.55 1) rotate(5.5)" x="0" y="7.9" text-anchor="middle" font-family="'Liberation Sans',sans-serif" font-weight="bold" font-style="normal" font-size="22">C (mL/mL)</text></g>
<g id="t57" transform="matrix(1.1546 0 0 1.1030 715.08 898.26)"><text transform="scale(1.55 1) rotate(-38)" x="0" y="7.9" text-anchor="middle" font-family="'Liberation Sans',sans-serif" font-weight="bold" font-style="normal" font-size="22">A (min)</text></g>
<g id="t58" transform="matrix(1.1670 0 0 1.0665 172.97 1411.31)"><text transform="scale(1.55 1) rotate(22)" x="0" y="7.9" text-anchor="middle" font-family="'Liberation Sans',sans-serif" font-weight="bold" font-style="normal" font-size="22">C (mL/mL)</text></g>
<g id="t59" transform="matrix(1.0442 0 0 0.9408 587.00 1414.93)"><text transform="scale(1.55 1) rotate(-9.5)" x="0" y="7.9" text-anchor="middle" font-family="'Liberation Sans',sans-serif" font-weight="bold" font-style="normal" font-size="22">B (time)</text></g>
</svg>
</body></html>
